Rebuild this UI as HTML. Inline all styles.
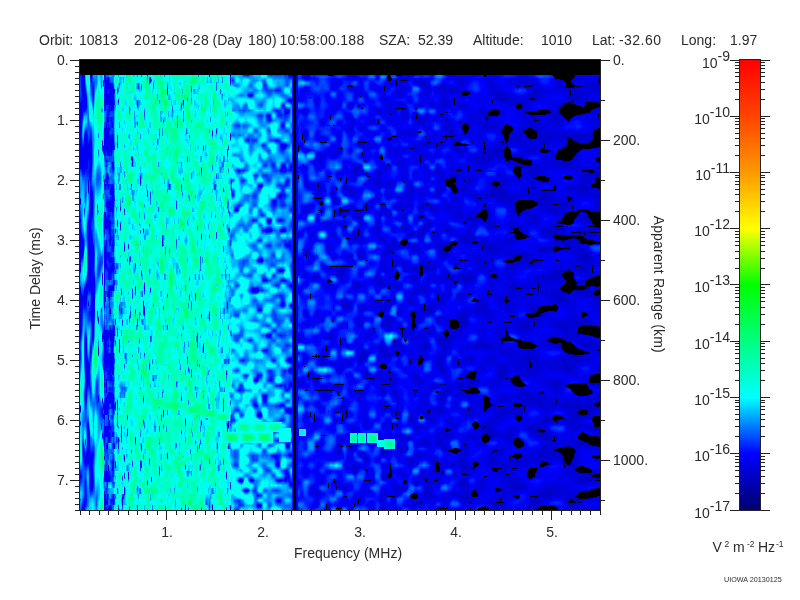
<!DOCTYPE html>
<html><head><meta charset="utf-8"><style>
html,body{margin:0;padding:0;background:#fff;width:800px;height:600px;overflow:hidden}
#spec{position:absolute;left:80px;top:60px;width:520px;height:450px;background:
linear-gradient(to bottom,#000 0,#000 15px,transparent 15px),
linear-gradient(to right,#0061f8 0px,#0061f8 8px,#006bf7 8px,#006bf7 16px,#00c9e9 16px,#00c9e9 24px,#002bfa 24px,#002bfa 34px,#00e7df 34px,#00e7df 60px,#00f3d1 60px,#00f3d1 90px,#00f6ce 90px,#00f6ce 120px,#00f0da 120px,#00f0da 150px,#00c4f9 150px,#00c4f9 165px,#00bafa 165px,#00bafa 180px,#00a6fb 180px,#00a6fb 195px,#007dfd 195px,#007dfd 213px,#000000 213px,#000000 216px,#0021f5 216px,#0021f5 250px,#0019ef 250px,#0019ef 290px,#0010e9 290px,#0010e9 340px,#0007e1 340px,#0007e1 380px,#0002d9 380px,#0002d9 420px,#0001ca 420px,#0001ca 460px,#0000c3 460px,#0000c3 490px,#0000ac 490px,#0000ac 520px)}
canvas{position:absolute;left:80px;top:60px}
svg{position:absolute;left:0;top:0}
text{font-family:"Liberation Sans",sans-serif;fill:#2b2b2b}
</style></head><body>
<div id="spec"></div><canvas id="cv" width="520" height="450"></canvas>
<svg width="800" height="600" viewBox="0 0 800 600"><defs><linearGradient id="cb" x1="0" y1="0" x2="0" y2="1"><stop offset="0" stop-color="#ff0000"/><stop offset="0.125" stop-color="#ff4400"/><stop offset="0.25" stop-color="#ff9900"/><stop offset="0.375" stop-color="#ffff00"/><stop offset="0.5" stop-color="#00ff00"/><stop offset="0.625" stop-color="#00ff80"/><stop offset="0.75" stop-color="#00ffff"/><stop offset="0.875" stop-color="#0000ff"/><stop offset="1" stop-color="#000070"/></linearGradient></defs><rect x="79.5" y="59.5" width="521" height="451" fill="none" stroke="#222" stroke-width="1"/><line x1="70" y1="60.5" x2="80" y2="60.5" stroke="#222" stroke-width="1"/><line x1="75" y1="66.5" x2="80" y2="66.5" stroke="#222" stroke-width="1"/><line x1="75" y1="72.5" x2="80" y2="72.5" stroke="#222" stroke-width="1"/><line x1="75" y1="78.5" x2="80" y2="78.5" stroke="#222" stroke-width="1"/><line x1="75" y1="84.5" x2="80" y2="84.5" stroke="#222" stroke-width="1"/><line x1="75" y1="90.5" x2="80" y2="90.5" stroke="#222" stroke-width="1"/><line x1="75" y1="96.5" x2="80" y2="96.5" stroke="#222" stroke-width="1"/><line x1="75" y1="102.5" x2="80" y2="102.5" stroke="#222" stroke-width="1"/><line x1="75" y1="108.5" x2="80" y2="108.5" stroke="#222" stroke-width="1"/><line x1="75" y1="114.5" x2="80" y2="114.5" stroke="#222" stroke-width="1"/><line x1="70" y1="120.5" x2="80" y2="120.5" stroke="#222" stroke-width="1"/><line x1="75" y1="126.5" x2="80" y2="126.5" stroke="#222" stroke-width="1"/><line x1="75" y1="132.5" x2="80" y2="132.5" stroke="#222" stroke-width="1"/><line x1="75" y1="138.5" x2="80" y2="138.5" stroke="#222" stroke-width="1"/><line x1="75" y1="144.5" x2="80" y2="144.5" stroke="#222" stroke-width="1"/><line x1="75" y1="150.5" x2="80" y2="150.5" stroke="#222" stroke-width="1"/><line x1="75" y1="156.5" x2="80" y2="156.5" stroke="#222" stroke-width="1"/><line x1="75" y1="162.5" x2="80" y2="162.5" stroke="#222" stroke-width="1"/><line x1="75" y1="168.5" x2="80" y2="168.5" stroke="#222" stroke-width="1"/><line x1="75" y1="174.5" x2="80" y2="174.5" stroke="#222" stroke-width="1"/><line x1="70" y1="180.5" x2="80" y2="180.5" stroke="#222" stroke-width="1"/><line x1="75" y1="186.5" x2="80" y2="186.5" stroke="#222" stroke-width="1"/><line x1="75" y1="192.5" x2="80" y2="192.5" stroke="#222" stroke-width="1"/><line x1="75" y1="198.5" x2="80" y2="198.5" stroke="#222" stroke-width="1"/><line x1="75" y1="204.5" x2="80" y2="204.5" stroke="#222" stroke-width="1"/><line x1="75" y1="210.5" x2="80" y2="210.5" stroke="#222" stroke-width="1"/><line x1="75" y1="216.5" x2="80" y2="216.5" stroke="#222" stroke-width="1"/><line x1="75" y1="222.5" x2="80" y2="222.5" stroke="#222" stroke-width="1"/><line x1="75" y1="228.5" x2="80" y2="228.5" stroke="#222" stroke-width="1"/><line x1="75" y1="234.5" x2="80" y2="234.5" stroke="#222" stroke-width="1"/><line x1="70" y1="240.5" x2="80" y2="240.5" stroke="#222" stroke-width="1"/><line x1="75" y1="246.5" x2="80" y2="246.5" stroke="#222" stroke-width="1"/><line x1="75" y1="252.5" x2="80" y2="252.5" stroke="#222" stroke-width="1"/><line x1="75" y1="258.5" x2="80" y2="258.5" stroke="#222" stroke-width="1"/><line x1="75" y1="264.5" x2="80" y2="264.5" stroke="#222" stroke-width="1"/><line x1="75" y1="270.5" x2="80" y2="270.5" stroke="#222" stroke-width="1"/><line x1="75" y1="276.5" x2="80" y2="276.5" stroke="#222" stroke-width="1"/><line x1="75" y1="282.5" x2="80" y2="282.5" stroke="#222" stroke-width="1"/><line x1="75" y1="288.5" x2="80" y2="288.5" stroke="#222" stroke-width="1"/><line x1="75" y1="294.5" x2="80" y2="294.5" stroke="#222" stroke-width="1"/><line x1="70" y1="300.5" x2="80" y2="300.5" stroke="#222" stroke-width="1"/><line x1="75" y1="306.5" x2="80" y2="306.5" stroke="#222" stroke-width="1"/><line x1="75" y1="312.5" x2="80" y2="312.5" stroke="#222" stroke-width="1"/><line x1="75" y1="318.5" x2="80" y2="318.5" stroke="#222" stroke-width="1"/><line x1="75" y1="324.5" x2="80" y2="324.5" stroke="#222" stroke-width="1"/><line x1="75" y1="330.5" x2="80" y2="330.5" stroke="#222" stroke-width="1"/><line x1="75" y1="336.5" x2="80" y2="336.5" stroke="#222" stroke-width="1"/><line x1="75" y1="342.5" x2="80" y2="342.5" stroke="#222" stroke-width="1"/><line x1="75" y1="348.5" x2="80" y2="348.5" stroke="#222" stroke-width="1"/><line x1="75" y1="354.5" x2="80" y2="354.5" stroke="#222" stroke-width="1"/><line x1="70" y1="360.5" x2="80" y2="360.5" stroke="#222" stroke-width="1"/><line x1="75" y1="366.5" x2="80" y2="366.5" stroke="#222" stroke-width="1"/><line x1="75" y1="372.5" x2="80" y2="372.5" stroke="#222" stroke-width="1"/><line x1="75" y1="378.5" x2="80" y2="378.5" stroke="#222" stroke-width="1"/><line x1="75" y1="384.5" x2="80" y2="384.5" stroke="#222" stroke-width="1"/><line x1="75" y1="390.5" x2="80" y2="390.5" stroke="#222" stroke-width="1"/><line x1="75" y1="396.5" x2="80" y2="396.5" stroke="#222" stroke-width="1"/><line x1="75" y1="402.5" x2="80" y2="402.5" stroke="#222" stroke-width="1"/><line x1="75" y1="408.5" x2="80" y2="408.5" stroke="#222" stroke-width="1"/><line x1="75" y1="414.5" x2="80" y2="414.5" stroke="#222" stroke-width="1"/><line x1="70" y1="420.5" x2="80" y2="420.5" stroke="#222" stroke-width="1"/><line x1="75" y1="426.5" x2="80" y2="426.5" stroke="#222" stroke-width="1"/><line x1="75" y1="432.5" x2="80" y2="432.5" stroke="#222" stroke-width="1"/><line x1="75" y1="438.5" x2="80" y2="438.5" stroke="#222" stroke-width="1"/><line x1="75" y1="444.5" x2="80" y2="444.5" stroke="#222" stroke-width="1"/><line x1="75" y1="450.5" x2="80" y2="450.5" stroke="#222" stroke-width="1"/><line x1="75" y1="456.5" x2="80" y2="456.5" stroke="#222" stroke-width="1"/><line x1="75" y1="462.5" x2="80" y2="462.5" stroke="#222" stroke-width="1"/><line x1="75" y1="468.5" x2="80" y2="468.5" stroke="#222" stroke-width="1"/><line x1="75" y1="474.5" x2="80" y2="474.5" stroke="#222" stroke-width="1"/><line x1="70" y1="480.5" x2="80" y2="480.5" stroke="#222" stroke-width="1"/><line x1="75" y1="486.5" x2="80" y2="486.5" stroke="#222" stroke-width="1"/><line x1="75" y1="492.5" x2="80" y2="492.5" stroke="#222" stroke-width="1"/><line x1="75" y1="498.5" x2="80" y2="498.5" stroke="#222" stroke-width="1"/><line x1="75" y1="504.5" x2="80" y2="504.5" stroke="#222" stroke-width="1"/><line x1="75" y1="510.5" x2="80" y2="510.5" stroke="#222" stroke-width="1"/><text x="68.6" y="65" font-size="14" text-anchor="end" >0.</text><text x="68.6" y="125" font-size="14" text-anchor="end" >1.</text><text x="68.6" y="185" font-size="14" text-anchor="end" >2.</text><text x="68.6" y="245" font-size="14" text-anchor="end" >3.</text><text x="68.6" y="305" font-size="14" text-anchor="end" >4.</text><text x="68.6" y="365" font-size="14" text-anchor="end" >5.</text><text x="68.6" y="425" font-size="14" text-anchor="end" >6.</text><text x="68.6" y="485" font-size="14" text-anchor="end" >7.</text><line x1="80.5" y1="510" x2="80.5" y2="515" stroke="#222" stroke-width="1"/><line x1="89.5" y1="510" x2="89.5" y2="515" stroke="#222" stroke-width="1"/><line x1="99.5" y1="510" x2="99.5" y2="515" stroke="#222" stroke-width="1"/><line x1="108.5" y1="510" x2="108.5" y2="515" stroke="#222" stroke-width="1"/><line x1="118.5" y1="510" x2="118.5" y2="515" stroke="#222" stroke-width="1"/><line x1="128.5" y1="510" x2="128.5" y2="515" stroke="#222" stroke-width="1"/><line x1="137.5" y1="510" x2="137.5" y2="515" stroke="#222" stroke-width="1"/><line x1="147.5" y1="510" x2="147.5" y2="515" stroke="#222" stroke-width="1"/><line x1="157.5" y1="510" x2="157.5" y2="515" stroke="#222" stroke-width="1"/><line x1="166.5" y1="510" x2="166.5" y2="520" stroke="#222" stroke-width="1"/><text x="167.0" y="537" font-size="14" text-anchor="middle" >1.</text><line x1="176.5" y1="510" x2="176.5" y2="515" stroke="#222" stroke-width="1"/><line x1="185.5" y1="510" x2="185.5" y2="515" stroke="#222" stroke-width="1"/><line x1="195.5" y1="510" x2="195.5" y2="515" stroke="#222" stroke-width="1"/><line x1="205.5" y1="510" x2="205.5" y2="515" stroke="#222" stroke-width="1"/><line x1="214.5" y1="510" x2="214.5" y2="515" stroke="#222" stroke-width="1"/><line x1="224.5" y1="510" x2="224.5" y2="515" stroke="#222" stroke-width="1"/><line x1="234.5" y1="510" x2="234.5" y2="515" stroke="#222" stroke-width="1"/><line x1="243.5" y1="510" x2="243.5" y2="515" stroke="#222" stroke-width="1"/><line x1="253.5" y1="510" x2="253.5" y2="515" stroke="#222" stroke-width="1"/><line x1="262.5" y1="510" x2="262.5" y2="520" stroke="#222" stroke-width="1"/><text x="263.0" y="537" font-size="14" text-anchor="middle" >2.</text><line x1="272.5" y1="510" x2="272.5" y2="515" stroke="#222" stroke-width="1"/><line x1="282.5" y1="510" x2="282.5" y2="515" stroke="#222" stroke-width="1"/><line x1="291.5" y1="510" x2="291.5" y2="515" stroke="#222" stroke-width="1"/><line x1="301.5" y1="510" x2="301.5" y2="515" stroke="#222" stroke-width="1"/><line x1="311.5" y1="510" x2="311.5" y2="515" stroke="#222" stroke-width="1"/><line x1="320.5" y1="510" x2="320.5" y2="515" stroke="#222" stroke-width="1"/><line x1="330.5" y1="510" x2="330.5" y2="515" stroke="#222" stroke-width="1"/><line x1="340.5" y1="510" x2="340.5" y2="515" stroke="#222" stroke-width="1"/><line x1="349.5" y1="510" x2="349.5" y2="515" stroke="#222" stroke-width="1"/><line x1="359.5" y1="510" x2="359.5" y2="520" stroke="#222" stroke-width="1"/><text x="360.0" y="537" font-size="14" text-anchor="middle" >3.</text><line x1="368.5" y1="510" x2="368.5" y2="515" stroke="#222" stroke-width="1"/><line x1="378.5" y1="510" x2="378.5" y2="515" stroke="#222" stroke-width="1"/><line x1="388.5" y1="510" x2="388.5" y2="515" stroke="#222" stroke-width="1"/><line x1="397.5" y1="510" x2="397.5" y2="515" stroke="#222" stroke-width="1"/><line x1="407.5" y1="510" x2="407.5" y2="515" stroke="#222" stroke-width="1"/><line x1="417.5" y1="510" x2="417.5" y2="515" stroke="#222" stroke-width="1"/><line x1="426.5" y1="510" x2="426.5" y2="515" stroke="#222" stroke-width="1"/><line x1="436.5" y1="510" x2="436.5" y2="515" stroke="#222" stroke-width="1"/><line x1="445.5" y1="510" x2="445.5" y2="515" stroke="#222" stroke-width="1"/><line x1="455.5" y1="510" x2="455.5" y2="520" stroke="#222" stroke-width="1"/><text x="456.0" y="537" font-size="14" text-anchor="middle" >4.</text><line x1="465.5" y1="510" x2="465.5" y2="515" stroke="#222" stroke-width="1"/><line x1="474.5" y1="510" x2="474.5" y2="515" stroke="#222" stroke-width="1"/><line x1="484.5" y1="510" x2="484.5" y2="515" stroke="#222" stroke-width="1"/><line x1="494.5" y1="510" x2="494.5" y2="515" stroke="#222" stroke-width="1"/><line x1="503.5" y1="510" x2="503.5" y2="515" stroke="#222" stroke-width="1"/><line x1="513.5" y1="510" x2="513.5" y2="515" stroke="#222" stroke-width="1"/><line x1="522.5" y1="510" x2="522.5" y2="515" stroke="#222" stroke-width="1"/><line x1="532.5" y1="510" x2="532.5" y2="515" stroke="#222" stroke-width="1"/><line x1="542.5" y1="510" x2="542.5" y2="515" stroke="#222" stroke-width="1"/><line x1="551.5" y1="510" x2="551.5" y2="520" stroke="#222" stroke-width="1"/><text x="552.0" y="537" font-size="14" text-anchor="middle" >5.</text><line x1="561.5" y1="510" x2="561.5" y2="515" stroke="#222" stroke-width="1"/><line x1="571.5" y1="510" x2="571.5" y2="515" stroke="#222" stroke-width="1"/><line x1="580.5" y1="510" x2="580.5" y2="515" stroke="#222" stroke-width="1"/><line x1="590.5" y1="510" x2="590.5" y2="515" stroke="#222" stroke-width="1"/><line x1="600.5" y1="510" x2="600.5" y2="515" stroke="#222" stroke-width="1"/><line x1="600" y1="60.5" x2="610" y2="60.5" stroke="#222" stroke-width="1"/><text x="613" y="65.0" font-size="14" text-anchor="start" >0.</text><line x1="600" y1="100.5" x2="605" y2="100.5" stroke="#222" stroke-width="1"/><line x1="600" y1="140.5" x2="610" y2="140.5" stroke="#222" stroke-width="1"/><text x="613" y="145.0" font-size="14" text-anchor="start" >200.</text><line x1="600" y1="180.5" x2="605" y2="180.5" stroke="#222" stroke-width="1"/><line x1="600" y1="220.5" x2="610" y2="220.5" stroke="#222" stroke-width="1"/><text x="613" y="225.0" font-size="14" text-anchor="start" >400.</text><line x1="600" y1="260.5" x2="605" y2="260.5" stroke="#222" stroke-width="1"/><line x1="600" y1="300.5" x2="610" y2="300.5" stroke="#222" stroke-width="1"/><text x="613" y="305.0" font-size="14" text-anchor="start" >600.</text><line x1="600" y1="340.5" x2="605" y2="340.5" stroke="#222" stroke-width="1"/><line x1="600" y1="380.5" x2="610" y2="380.5" stroke="#222" stroke-width="1"/><text x="613" y="385.0" font-size="14" text-anchor="start" >800.</text><line x1="600" y1="420.5" x2="605" y2="420.5" stroke="#222" stroke-width="1"/><line x1="600" y1="460.5" x2="610" y2="460.5" stroke="#222" stroke-width="1"/><text x="613" y="465.0" font-size="14" text-anchor="start" >1000.</text><line x1="600" y1="500.5" x2="605" y2="500.5" stroke="#222" stroke-width="1"/><text x="348" y="558" font-size="14" text-anchor="middle" >Frequency (MHz)</text><text x="0" y="0" font-size="14" text-anchor="middle" transform="translate(39.5,278.5) rotate(-90)">Time Delay (ms)</text><text x="0" y="0" font-size="14" text-anchor="middle" transform="translate(654,284.25) rotate(90)" letter-spacing="0.18">Apparent Range (km)</text><text x="39" y="45" font-size="14" letter-spacing="0">Orbit:</text><text x="79" y="45" font-size="14" letter-spacing="0">10813</text><text x="134" y="45" font-size="14" letter-spacing="0.35">2012-06-28</text><text x="212.5" y="45" font-size="14" letter-spacing="0">(Day</text><text x="248" y="45" font-size="14" letter-spacing="0.2">180)</text><text x="279.5" y="45" font-size="14" letter-spacing="0.27">10:58:00.188</text><text x="379" y="45" font-size="14" letter-spacing="0">SZA:</text><text x="418" y="45" font-size="14" letter-spacing="0">52.39</text><text x="473" y="45" font-size="14" letter-spacing="0">Altitude:</text><text x="541" y="45" font-size="14" letter-spacing="0">1010</text><text x="592" y="45" font-size="14" letter-spacing="0">Lat:</text><text x="619" y="45" font-size="14" letter-spacing="0.45">-32.60</text><text x="681" y="45" font-size="14" letter-spacing="0">Long:</text><text x="730" y="45" font-size="14" letter-spacing="0">1.97</text><rect x="740" y="60" width="20" height="450" fill="url(#cb)"/><rect x="739.5" y="59.5" width="21" height="451" fill="none" stroke="#222"/><rect x="740" y="509" width="20" height="1" fill="#111"/><line x1="730" y1="60.5" x2="740" y2="60.5" stroke="#222" stroke-width="1"/><line x1="760" y1="60.5" x2="770" y2="60.5" stroke="#222" stroke-width="1"/><line x1="735" y1="99.5" x2="740" y2="99.5" stroke="#222" stroke-width="1"/><line x1="760" y1="99.5" x2="765" y2="99.5" stroke="#222" stroke-width="1"/><line x1="735" y1="89.5" x2="740" y2="89.5" stroke="#222" stroke-width="1"/><line x1="760" y1="89.5" x2="765" y2="89.5" stroke="#222" stroke-width="1"/><line x1="735" y1="82.5" x2="740" y2="82.5" stroke="#222" stroke-width="1"/><line x1="760" y1="82.5" x2="765" y2="82.5" stroke="#222" stroke-width="1"/><line x1="735" y1="76.5" x2="740" y2="76.5" stroke="#222" stroke-width="1"/><line x1="760" y1="76.5" x2="765" y2="76.5" stroke="#222" stroke-width="1"/><line x1="735" y1="72.5" x2="740" y2="72.5" stroke="#222" stroke-width="1"/><line x1="760" y1="72.5" x2="765" y2="72.5" stroke="#222" stroke-width="1"/><line x1="735" y1="68.5" x2="740" y2="68.5" stroke="#222" stroke-width="1"/><line x1="760" y1="68.5" x2="765" y2="68.5" stroke="#222" stroke-width="1"/><line x1="735" y1="65.5" x2="740" y2="65.5" stroke="#222" stroke-width="1"/><line x1="760" y1="65.5" x2="765" y2="65.5" stroke="#222" stroke-width="1"/><line x1="735" y1="62.5" x2="740" y2="62.5" stroke="#222" stroke-width="1"/><line x1="760" y1="62.5" x2="765" y2="62.5" stroke="#222" stroke-width="1"/><text x="730" y="68.0" font-size="14" text-anchor="end">10<tspan dy="-7.5">-9</tspan></text><line x1="730" y1="116.5" x2="740" y2="116.5" stroke="#222" stroke-width="1"/><line x1="760" y1="116.5" x2="770" y2="116.5" stroke="#222" stroke-width="1"/><line x1="735" y1="155.5" x2="740" y2="155.5" stroke="#222" stroke-width="1"/><line x1="760" y1="155.5" x2="765" y2="155.5" stroke="#222" stroke-width="1"/><line x1="735" y1="145.5" x2="740" y2="145.5" stroke="#222" stroke-width="1"/><line x1="760" y1="145.5" x2="765" y2="145.5" stroke="#222" stroke-width="1"/><line x1="735" y1="138.5" x2="740" y2="138.5" stroke="#222" stroke-width="1"/><line x1="760" y1="138.5" x2="765" y2="138.5" stroke="#222" stroke-width="1"/><line x1="735" y1="133.5" x2="740" y2="133.5" stroke="#222" stroke-width="1"/><line x1="760" y1="133.5" x2="765" y2="133.5" stroke="#222" stroke-width="1"/><line x1="735" y1="128.5" x2="740" y2="128.5" stroke="#222" stroke-width="1"/><line x1="760" y1="128.5" x2="765" y2="128.5" stroke="#222" stroke-width="1"/><line x1="735" y1="124.5" x2="740" y2="124.5" stroke="#222" stroke-width="1"/><line x1="760" y1="124.5" x2="765" y2="124.5" stroke="#222" stroke-width="1"/><line x1="735" y1="121.5" x2="740" y2="121.5" stroke="#222" stroke-width="1"/><line x1="760" y1="121.5" x2="765" y2="121.5" stroke="#222" stroke-width="1"/><line x1="735" y1="118.5" x2="740" y2="118.5" stroke="#222" stroke-width="1"/><line x1="760" y1="118.5" x2="765" y2="118.5" stroke="#222" stroke-width="1"/><text x="730" y="124.0" font-size="14" text-anchor="end">10<tspan dy="-7.5">-10</tspan></text><line x1="730" y1="172.5" x2="740" y2="172.5" stroke="#222" stroke-width="1"/><line x1="760" y1="172.5" x2="770" y2="172.5" stroke="#222" stroke-width="1"/><line x1="735" y1="211.5" x2="740" y2="211.5" stroke="#222" stroke-width="1"/><line x1="760" y1="211.5" x2="765" y2="211.5" stroke="#222" stroke-width="1"/><line x1="735" y1="201.5" x2="740" y2="201.5" stroke="#222" stroke-width="1"/><line x1="760" y1="201.5" x2="765" y2="201.5" stroke="#222" stroke-width="1"/><line x1="735" y1="194.5" x2="740" y2="194.5" stroke="#222" stroke-width="1"/><line x1="760" y1="194.5" x2="765" y2="194.5" stroke="#222" stroke-width="1"/><line x1="735" y1="189.5" x2="740" y2="189.5" stroke="#222" stroke-width="1"/><line x1="760" y1="189.5" x2="765" y2="189.5" stroke="#222" stroke-width="1"/><line x1="735" y1="184.5" x2="740" y2="184.5" stroke="#222" stroke-width="1"/><line x1="760" y1="184.5" x2="765" y2="184.5" stroke="#222" stroke-width="1"/><line x1="735" y1="181.5" x2="740" y2="181.5" stroke="#222" stroke-width="1"/><line x1="760" y1="181.5" x2="765" y2="181.5" stroke="#222" stroke-width="1"/><line x1="735" y1="177.5" x2="740" y2="177.5" stroke="#222" stroke-width="1"/><line x1="760" y1="177.5" x2="765" y2="177.5" stroke="#222" stroke-width="1"/><line x1="735" y1="175.5" x2="740" y2="175.5" stroke="#222" stroke-width="1"/><line x1="760" y1="175.5" x2="765" y2="175.5" stroke="#222" stroke-width="1"/><text x="730" y="180.0" font-size="14" text-anchor="end">10<tspan dy="-7.5">-11</tspan></text><line x1="730" y1="228.5" x2="740" y2="228.5" stroke="#222" stroke-width="1"/><line x1="760" y1="228.5" x2="770" y2="228.5" stroke="#222" stroke-width="1"/><line x1="735" y1="268.5" x2="740" y2="268.5" stroke="#222" stroke-width="1"/><line x1="760" y1="268.5" x2="765" y2="268.5" stroke="#222" stroke-width="1"/><line x1="735" y1="258.5" x2="740" y2="258.5" stroke="#222" stroke-width="1"/><line x1="760" y1="258.5" x2="765" y2="258.5" stroke="#222" stroke-width="1"/><line x1="735" y1="251.5" x2="740" y2="251.5" stroke="#222" stroke-width="1"/><line x1="760" y1="251.5" x2="765" y2="251.5" stroke="#222" stroke-width="1"/><line x1="735" y1="245.5" x2="740" y2="245.5" stroke="#222" stroke-width="1"/><line x1="760" y1="245.5" x2="765" y2="245.5" stroke="#222" stroke-width="1"/><line x1="735" y1="241.5" x2="740" y2="241.5" stroke="#222" stroke-width="1"/><line x1="760" y1="241.5" x2="765" y2="241.5" stroke="#222" stroke-width="1"/><line x1="735" y1="237.5" x2="740" y2="237.5" stroke="#222" stroke-width="1"/><line x1="760" y1="237.5" x2="765" y2="237.5" stroke="#222" stroke-width="1"/><line x1="735" y1="234.5" x2="740" y2="234.5" stroke="#222" stroke-width="1"/><line x1="760" y1="234.5" x2="765" y2="234.5" stroke="#222" stroke-width="1"/><line x1="735" y1="231.5" x2="740" y2="231.5" stroke="#222" stroke-width="1"/><line x1="760" y1="231.5" x2="765" y2="231.5" stroke="#222" stroke-width="1"/><text x="730" y="236.0" font-size="14" text-anchor="end">10<tspan dy="-7.5">-12</tspan></text><line x1="730" y1="284.5" x2="740" y2="284.5" stroke="#222" stroke-width="1"/><line x1="760" y1="284.5" x2="770" y2="284.5" stroke="#222" stroke-width="1"/><line x1="735" y1="324.5" x2="740" y2="324.5" stroke="#222" stroke-width="1"/><line x1="760" y1="324.5" x2="765" y2="324.5" stroke="#222" stroke-width="1"/><line x1="735" y1="314.5" x2="740" y2="314.5" stroke="#222" stroke-width="1"/><line x1="760" y1="314.5" x2="765" y2="314.5" stroke="#222" stroke-width="1"/><line x1="735" y1="307.5" x2="740" y2="307.5" stroke="#222" stroke-width="1"/><line x1="760" y1="307.5" x2="765" y2="307.5" stroke="#222" stroke-width="1"/><line x1="735" y1="301.5" x2="740" y2="301.5" stroke="#222" stroke-width="1"/><line x1="760" y1="301.5" x2="765" y2="301.5" stroke="#222" stroke-width="1"/><line x1="735" y1="297.5" x2="740" y2="297.5" stroke="#222" stroke-width="1"/><line x1="760" y1="297.5" x2="765" y2="297.5" stroke="#222" stroke-width="1"/><line x1="735" y1="293.5" x2="740" y2="293.5" stroke="#222" stroke-width="1"/><line x1="760" y1="293.5" x2="765" y2="293.5" stroke="#222" stroke-width="1"/><line x1="735" y1="290.5" x2="740" y2="290.5" stroke="#222" stroke-width="1"/><line x1="760" y1="290.5" x2="765" y2="290.5" stroke="#222" stroke-width="1"/><line x1="735" y1="287.5" x2="740" y2="287.5" stroke="#222" stroke-width="1"/><line x1="760" y1="287.5" x2="765" y2="287.5" stroke="#222" stroke-width="1"/><text x="730" y="292.0" font-size="14" text-anchor="end">10<tspan dy="-7.5">-13</tspan></text><line x1="730" y1="341.5" x2="740" y2="341.5" stroke="#222" stroke-width="1"/><line x1="760" y1="341.5" x2="770" y2="341.5" stroke="#222" stroke-width="1"/><line x1="735" y1="380.5" x2="740" y2="380.5" stroke="#222" stroke-width="1"/><line x1="760" y1="380.5" x2="765" y2="380.5" stroke="#222" stroke-width="1"/><line x1="735" y1="370.5" x2="740" y2="370.5" stroke="#222" stroke-width="1"/><line x1="760" y1="370.5" x2="765" y2="370.5" stroke="#222" stroke-width="1"/><line x1="735" y1="363.5" x2="740" y2="363.5" stroke="#222" stroke-width="1"/><line x1="760" y1="363.5" x2="765" y2="363.5" stroke="#222" stroke-width="1"/><line x1="735" y1="358.5" x2="740" y2="358.5" stroke="#222" stroke-width="1"/><line x1="760" y1="358.5" x2="765" y2="358.5" stroke="#222" stroke-width="1"/><line x1="735" y1="353.5" x2="740" y2="353.5" stroke="#222" stroke-width="1"/><line x1="760" y1="353.5" x2="765" y2="353.5" stroke="#222" stroke-width="1"/><line x1="735" y1="349.5" x2="740" y2="349.5" stroke="#222" stroke-width="1"/><line x1="760" y1="349.5" x2="765" y2="349.5" stroke="#222" stroke-width="1"/><line x1="735" y1="346.5" x2="740" y2="346.5" stroke="#222" stroke-width="1"/><line x1="760" y1="346.5" x2="765" y2="346.5" stroke="#222" stroke-width="1"/><line x1="735" y1="343.5" x2="740" y2="343.5" stroke="#222" stroke-width="1"/><line x1="760" y1="343.5" x2="765" y2="343.5" stroke="#222" stroke-width="1"/><text x="730" y="349.0" font-size="14" text-anchor="end">10<tspan dy="-7.5">-14</tspan></text><line x1="730" y1="397.5" x2="740" y2="397.5" stroke="#222" stroke-width="1"/><line x1="760" y1="397.5" x2="770" y2="397.5" stroke="#222" stroke-width="1"/><line x1="735" y1="436.5" x2="740" y2="436.5" stroke="#222" stroke-width="1"/><line x1="760" y1="436.5" x2="765" y2="436.5" stroke="#222" stroke-width="1"/><line x1="735" y1="426.5" x2="740" y2="426.5" stroke="#222" stroke-width="1"/><line x1="760" y1="426.5" x2="765" y2="426.5" stroke="#222" stroke-width="1"/><line x1="735" y1="419.5" x2="740" y2="419.5" stroke="#222" stroke-width="1"/><line x1="760" y1="419.5" x2="765" y2="419.5" stroke="#222" stroke-width="1"/><line x1="735" y1="414.5" x2="740" y2="414.5" stroke="#222" stroke-width="1"/><line x1="760" y1="414.5" x2="765" y2="414.5" stroke="#222" stroke-width="1"/><line x1="735" y1="409.5" x2="740" y2="409.5" stroke="#222" stroke-width="1"/><line x1="760" y1="409.5" x2="765" y2="409.5" stroke="#222" stroke-width="1"/><line x1="735" y1="406.5" x2="740" y2="406.5" stroke="#222" stroke-width="1"/><line x1="760" y1="406.5" x2="765" y2="406.5" stroke="#222" stroke-width="1"/><line x1="735" y1="402.5" x2="740" y2="402.5" stroke="#222" stroke-width="1"/><line x1="760" y1="402.5" x2="765" y2="402.5" stroke="#222" stroke-width="1"/><line x1="735" y1="400.5" x2="740" y2="400.5" stroke="#222" stroke-width="1"/><line x1="760" y1="400.5" x2="765" y2="400.5" stroke="#222" stroke-width="1"/><text x="730" y="405.0" font-size="14" text-anchor="end">10<tspan dy="-7.5">-15</tspan></text><line x1="730" y1="453.5" x2="740" y2="453.5" stroke="#222" stroke-width="1"/><line x1="760" y1="453.5" x2="770" y2="453.5" stroke="#222" stroke-width="1"/><line x1="735" y1="493.5" x2="740" y2="493.5" stroke="#222" stroke-width="1"/><line x1="760" y1="493.5" x2="765" y2="493.5" stroke="#222" stroke-width="1"/><line x1="735" y1="483.5" x2="740" y2="483.5" stroke="#222" stroke-width="1"/><line x1="760" y1="483.5" x2="765" y2="483.5" stroke="#222" stroke-width="1"/><line x1="735" y1="476.5" x2="740" y2="476.5" stroke="#222" stroke-width="1"/><line x1="760" y1="476.5" x2="765" y2="476.5" stroke="#222" stroke-width="1"/><line x1="735" y1="470.5" x2="740" y2="470.5" stroke="#222" stroke-width="1"/><line x1="760" y1="470.5" x2="765" y2="470.5" stroke="#222" stroke-width="1"/><line x1="735" y1="466.5" x2="740" y2="466.5" stroke="#222" stroke-width="1"/><line x1="760" y1="466.5" x2="765" y2="466.5" stroke="#222" stroke-width="1"/><line x1="735" y1="462.5" x2="740" y2="462.5" stroke="#222" stroke-width="1"/><line x1="760" y1="462.5" x2="765" y2="462.5" stroke="#222" stroke-width="1"/><line x1="735" y1="459.5" x2="740" y2="459.5" stroke="#222" stroke-width="1"/><line x1="760" y1="459.5" x2="765" y2="459.5" stroke="#222" stroke-width="1"/><line x1="735" y1="456.5" x2="740" y2="456.5" stroke="#222" stroke-width="1"/><line x1="760" y1="456.5" x2="765" y2="456.5" stroke="#222" stroke-width="1"/><text x="730" y="461.0" font-size="14" text-anchor="end">10<tspan dy="-7.5">-16</tspan></text><line x1="730" y1="510.5" x2="740" y2="510.5" stroke="#222" stroke-width="1"/><line x1="760" y1="510.5" x2="770" y2="510.5" stroke="#222" stroke-width="1"/><text x="730" y="518.0" font-size="14" text-anchor="end">10<tspan dy="-7.5">-17</tspan></text><text x="712.5" y="552" font-size="14">V</text><text x="724.5" y="547" font-size="8.5">2</text><text x="733" y="552" font-size="14">m</text><text x="747" y="547" font-size="8.5">-2</text><text x="758" y="552" font-size="14">Hz</text><text x="776" y="547" font-size="8.5">-1</text><text x="724" y="582" font-size="7.2" text-anchor="start" >UIOWA 20130125</text></svg>
<script>
(function(){var D="AAAAAAAAAAAAAAAAAAAAAAAAAAAAAAAAAAAAAAAAAAAAAAAAAAAAAAAAAAAAAAAAAAAAAAAAAAAAAAAAAAAAAAAAAAAAAAAAAAAAAAAAAAAAAAAAAAAAAAAAAAAAAAAAAAAAAAAAAAAAAAAAAAAAAAAAAAAAAAAAAAAAAAAAAAAAAAAAAAAAAAAAAAAAAAAAAAAAAAAAAAAAAAAAAAAAAAAAAAAAAAAAAAAAAAAAAAAAAAAAAAAAAAAAAAAAAAAAAAAAAAAAAAAAAAAAAAAAAAAAAAAAAAAAAAAAAAAAAAAAAAAAAAAAAAAAAAAAAAAAAAAAAAAAAAAAAAAAAAAAAAAAAAAAAAAAAAAAAAAAAAAAAAAAAAAAAAAAAAAAAAAAAAAAAAAAAAAAAAAAAAAAAAAAAAAAAAAAAAAAAAAAAAAAAAAAAAAAAAAAAAAAAAAAAAAAAAAAAAAAAAAAAAAAAAAAAAAAAAAAAAAAAAAAAAAAAAAAAAAAAAAAAAAAAAAAAAAAAAAAAAAAAAAAAAAAAAAAAAAAAAAAAAAAAAAAAAAAAAAAAAAAAAAAAAAAAAAAAAAAAAAAAAAAAAAAAAAAAAAAAAAAAAAAAAAAAAAAAAAAAAAAAAAAAAAAAAAAAAAAAAAAAAAAAAAAAAAAAAAAAAAAAAAAAAAAAAAAAAAAAAAAAAAAAAAAAAAAAAAAAAAAAAAAAAAAAAAAAAAAAAAAAAAAAAAAAAAAAAAAAAAAAAAAAAAAAAAAAAAAAAAAAAAAAAAAAAAAAAAAAAAAAAAAAAAAAAAAAAAAAAAAAAAAAAAAAAAAAAAAAAAAAAAAAAAAAAAAAAAAAAAAAAAAAAAAAAAAAAAAAAAAAAAAAAAAAAAAAAAAAAAAAAAAAAAAAAAAAAAAAAAAAAAAAAAAAAAAAAAAAAAAAAAAAAAAAAAAAAAAAAAAAAAAAAAAAAAAAAAAAAAAAAAAAAAAAAAAAAAAAAAAAAAAAAAAAAAAAAAAAAAAAAAAAAAAAAAAAAAAAAAAAAAAAAAAAAAAAAAAAAAAAAAAAAAAAAAAAAAAAAAAAAAAAAAAAAAAAAAAAAAAAAAAAAAAAAAAAAAAAAAAAAAAAAAAAAAAAAAAAAAAAAAAAAAAAAAAAAAAAAAAAAAAAAAAAAAAAAAAAAAAAAAAAAAAAAAAAAAAAAAAAAAAAAAAAAAAAAAAAAAAAAAAAAAAAAAAAAAAAAAAAAAAAAAAAAAAAAAAAAAAAAAAAAAAAAAAAAAAAAAAAAAAAAAAAAAAAAAAAAAAAAAAAAAAAAAAAAAAAAAAAAAAAAAAAAAAAAAAAAAAAAAAAAAAAAAAAAAAAAAAAAAAAAAAAAAAAAAAAAAAAAAAAAAAAAAAAAAAAAAAAAAAAAAAAAAAAAAAAAAAAAAAAAAAAAAAAAAAAAAAAAAAAAAAAAAAAAAAAAAAAAAAAAAAAAAAAAAAAAAAAAAAAAAAAAAAAAAAAAAAAAAAAAAAAAAAAAAAAAAAAAAAAAAAAAAAAAAAAAAAAAAAAAAAAAAAAAAAAAAAAAAAAAAAAAAAAAAAAAAAAAAAAAAAAAAAAAAAAAAAAAAAAAAAAAAAAAAAAAAAAAAAAAAAAAAAAAAAAAAAAAAAAAAAAAAAAAAAAAAAAAAAAAAAAAAAAAAAAAAAAAAAAAAAAAAAAAAAAAAAAAAAAAAAAAAAAAAAAAAAAAAAAAAAAAAAAAAAAAAAAAAAAAAAAAAAAAAAAAAAAAAAAAAAAAAAAAAAAAAAAAAAAAAAAAAAAAAAAAAAAAAAAAAAAAAAAAAAAAAAAAAAAAAAAAAAAAAAAAAAAAAAAAAAAAAAAAAAAAAAAAAAAAAAAAAAAAAAAAAAAAAAAAAAAAAAAAAAAAAAAAAAAAAAAAAAAAAAAAAAAAAAAAAAAAAAAAAAAAAAAAAAAAAAAAAAAAAAAAAAAAAAAAAAAAAAAAAAAAAAAAAAAAAAAAAAAAAAAAAAAAAAAAAAAAAAAAAAAAAAAAAAAAAAAAAAAAAAAAAAAAAAAAAAAAAAAAAAAAAAAAAAAAAAAAAAAAAAAAAAAAAAAAAAAAAAAAAAAAAAAAAAAAAAAAAAAAAAAAAAAAAAAAAAAAAAAAAAAAAAAAAAAAAAAAAAAAAAAAAAAAAAAAAAAAAAAAAAAAAAAAAAAAAAAAAAAAAAAAAAAAAAAAAAAAAAAAAAAAAAAAAAAAAAAAAAAAAAAAAAAAAAAAAAAAAAAAAAAAAAAAAAAAAAAAAAAAAAAAAAAAAAAAAAAAAAAAAAAAAAAAAAAAAAAAAAAAAAAAAAAAAAAAAAAAAAAAAAAAAAAAAAAAAAAAAAAAAAAAAAAAAAAAAAAAAAAAAAAAAAAAAAAAAAAAAAAAAAAAAAAAAAAAAAAAAAAAAAAAAAAAAAAAAAAAAAAAAAAAAAAAAAAAAAAAAAAAAAAAAAAAAAAAAAAAAAAAAAAAAAAAAAAAAAAAAAAAAAAAAAAAAAAAAAAAAAAAAAAAAAAAAAAAAAAAAAAAAAAAAAAAAAAAAAAAAAAAAAAAAAAAAAAAAAAAAAAAAAAAAAAAAAAAAAAAAAAAAAAAAAAAAAAAAAAAAAAAAAAAAAAAAAAAAAAAAAAAAAAAAAAAAAAAAAAAAAAAAAAAAAAAAAAAAAAAAAAAAAAAAAAAAAAAAAAAAAAAAAAAAAAAAAAAAAAAAAAAAAAAAAAAAAAAAAAAAAAAAAAAAAAAAAAAAAAAAAAAAAAAAAAAAAAAAAAAAAAAAAAAAAAAAAAAAAAAAAAAAAAAAAAAAAAAAAAAAAAAAAAAAAAAAAAAAAAAAAAAAAAAAAAAAAAAAAAAAAAAAAAAAAAAAAAAAAAAAAAAAAAAAAAAAAAAAAAAAAAAAAAAAAAAAAAAAAAAAAAAAAAAAAAAAAAAAAAAAAAAAAAAAAAAAAAAAAAAAAAAAAAAAAAAAAAAAAAAAAAAAAAAAAAAAAAAAAAAAAAAAAAAAAAAAAAAAAAAAAAAAAAAAAAAAAAAAAAAAAAAAAAAAAAAAAAAAAAAAAAAAAAAAAAAAAAAAAAAAAAAAAAAAAAAAAAAAAAAAAAAAAAAAAAAAAAAAAAAAAAAAAAAAAAAAAAAAAAAAAAAAAAAAAAAAAAAAAAAAAAAAAAAAAAAAAAAAAAAAAAAAAAAAAAAAAAAAAAAAAAAAAAAAAAAAAAAAAAAAAAAAAAAAAAAAAAAAAAAAAAAAAAAAAAAAAAAAAAAAAAAAAAAAAAAAAAAAAAAAAAAAAAAAAAAAAAAAAAAAAAAAAAAAAAAAAAAAAAAAAAAAAAAAAAAAAAAAAAAAAAAAAAAAAAAAAAAAAAAAAAAAAAAAAAAAAAAAAAAAAAAAAAAAAAAAAAAAAAAAAAAAAAAAAAAAAAAAAAAAAAAAAAAAAAAAAAAAAAAAAAAAAAAAAAAAAAAAAAAAAAAAAAAAAAAAAAAAAAAAAAAAAAAAAAAAAAAAAAAAAAAAAAAAAAAAAAAAAAAAAAAAAAAAAAAAAAAAAAAAAAAAAAAAAAAAAAAAAAAAAAAAAAAAAAAAAAAAAAAAAAAAAAAAAAAAAAAAAAAAAAAAAAAAAAAAAAAAAAAAAAAAAAAAAAAAAAAAAAAAAAAAAAAAAAAAAAAAAAAAAAAAAAAAAAAAAAAAAAAAAAAAAAAAAAAAAAAAAAAAAAAAAAAAAAAAAAAAAAAAAAAAAAAAAAAAAAAAAAAAAAAAAAAAAAAAAAAAAAAAAAAAAAAAAAAAAAAAAAAAAAAAAAAAAAAAAAAAAAAAAAAAAAAAAAAAAAAAAAAAAAAAAAAAAAAAAAAAAAAAAAAAAAAAAAAAAAAAAAAAAAAAAAAAAAAAAAAAAAAAAAAAAAAAAAAAAAAAAAAAAAAAAAAAAAAAAAAAAAAAAAAAAAAAAAAAAAAAAAAAAAAAAAAAAAAAAAAAAAAAAAAAAAAAAAAAAAAAAAAAAAAAAAAAAAAAAAAAAAAAAAAAAAAAAAAAAAAAAAAAAAAAAAAAAAAAAAAAAAAAAAAAAAAAAAAAAAAAAAAAAAAAAAAAAAAAAAAAAAAAAAAAAAAAAAAAAAAAAAAAAAAAAAAAAAAAAAAAAAAAAAAAAAAAAAAAAAAAAAAAAAAAAAAAAAAAAAAAAAAAAAAAAAAAAAAAAAAAAAAAAAAAAAAAAAAAAAAAAAAAAAAAAAAAAAAAAAAAAAAAAAAAAAAAAAAAAAAAAAAAAAAAAAAAAAAAAAAAAAAAAAAAAAAAAAAAAAAAAAAAAAAAAAAAAAAAAAAAAAAAAAAAAAAAAAAAAAAAAAAAAAAAAAAAAAAAAAAAAAAAAAAAAAAAAAAAAAAAAAAAAAAAAAAAAAAAAAAAAAAAAAAAAAAAAAAAAAAAAAAAAAAAAAAAAAAAAAAAAAAAAAAAAAAAAAAAAAAAAAAAAAAAAAAAAAAAAAAAAAAAAAAAAAAAAAAAAAAAAAAAAAAAAAAAAAAAAAAAAAAAAAAAAAAAAAAAAAAAAAAAAAAAAAAAAAAAAAAAAAAAAAAAAAAAAAAAAAAAAAAAAAAAAAAAAAAAAAAAAAAAAAAAAAAAAAAAAAAAAAAAAAAAAAAAAAAAAAAAAAAAAAAAAAAAAAAAAAAAAAAAAAAAAAAAAAAAAAAAAAAAAAAAAAAAAAAAAAAAAAAAAAAAAAAAAAAAAAAAAAAAAAAAAAAAAAAAAAAAAAAAAAAAAAAAAAAAAAAAAAAAAAAAAAAAAAAAAAAAAAAAAAAAAAAAAAAAAAAAAAAAAAAAAAAAAAAAAAAAAAAAAAAAAAAAAAAAAAAAAAAAAAAAAAAAAAAAAAAAAAAAAAAAAAAAAAAAAAAAAAAAAAAAAAAAAAAAAAAAAAAAAAAAAAAAAAAAAAAAAAAAAAAAAAAAAAAAAAAAAAAAAAAAAAAAAAAAAAAAAAAAAAAAAAAAAAAAAAAAAAAAAAAAAAAAAAAAAAAAAAAAAAAAAAAAAAAAAAAAAAAAAAAAAAAAAAAAAAAAAAAAAAAAAAAAAAAAAAAAAAAAAAAAAAAAAAAAAAAAAAAAAAAAAAAAAAAAAAAAAAAAAAAAAAAAAAAAAAAAAAAAAAAAAAAAAAAAAAAAAAAAAAAAAAAAAAAAAAAAAAAAAAAAAAAAAAAAAAAAAAAAAAAAAAAAAAAAAAAAAAAAAAAAAAAAAAAAAAAAAAAAAAAAAAAAAAAAAAAAAAAAAAAAAAAAAAAAAAAAAAAAAAAAAAAAAAAAAAAAAAAAAAAAAAAAAAAAAAAAAAAAAAAAAAAAAAAAAAAAAAAAAAAAAAAAAAAAAAAAAAAAAAAAAAAAAAAAAAAAAAAAAAAAAAAAAAAAAAAAAAAAAAAAAAAAAAAAAAAAAAAAAAAAAAAAAAAAAAAAAAAAAAAAAAAAAAAAAAAAAAAAAAAAAAAAAAAAAAAAAAAAAAAAAAAAAAAAAAAAAAAAAAAAAAAAAAAAAAAAAAAAAAAAAAAAAAAAAAAAAAAAAAAAAAAAAAAAAAAAAAAAAAAAAAAAAAAAAAAAAAAAAAAAAAAAAAAAAAAAAAAAAAAAAAAAAAAAAAAAAAAAAAAAAAAAAAAAAAAAAAAAAAAAAAAAAAAAAAAAAAAAAAAAAAAAAAAAAAAAAAAAAAAAAAAAAAAAAAAAAAAAAAAAAAAAAAAAAAAAAAAAAAAAAAAAAAAAAAAAAAAAAAAAAAAAAAAAAAAAAAAAAAAAAAAAAAAAAAAAAAAAAAAAAAAAAAAAAAAAAAAAAAAAAAAAAAAAAAAAAAAAAAAAAAAAAAAAAAAAAAAAAAAAAAAAAAAAAAAAAAAAAAAAAAAAAAAAAAAAAAAAAAAAAAAAAAAAAAAAAAAAAAAAAAAAAAAAAAAAAAAAAAAAAAAAAAAAAAAAAAAAAAAAAAAAAAAAAAAAAAAAAAAAAAAAAAAAAAAAAAAAAAAAAAAAAAAAAAAAAAAAAAAAAAAAAAAAAAAAAAAAAAAAAAAAAAAAAAAAAAAAAAAAAAAAAAAAAAAAAAAAAAAAAAAAAAAAAAAAAAAAAAAAAAAAAAAAAAAAAAAAAAAAAAAAAAAAAAAAAAAAAAAAAAAAAAAAAAAAAAAAAAAAAAAAAAAAAAAAAAAAAAAAAAAAAAAAAAAAAAAAAAAAAAAAAAAAAAAAAAAAAAAAAAAAAAAAAAAAAAAAAAAAAAAAAAAAAAAAAAAAAAAAAAAAAAAAAAAAAAAAAAAAAAAAAAAAAAAAAAAAAAAAAAAAAAAAAAAAAAAAAAAAAAAAAAAAAAAAAAAAAAAAAAAAAAAAAAAAAAAAAAAAAAAAAAAAAAAAAAAAAAAAAAAAAAAAAAAAAAAAAAAAAAAAAAAAAAAAAAAAAAAAAAAAAAAAAAAAAAAAAAAAAAAAAAAAAAAAAAAAAAAAAAAAAAAAAAAAAAAAAAAAAAAAAAAAAAAAAAAAAAAAAAAAAAAAAAAAAAAAAAAAAAAAAAAAAAAAAAAAAAAAAAAAAAAAAAAAAAAAAAAAAAAAAAAAAAAAAAAAAAAAAAAAAAAAAAAAAAAAAAAAAAAAAAAAAAAAAAAAAAAAAAAAAAAAAAAAAAAAAAAAAAAAAAAAAAAAAAAAAAAAAAAAAAAAAAAAAAAAAAAAAAAAAAAAAAAAAAAAAAAAAAAAAAAAAAAAAAAAAAAAAAAAAAAAAAAAAAAAAAAAAAAAAAAAAAAAAAAAAAAAAAAAAAAAAAAAAAAAAAAAAAAAAAAAAAAAAAAAAAAAAAAAAAAAAAAAAAAAAAAAAAAAAAAAAAAAAAAAAAAAAAAAAAAAAAAAAAAAAAAAAAAAAAAAAAAAAAAAAAAAAAAAAAAAAAAAAAAAAAAAAAAAAAAAAAAAAAAAAAAAAAAAAAAAAAAAAAAAAAAAAAAAAAAAAAAAAAAAAAAAAAAAAAAAAAAAAAAAAAAAAAAAAAAAAAAAAAAAAAAAAAAAAAAAAAAAAAAAAAAAAAAAAAAAAAAAAAAAAAAAAAAAAAAAAAAAAAAAAAAAAAAAAAAAAAAAAAAAAAAAAAAAAAAAAAAAAAAAAAAAAAAAAAAAAAAAAAAAAAAAAAAAAAAAAAAAAAAAAAAAAAAAAAAAAAAAAAAAAAAAAAAAAAAAAAAAAAAAAAAAAAAAAAAAAAAAAAAAAAAAAAAAAAAAAAAAAAAAAAAAAAAAAAAAAAAAAAAAAAAAAAAAAAAAAAAAAAAAAAAAAAAAAAAAAAAAAAAAAAAAAAAAAAAAAAAAAAAAAAAAAAAAAAAAAAAAAAAAAAAAAAAAAAAAAAAAAAAAAAAAAAAAAAAAAAAAAAAAAAAAAAAAAAAAAAAAAAAAAAAAAAAAAAAAAAAAAAAAAAAAAAAAAAAAAAAAAAAAAAAAAAAAAAAAAAAAAAAAAAAAAAAAAAAAAAAAAAAAAAAAAAAAAAAAAAAAAAAAAAAAAAAAAAAAAAAAAAAAAAAAAAAAAAAAAAAAAAAAAAAAAAAAAAAAAAAAAAAAAAAAAAAAAAAAAAAAAAAAAAAAAAAAAAAAAAAAAAAAAAAAAAAAAAAAAAAAAAAAAAAAAAAAAAAAAAAAAAAAAAAAAAAAAAAAAAAAAAAAAAAAAAAAAAAAAAAAAAAAAAAAAAAAAAAAAAAAAAAAAAAAAAAAAAAAAAAAAAAAAAAAAAAAAAAAAAAAAAAAAAAAAAAAAAAAAAAAAAAAAAAAAAAAAAAAAAAAAAAAAAAAAAAAAAAAAAAAAAAAAAAAAAAAAAAAAAAAAAAAAAAAAAAAAAAAAAAAAAAAAAAAAAAAAAAAAAAAAAAAAAAAAAAAAAAAAAAAAAAAAAAAAAAAAAAAAAAAAAAAAAAAAPKKKJdrzthKKRYZaYbgecadkJRTTXZaYXXbnpmahiiijmlfx000gldflsbmnjVijmprVrorolou01yurersoalqkjrtuuvuuvuutxz10xtpnnnqtwzxwtpYnoqromlkkkJhqw0yvreqstvspmkihhhJdddddddcbaaXSQQQPQTXYZbdeeeddejkkkkhbWUTTUVUTTTUTTUVUSRRSOKKKKAAAIITSSQOMKKJJLNOPPPPQQRRRRRRRRRRRAAAAANNOPRSSSRRQQPNMMMLKKKLMMNNOPPPOOOPQSTVVVUSQNMNORUVVUTROAANRSSSSAAAAAAJIIIIIIJKLLMNOOOOONNOPPQPPPONNNORUWXYYYXUSQOMKJIIIJKKKKJJJJKKLLMLLKKKKLLLLLLMMNNNIAAAJKKJJJKKKLLMMMMNNOPPPPPPOOOOONNMMLLLLLLMMNNNNNOOPQRSTTTTSSSSRRRQPMAAAAAAAAAAAAAAAAAAAAAAFIKKLLLLMMMMMMMMMMMMMMLKKPKKKJcrzshKKRYZZXbgfcbdjJRTUYaaZXXbnpnbijihjlkdw000nldgmsbnnkUhilorVqgjnkntz0wtqessoamqkjrsttuuuvvvuwz00wtomnnqty0yxuqZnprspmkjjiKgpv0yvreqrturpmljiiiJbabcdffdcbbYWVVUTUVYYZacdddddehkkjigcZXXWWWWVVVVVVVWVUSSSPLKKLAAAIISRRPMKJJJJJLNPPOOPQRRSTTTTTTSRRQPOOOOPQRSSSRQQPONMMMLKJIJKKLMOPPPOOOPQSUWWWVTQOMNPTWYYXVSMAAATTUTSQONMLKJJJJIIIJLLMNPQQQQPOOOPQQQPPONNNORUWXXYYXUSRPNLKKJKKLLLKJJJJJKKLMMLLKLLLMMMMMNNNNNLAAJLKKKKKKKKLLMMMNNNOPPPPOOOOOONNMMLLLLLLLMMMNNNNNOPQRSTTTTTSSSSRRQPPLAAAAAAAAAAAAAAAAAAAAAHKKKLLLLMMMMMMMMMMMMMLKJIQKKKJcryshLJRYYYXbggdbdiJLQPLSVWWZlwuslecegXkty10yxrnjmoqpljlmmnpuzZsWOkliiswy01zxvrnjlmmgllkjoqstsqnqtwjxwuquy15663zxuqrsuvtqlckdgflrsuwtdlnkYlpsorolJZXYbdggfdcbaZZaZYYYZZZabcccdddfhhggfecbaZYYXXXXXWWXXWVTTTQONOOAAAIISRRPMJJJJJJLNPPOOPQRSTUUVVUUTSRQPOOOOPQRSSRRQPPONMMMMKJIJJKKMNOPPOPPPRTVWXWWUROMOQVYZZYWSAAAARUUUSQOMLKJJJKKJIJKLMNPQRRRQPOOOPPQQPPOONOPRUWWXXXWUSRPONMLLMMMMMLKJIIJKKLMMMLLLMMNNNNNNNNNNNKIMLLKKKKKKLLMMMNNNOOOOOOOONNNNMMMLLKKKKKLLLMMMMMNNOPQRSTTTTSSSSRRQPPNKAAAAAAAAAAAAAAAAAAAHKKKLLLLMMMMMMMMMMMLLLLKIAQKKKJbpxriNJRXXYXchgdcdiJKPOKSUWWZlwvslecegXksx0zyxtolnppokjlmnnqvzZsOJjkhhrwz01yxvspllmlfllljprtsqomosviwvuquy25663zxurrtuvtpkbjifemstvwtdkmjYlqsoqnlJYVWaehhgedbcdeeedcaaZZZaabbcdddddcdeffeedbZZZYYYYYYYXWUTTSRRROAAAIIQQQOMKIHGHIKMMMMMMNNOQRRSSRRQPONMLLLLLMNNNNNNMMMLKKKJJIHIIIIJKLLLMMMNOQRSSSRQOMKLOSVVVUSNAAAALPPPOMKJIHGGGHHHGHIJJKLMMMMLKKJJKLLLMMKLLMNPRTTTTTRPONMLKJJJKKKKJIHGFFFGHIJJJJJJJKKLLLLLKKKKKJIJIHHHHHHHIIJJKKKKKLLLKKKKJJJJIIIHHHHGGGHHHHIIIIJJKLMNOPPPPPPPOONNMLKIAAAAAAAAAAAAAAAAAAEHHHHIIIIIIIIIIIIIIIIIIHGEAQKKKJanvriOJRWWYXchgeZdgJKONKRUVVYlwvsldcfhYksw0zyyuqmoppnjjmmnoqv0atOJWkhgrwz01yxvsqnmmkfkllkqsuspnknquhvvurvz26763zxusstuvsojaiheemsuwwtckliYlqsoqmkJWSUZeijigdcdgijjigdbaZYZZZacddbaZZbdgiiigdbaaaaaaaaZYXVUTTTUVOAAAIISTTSRPNLLLMNNOONNNNOPQRSSSSRQPONMLLLKKLLMMMMNNNMMLLLLKKKLLLKKKKLLMNOOPQQQQQQPONMNPSUUTSQLAAAAANNNMAJJIIHGHHHHIIJKKLLLLLKJAIIIIJKKLLKMNNPRTTTTTSQONMMMLKKLLLLKKJIHGFGGHIIJJJKKLLLMMMMLLLKKKKJJIIHHHHHIIJJKKKKKLLLKKJJJJIIIHHHHGGGGGGGGGGHHHHIIJKLMOOPPPPPPOONNMLKJFFFEDAAAAAAAAAAAAFHIIIIIIIIIIIIIIIIIIIHHHGFAARKKKJZmuqiPJRVVXXchheXdUJKMMKQTVVYlxvskdcfiYksvzyyyvroppomjjmnoorw0atOJRjgfqvz01ywwtronmkfklllruusomjlpthvvurw036773zxvsttvvsniZhgddmtvwstcjkiYlrtopmkJUPSYejkjhecfjkkkkkfcaZYYYYZbdcaWVVYdhkkkjfccccbbbbbaZYWUUUWYZOAAAIIVWWWVUSQPPPPPPPPONNOPQRSSSSRQPONMLLKKKKKLLLMNNONNMMMMMNNOONMLLKKLNOPPQQPPOOOPOONOQSTSRQOMAAAAJLLLKAJJJAAAAAAAAKLLLLKKKJIHAGGGHHIJKKJOOPQSUUTSSRPNMMMMMLLMMMMLKJIHGGGGGHIJJKLLMMNNNNNMLLLKKKKJIIHHHHHIJJKKKLLLLLKKJJIIIIHHHGGGGGGGGFFFFFGGGHHHIJKMNOPPPPPPOONMMLKJIIIHHGFEAAAAAAAAEHIIIIIIIIIIIIIIIIIIHHHHGGFAARKKKJXktpiRJQTUXXcihfXdJJKLKKPSUUYlxwskdcfiZkruyyxyvtqqpnlijmnoprx1buOJVjfepvz11ywwutqnijeklllsvvsnkhkosguuusx047773zxvttuvvrnhYggcdnuwxgtbijhXlrtnolkJXSUYdhihfedfjkkkkhdaZYYZZbdfgfcXVUWbgjkkjgdddcbabbbaZYWUTVXZaOAAAIIXZZZaZXVUUTSRRQQPOOOPQRSSTSSQPPONMLKKJJJKKKLNOOOOONNNOPQRRQOMLKKLNPQQQQPNNMNOPPPQRSSRQONLKJFJJJJJJAJJJJIIIIJJKLMNMLKJIHGFAFFFFGHIJJJPQRSUVUTSRQOMLLMMMMMNNNMMLKJIHGGGGHIIJKLMMNOOOONNMMLLLKKJIIHHHHIIJKKLLLLLLLKJJIIHHHHGGGFFFFFFFFFFEFFFFGGHHIJLMNOPPPPPOONMMLKJJIIIIIIHGEAAAAAAFHIJJJJJJJIIIIIIIIHHHHHHGGFDARKKKJWjrojSJQSTWXcihfWeJKKKKKORUUYlxwskccfjZkruyxxywusrpmkhimnopsx1buOOiifdpvz1yywwvurocjekllmtwvrmjginrfuuusy147873zywtuuvvrmgXffbdnvxxYsbijgXmstnokjJZVVYbefeeedgikkkjfbZYYZabdgijieYUSVZeijkjgeddcbaaaaaZYWUTVYacOAAAIIZbcdddbZYXWUTSRRQPOOPRSSTTTSRQPONMLKKJIIJJKLNOPPPPOOOPRTTTSQNLKKLOQRSRQOMLLMNPQQRSSRPONLKJJIHHHIIHAIJKJJJIJJKLNOONLKIHGFEAEEEEEGHJJAQRSUVWVTSQPNLKLMMNNNNONNMLKJIHGGGGHHIKLMNNOOPPOONNMLLLLKJJIHHHHIIJKKLLLLLLLKJIIHHHGGGGFFFFGGFFFFEEEEFFFGGHIJKMNOOOPOOOONMLLKJIIIHHIIIIGEAAAAAEHJJJJJJJJIIIIIIIHHHHHGGGFFDASKKKJVhqnjTPQRTXXdjigVeJTLKKKKLKNSgqqjaRchloruy0synvwtskdYTbljqtvy0fwRgljUlpsrzw212ywtoZfhijlosupnidbinrsssqtvxxzxuqonhgrtrrqlgikmnpsrkvWuuqmknsxyvokjKbXXYZbccdeegijjjhdaXXYabdgkkkkhZTRTXcgijjhfedcaZZaaZZXWUTVYbdOAAAIIZbcdeecZYYXVTSSSRQPPQRSSSTTSRQPONLLKJIIIJJKLNPPQPPOOOQRTUUSQNLJJLOQSSRQNLKKLMOPQQRRQONMLKJIIHHHHHHAIJKJJJJJJKLNOOOMLJIHGEAEEEEEFHIHAORSTVVUSQPNMKJKLMMMNNNNMMLKJIHGGGGHIJKLMNOOPPPPPONMMLLLKKJIHHHHIIJKKLLLLLLKKJIIHHHHGGGGGGGGGGGGFFEEEEFFFGGHIJLMNOOOOOONMMLKJJIIIHHHIIIHFAAAAAAFHJJJJJJJIIIIIIHHHHHGGGFFFEDSKKKJUgpniTPPQTXYejjgTfJSKKKKKKKNRfppjcTehloruy0nyovxusldYTbkaptvy0ywVnljUkosrzv312xurnWfhhjlosuqokgekptuttruwxnxvspongfqsqrqmhjlmoqorkuWuuqmkmrwyvpljRdaZYYYZZbdfghiihebYWWYadfikkkkjaSPRVafhiihffecaYZZZZZXVUTWZdeOAAAIIYZZaaaYWVVVTSSSSRQPPQRSSSSSSRQPONLKKJIIJKKLMOPQQPPONNPQSSSROMKJJLOQSSRPNLKKKLMOOPPPPNNMLKJJJIIIJJIAJJJJJIIJJKLMNOONNMLKJHAFFEEEFGIGAMQRSSSRPONLKIIIJKLLLMMLLLKKJIHHGGHHIJLMNOOPPQQQPONMMMLLKKJIHHHHHIJJKKKLLLKKKJJIIHHHHHHHHHHIIHHHGGFFFFFFFFGGHJKLMNNNNNNMMLLKJJIIHHHHHIIHFAAAAAAAFHIJJJIIIIIIIIHHHGGGFFFEEEDSLKKJTenmiUPPQTYZfkkhRfJQKKKKKKKNQenoidWfilorux0jzowyvtlcXSajUpsvy01winljUkosrzu321wspmVfhhilosvrqmigmquvuusvxwcvtroomgeorpqpmikmnpqprjuWuuqnkmquxvpmkZfdaYWWWXadgghhgfcZWVVXbegkkkkkkaSOPTYdghiiggecZYYYZZYXVUTWaefOAAAIIWWWXWVUSRSSSRRRSSRQQRSSSSSSSSRQONLKJJIJKLMMNPPQPPONNMNOQQQPNLJJJLNQRSRPNLKJKKLMMNNNNNMALKKKJJJKKKJAJJJJIIIIJJKMNNOPPPOOMLJHHGFFFGHFAKOPQQPONMKJIHGGHIJJKKKKKJJJIIHHHHHIJKLNNOOPQQQQPONNMMMLKKJIHHHHHIIJJKKKKKKKKJJJIIIIIIJJJJJJJJJIIHGGFFFFFFFGHIJKLMMMMMMMLLKJJIIIHHHHHHIGEAAAAAAAAAFGGHHHIIIHHGGGFFFEEEEDDDESMKKJScmliUQPPSZaglkiRgVPKKKKKKKMQdmoaeYhjlorux0izpxzwulcXRZiRosvy01xqnljUjorrzu321vrnlTfhhiknsvssokipsvwuuswywWtrpnnmfdnqoppmjlnoqrtrjuWuuqnkmptxwqnkfihfdaZZaceggggfecZXWWYaceikkkkjaSPQTXbdeffedbZXWWXYZZZZYYZcddOAAAIIUUUTSRPOOOPQQRRSSSRRSSSSRSSSSRQPNKJIIIJLMNOPQQQPPAAAAAANOONLKJIJKNPRSRPNLKJJJJKLLLLMMMALLKKKLLLMLLKJJJIIHIIIJKLMNOQRSSRQOMKIHGFFGGEAHMNNNMLKJIHGFFFFGHIIIIIIIIIIHHHHHIJKLMNOOPPQQRQQPONMMMLKJIHGFFFEEEFHIIJJKKKKKJJJJJJJKJIAAJLLLLAAAAAAAAFFFFGGHIJKLLLLLLLKKJJIIIHHHHHHHHGAAAAAAAAAAAAAAAADEEDDDDDDDDDDDDCCDESMKKJRbkkhVQOOSabhmljUhiOKKKKKKKMPclnVeaikmortx0jzpy0xulcWRYiRosuy02xqnliUjnrrzu321uplkPghghknsvtsqmlruxxvvtxzwVronnnlecmpnopnkmoprstrjuWuurnllorwwrokkkkkifdcdefggffedbaYYYYZbcfjkkkhZTRRSVZabbcbaYWVUUVXYZbcdcddcaOAAAIISRRQONLKKLNOPQRSSTSSTSSRRRSSSRQPMKJIIIKMNOPQQQQPONMLLLLLMMLKJIIIKNPRRRPNLKJIIIIJJJJKLMALLLLLMNNNNMLJJIIHHHIIIJKLMORUVVVUSPMKIHGFFGHHJLMLLAJIHGFEEEEEEFGGGGGGHHHHHHHIIJJKMNOOOPPQQRRQPONMMMMLKJIHHHGHHHIIIIJJJJKKKKKKKKKLLLLKKNNNNMMLKJIHGFFFFFFGGHIJKKKKKKKKJJIIIIHHHHHHHHHGEAAAAAAAEFFFFFFFFFFFGGGGGGGGGGGGGGTNKKJQZjjhWQONSadimmjahjNKKKKKKKLOckmSXdklmortx0l0pz0yvmcWQXhUnsuy02xroliTjnrrzu420tnjjMghghknswussontwyywwuy0wUpmlmnkdblomopnlnojrstrjuWuurollnqvwsplknkkkjgfggggffedcbaZZZZZZacgijifYUSRSUWYYYYZXVTSSTUWYadghggfbYOAAAIIQPONLJIHHJLNPQQRTTTTTTSRQRSSSSRPNKIIIJKNOPQRRRQPONLLKKKKKLKIIHIIKMPQRQPNLKJIHHHHHHIJLLAMMLMMNOOOONLKIIHHGHIIIIJLMOSWXXXXVRNLKIGGFFGHIKKKJAGGFEEEEEEEEEEEEEEFGGGGGHHIIJKLMNOOPPPQRRRQPONNMMMLLJIHHGGGGHHHIIIIJJJKKLLLLLLMNNNMNPPOOOONMLJIHGFFFFFFGGHIJJJKKJJJJIIIIHHHHHHHHHHHHFEDEFGHHHHHHHHHHHHHHHGGGGGGGGGGGGTOKKJPYijhWRONTcejnnkiijOMKNOOKKKKMcgLVsnghkootwo0r1yvsogeecdUjnjy2600umejhhkoso138731wJqmgfikglvvywsoZnswy10vnQjbYfhdegikklnmqqqiqusuywTqpmVikkjmopolmqkkkkkjjihgfedcbbabbaZYYYacfggcXUTSSSUVUUVWVSRQQRSVXafkkkkhbVOAAAIIQONMKIHHHIKMOPQRSTTTTSRRQQRRRRQPNMKKKKLNOOPQQQQPONMMLLKKKAJIHHHIJLOPQQPONMLKJIIIIHIJLLAMMMMNNOOOOMLJIHHGGHIIJJKLMPSVXXXXVROLKIHGFGGHJKLKJAGGFEEEEEEEEEEEEEEFFFFGGGHHIJKKLMNOOOPPQRRQPONNMMMLLKIHHGGGGGGHHHHIIIJKLLLLLMMNOPPOPQQQQPPONMKIHGFFEEEFFGGHIIJJJJIIIIIHHHHHHHHHHHHHHHHHHHHHHHHHHHHHHHHHGGGGGGGGGGGGGGSOKKJOWhigWROMTdglpoljjkOMKNOOKKKKNdhLVrnghlpqvyt0j1yvsphggdeckojx24z0umekihkpsp027643xKrnhgjkfktwywsoZntwz11woQkbZfgdfhjllmonrrrnptruyvapomUijjjmoqpmntkkkkkkkkigfdbaaabcdbZXWWXYbddaXVVTRRSSRRSUSPOOPPRUXahkkkkiaTOAAAIIPONMKJIIIJLMOPPQRRSSSRRQQQQQQPPPONNNMMNNNNOPPQPPPOONMMLLLAJIHHHIJLNOPPPPOONNMKKJJJIJKLAMMMNNNOOONMKIHHGGHIIJJKLMNPSVWWWVTQNLKIHGGGHIKLMLKAHGFFEEEEEEEEFFEEEFFFFFGGGHHIJKKLMNNNOPPQQQPONNMMMLLKJIHGGGGGGGGHHHHIJJKLLLLMMNOPQQQRRRQQQPONLJHGFFEEEEFFGHHIIIIIIIIIIHHHHHHHHHHHHHHHHHAHHHGGGGGGGGGGGGGGGGGGGGGGGGGHSOKKJNVghgXROMUehmqpmjklONKOOOKKKKNeiMYqmgimqrxz01e1yvsqjhhffhkojx13z0vnfkihkpssz27754yLsojhjkeisvxwsoaotxz11woRlcZfgdfjkmmnoosrrqpsrtxuoonlUhjiimpqpmnrkkkkkkjigedcbaaZYYZYXWXYYadeecZXXVTSSTSSUWUSRRRRSUWZfkkkkhbVOAAAIIPNNAAAAAAAAAAOPPQQRRRQQQPPPPOOOOPPQQPPONMMMNOPPPPPPOONNMLAJIHHIIIKMNOPPQQQPPONLLKKJKKLLMNNNNOONNMLJGHGGGHIJKKLMNNPSUUUUTSPMLKIHGGGHJKMNMLAIHGGFFFFFEFFGGFFFGGGGGGGGHHGAAFILMMMNOOPPPONNMMMMLLKJIHHGGFFFGGGGGHHIIJKKLLLMNOPQQRRRQQQPPOMKJHGFFEEEEEFGGHIIIIIIIIIIIIIIIIIIHHHHHGGGGAGGGGGGGGGGGGGGGGGGGGGGGGGHHHHSPKKJMTehgXSOMVfjorqnklmPNKOOOKKKKOfjOdpmgimrty011e1yutrkjjghiloiw02y0vnfkiikpswz178650Mtpkikkdhruxwtpaouxz22wpXldZffdgkmnnopptprqosqtxupnmkThiihmprqmnpkkkkjihfeccbaaaXVUVUUWYZaceffecaYXVTTTTUWXWVUUUTUVWYcgiiigbXOAAAIIONMMLKKLLLMNNOOOPPQQQQPPPOONNNNOQRSTSRPNLLLMNOPPQQQQPPONLAJIHHIIIJLMNOQRRSSRRPNMLLKKKKLMNNOOONNMLKFCDEFGHIKKLMNOOQRTTSSRQOMKJIHHGHHJLMNNMAIHHHGGHHHGHHIIHHHHHHHHHHHFAAAAAAAAILMMNOONNMMLLLLLKKJIHHGGFFFFFFFGGGGHIJJKKLLMNOOPPQPPPPOONLKIHGFEEEEEEFGGHIIIIIIIIIIIJJJJJIIIIHHHGGGGAGGGGGGFFGGGGGGGGGGGGGGHHHHHHHSPLKJKSdggXSOMVhkpsrolmnPOKPONKKKKOgkRiolgintu0221j1xutslkliijloiwz1x0vogliikpswy078771Nuqljlkdgqtxwtpaouy022xpemdaffdglnoooqputsqorpswtonlkTghhhlprrmmnkkkjhgedbbaZaaZWSRRRSVYbceggggecaZWUUUUVXZYXXWWVVVWXadeffecZOAAAIIONMLLLLMMMMNNNNNOOOPPPPPOONMLLMORTVVVTQNKKKKMOPPQRRRRQPOMAJIIIIIIIKLMOQSTTUUTRPNNMLKKKLMNOOOONMLKJFCDDEFGJKLMNOPPQRSRRQQONLKJJIHHHIJLNONMKJIHIIIIJIIIJJJJJJJJJJIIHGAAAAAAAAAGJLLMMMMMLLLLLLLKKJIIHHGFFFFFFFFFFFGHHIJJKKLLMNNOOOOOONMLKJHGFFEEEEEEFGGHIIIJJJJJJJJJJJJJJJJIIHHHGGGAGGGFFFFFFGGGGGGGGGGHHHHHHIIIISPMKJKQcggYTOMWimrtspmnoMKLLKKKKKKUdlepiqpooqqpnrriqnkggknlrrojrtyzywstvvnqroYtz24751xwSeegiimrv420ws047830xxwqajkkllnpruuutvvvtplhmt04ysmfkkbXffknqpgjkkkjhfdcaZZYYZaZUPNNNPUZceghhiihecaYWUUVXZabaaZYYXWVWXZbbcddbOAAAIINMLLLLMNNNNNNNNNNNNOOOOOOONLLKLORUWXWUQNKJJKLNOPRSSSSRQOMAJJIIJIIIJKLNQSUUVVVTQONNMKKKLMNOOONNMLKIHGGGGGIJLMMOPPPQRRQQPPNMLAJJIHHHIKLNONMLJIIIJJJJJJJKKLLLKKKKKJJIHDAAAAAAAGJKKKLLLLLKKKKKKKKKJJIIHGGFEEEEEEEEEEFGHIIIJJKLLMMNNNMMMLKJIGGFEEEEEEEFGHHIIJJJJJJKKKKKKKKKKJJIIHHGGGAFFFFFFFFFFGGGGGGGHHHHHIIIIIIIRPMKJKPbfgZUPMXjnsutqmooNKLLKKKKKKUdkloiqqppqrpnrrsqmjffjmkqroksuzzywstvvorspZty13640wvcddfiilqu31zvr034830xwupcjkkllnprtuuuwvvtplhmu15ztngllcYhgknongjiihfedbZYXXXXYaZTNKKKNTaegijijkkgecaXVUWYacdddcbaYWVUVWXYacddOAAAIIMLLLKLMNNNNOOOONMMMMNNOOPONMLKLNQTUVUSQMKJJKMNOPRSSTSSQOMAKKKKLKKKKKLNPRSTUUUSQOONMKJJKLMNNNNMMLKJIHHHHIJKLMMNOONOQQQQPPNMLAKJJIHIIKLMNNMLKJJJJJJJJJJKKLLLLLKKKKJJIGDAAAAFIJJKKKKKKKKKKJJKKKKKJJJIIHGFEEEEEEEEEEEFGGHHIIJJKKLLLLLLKKJIHGFFEEEEEEEFGHHIIJJJKKKKLLLLLLLLKKKJIHHGGFFFFFFFEEFFFFGGGGGHHHHHIIIIJJJJRPMKKKOafgaVPMYkotvurnppNKKKKKKKKKUdknohqqqqrrporssqlieehljqqoktv00ywssuwpttqZty1254zvundcfiilqt20yur03u830ovtodikklmnortuvvwwvsplhmu250tnhlldZihkmnjfhgggfeddbaaaaabcbXSPPPRWadfghhhihfdcaZXXYacdeffedcbZXWWWWWXYZZOAAAIILLKKKKLNNNOOPPONMLLLMNOPPONMLKLMORSTSRPMLKKLMNOPRSTTSSQOMAKLMMANMMLLLMOQRSSSSRQONNLKJJJKLLMMMLLLLKJJJJJJKLMMMMMMMNPQQQQPOMLAKKKJIIJKLMNNMMLKKKJJIIHIIJKLLLLLLLLLKJJIHGFGIJJJJKKKKKKJJJJJJJJJKKKKJJIHGFEEEEEEEEEEEEFFGGHHHIIJJKKKKJJIIHGFFEEEEEEEFFGHIIJJJKKKLLLLLLLLLLLLKJJIHGGFFFFEEEEEEEFFGGGGGHHHHIIIJJJJJJQONKKKMZfhbWQMYlpuwvsoqpNKKKKKKKKKUdjmlgqrrrssporssplhddgkipqnluw10ywssuwpuuqZty0253zutmccfiikpt1zxuqz3m830Zusnbijjlmnoqtuwvxwvsolhmv261uohmmdajikllfefeffffeeeddddddedaXVUUWYbdeffffgfdbbbaaabcddegggffdbZYXWVUUUUVOAAAIIKKKJJKLMNOPAAAPNMKKKLMOPPPOMLLLMNPQQQPOMLLLLMNOPQSTTTSQOLALMNPPPPOMLLMNOPQQRRQPONNLJIIIJJKKKKLLLLLKKKKKLMMMMMMLKKMNPQRQQOMLAKKKJIIJJKLMMMMMLLKKIHGGHHJKLLLLLALLLLKKJJKKKKKKKKKKKKJJJJJJJJJJJJKKKKJJIHFEEEEEEEEEEEEEFFGGGGHHHIIIJJIIHHGFFEEEEEEEEFGGHIIJJKKKLLLMMMMMMMMLLLKJIHGFFFFEEEEEEEEFFGGGGHHHHIIIJJJJJJKQONKKKLZehcXRNZnrvxwtorqOKKKKKKKKKUcjmegqrsstspossspkgccfjhopplvx10ywrsuxqvvratv0143yutlbbeiikos0yxtqz3j840XtqmXijjlmnoqtuwwxwvsolhmv371voinnebkklkkcddceeffffgggfgggffecbaaabccdeeeedcbabbccdefeefiiihhgecaYWUTRQQROAAAIIJJJJJKLMNOPQQQPOLJIJKMNPQPONLLKLMNOOONNMMMLMMNNPQSTTTSQOLALNPRRSRPNMLLMNOOPPPPPONMLJIIHHIJJJJKLLLMMMMMMNNNNNMLKJJKMPQRRQOMLKKKKJIIJJKLMMMNNMMLJIGFFGHIKKLKKKALLLLKKKKLLMMMLLKKKKKKJJJJJJJJJJJKKKKKJIHGFEEEEEEEEEEEEEFFGGGGGGHHHIIHHHGFFDAAACCDEFGGHIIJJJKKKLLLMMMMMMMMLLKKJIHGFFFFEEEEEEEFFGGGHHHHHIIIJJJJJJJJPONKKKKYehdYRNaoswxxtprrOKKKKKKKKKUcjlXfqsttuspossspjfbaeignppmwy21ywrsuxrwwsatqz031ytskaaeiikorzxwspz3j840WsplShjjlmmoqtvxxywusolhnw482voinnfclllkjbcbaddefghijiijjihhhhgffedcccccccbaZZacefghhgegjkkjjjhecaWTRPMLMMAAAIIJJJJJJLMOPQRRRQOLJHIJLNPQQPNMLKKKLMMMKMMMMMMMNNOQSTTTSQOLKLORSTTTROMLLLMNNNOOOOONMLJIHHGHHIIIJKLMMNNNNNOOOONMLJIHJLOQRRQOMKJJJJJIIJJKLMMNNNNMLJHFEEFGIJKKKKJAKKKKKKKLLMNNNMMLLLLKKKJJJJJJJJJJKKKKKAJIHGFFEEEEEEEEEEFFFFFFFGGGGHHHHGGGDAAAAAAAADFGHIIJJJKKKKLLLLLLLLLLLLKKJIHGGFFFFAEEEFFFGGGHHHHHHHHHIIJJJJJJJPNNKKKKXdieZSNbptxyxuqsrMKKKKKKKKKPfgeJknrtrofhnqstsrplfZSYafhikjjmojruvty155wqVeq02+/7wurmbkgfeiovxupeJqvnY0yycojehjlnnnfjuy1yvrolnlby0zwxumklicffgcgebbceghikkkkkkkjjkkkkkjgdbbbbbaZXXYadghijjhfhkkkkkkkgebWSPMKKKKAAAIIKKKKKLMNOPQRSSQOLJHHJLNPQQPNMLLKKKLLLLLLMMMMNNOPQRRSRRPNLKMORSTTTROMLLLLMMMNOOOOONLJIHHGHHHIIJKLMMNNNNNOOONNMLJIIJLOQRRQOLKJJJJJJIJJKKLLMNNNMLJHFEEEFHJJJJJJAKKKJJJKKLMNNNMMLLLLLKKKJJJJJJJJKKKKKKAJJIHGGFFFEEEEEEFFFGGGFFFFGGGGGGGGGFFFFFFGHHHHIIJJJJKKKKKLLLLLLLLLKKKKJIIHGGFFFFAFFFFFGGHHIHHHGGGGGGGHHHIIIHOMMKKKKWdigbUOcpuyzyvqsrLKKKKJKKKKPfgeJknrsqofgnpstsrqlfZOYafhikkknpksvwty045wqVfr10//8xurnbkgfeipwxtodJqunc0yyZojdgikmmmfjuy1yvrolnlay0zwxumlmicffgggfdccdefgijkkkjiggjkkkkkiecbaZZZXXYYadgiijjhfhkkkkkkgcbZWUTQNLLLAAAIINNNNMNNOOQRSSSRPMJIIJLOQRQPONMLLKKLLLKKKLLLMOPPPQQPPPONMLLMOQRRRRQOMMLLLMMMMNOOOONMKJIHHHHIIIJKLLLMMMMMNNNNNMMKJJKMOPPPONLJIIJJJJJJJJJKKLLMMLKIGFEEEFHIJJJJJAKKJJIIJJKLMMMMLLLLLLKKKKKJJJJKKKKKKKKAKJJIHHHHGGGFFFFFGGGGGFFFFFFFGGGGFGGGGHHHHIIIIJJJKKKKKKKKKKKKKKKKKKJJJIIHGGFFFFFAFFFGGHHIIJIHHGGFFAFFFFFFFGGNMMKKKKWcjhdVOcquzzyvrtrLKKKKJKKKKPegePknqrpnegnprttsqmgaKYZegikklprmtwxuz044wqXgs3y//9yvsnbkgfeipwxtgcJpunp0zyapjdfhjlmmejuy0yuromnlax0zxyvnmmjcffgghgecccddegijjihfddhkkkkkjfcbZYYXWWYZbegiijigehkkkkkhdYXXXXXVSPOOAAAIIQQPPPPPOPQRSSSRPNKIIKMOQRQQONMMLLLLLKKJJKKLMOQQQPONMMMMMMMNNOPPPPONNMMMLLLLMNOPPPONLKJIHHIIIIJKKLLKKKKLLMMNNNMMLLLMNOOONLKJIIJJKKKJJIIIIJKKLKJIGFFEEFGHIIJJJAKJJIHHHIJJKLLLLLLLLLLKKKKKKKKKKKKLLLLAKKKJJIIIIHHHGGGGGGGGGFFFFFFFFFFFFGGGHIIIJJJJKKKKKKKKKKKKKKKKKJJJJJJIIHHGGECAACDEFGGHHIIJJKJIHAAAAAAAAAAAADEMLLKKKKVckjeWPdrvz0zwrtrLKKKKJKKKKOefeYlnqromefmprttsrnhbJYZegiklmqsnuxxuz044wqbgtzw//+yvsnckgfeipwxsWaJpunx0zyepjdeghkllejuy0yuspmolZx00xywnmnjbffgghhfdcbbbceghihecaafkkkkkkgdbYXWVVWYacehiijigegkkkkjfZVUVYabZXUROAAAIITTSSSRQPPRSSSSRQNLJJKMOQRRQPONMMLLLLKJIIJJKMPRSRPNLKJJKLMNNNNNNNNNNNNMMLLLLMNOPPPPOMKKJIIIIIIJJKKKJJJJJKLMMMNNNMMMNNNNMLKJIIIIJKLLAAAAAHHIJKKJHGFFFFFGHHIIJKAKJIHGGGHHIJJKKLLLLLLLKKKKKKKKKKLLLLLLLLLLKKKJJJJJIIHHHHHHGGFFFDACEEEFFFFGHIIJJKKKKLLLLLLLLKKKKKKJJJJIIIIIHHHGEAAAAAAAACEGHIJJKKKJIAAAAAAAAAAAAAADLKLKKKKVbklgXQesw00zwpusLKKKKJKKKKOefeYlnpqoldemorstsrnhbJYZdgiklnrtpvxyvz034vqhhuuv///zwsnckgfeipwxsQZJounx0zzlpjcdegjkkdity0yuspnokZx00xzwonnjbffgghigdcaaaaceghfcZXXcjkkkkkhdbYVUUTVYacfhiijigdgkkkkjdWRQUZdfecYUOAAAIIWWVVUTSQQRSTTSSQOLKKLNPQRRQPONNMLLLLKIHHHIKMQSTRPMJHHHIKNOOMLLKKLLMNNNMLLKLLNOPPPPONLKJJIIIIIJJKKJIHHIIIKLMMNOOOOONNMLLKJIIHIJKLMMKJHGFFGHIJJIHGGFFFFFGGHIJKAKJIHGFFFGHHIJJKLLLLLLKKKKKKKKKLLLLLLLLLLLLLLLKKKKKJJIIIHHHGGFCAAAADEEEFFGHIJKKKLLLMMMMMMLLLKKKKJJJIIIHHHHHGFCAAAAAAAAAAADFGIJKKKJIAAAAAAAAAAAAAAAKKKKKKKUblmiZQftw1w0xkusNNQQRJOKKLWZlorspnhinqnsvngsrnhjhMYdhmopppqrssw045zumjpw12rn32xsoonmYlkkkkkigKlUux02ysmhjjgeffbgqw120vrpnlgpw240wpoqpnjgddglpsmgdbZYYYZcfhdZVUVajkkkkkiebXUTSSVZbdgiiiihfdgkkkkibTNNSagjigcYOAAAIIYYXXWVSRQRSTTTSQOMKKLNPQRRQPOONMMLLLJIHGHIJMQTUSOLHFFFHKNPOMIIJJJLMNOONLLKKLMOPPPPPNMLKJJIIIIIJKJIHGHHHHJKLMNOPPPPONLLKJIIIIIJLMNMLJHGFFFGHIIIHGGGGFFFGGHIJKKKJIGFFEFFGHHIJKKLLLLKKKKKKKKKKLLLLLLLLLLMMLLLLLLLLKKJIIIHHGGDAAAAAAEEEFFGIJJKLLLMMMNNNMMLLLKKKJJJIIHHHHGGGEAAAAAAAAAAAAAAAAGHJJKJAAAAAAAAAAAAAAAAKKKKKKKUalnjaSgtw1t0xhurNORQQJOKLLWalortpmghnqmsuafrqnhjhPZfjmooooprrrvz35zumipv01qo22xsponkXkkjkjkifLlXux02zsnikkhffgchrx220wrpnlfpw130wpoqpnkhfehlpsngcbZYYYZadebYVUVZgkkkkkhecZXVVVXacdgiiiigdbdgijieZTPORWbdddbYOAAAIIXWVVUTRPPQRSSSSQOMLLMNPQQQQPONNMLLKKJIHHIIKMQSTROLIGGHJLOQPOAIJKLMNOPONMLKKKLMNOOONMLLKJJIIIIIJJJIHHIIIIJKKLMNPPPPONMLLLLLKLLLMNNNMLJIHHHHIIIHHGGGGGGHHHIJJKKJJIHGGGGGGHHIIJKKKLLKKKKJJJJJKKLLLKKKKLLLLLLLLLLLLLKKJJIIIHGDAAAAAAEEEFFGIJJKKLLMMMNNNMMLLLKKKJJIIHHHHGGGEAAAAAAAAAAAAAAAAAAAAIIIAAAAAAAAAAAAAAAAKKKLKKMUamplcThtx1t0yenrNORQPJOKMMWclortpmggmplrtVfqpmhjiUbhknonnnpqqquy25zumiouzzps21xspnmjWjjjjjjhfNlatxz3ztojlligghdisx331wrpnlfov130wporqoligfimqtogbaZYYYYZbcZWVUVYdikkkjhfdbZYYYZbcegiiihfcZacdedbXTQQQTVXYZZZOAAAIIUUTSRQONNOQRRSRQONMLMNPQQQPPONMMLKKKJIIIJKLNPRRQOMKIIJLOQRRQNNMMNOPPPONMLKKKKLMMMMLLLKKJIIIIIIIJJIIJJJJJJJJKLMOPPPPONMMMNOOOOOOONNNNMLLKKJJIIHHHHHHHIIJJJJKKKJJJJIIHHHHHHIIJJKKKKKKKJJJIIJJJKKKKKJKKKKKLKKKKLLLLLKKJJJIIHGAAAAAAEEEFGGHIJKKKLLLMMMMMMLLLKKKJJIIHHHGGGECAAAAAAAAAAAAAAAAAAAAAAAAAAAAAAAAAAAAACEKKKMKKNVZmqneUiux1w1ybfqOORQOONKMNXdlpstpmfglokqtUeppmhkjbcimoonfmoqqptx25zuliotyynz11wspnliViijjijheRketwz3zuokmmjhhhejty431wrpnlfov130vporqpmjhgjmquogaZYYZYXXZaXVUUVXbfhiihgfedcbabcccegiihgdaYXYYZZXVTSRPPQSTVXZOAAAIISRQQONMMMNOQRRRQONMMNOPPQPPONNMLKKKKJJJKKLMNPQQPOMLKLMNQRSSRQPOAAQQQQPNMLKJJJJKKKKJKKKJJIIIIHHIIIJAAAAAAAAAAKLNPPQPPNAAOQRRRRRQPONOPPOOONLKJIIHHHHIIJKKLLKKKJJKKKKJJIIIIIIIIJJJKKKKJJIIHHIIJJKJJJJJJJIJKKKKKKKLLLKKKKJJJIHFAAAACEFFFGGHIJJJKKKLLLMMLJJJJJJJJJIIHHGGGFDAAAAAAAAAAAAAAAAAAAAAAAAAAAAAAAAAAACCDFGKKKMKMPVZmrofWjux101zZZqOORPONNKNNXdmpstplffknjpsTdpolhkjhdknpomZmoqposw150ulinswxkz10wspnkhUhiiiiigeXkhtwz30uplnnkihifkuz442wrpnkenv03zvporrpnkihjnrvpgZYYYZYXWWYVUUVVWYbdeffffgfeddeeddegiihfcYWUTTUUTTTUSPMLMNRWaOAAAIIPOONMKKKKLNPQQQPONNNNOOPPPONNMMLKJJJJJKLMMNNOOOOONNMNOQSTTTTSRQQRRRRQPOMLKJIHHIIIIHIJKJIIIIIHHHIIJKLMMMKJIIIJKNPPQQPONOQTUVUVUSQOOPQRSRRQOLJIIIHHIIJKLMMMLKKJKKLLMLLKJJIIIIIIIJJKAKJIHHGHHHIIJJIIIGEAAAGJJJJJKKLLLLLKKKJJIIADDDEFFFFGGHHIIJJJKKKLKIAAAAAGGHHHIHHHGGGDAAAAAAAAAAAAAAAAAAAAAAAAAAAAAAAAADEEEFFGGKKKNMOQVYnsqhXkvx111zYXpOPRPNMNKOOYdmpstpleejmiorTconlgkkiflppolTlnponrv140ulhnrvwjz00wspnjgTghihhhgdfjiswz30vqmooljijglv0542wrpmkenu02zvppsrqolkiknrwqgYXXYZZWUUVUSTVWVVXZabdfghihgghgedegiiheaXUSPOPPQRTWUOKKKKNUaOAAAIINMLKJIIIJKMOPQQPOONNNOOPPOONMMLKJJJJJKLMNOOONNNNOOOOPQSUUUVVUTSSSTTSRQOMLKJIGGGHGGGHJJJIIIIIHGHHIJLMNNNLJHHHIJMOPQQQPOPSVXYXYXUROOQSUUUUSQMKIIIIIIJKMNNONMLKJKLMNNNMLKJJIIHHHIIJKAKJHGGGGGGHIIIIFAAAAAAAAHIIJJKLLLLLLLLKKJIAHGGGFFFFGGHHIIIIJIHGAAAAAAAAAAAFGGHHGGGFCAAAAAAAAAAAAAAAAAAAAAAAAAAAAAAAAEEFFGGGGGKKKOOQSVYmtriYlvx111zZZpXWUNNOQSRQalnruvsomlnprssUtrojZlnlluwrrsVlqrnkoswx0zvrnjZdXquwuscnidZdgikmpmkihTku1983wlvujdlmoruwovupljihfjpvxurkntwnuuqeojrvtldcbbbaYWWWVUVXXXXYaabdefffedddddcddddcbaYXVSQPPPQSVTOKKKKPVbOAAAIIMLLJIHHIIKMOPQQQPOONOOOPPONNMLLKJJJJKKMNPPPONNMNNOOPQRTUVUVVUTSSTTTSQPOMLJJHGGGHGFFHJJIIIIIIHHHHIJLNOONLJHGGHJLOPQQQOOPSVYYYYXUROOQSVVVVTQNKJIIIIJKLKLNNNMLKJKMNOPPOMLKKJIIHHHIJJAJIHGFFFFFGHHEAAAAAAAAAAAHIIJKKLMMMMMLLLKJIIHGGGGFEEDDDDAAAAAAAAAAAAAAAAAAAEFGHGGGECAAAAAAAAAAAAAAAAAAAAAAAAAAAAAAAEEFGGGGGGFKKLQRTUVXmsrjZmuw111zffoYWTMOPRSRQalorvwspmmnpsttUtrojZkljktwrssSlpqmkoswx0yvrnjaebptutscmhdZehklnpmkjhTku1972vlvtidlmnqtvovuplkjigkpuwtrkmsumttqdnbquuoihgedcaYXXXWXZZZZaabbcdddcbaaaabbbaZYYZZabYVSQPPQSUTOKKKMQWbOAAAIIMMLLJIIIJLNPQRRRQPOOOOOPPONMMLLKKJKKLMNPQQQPONMMMNNOOQSUUUVVUSRRSSSRQPNMKKJIHHIIIHHHJJIIIIJIIIIIJKLNNONLIHGGGILOPPNALMNPSVWWWVSPNNORTUUTSQNKJJJJJJJIAALMMMMLKLMOPPPONMLKJJIHHHIIIJIHGFFFFFFFEAAAAAAAAAAAAADHIIJKLMMMMMMMLLKJIHHGGGECAAAAAAAAAAAAAAAAAAAAAAAAAEFGGGGECAAAAAAAAAAAAAAAAAAAAAAAAAAAAAAAEFGGGGGGGGKKLRUVWWXlsrkbmuv011zpooYVTMOPRSSRblosvxtpmmoqtttWtrojZjjijtwrstTlppmjoswxzyvrnkafgorrrrcmhdZeilmopnljiUku1572vkusiclmnpsvovuplkjjikptusqklrtkrspdmWpuurkkkifecaZZYYZbbbbbbbccccbZYXXWYZaZXVUUWZcecYTRPPPRTSOMMMOSXbOAAAIINNNMLKJJKMOQRSSSRPOOOOPPPONMMLLKKKLLMNPQRRRQONMMMMMMNOQSUUUUSRQPQQQQPONMKKJJJJKKKJJIJJJIJJJJJJJJKLMNNNMKIGFFGILNOPMJKKAMPRSTSRPNLLNPQRRRQOMKJJJJJJKLMNOOOONMLMNOPQQPOMMLKJIHHHIIIIIHGFFFFFFFDAAAAAAAAAAAAAFHIIJKLMMMMMMMMLKJJIHHHGGGECAAAAAAAAAAAAAAAAAAAAAFFGHGGGFFECAAAAAAAAAAAAAAAAAAAAAAAAAAEFGHHHGGGGGGGGKKMTWXYWWkrrlcnuv0110vunZVSMOQSTSRblotwyuqmmoruuuburojYiihiswstuTlppljoswwzyvqnkbfknpppqblgcZfjmnoqnlkiVkt1262ujtshcllmoruowvqllkkjlpstsqkkqriqrpclVptuukkkkigecaaaabcdccccccbbbZWUUUTVYaXTQPQTYehfaVRPOOQSRONNPQUYbOAAAIINOOONLLLLNQSTTTTSQOOOPPPPONMLLLLLLMMNPRSSSSRPNMLLLLLLNPRTTTTRPOOOPPOONMLKKKKKLMMMMKJJJJJJJKAAAKKLLMMNMLJHGFFGHKNOOKHJJAKMOPPPONLKKLMNOPOOMLJJJAAAIJKLMNOOONNMNOPQQQPONMLKJIIHHHIIIIHGGGGFFFECAAAAAAAAAAAAEHHIJJLMMMMMMMMMLKKJIIHHHGGGGECAAAAAAAAAAAAAAAAGGHHIHHGGFFFFFDAAAAAAAAAAAAAAAAAAAAFGHIIIIIHHHGGGGGGAGJKMUZaaXWjqrmdotu0110vunZVRMPRSTSRbmptxzvqmmorvvugurojYhgfhswstvUmooljoswwzyuqnkbgkmnnopblgcZfjnocqnlkjWkt0161ujsrgclllnquowvqmlllkmorsrpjkopgpqpckYotvxkkkkkigecbbcdefeeddccbaaXTRRRQSWZVQMLMQYfkidXSPOOPRQPOPRSVZbOAAAIIOPQPONMMMPRTUUUUTRPOOPPPPPNMLLLLAMNOPRSTUUTSQNMLKJJJKLNQSTTSQONNNNNNNNMLKKKKMNOPOOMKJJJJJKKKKLLLMMMMMMLJHFFFFHKMONJGHHAHIKMMMLKJIIJKLLMALKJJJIIIIIIJKLMNNOONNOPQQQQPONMLKJIIHHHIIIIHHHHGGGGDDCAAAAAAAAAAFHHIIJKLMMMMMMMMMLLKJIIHHHHHHGGGFFFGGGHHIIIIIJJJJJJIHHGGFFFFFFFDAAAAAAAAAAAAAAGHIJJJJJJJJIIIHHHHGGGGAGJKNWcccXVjqrnfotuz110wumZVQLPSTTSRbmpuy0vqmmpswwvlusojXgfegrwsuvUmonkjoswwzxuqnkchkllkmoalgcZgkopSqnmljXkt0561tirqgcmllmquowvqmllllmoqrqpjjnofnqobkfnsvwkkkkihgfeddeeeffffeeedcbYVTSSRTXaWRNLMQXdihdXURQQQSRQPQRTWacOAAAIIOQRQPONNNQSUVVVVURPOOPPPPONMLLLLANOPQSUUUUUTQNMLJIIIJKMPRTSRPNMLLMMMMMLKKKKLNOQQQPOLKJJJKKKLLLMMMMMMMLKIGFFFFHJMNMHEGGAFGHJKJIHHHHHIIJKAJIIIIIIHHHHHIJKLNNOOOPPQQQQPNMLLKJIIHHHIIIIHHHHHHHGDDDDDDDDDDDEHHIIIJJKLMMMMMMMMLLLKJJIIHHHHHHHHHHHHHHIIIJJJKKKKJJIIHHGGFFFFFFFFDAAAAAAAAAAAHJKKKKKJJJJJJJIIIHHHHGGGAGJKOXdddXVhopmfosty010wtlYSOKKPQKPQajmprstqkjooooompmigZdimm00zzxXhlqomopqruxwqtocaggbdlrusnickpuxa000wqZhsx030xkutrqppppqrturnkjjjXiiihmmnortswzwomjigqukkkkhgggfffffffgggggfedcaWUUTSUYaWSOMNQVbffcYVUSSSSSRQRSUXacOAAAIIPQRQQPONOQSUUVVVTRPPOOOOOONMLLLMAOPQRSTUTTTSQOMLKJIIIJLOQRRPOMMLLLMMMMLKKJKLMOPQQQPMLKKKKKKLLLMMMMMMLLKIGFFFGIKMOMHAGFAEEGHIIHGGHHHHIJJAJIIIJIIIHHHHHIJKMNNOOPPQQQPONMLKKJIHHHHHHHHIIIIIIHFCCDDEFGGHHHHIIIIJJKKLMMMMMMMMLLLKJJIIIIHHHHHHHHHHHHIIIJJJJKJJJJIIHGGFFFFEEEFFEDAAAAAAAAGJKLLLLKKKKKJJJJJJIIHHHHGGGGJKPZfddXUgmnmfossy00zvtlYTOKKPQKPQaknqsstqkjoppppppnjgZeimlzzzzxZhlpnmopqruxxrtpcagebdlrusokdmrvyazzzvqYhsx02zwjttrqppppqrstqmiijjXjjjimmmnrutxzwomjjgqskkkiffghhhhhgffghihhhgfebYWVUUWZbXSONNPUZddbZXWVUTTTSRSTVYbcOAAAIIPQQQPONNOPRTTUUUTRQPOONNNMMLLMMNAPQRRSTSSRRRPONMKJJIFFJMOPPONMMMMMMMMLKKJJJKLNOPPPPNMMLLKKKKKLLLLLLLLLKIHGGGHJLNOMHAHGAEEFGHHGGHHHIIIJKAJJJJJJJJIIHHHHIJKMNNNOPPPPONMLKKJIHHHHHHHHHHIIIIIHDAAAEFGIIIIIIIIJJJJKLLMMMMMMLLLLLKKJJIIIIIIHHHHHHHHHIIIJJJJJJJJIIHHGGFFEEEEEFFGFDAAAAAAHLLLLMMLLLLKKKKKJJJJIIHHHHHGGJKQageeXUekmlgnrrxz0zvtkZTOKKPQKPQbknqsttrkjnpqppppnjhaejmlyyzzychkpnmoqrrtxxrupcahXcemrusoleotxzayyyvqVhsxz1yvjttrqppppqrstplhhijXkkkimllmrutxzwonkjgpqkkkgeefijjjjhffhijjjjigfdaXWVVXabYTPNNPSXabaZZYXWUUTSSTUWZcdOAAAIIQQPPOONNNPQRSSTTSRQPONMMLLLLMMNOARRSSSSQPPPPPONMLKJJGFILMNNNNMMMMMMMMLKJJIIJKLNOAOPOONMMLKKKKKKLLLLLLLKJIHHHIKMOPOKHHGFEEFGHGGGHIIIJJKKAKKKKKKKKJJIHHHHIJLMMNOOPOONMLKKJJIHGGGHHHHHHIIIIIIEACAFHIIIIIJJJJJJJKKLMMMMMMLLLLLLKKJJIIIIIIIIHHHHHHHIIIIJJJJJJJIIHHGFFFEEEEEFFGHGFAAAAHLMMMMMMMMMLLKKKKKKJJJIIHHHHHGKKRcheeXUdikkgnqpwz0zvskZTOKKPQKPQblortttrkjgqrqpppnkiaejjlyxyzyghkonmpqrrtxxsupcahRcemrutpmfpvz0axxyvqUhsxz1xvdttrqppppqrssokggijYllljmlkmqvuxzwoilkhopkkhfcdfikkkkigfhjkkkkkigebYXWWYbcYUQOOORVYZZaaaZXWVUTTUVXacdOAAAIIQPPOONNNNOPQRRRSSRQPOMLKKKKLMNOPRSTTTSQPNNNNOOONMLKKJJJJKLLMMMNNNMMMMLKJIIIIIKLMAOPPPPONMLKKKKKKKKKKLLKJIIIIJLNPPOMKIHGFEEFGGGGHIJJKKLLALLLLLLLKKJIHGGHHIKLMMNOONNMLKKJJIHHGGGGGHHHHHIIIIIHFFAHIIIIJJJJJJJJKKKLMMMMMMLLLLLLKKJJJIIIIIIIHHHHHAAAAAIJJJJJJJIIHGGFFFEEEEEFFGHIIHAAAKMMMNNNNNNMMLLLKKKKKJJIIIHHHHHKKTdifeXTbfijgnpovyzyvsjaTOKKPQKPRbmpstuurljdqsqpppnkibfjakxxyzynhkonnprrrtxysvqcahMdfmrttqnhrw01awvxurTisxz0xuYttrqppqqqrrsnjffhjYlmmjlkjlqvuyzwodlkhnnjhfcaacfijihfddfhiijkjigfcZYXXYabZVTRRSVYbccccbZXUTSTVWYZbcbOAAAIIRPONNNNNNOOPQQQRRRRQOMKJJJJKMNPQSTUUTSPNLLLMNOPONMLKKJIIIJJKLMNNNNMMMLJIHHHHHIKLANPQRQPOMLKKJJJJJJKKKLKKJJJJKMOPQPNLJHGFEEFFFFGIJJKLLMMMNNMMMMMLLKJIHGGHHIKLLMMMMAAKJJJIIHGGGGGGGGHHHHIIIHHHGAHHIIIJJJJJJJJJKKLMMMMMMMLLLLLKKJJJIIIIIIHHHHHHHHHIIIIJJJJJIIIHHGGFFFFFFFFGHIJKLJAJMMNNNNNONNNMMLLLKKKKJJJIIHHHHGKKUejfeXTZdgjgmonuyzyvrjSPOPPSRNMRchkooZjlkmaooknoonliaXcQptuwzyuqglkdepqrsuwkuwursWpkvxz0zxou120awz61wjlpsvvsqeprtksvxxyzyruoihjlmmoqoponoqstuuurapponkhecZYYZcegfecbbceghhijihgdaZYXYZaZXVVVXZcdefedcZWSQQSWZbbcbZOAAAIIRPNNNMMNNNOOPPPQRRRQOLKIIIJKMOPRTUUUTRPMKJJLMOPONMLKKJIHHIIJLMNNNNMMMLJIIHHHHIJKAMPRRRQOMLKKJJJJJJJKKKKKKKKKLNOPQPNLJIHFEEFFFFGIJKLLMNNNOONMMMMMMLKIHGGGGHJJKLLLLAAJJIGEHHGGGGGGGGHHHHHHHHHGGAGHHIIIIIIIJJJJKKLMMMMMMMMMLLLKKJJJIIIIIHHHHHHHHHHHHIIIJJJJIIIHHGGGFFFFFGGHHIKLLMKLMNNNNOOOONNMMLLLLLKKKJJIIHHHGGKKVfidcXTYbehgmnnuxyyuriRPNPPRRNMRcikooYikkldnokoomomibYdNruvxzyvrhmldepqstvxkuwtrsZpkvxz0zxot01zZvy50vmlosvwsqfqsumuxyyzzxquojiklmmoqopnmoqstuuusYqqomiecZXWVWYbecbZZZabdfghiihgecaZYYZZZYYYZbdfghihfdaVROORXbeedaYOAAAIIQONNNMNNNOOPPPQQRRQQOMKJJJKLNOPRSTTTSROMLKKLMNONMLKKJIIHIJJJKLMMMMMMMLKKJJJJJJKLAMOPQPPONMLLKKKKKKJKKKKKKKKKLMOPPONLJIHGGFGGGGGIIJKLMNNOOPOONNNMLKJIGGGGGHIJKKLLLAKKJAAAAEHGHHHHHHHHHHHHHHGGFAGGHHHHHHIIIIJJJKLMMMMMMMMMMLLKKJJIIIIIHHHHHHHHHHHHHHIIIIIIIIIHHHGGGGGGGGHHIJKLMMMMNNNNNOOOOONNMMLLLLKKKJJIHHHGGGKKWfhbbWTXadgflmmtxyxuqiRQJQORRNMRcikonYikjlinnkoplomibZfQswwy0yvrinldeoqsuwxkuvtqsfqlwxyzywosz0yYvx4zuokosvwtriqsvnwz0z0zwpuplklmnnpropnmoqsuuutsasrokfcZWUTTTVYbZXXXXXZbdegiiihfdaZYXYYZZabcfijjkkjgeaUPMMRYehgeaWOAAAIIPONNNNNNOOPPQQQQRRQPONLKKKLMOPPQRSSRRQONLLLLMNNMLKJJJIIIJKKKKKKLKLLLMMLLLLLLLMMMMNNOOOONNMMMMLLLKKKKKKKKKKKLLMNNNNMLJJIHHHHHHHHHIIJKMMNOPQPPONNLKJIHGFFFGHIJJKLLLALKFAAAAAEHHIIIIJJIIHHHHGGFFAFGGGGHHHHHIIIJJKLKAAKLMMMMMMLLKJJIIIIHHHHGGGGGGGHHHHHIIIIIIIIIHHHHHGGGHHHIJKLMMNNNNNNNOOOOOOONMMMLLLLKKJJIHHHGGGKKWggaZVTWYbffkllswxwtphRQJQOQQNMRciknmXhkjlmnnkoqnpmicahXuxxy0yvsiomddoqtvxyktvtqsnqmwwyzywnryzxWuw3ytnkosvxurmqswpy1100zwotpmlmnooqropnlnqsuuuttgtspjdaWTRRRQRVYWUUUVVWZbdfhiiigebaYXXYZbdegjkkkkkkifaUNKKQZgkifZUOAAAIIOONNNNNOOPPQQQQRRQQPONMMLMMNOAAAQQQAAAANMMMLLMMLKJIIIIIJLMLKKJJJJJKLMMNNOOOOOONNNNNMMMMNNNNNNNMMLLKKKKKKKKKLLLMMMMLKKJJJIIJJIHHHHHIKLMNOQRRQPONLKIHGFFFFFGHIJKLLLMLIAAAAAAAFIIJJJKKJIHHHGGGFFAFFFGGGGGGHHHIIJJIAAAAAILNMMMLLKJJIIIHHHGGGGGGGGGGGGHHHIIIIIIIIIIHHHHHHHIIJKLMMNNNNNNNOOOPPPOONNMMMLLLKKJIIHHGGGGKKXgfYXVTVWZeejlkswxwsohQQJQOQQNMRdiknmWgjjlmnnkpqrqmicbijvyyz1yvsjpmddoqtvxyktvsprsrmwwyzywnrxyvVtv2ysnjosvxuspqtxq03311zvntqnnnoooqroomlnqsuuuttnvtpjdaXVTTTSTWZXVVWWXZbdefffffedcbaaZZabbcdhkkkkkkgdZUPMMQXdgfdZVOAAAIIOOONNNOOOPQQRRRRRQQPPONNNNOOPPQQPPPOOOOONNNMLLLKIHHHHHIKMNMKJIIIIIJLMNOPQQQRRQPOONMLKKLMNOOOOONMMLLKKJJJKKLLLLLLLLKKKKJKKKKKJIHGGGHJLMNOQSSRQPNLJHGFFFFFFGHIJKLLMMMKAAAAAAAGJJKKKLLKIIHGGGFFEEEFFFFFFFGGHHHIIIAAAAAAAAKNMMLLKJJIIHHHHGGGGGGGGGGGGGHHHIIIIIIIIIIIIIIIIIJKKLMNNNNNNNNOOOPPPPOONMMMMLLKKJIIHHGGGGKLYgeWVUTUUXceikkrvwvsogQQLQOPQNMRdiknlVgjjlmmmkprsqnhcdkqx0zz1yvskqnddnquwyzktrspmsrnwwxyyvnqwxuYsu1xsmjnswyvsqqtys24421zumtrpooppprsoomknqsuuutuuwupidbZWVVVUVYaYXWXXZbefffedcccccccccbbaaZafkkkkkjfcZUROORWaccbZXOAAAIINNOONNOOPPQRRRRRRQPPPOOOOOPPQQQPPONNNNOOOONMLKKJHGGGHHILNONLJHHGGHJKMNPRRSSTTSQPONLJIIKMNOPPPPONNMLKJJJJKKLLLKKKKKKKKKKLLLLLKIHGFGHIKMNPRSTSRPNKIHGFFFFFFGHIJJKLMMMLAAAAAAAHJKKLLMMKJIHGGGFFEEEEFFFFFFFGGHHIHAAAAAAAAAALMMLLKJIIIHHHGGECCFGGGGGGGGGHHHIIIIIIIIIIIIIIIJJKLMNNNNNNNNNNOOPPPPONNMMMMLLKKJIIHHGFFFKMZgcUTTTTTWbdijjrvwvrngMKKKKKQRRRcoppiolheikjlppnoppopnlgllmmnolkqqdkpoonqonprcuucwy00uwz0xz32x1rqmqsqoqnZgorssrsuxyxuvutttxuwxwnusolkiZdhjmljhfjortpiccaYXXXWXZbZYYYZbdghhfcaZZabcdeeedcaYXYdjkkkkidaYVSRQRUXYZZZYOAAAIINNOONNNNOPQRRSSRRQPOOPPPPPQQQQQPONMMMMNOOONMLLKJHGGGGHJLOPOLJIHHGHJKMNPQRSSTTSQPONLJIIJLNOPPQQPONNLKJJJJJKLLKKJJJJJJKKKLMNNNLKIGGGHIKLNOQSSSQPNKIHGFFFFFFGHHIJKLMNMLAAAAAAAHJKKLMMMKJIHGGGFFFFFFFFFFFFGGGHHHEAAAAAAAAAAJMMLKKJIIHHHGEAAAAADGGGGGGGGHHHHHIIIIIIIIIIIIIJJKLMMNNNNMMMNNNOOOOONNMMMLLLLKJJIIHHEAAAKMZgaSRTTTSVbdhjjqvwuqmfKKKKKMQRRRcoppioliejlklpomnopoonlfkkmmnomkppdkpoolponprVuuYxz00uwy0xz33x1vpgpspnpmYforssrsuwxwuvutttxvxywdurfkjiTeikmljhfjnqsoidcbZZZYYZabaZZZacgikifbXWWYacefhgfdaXUVbikkkkicYXVUTSSSUVWXZZOAAAIINNONNMMMMOQRSSSSRPOOOOPPPPQQQQQPONMMMMMNNNNMMMLKJHHHHHJLNPOMKJIIIIJLLMOPQQQRRQPONNLKJJKLNNOOPPPPONMKJJIJJKKKKJIIIIIIJKKLNOOONMKIHHIJKLMNPQQQPNMKJIHGGGFFFFGHIJKLMNMLGAAAAAAIJKKLLLLKJIHHGGGGGGGGGGGGGGGHHHHFAAAAAAAAAAAILLKKJIIHHHFDAAAAAAAAEGGGGGGGHHHHHHHHIIIIIIIIIJJJKLLMMMMLLLMMMMNNNMMMLLLLKKKJJIIHHDAAAAKNZfYPPSUTRUachjjqvvuqmfKKKKKNRRRRcoppinlifjmkmpommopoomkejjlmnpmkpockpoompomprVuuYxz10uwy0xz33y1voforpmnkWeortsssuwxwtvutssxvyyxXurWjjiNeikmljhfimprojedcbabaaabcbbabbeikkjfZVTTWadfhjiheaVSSYhkkkkhbXWWVVUSRRRTVZbOAAAIINOONMLKKLNPRSTTSRPNNNOOPPQQRRRQPONMMLLLLMMMMMNNMKJIHHIJLNOONMLKKKKKLLMMNOOOOOONNMMLLLLLMMMNNOPQPPOMKJIIIIJKKJIHHHHHIIJKMOPPPPOMKJIJKKLLMNOONNMLKKJIIHGGFFFGGHIJLMNNLGAAAAADIJJKKKLKJIIHHHHHHHIIIIIIIIHHHHIFAAAAAAAAAAAAIKKKJIIHHHFAAAAAAAAAAADFGGGGGGHHHHHHHHHHHIIIIIIIJJKKKKKKKKKKLLLLLLLLKKKKJJJJJIIHGAAAAAAKNZeWNNRUSRTZcgiiqrvtplfKKKKKOSSQRcoppinligkmlmpnlmnpoomjdiiklnpmkonbjppoppnmoqVuuZxz10uwy0xz33y1uohoqolmiVdnstsssuvwvtuusssxwzzxWtqOjiiLfjklljhfiloqoidbaaaaaZaabbabbcdgiihdZWVVWZcdgiihfbWTTZgkkkkhcZZYXWVUTTTUVYZOAAAIINOONLJIIJLPRTUTSROMMMNOPPQRRRRQQPNMMLKKKKLLMNOONMKJIIIJLNOONNMMMLLLLLLLLMMMMMMMMMMMMMMMMMLLMOPQQQPMKJIIIIJJJIHGGHGGHIJJJLAANRPOMKKKKKLLLLLLLLLLLLKKJIHGGAAAAHIJKMNNLHAAAAAFIJJJKKKKJIIHHHHIIJJKKKKKJJJJIIGEAAAAAAAAAAAHJKJJIIHHHEAAAAAAAAAAAAAAEGGGGGGGGGGGHHHHHHHHHIIIIIIJAJJJJJJJJJJJJJJJJJJIIIIIIHHGAAAAAAAKOZeULLRUSQTYbgiiqhvsokeKKKKLPTSQRcppphmljglnlmpnllnpoolicghjlnqnkomajppoopnmoqVuvZy021uwz0xz33y1unknpolkhTcnsttssuvwvsutssrxw00yZtqNiiiMgjklljhfhinpndcaZZZaaZZZaaabbcdeefebZXXWXZbcfiiigcYVUZfkkkkiebbaZXXWVVVVWXXOAAAIIOOONKIGGHKORTUUTQNLLLNOPQQRRRRRQPNMLLKJJJKKMOPQPNLKJJJJLMNOOOOONNMMLLKKKKKKJJJKKLLMNONNMLKKLNPQRQPNKJIHHHIJJIGGGGGGGGGGIAAAOSRQNMLLLLKKKJJJJJJKLLMLKJIHGFFFGGHJKMNNLJAAAADHIIJJJJJJIIIIIIIJJKLMMMLLLLKKJJHFAAAAAAAAAAHJJJIIHHHGGFCAAAAAAAAAAAAADGGGGGGGGGGGGGGGGGGHHHHHHHHHAHIIIIIIIIHHHHHHHHHHHHHHHHHEAAAAAAAKOZdRKKQUSPSYbfiipXusokeKKKKMRTSQQcpqohmljhlommpnkkmooolhbfgiknqnknlZjppooonloqVvvZy021uwz0xz33z1umkmpnkjfSbmsttsstuvusutsrrxx11yhspMhiiThkllkjhfhdmonUbZYYYZZYYZaZabcccbbbbaZZZYYZabehiigdZWWZeikkkjgedcaZYYYXXWWVVOAAAIIOOONKHFFGJNRUVUTQNLKLMOPQQRRRRRQPOMMLJIIIJJLOQRQOMLJJJKLMNOPPPPPONMLLKJIIIIHHIJKKLNOPONMLKJKMOQRRQNKJIHHHIIIHGFFFFFFGHIKOQSTTTRPNMMLLKJJIHHHHIJLMNMLJIHGFFFFGHIKLNNLKGAAEGHIIJJJJIIIIIIIIJKKMNNNNNNNMMLKJJHFAAAAAAAAHIIIIHHGGGGGGFCAAAAAAAAAAAAEGGGGGGGGGGFGGGGGGGHHHHGGGGGAGGGHHHGGGGGFFFGGGGGGGGGGGGDAAAAAAAKOZcQKKPURPRXbfhipWusokeKKKKKOPONNanpfprsmrrqpqohXjigjpuzxurYloomlmnrsssrqoefjlJosWnvumesuwxy2033ylnnlljgefikdnpsquvujpqommnrvxxpktrJingZkjhefggikdlkkJXYXXYZZXXYZZZbccbZYYYYYaaaZZZadhiiheaXXZdghjkjhggfcaZaaZZYWUTOAAAIIOOONAIGFGJNRTUUSQMKKKLNOPPQQQQQQPPONMLJIIIJLORSRPNLKKKLMNOPPPPPPONMMLKJIIIIIIJLMMNOPPONMLKKKMOPQQPNLJIIHHIIIHGFGGGGGHJKNPSTTTSQONMLLKKJJIIHIIJJLMMLKJIHGFFFFFGHJKLLKJIHGGHHIIIIAIIIIIIIIIJKLNOOPPOOOONMLKJJHEAAAAAAFIIHHHGGGGFFGGGFCAAAAAAAAAAAFHGGFFFFFFFFFFFGGGGGGGGGGFFFAFFFFGFFFFEEEEEEEFFFFFFFFFFDAAAAAAAKOYbOKKOTRORXafhipVurnjeKKKKKNPONNZmoQprsmrrqpqjdXjigkpuywuqYloomllmqrstsrqffjlVpuWnuslesuxxy2z23ymonmljhffikWnprqtutipponnnsvxwpmsrNincdlkhdefhjldlkjJWXWWXZYXWWYYZbddaXVUVWYbcbaZYZcgijhfcZYacefhjkjiihebbccbaZWTROAAAIIOPPOAJHHHKORTUTRPMKJKKMNOOOPPPPQQQQPOMKIIIJLPRSRQOMLKLMNPQQQPPOONNMMMLKJJJJKLMOOPPQPONNMLKKLMNOOOOMLKJJIIIJIIHGHHHHHJKLNPRSSRRPNLLKKJJJIIIJJJJKKLLKJAIHGFFFFFGHIJKKKJIIHHHHIIIIAJJJIIIIIIJKLNOPPPPPPPONLKKJJGAAAAAAFHHHGGGFFFFFFFFGFCAAAAAAAAAAFGGGFFFFFFFFFFFFGGGGGGGGFFEEAEEFFFFFEEDDDDDDDEEEEEEFFFFCAAAAAAAKOYaMKKNTQOQWafhipVurnjeKKKKKMONMNZmnPprsmrrqpqibXjihkpuywtqYloomlllqrsttsshgikYqvkntrkesvxyy2z23zopomljhggjlTnprpsushoponnosvxwomsrYindenkhcdfhkmglkjJZaZYZaZZZabbaabaYVUUUVWZaaZZabehjihfbYXYabcdfffeeedbbddcbaXUROAAAIIOPPOAKJIJLOQSTSQOLKJJKLMMMNNOOPQRSSSQOLJIHJLPRTSQOMLLMNPQRRQPONNNMMMMMLLKKLMOQRRSSSQONMLLLLLLMAAAAALKKKJJJJJIIHIIIJJKLMOPQRQQPNAAJJIIIIIJJKKKKKKAAAAAAAAAAAFFGGHIJJJJJJIIIIIIIJAJJJJIIHIIJKLNOPPPPPPPONLKKJJIEAAAAAFHHGGGFFFFFFFFGGGFAAAAAAAAAAEFGGFFFFFFFFFFFFGGGGGGGGFFEEAEEEFFFEEEDDDDDDDEEEEEEEEFFCAAAAAAAKOXZLKKMSPNQWaehipVtrnjeKKKKKLNNMMYlmPprsmrrqpqkcWjihkpuxvtpXlopmlkjprsuuuuigikYrwunrpkdtvxyy2z130pqpmljihhkmUoprortshoponopsvwvomsrdhmhfolgacfimnmlkjJcdcbbabbdefebZYXVTTUUTVXYYYabcfjjihebYWXYZaaaaaabbbbcdeecbYUSOAAAIINPPPALKKKMOQRSRPNLKJJJKKLLLLMNOPRTUUTQNJHHILPSTSRPNMMNORSSSRPNMMMMMMMMMMLLMOQTUUUVTQNMLLLLHAHKLLLLLLLLLKJJJJIIIJJKKLLMNOPQQPONLKJIIHHHHIJKLLLLKJJJIJAJIIHGFFGGGGHIJJKKKKKKJJJJJAJKKJIIHHIIJKMNOPPPPPONMLKJJIIFAAAAAFGGGGGFFFFFFFGGGGGFAAAAAAAAAEFGGFFFFFFFFFFFGGGGHHHGGGFFEAEDAADFFEEDDDDDDEEEEFFFFFFFCAAAAAAAKNWYKKKLSPMPWaehioktrnjeKKKKKKNNMMYklOorsmrrqpqohWjihkptxvspXlopnkjiorsuvvwjghjZsxxmqojdtvyzz2z130qsqnkjihikmaopqorsrgnoonoptvwvnmsqdhmngpmgZaeinnnlkjJfhgecbcdgijgcZWVTRSUTSTUWWYacehkjiheaXWVVWXXWVWWXZabceffdcZVSOAAAIINPQPANLLLMOPQRQPNLKJIIJJKKKKLMNPSUWWUSOKHHILPSTTSQOMMNQSTUTRPNLLLMMNNNNNMMNPSVXXXXVRNLLLJAAAAAGKKKLLMMMLKKJJJJJKKLLMNNOPPPPONLKIHHGGGGHHIKLMMLKJIIIIAJJJIHGGGGFGGHIKLLMMLLKKJJJAKKLKJIHHIIHHLNOOOOOOONMLKJJIIGAAAAAFGGGGGFFFFFFGGGGGHHEAAAAAAAEEFFGGFFFFFFFFFGGGHHHHHHHGGFFADAAAACEFEEEDDDEEEFFFFFFFFFDAAAAAAAKNVXKKKKROMPVZehhottrnjeKKKKKKKKKLYjkRssssrorrrnmjhhotwyyxqssrmvwwslmoqrtrtpiSZjpnrplgnqpkwww024uwwspmkigeddgkvxxvrilopqponmoqstuuxxvssttsnjgfbrxwupmlNlkjhecdgjkkjdYUSQQRUTRRSTUXbegjkkiheaXVUTUUTRRRSTWZbdfhgedZVSOAAAIINPPPANNMNNPPQQQONLKKJIJJKJJKLMNPSVWWVSOKIHILPSUTSQONNOQTUUTROMLKKLMNNNNNNNNQTWYYYYWRMLLLLIAAAGJJJKLMMNMMLKKJJKKKLLMNNNOPPPONMKIHGGFFFGGHIKMMMLKIHHHIAKKJIHGGGFFGGHJLMNNNNNMLKKKAKLLKJIIHIIJKLMNOOOOONMLKJJIIIHDAAAAGGGGGGFFFFFGGGGGGHHIHFGHHHHHHGGGGFFFFFFFGGGGHHHHHHHHHGGFFEAAAAACDEEEEEEEEFFFFFFFFFEAAAAAAAAKMUVKKKKQMLOVZehiostroVeKKKKKKKKKLYhjQrsosrnqrqmljggotwyxxpsrrmuwwtmnopqrqqoiTajqmrpmiorpjvvvy02twxqqnljhfeegqvxwuqhknoppommnprsuvxyxututrnjhgcsxwvpnmXokkkgdeikkkkfXSPOORUTQPQRTWbfhkkkigdaWUSRRSQNMNOQTYbdgihfdaVSOAAAIINOOOOOAOOPQQRRQQPNNMLKKKKKLLMNOQSTUUTRNKIIJMQTUTSQPNNOQSTTSQNLKJJKLMNNMMMMMORUWWWWUQMLLLLLIAHKKKKKLMMNNMMLLLLLLLLLMMMMNNONMMKJHGGGFFFGGHIJLMLKJIHHIJKKLKJIGGGGGGHJKMOOPOOONMLKKKKLLKJIIIIIJKLMNNNNNNNMLKJIIIHHFAAACGGGGGFFFFFGGGGGGHHHIIIJJJJIIIHHGFFFFFFFGGGGHHHIIIIIHHHGGGECAAAAACDEFEEEFFFFGGGFFFECAAAAAAAAKLTUKJKKPLKOVZehiossroMeKKKKKKKKKKXgiPqrirrnqqplkifgotvyxwprqqluwwtnnopqqooniUbkqmrqojprpjuuuwz1swyornlkihgfgqvxwuqhkmoponmlnprsuvxzywvusqmkhhdsyxvqnmkmkkigdehkkkkgaWUSRSVTRRSTUXbeghhgedcaZYXWWWURQPQQSVXZbcccbZWUOAAAIINNNNNOAQQRRRRRRRRQPPONMMMMMNOOPQRRRRQOMKJAKNQTTTSRPONOQRSRQOMKJJJJKMMMLLKKLMPRTTTTSPMLLLLLLJLKKLLLMMMMNNNMMMMMLLLLLLLLLMMMLKJIGGGGFFFGHHIJKKKJIHHHIJLLLLJIHGGDEHJKMOPQQPQPONMLKKKLLKJIIIIIJKLMMNNNNNMLKJJIIHHHGCAAEGGGGGGFFFGGGGGGHHHHIIIJJJJIIIHHGFFGGGGGGGGHHHIIIIIIIIHHHGFDAAAAAAAADEFFFFGGGGGGGECAAAAAAAAAKKSTKJKKOKKNUaeiiorsrpMeKKKKKKKKKKWfgOqrgrqmpppkkiffntvxxwoqppltvwtnnoopphmlhUblqmrrplqspisssuxzqwznsomljihggpuwwupgjmnonmllmoqstvy00yxvsqmkiietyxwqomlkjjhfeehkkkkhdaYWUUVUTTUWWZceeedbaaabbbbbbbZWTSRRRSUUVXYZYYXWOAAAIINMLMNOARSTTTSSSTTTSRQPAAAAAAAQQQQPPONMLKKAMORTTTSRPOOOPQQQPNAAAAAAAAALKKJJKKMOPQQQQOMLLLKKKKLLLMMMMMMMNNOONNNNMLKKKKKKKKKKKJIHGFGAAAGGHHHIJJJIAAAHIKLMMLKIHGCAAAAANPRRRQQQPONMALLLKKJJIIIJAKKLMMMMMMLLKJIIHAAAGEACGGGGGGGGGGGGGGHHHHHHIIIIJJIIIIHHGGFGGGGGGGHHHIIIIIIIIIIHHHGDAAAAAAAAAACDFGGGGGGEDAAAAAAAAAAAKKRSKJKKNKKMUaeiinrsrpNfKKKKKLKKKKVefNprkrpmoookjhefnsvxwwopppktvwuooooonckkhVclqmssqmrspirrrtvxpwzpspmiljiggpuwvtpgjlmnmmkkmoqrtvy01zyvspmkjkfuzyxronkihhgfeegjkkkigedaXWVVUVWYYacddbYXWXZbdefggfdaXVTRQPQQQRUVWXXXOAAAIINLKLMORTUUUUTTTUWWVUTSQPOPQRRSRQPNMLKKKKLANPSTTTSRQPOOPPPONLJIHHHHJKLKJIIIIIJLMNOOONMMLLKKKKLLMNNNNNMMNOPPPOOONLKKJIIIIIIIIIHGFFGGGGGHIIIIAJJIHHHHJKLMMLKIHEAAAAAAAANNNNPQQPNNMLLLKKJJIIIJAJKLLLMMLLLKJIIHHHGGGGCFGHHHHHGGGGGGHHHHHHHHIIIIIIIIIHHHHGFGAGGHHHHIIIIJJJJJJIIIHHFCAAAAAAAAAAAAAAACAAAAAAAAAAAAAAAAKKPQKJKKMKKMUaeiinrssqNfKKKKKLKKKKVdeMoqrqpleonjigeemsuxwvnooojsvwupooonmZiihWdmqlssrossphqppruwow0rtpmimljhhpuwvtpfillmmlkjlnprtvy1310wrollklgvzyxrpnkgffeeefghiijkjihebYWVVXZaabccbXTSSUXcfhkkkjifbXVSOMMLKMPSTVYZOAAAIINKJKLORUVWVUTTUWXYXWVUSQPQRSTTSROMKIIIJKLANQSTTTSRQPOOOOONMKIHHHGHIKKKIHHHHHHIKLLLMMNMLLKJJKKMNNOOONMMNOPQQPPPNLKJIHHHHHGGHHGFEFGGDDHIJIIIAIIIHHHIJKLMMLKIHCAAAAAAAAAAAAAAMMNNNMMLLKJJJIIIAJJKKLLLLKKJIHHHHGGGGGFHHIIIIIIIHHHHHHHHHHHHHHHIIIIIHHHHHHGHAHHHIIIIJJJJJJJJJJIIIHEAAAAAAAAAAAAAAAAAAAAAAAAAAAAAAAAAKKOPKJKKLKKLTafiinqrsqOWKKKKKKKKKKOgiLjrqmlpaqssssqolikkfZkjhkprrstvuyvtqgplinprtutiovyzzxuprspmvxvqxumprqppomcprsoqnedkotsciYgjliquy0zxurqqooqrrqniTjiedddeeffgggikkkkjeZWWXZbcccccaUPOORWchkkkkkkkfaXSNKKKKKLPRUYbOAAAIIAKJKLORTUVUUTTUVXYXWWUTRQQRSSSRQNLJIHHIJLMNPSTTTSRQOOOOOONMKJIIIHHIJKJIHHHHHHIJKLLMNONMLKJJJKLMNNNNMMMMNOPPPPONLKJIHHHGGGGGHGFFGHGDDIJKJJJAIIIIIIJKLMMMMKJHEAAAAAAAAAAAAAKMMNONNNMLKKJIIIIAIJJJKKKKJIIHHGGGGGGGHGIJJJJJJJJJIIIIHHHHHHHHHHHHHHHHHHHHIGHAIIIJJJJJJKKKKKJJJJIIFAAAAAAAAAAAAAAAAAAAAAAAAAAAAAAAAAAKKMNKJKKKKKKTafjinqrsrOJKKKKKKKKKKPhjLjqqmmpZpqrstsplhjjgalkikoqpqtvuxurpjokglnqstsinvypzxvqstrnwywrxumprqponmdpttpinedkptsTiYgjliqty0zxurrrpqrrqpmiTjifeefffggggfikkkkieZWWXZbdddddcXSQRSWaehkkkkkkfaWTOLKKKKORTWacOAAAIIALKKLNPQRSSSSSTUWWWVVUSRQQQQQQPOMKJIIHIJKLMORSSSRQPONNOOOONMLLKKJIIJJJIIIJJIIJKLLMOPQPOMKJIIJKLMMMMLLLLMNNNNNNMLLKIHHHGGGGHHHGGHIIHIKKLLKJAIIIIJJKLMNNNMLJHGEACFHKLMMMLLMOPPPPOOONMLKJIIIIAIIIJJJJJIHHGGGGGGGGHGAAKLLLLLLKKKJJIIIHHHHHGGGGGHHHHHHHIIGHAJJJKKKKKKKKKKKKKJJIFAAAAAAAAAAAAAAAAAAAAAAAAAAAAAAAAAAAKKLMKJKKKKKKTagkjnprsrPJKKKKKKKKKKPijMjqqmmqeooqtvupkfijgbmljkooopsvuwtqonniekmorsrhnvyiyxwruvsoxywsxumprqponmdquvrdnfekpusPjYgjkhpty0zxurrrqrssqplhSijgfgggggggffhjkkkidZWWXZcdefffdaVTTUVYbehkkkkjeaWTPMLKKMQUWZcdOAAAIIAMMLLMNOOPQQQRRTUVUUUTRQPPPOOONMLKJJIIHIIJKNQRSSRPONMNOOPPPPONMMLJJIIIIJJKKKKKLLMNQRSRPNKJIIIIJKKKKKKKLLLLMMMMMLLKJIHHHGGHIIIIIIJJKKLMMMLKJIIJJKLLMNNNNMLJIHGGGHIJKKKJJKLNOPPPPPPONMKJIIIHAHHHIIIIIHGGFFFFFFGGHAAAHMMMMMMMLLKJJIIIHHHGGGGGGGGGGHHIIHFGAJKKLLLLLLLLLKKKKKHEAAAAAAAAAAAAAAAAAAAAAAAAAAAAAAAAAEFHKKKKKJKKKKKKTagkjniqssPJKKKKKKKKKKPikdjpqmnqnnmqtwvqjehjgcnnkknnmoswtwspmmmhciknqrqhnvxeyxwsvwtqyzwsxumpqqoonldrwxscofelputQjYgjkhpty0zwtqsssttspolgRijihhiihhhgfegikkkhdZXXYacefgggfdZWVVVWYaejkkkjeZWTQNMMMPTWYbdeOAAAIIANNMLLLLLMNOPQQRSTTTSSRQPOONMLLKKKKKJIHHHIAAARSRQONMLMNPQQRRQQPONLJIIIJKLLMMMMMMNPSUTSROLJIHHHIJJJJJKKKJJJKKKKLLAAAAIHHHHIIJJJJJKKLMNNNNMLJIIJKLMMNOOONNLKIHGGGGHHIHHHIIKMOPQQQQQQONLJIIHHAHHHHHHHHGFEEEEEFFFGFAAAAKOOOOONNMLKJJIIHHGGGFFFFFFGGHHIIGAAHIJKLMMMMLLLLLLKIGAAAAAAAAAAAAAAAAAAAAAAAAAAAAAFFGHIIHHHKKKKKKKKKKKKSahlknaqssQJKKKKKKKKKKPjlljpqmnqomkpuyxrjcgihcoolkmllnrwtvrollkfbhiloqpgnuxexxxtwxvr00wsxvnpqponmlesxyteogelputRjYgjkhptx0zwtqsttutspnkSQhkjijjjiihgfdfijkjhdZXXYadeghiihfcZXWVVVXbhkkkjeZWTQOOOPSWYadffOAAAIIAOONMKJIIJKMOPPQRRRRRRQQPOMLJJIIIJKLKIHGGHIKNQRRPOMLLLNPRRSTTSRQPMJIHIJKMNNNNNNMOQUWVUSOLJHGGGGHIHHIJJJIIIIIIJKLMLKJIHHHHIJKKKKKLLMNOOOONLJIIJLMNOPPPOONMKIHGGGGGGGFFGGHILNPQRRRRRPNLJIIHHAGGGGGGGGFEEEEEEEFFGAAAAAANPPPPOONMLKJIIIHGGFFFFFFFFGGHIGAAAAAAIJKLMMMMMLLJHAAAAAAAAAAAAAAAAAAAAAAIJJJJJKKKKJJIIIIHHKKKKKKKKKKKKSahlknVpsnQJKNOKKLNKQSfssrpoqsnpsqpqppkiiiloqlgonkmrw62wohikmnoljjkmqtuuwy0jm00wq01252zuvtrnrsttsrsttrmZmnpoljgTghimqtxwurpqqknrpgkmnkjKjjmljkkkjjigedfhijjgdZXXZbdegjkjjifcaXVTSTYekkkjeZWURQPQSVZbdfgfOAAAIIAPQPMKHGGHJLNOPPPQQQQQPPONLJIHHHHJLLKIGFFGHJNQRRPNLKKLNPRSUUUUTSQNKIHHJLNOPPPONNORVXXVTPLJHGFFFGGGGHIJIHGGHHHIKLMMKJIIHHIJKJLLLLLMNOPPPONLJIIJLNOPPQPPONMKIHHGGFFFFEEEFGIKNPQQRRRRPNLJIHHGGGFFFGGFFEEEEEEEEEFFAAAAAAAPPPPPONMLKJJIIHGGFFFFFFFGGHIGAAAAAAAAAAJKLLMMKIAAAAAAAAAAAAAAAAAAAAAAGJLLLLLLLLLKKJJIIIIIKKKKKKKKKKKKSaimlmUprkbJKNPKKMOKQTfssqpoqsnpsrpqpojiijmqrmgnmjlrw72wpikmopqnkkknqsuuvy0om00wq01242yturqmqssssrsttrmglmonkjgiggglptxxvsqqpjmqpgjllkjLkjmkhiihhgfedcegijjhdaYYadfghiihhihedbYVUUYdikkhdZXVTRRRTWYacefeOAAAIIASSRPMKJJKMPQRRRQQPOOOOONMKJIHHHHJKLKIHGGHIKNQRRPOMLLMOQSSTUUTSRPMKIHIJLNOOOOONMORUXWVTPLJHGGFGHHHHHIJIIHHIIIJKMMMLKJIIIIJHAIKKKKLMNOOOONLJIIJLNOOPPOONMLKJIIHHGFFFEEFFGIKMOPPQQQPOMKJGEAAAACFFFFFFEEEEEEEEEFAAAAAAAANPPOONMLKKJIIIHHGGGGGGGGGHHGAAAAAAAAAAAAAIIJJHAAAAAAAAAAAAAAAAAAAAAAGJKLLLLLLLLLKKJJJIIIIKKKKKKKKKKKKSainlmUormoJKNPKKMOKRTgsrqonqrnptrqqpoiijknrtmgmkilrw72wqkmoqrspmklnqstuvy0un00vpz1241ystqolprsssrsttrljklnmkjgigffjotyxwtqpoilpofjkkjkMlkmigfffeedcccdgijjhebZacfhiiigffhihgebYWVYcgihgdaYWVTTTUWYZbdeeOAAAIIUVVUSQNMMORTUVVUSQOMMMMMMLKJIIIIIIJKJIHHIIJLOQRRQONMMNPRSSTTSRQPALJIIIJLMNOONNMMNQTVVUSPMJIHGGHIIHHIJJJJJJKKKLMMMMLKJJIIIIJJJJJJJKKMNNONMKJAIJLMNOOONMMLLKJJJIHHGGFFFFGHIJLMNOOOONMKJIHGECAAEEEFFFFEEEEEEEEFFCAAAAAAALNNNNMLKKJIIIIHHHHHHHHHHIIJJJHAAAAAAAHIIIIIIIGAAAAAAAAAAAAAAAAAAAAAHJKKLLLLLLLLLKKJJJIIIIKKKKKKKKKKKKSaiommVnqrpPKNQKKMPKSTgrrponprnptsrrpnhiklosunfljikrx72wqloqsturnllnpstuvy0zo10vpz1241xqspnkoqrssrsttrlijkmljigjfedhntyywtqpngjoofijjjkNmllhedcccbbabbdgijjifcabegijjhfcdgkkjifbXXZbeffecaZYWVUUVXYYacddOAAAIIXYXXWTRPPSVXYYYXUQMLKKKKKKJJJJJIIIIJIIHIJKLMPRRRQPONNOQRSSSSRPONALJJIJKLMNNNMMMLNPSSUTROMJIIHHIJJIIIJJJAAAAAAAAAAMLKKJAAAIIJIIHHIIJKLMNMLJIAIJKMNNNNMLKKKKKKKJIIHGGGGHHIIJKLMMMMMLKJIHGGGFCCEEEFFFFEEEEEEEFFFDAAAAAAAILLLLKKJJIIIIIIIIIIIIJJJAAAAKLLLLKKKKKJJJIIHHAAAAAAAAAAAAAAAAAAAADHJJKKLLLLLLLLLKKKJJJIIIKKKKKKKKKKKKRajonmXnprpcKNQKKMPKTUgrqpnnprnptssrpmhikmpuvofkhhkrx72wrmpsuvwtomlnprttvy11o10vpz1241xorominqrrrrtttrliijlkiihjfdbgmszyxuqomfinnehiijkOnmlgcbZZZZYYZbcfijjigdbcfikkkhdabgkkkkieZYZbcdddcbaZYXWWWXXYZbccOAAAIIaaaaZXUSTWacccbZVQLJIIIJJJIIJKKJIHIIIHIJKLMOQRRRRQPOOPRSSSRQPONMAKJJJJKLLMMMMLLLMOPATSROMKJIIIJKKJJJJJKLMNNNOONNMMLLKKJIIIIIHGGGGHHJKLMLKJIAHIKLMNMMLKJJJKKLLKJIIHHHHIIIJJKKKKKKJJIHGGGGFFEEEEEEFFFEEEEEFFFFGEAAAAAAAGJKJJJIIIHHHHIIIJJKKKKKKLLLLLLLKKKKKKKKKJIHGFAAAAAAAAAAAAAAAAAAAAGIIJKKKLLLLLLLLKKAJJJIIIKKKKKKKKLKKKRajpnmZmprpkLNRKKNQKTUgrponmprnputtromgilnqvwofjggkrx72wsnruwxyvqmmnprstuy11p10vpz1241wmqmkhmoqrrrtnurkhhikjhihkfbZelszzyurolehnnegihilPonleaYXWXXWWYacfijkjhecehkkkkhcYZfkkkkkgbZZaaabbbbbaaZYXXXXXYabbOAAAIIddcccaXVWaefffecXQKHGGGHIIIIKLLKIHHHHHIKLMNPRRRSRRQPPQRSSSRPOMLKAJJJKKKLLMMLLLKKLMLAPRQOMKJJJJKKKKJJJJKLNOPPPPONMLLLKKJJIIAHGFEFFGGHJKLKJIHAHIKLMMMLJIIIJKLMMLKJIIIIJJJJJJJJJIIIHGGFFFFFFFEEEEEEFFFEEEEFFFGGGEAAAAAAAAGIIHHHHHHHHHIIJKLLLMMMMMMMMMLLKJJJJJJJJJIHFAAAAAAAAAAAAAAAAAAAAFHIIJKKKKLLLLLLLKKAJJJJIIKKKKKKKKLKKKRajpnmcloqpkTTUVURSTUQfstvtqolrtutsussrUYglstxuqnpqljvxz2zxvwyzxtpnosuwwutqotumsuwx030onsjfmphqbsgqjvtrolfkjbZnpigfjpu0333wmaehghpmXakkTjmlgedcbbaZYYZbegijjigegjkkkkgcYZdjkkkieaYYYZZabbbbbbaZYYXWWXZabOAAAIIeedddcZXXcfggfecXPKHFFFGHHIJKMMLJIIIIIJLMNOQRRRRRRQQQRSSSRRPNMLKJJJKKKKLLMMLLKKKLKAAAQPOMLKKKKKLLKJJJJKLNOPPQPONMLLLKKJJIHAHGFEFFGGHIKKKJJIAIJKLMMLKJIHHIKLMMMLKJJJJKKKKKJIIHHHGFEEEEEFFFEEEEEEEEFFFEEFFGGGGGFAAAAAAAACDEFGGGGGGHHIJKLMMNNNNNNNNNMLLKJIIIIIIIIIGEAAAAAAAAAAAAAAAAAAADHHIIJJKKKKKKLLLKKKAKJIGFFKKKKKKKKMKKKRajpnlfknpolTRTUTRSTUQfrtvtqnkqstttvttsMPfkqswtqnpqljvwx0yxvwxxwrnmnrtvvtrpmstmsuwxz20olsjgnqgqUrfpivtrpmgljbZoqjggkpuz222wmafhfgnlWZjjcilmjhhggfecaZYacfhijjigikkkkkgbYYcgjjifcYXXXYYZabbbcbbaZYWVUWYabOAAAIIdcccdcZXXbdddcbZUOJHGFGHIIIKLNNMLKKJKKLMNOPQQQQQQQPPPQRSSRRQONMLLKKKKKLLMMMMLKKKKIAAAQPONMMLLLLKKJJIIJJKMNOOOONMLLKKJJJIHHAHHGGGHIIIJKKKKKKAKLMNNNMLJIHHIKLMMMLLKKKLLMLLLKIIHGGFEEEEEEFFFEEEEEEEFFFFFFFGGGHHGGDAAAAAAAAAAAAAAADFGHIJKLMNOOOOOOOONNMKJJIIHHHHHHHGEAAAAAAAAAAAAAAAAAACHHHIIJJKKKKKKKKKKKKAKHAAAAKKKKKKKKNKKKRajpnkijmoomUQRTTRSTUQertvtrnjoqttuwuutMJejprvspnprmjvvwzyxuvvwuqmlmpsutrpnlrtmtvwxz1zokskhorirUreojvtsqohliaaprkhgkpuy222wmbfhfeljVYiibiknmkkkkjhfcZXZbehijkkikkkkkjgbYYadfgecZXWWWXYYabcccccaZYWUTUXZaOAAAIIababbbZXXZaaZYXVRNJHGGHIIJJKMNONNMMMMMNOOOPPPPPPPPOOOPQRRRRQPOONMLLKKLLMNNNNMLKKKJAAAPPPOONNMLLKJJIIIIIJKLMMNMMLLKKJJJIIHHAIIIIJJKKKKKKLLMMMNNOOOONMKIHHIKLMMMLLLLLMMMMMLKJIHGGFEEEEEEFFFEEEEEEEFFFFGGGHHHHHHGFAAAAAAAAAAAAAAAAADEGHJKMNOOOOOOOONMLKJIIHHHHGGGGGFCAAAAAAAAAAAAAAAAAFHHHIIJJJKKKKKKKKKKKKJFAAAAKKKKJKKKNKKKRbjpmjhilnomVPPSSSSTUPeqsvusninpstvxrvtMJchnqtromormjvuuyxwtuuvsolklorssqnmmqsmtvwwy1uoktlipslrUqcnmuutrpimiaapslihkpty111wmcghedkiUYhhahkopkkkkkkidZWYadghjkkkkkkkkjgbZYYacdbZXWVVVWXYZbccddcbaYVTSTWYaOAAAIIYZZZaaZXXXXWVUTROLJIHHHIJJKLNOPPOOOOOOPPPPPPPOOOOOONOOPQRRRRQQPPONLLKLMNNOONMLKKKKKALOPPPPPONMLKJIHHHHHIJKKLLLLLKKJIIIIIHIAIJJKLMMMLLKKLMNOOPPQQPOOMKJIIJKLMMMMMMMMNNNNMMKJIHHGFFEEEEFFFFFEEEEEFGGGGGHHIIIIIIHGDAAAAAAAAAAAAAAAAACDAAAHIJLNNNNNNMMLKJIHHHGGGGGGGGGAAAAAAAAAAAAAAAAEGGHHIIJAAAAAKKKKKKKKKIFAAAAKKKKJKKKOKKKRbjpmjghkmonVONQSSSTTPeqsvusnhlnrtwyqwuXJbgmosqolormjuttxwwttttrnkjknqrrolknpsmtvwwx0lnltmjqtpsUpbmruuttqjmiaaqtmihkptx001wnchhdcigTXhgZgjpskkkkkkkfZWXZcfhkkkkkkkkkifbZXXXYZYWVUUTTVWXZbcdeedcbYVSRSUYaOAAAIIWXXYZZZXWWUSRQPNLKJIIIIJJKLMOPPQQQQQQRRQQQPPONNMMMNNNOPQQQRSSRRQPOALKLMNOPPONMKKJKLKNOPQQQQQONLJIHGGGHHGHIJJJJKKKKJIIIHHIIAJKLMNOONNMKKLMOQQQRRRQPONLJIIJKLMMMMMMMNNNNNNMLKJIHHGFFFFFFFGGFFFEFFGGHHHIIIJJJJJJIHGAAACCCCAAAAAAAAAAAAAAAAAAAKMMMMMLLKJIIHHHGGGGGGGGGGGGGFEDAAAAAAADFGGGHHHIJJJKKKKKKKKKKKKJGAAAAKKKKJKKLOKKKSbjpmifgjmnoWNLPRSTTTPdqsvvtngkmqtwztxvlJafknrpnjornkutsvvvtssspljiimpqpmkilprmuvwwx0fnmunkrussVoalruuuuskniaaqunjilptx000wndhhcagfRWgfZfinpkkkkkkkidaabcdehkkkkkkkiigdbaYXXYWVVVVTTTUVYbdddcbZXWUTSTUWXOAAAIIUVVWYYYXWURPNMLKJIJJIIJJKLLNOPQRSSSSSTTSRQQPNMLLLLMMMNOPPQRSSSSRRPAMLMNOPQQPOMKKJJKLMNPQRRRRPNLJIGGGGGGFGHHIIIJKKJIIHHHIIJAKLMOPQQPOMLKLNPRRRSSSRQPNMKIIJKLMMMMMNNNOOONNMLKJIIHHGGGGGGGGGGGFFFGHHHIIJJKKKKKKKJJIEDDEEEEDDCAAAAAAAAAAAAAAAAHLLLLKKJJIIHHHHGGGGGGGGGGGGGFFFEEEEFFFFGGGGGHHIIJJJKKKKKKKKKKKJIGAAAKKKKJKKMPKKKSbjolhefilnobTRUYYVRLMallnonZmorwxyrovqcJbfenppljpqqvumitwquzyywuqWsstsplhhklnpsuwvusXnceUilmopdljmprvyzxwslhquwstrqvy1440ugljgcfcVUimpqqrtpkkkkkkkkheddcccehjkkkkihhgfdcZXWWVUUVVUSSSUXadedaYVUTTTUTTTUOAAAIITTUUVWWVUTQONMLKJIJJIIJJKLMNPQRSTTTTUUUTSRRPNMLKLLMMMMNNNNOPQRRRRRQOOOQQRQQQPNLKKKKKLMNPQQQQPNMKJIHGHHGGFGHHIIJKLKJJIIIJJJAKLMOPPPPONMLMNPQQQRRRRQPOMKJJJKLLMMMMMMNNNNNMMLKJJIIIHHHGGGGGGGGGGGHHIIIJKKLLLLLLLLKJHFGGGGGFFEDCAAAAAAAAAAAAAAFJJJJJJIIIHHHHHGGGGGGGGGGGGFFFEEEEEEFFFFGGGGHHIIJJJKKKKKKKKKKJJJIGFAKKKKJKKMPKKKSbinjgdehknpbSRUZaWSLMallnnmYmorwxyqnupbJbfenmqllqrqvunisvpuyyxwurXttttpmihklmosuwvutdngfVjlnppomknprvyzxxtnirvwstsrvy02vytgmlhcecVVjnqrrrrmhjkkkkkkkihfcaacfhijjigfghgfebXVUTTUWWURQRSWadecZVSRRSUVUSRROAAAIISSSSTTTTSRQPONMLJJJIIIJJKLMNPQRSTUUUUVWVTTSQNLKKKLMMMMLKKKLMNOPQRSTSSSTTSRRQQOMLKKKKKLMNOOOOONMMLKJIIIHGGGHIIIJLMLLKKKKKKKKKLMNOOOOPONNNOPOOOPPQQQPOMLJJJKKLLLLLLLLMMMMMLLKJJJIIIIIHHHHHHHHHHHIIIJJKLLMMMMMMMMLLJIHHHHHHGGFEEDCAAAAAAAAAAAEIIIIHHHHHHHHHHGGGGGGGGGGGGFFEEEDDEEEFFFFGGGGHIIJJJKKKKKKKKKKJJJJIHFLKKKKKKMPKKKTbimiecdfjmpaRQUabXSLMallnmlXlorwxxqntoaJbfdnmqmnqrrwvnjsvotyxxxurXttutqojhkklortwwvtnojgVkmnpqpnmoqrvyzyyuoksvwtutrvxz1dwsgnmidecVVkorssrqjdgikkkkkkkkgcYYZcfhhhgfefhihgcXTSSSUXXURPPRVaefcXSONORVXVRPNNAAAIIRQQQQAQQQQQPPPOMLJJIIIIJKLMNPQRTUVUUVWXWVUTROLJJKLMNNLKIHHHIKLNORUWWWWWVUSRRRPNMLLKJJJKLLMANNNNNNMLJJIIHHHHIIJKMMNMMMMMMMLKKKLLMMNOPPPPPPONAMNOPPPPOMLJJJKKKKJKKKKKALLLLLLKJJJJJJIIIHHHHHHHHIIIJJJKLMMNNNNNNNNNMLKJJIIIHHHHGGFEDCAAAAAAAAADHHHGAGGGGGHHHHGGGGGGGGGGGFFFEEDDDEEEFFFFFGGGHHIJJJKKKKKKKKKJJJJIIIGJKKKKKKNPKKKUcilhdbceimqaRPUacYSLMamlmlkWlorwxxpmsnZLbfdmpqmorsrwvnjsuosxxxxvrYuuuurpkikklnrtwwwuspngWkmnpqppnpqrvy0yzwqltwwtuusvxy0auqgnnjdebVWlptttspgacfikkkkkkkicXVXadggfeddfijjidWSQQRUXXUQONPUaegbVPLKMQVZVRMKKAAAIIQPOOOANOOPQQRRQOMKIIHHIJKLMOPRSTUVVVWXYYWVUSOKJJKLMNNLIFFFFFGAAAQVZaaaaYVTSSRQONMLKIIIIIJKALMNOPPONLKJJIHHIIJKLNNOOOONNNNMKKKKKKLMNPQRRRQOLAKLMNPPPONAAAAAAAJJJJJJJAKKKKKKAJJJJJJJJIIHHHHHIIIJJKKKLLMNNNNNNNNNNNMLKKJJIIHGFEDDEEEEDDDCAACGGGGGFAFFGGGHHHHHGGGGGGGGGGGFFFEEDDEEEFFFFFGAAAAAIJJJJKKKKKJJJJJIIIIIJKKKKLLNPKKKUchkgcabdhmqZQOUbeZSLMamlmljWloswwwolrmZWbedmpqnprtsxwojsunsxxxxvsYuvvvsqlikjknqtwwwvspnhWlmopqqqpqrrvy0y0xsnqwwtvusvwxyYspgopkeebVWmquutsphccefhikkkkjeZWVXadgggfeefhhhfcXUTTUWZZVRPOQTYcdZTOLKLPUXUQMLLAAAIIPNNMLALLMNPRSSRPNKIIHHIJKLMOQRSUVWVVWYaZYXVSOKIIJLNONLHFFFFFFGILQXbdeedbXUTTSRPONMKIHHGGHIIKLOPQRQPNLKJJIIIIJKMNOPPQPPPONMKJJJIJJKMPSTUTROKAIJKMOPPOMLJIIIIIIIHHHIIAJJKKKKAJJJJJJJJIIIHHHIIJJKKLLLMMNNONNNNNNNNNNMLKKKJIHFAAAADFGGGGFFFFFFFFFFFAFFGGGHHHHHHHGGGGGGGGGGGFFEEEEFFFFGGGGGGHHIIIJJJJJJJJJJIIIIIIIIJKKKKMLNPKKKVchjfaZachlreWTXdYTSNLWhhbgecbhopo0zmovqkikmoolhbjkllklhlrsnswzvyvvxvusrssnnprsuvxvwrlggffgjlmorsusqnkpuxu0xqXz1yuqojoruUspminjaUYaciotwmojeedddddefggeaXWVXaeghhhgfggfedbYXWWXZaaXTRQQTWZaWRNLKKNSVSPNMMAAAIIOMLKJJJJKNPRTTSQOLJIHHIJKLMOQRSTVVVVXZaZYXVTOKIIJLNONKGFFFFFFFGKPXdfggfcYUTTTSQONMJHGGFFGGHJLOQRSSQOMLKJIIIIJLNOPQQQQPPPOMKJIIHIIJMPSUVUSOJHGHJLNOONMKJIHHHHHGGGGHHAIJJKJJAJJJJJJJJIIHHHHIIJKLLMMMMNNONNNMMMMNNNNMMLLLKIGAAAAAAFHHGGFFFFFFFFFFFFFFGGHHHHHHHHHHHHHHHHHHGGGGFFFGGGGGGGGHHHHIIIHHHHHHHHHHIIHHHHHHMLKKKMMNPKKLVdhidZYZbglreWTXdYTSOMWiibfdcbhopo0zmnuqlklmonlhbjjkkklimrskswyvzwwywutstuooprtuvyvwrkffecfjlnprtuspmintwtzwpOy0yvrqlprvWurninjaUZbdjotwcokggebaZYYYabZWVVWXaeghiihggfdbbaZZZZabbbYVSRRSUXXUPMKKKLQTRONNOAAAIIONMLKJJKLNPRTTTROLJJIJKLMMNOPQQSTUUUVXXXVUTRNKIJJAMNMKGFFFFFFFGJOUacddcaWTSSRQONMKJHHGGGGHIJLOQRSRQOMLKJIIIIJLNOPQQQPOOONMKJJIIIIJLORSTSQMIGGHIKMNNMLKJIIHHHHGGGGGHAJJKKKJAJJJJJJJJIIHHHHIJKLMNNNNNOOONMMLLLLMNNNNMMMLKIAAAAAAAGHHHGGFFFFFFFFFFFFGGHHHIIIIIIIIIIIIIIIIHHHHHHHHHHHHHHHHHHHHIIGFFFFFFFFFFGGHHHHHRNKKKNNOOKKLWdghcYXYbflseWTXdXTTPMXjicfdbbhopo0zmnurnmnnonlickjjkkmjnssjrvxv0yy0xvutvvpoprtvwyvwrkefebfjlnpstusokglrvsyrpNxzyvtsmpswYwtoimjbVacejpuwWpliieaXVTRRTWUSTUWXbehijjihgebZYYabccdddcZWUSSRTUVRNLKKKKORPONOOAAAIIONMLKKKKLNQRTTSRPMKKKLMNOOOOOOPQRSTTUUUTSRQOMKJJKAMMMKGFFFFFFFGIMRWYZZZXUSRQPOMLKJIHHHHHHIJKMOQRRRQOMLKJIIIIJKNOPPPPONNNNMLKKJIIIJLNOQQPNKHGGGIJKLLLLKKJIHHHHGGGGGHAJJKKKKAJJJJJJJJIIHHHHIJKMNOOOOPPOONMLLKKLLMNNNNNNMLAAAAAAAAGIHHGGFFFFFFFFFFFFGGHHIIIIIIIIIIIIIIIIIIIIIIIIIIIIIHHHHHHHHHHEDDDDDDDDDEEEFFGGGSOKKKOOOOKKMWdggbXWXaflseXUXdXUUQNYjjcfdbbiooo0zlmuspoooonlickjjjknlosslruwv0zz1xrutwwqoprtvwyvwqjeedcejmoqstrrnjejqurxkoMwxywvtnqsxayvpjmjbVbdfkpuwWqmkkfZUROLKNQPORUWYbfhjkkkjhdZWWXbdffgfedbYVUSRRSSOLKKKKKMPONNPOAAAIIONNMLLLLMOQSTTSRPNLLLNKNPPPONNNOQRSSSSRQPONMLKKKKALMLJHFFFFFFFGIKASUVVVUSQPPNMKJJIHHIIIIJJKLMOPQQQPMMMLKIIHIJKNOPPONMLLMMMLLKKJJJJKLMNNMLIGFFGHIJKKKKKKKJIHHHGAAAAAAJKKKKKAKJJJIIAAAAAAAHHIJKLMMMNNNNNNMKKJJKLMNOOOONNLAAAAAAAAFIIHHGGFFFFFFFFFFGGHHIIIJJJJJJJJJJJJJJJJJJJJJJJJIIIIIIIIHHHHGAAAAAAAAAAACDEEFGGTQLKKPOOOKKNXdffaWVWZekteXUXdXUUROZkkcfcbbioao0zlmusqqppomljdkjijkomptsmquwv1113yovuxxqppruwwyvvqjddcceimoqsurrmhchptpwenLvwyxxvprtyg1xqjmibWcdflqvxWromkicXTROOQTSSVYZbehiijigfdbYXXXZbcccccbaXVUTSSTTRONNMLMPSRQQROAAAIIOONNMLLMNOQSSTSRQNMMNPMPRRQONMLMOPQRQPOMLLKJJKLLKALLKJHFFFFFFFGHJLOQRRRRQPONMKIIHGGHIJJJKKLLNOPPQQPLMMLKIHHHIKNPPPOMLKKLLMMLLKKJJJJKKKKKIGFFFGGHIIJJKLLLKJIHHGGGGGHIJKKLLLAKKJJJJJJJIHHHHIKLMNNNNNMMLKLLKJJJJKLNOOPOOOMAAAAAAAAFIIHHGGFFFFFFFFFFGGHIIIJJJJKKKKKKKKKKKKKKLLLKKKJJJJJJIIIIHHHGDCAAAAAAAAAACDDEFFVSNLMQPOOKKOYefeZVUVYekteXUXdXUVSPalkcfcbbioRo0ylmutssrpomljekjiikonqtsmqtvv2234zmwvyzrppsuwxzvvqicdbbdimortuvqlfbfnslvbmKuvyyyxqsu0t3zsjlicXdegmrvxdrqpkkfaWUSRTVVXZcdfhjjihfdbaZYYYXXYZZZZaaYXWVUUUVVTRQPPOPSUTTTUOAAAIIOOONNMMMNPQSSTSSQONNOQSTTSROMKKLMOPQPNLJIIHHJKMLLAKKKJHGHHGFFGGHHIKMNNOOOONMKIGGFFFHJKKLLLMMNOPPPPPMNMLKIHHHIKNPPPNLKJJKLMMMMLKKJJJIIIIHGFFFFFFGGHIJKLLLKJIHHHGGGGHIJKLLLLLKKJJJJKKJIHHHIJKMOQRRRRRRQOMLJIIIIJLMOPPPPPPLAAAAAAAFJIIHHGGFFFFFFFFGGHHIIJJJJKKKKKKKKKKKLLLLMMMLLLKKKKJJJJIIHHGGGGFEDCCAAAAACCCCEFWTPMNRQPPKKPYefeYUUVYdktcWSKVdbWWUcejdYXfnuxaxuy12374zvrmjhfdadmqtuuusuvwwuvrpsphatz050tpsxz00xvsnifegkqvz1iwqgUdfhlofrasVqvyxswvtsrplhkcdchghlquptpdjlpkkidYWVUWYZbdfhjkkkigcZXWXYZZXVVWWWWYYXWWWWVWWXVUSSSSTVWWWWWOAAAIIOPPONNMMNOQSSTTSRPOOPRTTUTROMKKKMNPQOMKIHGGGILMMLAKKJIIHIIHHHHIIIIKLAMMMNNMLJHGFFFFHJKLLMMMMNOOOOPONMMLJIHHHIKNPPPNAJIIJKLMMMLKKJJIIHHHHGFFFFFFFGGHIJKLLKJIHHGGGGGHIJKLLLLKKJJJJJKKJIIIIIJKMOQRRRRRQPOMKJIHHIJKMNOOOOOONAAAAAAAFIIIHHGGFFFFFFFFGGHHIIJJJKKKKKLLLLLLLLLLMMMMMMLLLKKKKJJJIHHGGGFFFFEDDCCCCCCCCEFWUQOPRQPPLKPYeedXTUUXdkocVQKTbaWWVdfkeZXgnuxayuy11362ytqljhfYbdnrtvvutvwxxvwspsphcuz050tosx000xvsokhfhkqvz1iwqhVdfhlocrbsWrwzxswvtsrplhjVdchghkpsnrolilqkkkfbZYYZacfijkkkkkieZVTTUYaaWTSTSSTWWWVWXXXXYYXWVVVWXYYYZZYOAAAIIPPQPONMLMOQSTTTTSQPPQRSTTSQOMKKLMOPQPNKIHHHHJLNMLAKKJJIHIJIIJKKLLLLMAMMMMMLKIHGGFFGIKLLLMMMMNOOOOOONMLKJIHHHIKMOPPNAJIIJKLMMMLKJIIIIIJJIHGGGGGGGGGHIJKKKJIHGGGGGGHIJJKKKKKJJJIIIJJKJJJJJJKLMOPQQQQQPONLJIHHHHIJLMNNOOOOOLAAAAAAFHIIIHHGGGGFFGGGGGHHIIJJJJKKKKKKLLLLLLLLMMNNNMMLLLLKKKJJIIHGGGFFFFEEEEEEDDDCCEGXVSQQSRQQMLQYdedXTTUXdkcbUPKRZZVWVegmgaYgouwayuy11251wspljhfTbenruwvvuwxzywxsptqifuz040tomy110xuspmjhikqvz1iwqhVeghlocresWsx0ytwvutrokgiScbgggknrmqnkilrkkkidcbbccfjkkkkkkkidWRPQSXbbWRQQPPQTVUVWXYYZZaZZYYYZaaabccaOAAAIIAQRQPNLKLNQSTUUUTSQQQRSSSRQOMLLLNPQQQOLJIIIIKMNNMLKKJJIIIJJKLMNOOOOOANNMMLLJIHGGGGGIKLLLLMMMNNOOOONMLLKIHGGHIKMOPPNAJIIJKLMMMKJIIIIJKKLKJIHHHGGGGHHIIJKJIHGFFFGGHHIJJKKJJJIIIHHIIJJKJJKKKKLMNOPPPPOONLKJIHHHHIJKLMMMMMMMMIAAAAAAGIIIHHHGGGGGGGGGHHIIIJJJJJKKKKKKKKKKLLLMMNMKIAAAIKLLKKJJIHGGFFFFFEEEEFFFEEDAEGYXTRRSRRQNMQYddcWTTUXclXbTOKPXXVWVehnhbZhoswayvz1124zuroljhfObeosuwwwvxz00xytptqiku004zsniy211xusqnkijlmvz1iwqhVfgilogqgscty1ztwvutrojfiScbgggjmpkoljhimkkkifdcbaacfijkkkkkkfZTRSVaedZUSSQQRTUUVXZZZaaZaaaZZZZYXYaaaOAAAIIARSRPNLJKMQSUVVVUTRQRRRRRQPOMLAAAARRQOMKJIIJLNONMLKKJJIIIJKMOPQQRRQQPAAALKKJHHHHHHHJLLLLLLLMMNOOONMLLKJIHGGHIJMOPPNAKJIJKLMMLKIHHHIJLMNMLKIIHHHHHHHHIIJIHGEEDCFGHIJJJJJJIIHHHHHHIIJKKKLLLLMMNNNNNNNMLKJIHHHHHHIJKKLLLLLLLAGAAAAFGHIIIHHHHGGGFEDDAAAAAAAFGIJJKKKKKKKKKLLMLIAAAAAAAAIKLKKJIHHGFFFFFFFFFFFGFEDADGZYVTTTSRROMRZddbWSTTWclXbTNKNVWUWWfioicahotwdyvz1123yspnlkhfJbeosvxwxwy011yyuqtqilv004zsnhy221xtsrpmjjlcvz1iwqiWfhilomqjswuu2ztwvutroiehTbafgfikninkigfhjjihgfdaYXZbegikkkkkhbVTUYdggdYVUSRRTUUWYaaaaaZabbbaZYWVWXZaOAAAHIASTSQNKIJMPSUVWWWUSRRRRQQPONMMMNPQRSRPNLKJAKMNOOALLKKJIIJKLOQSTTUUTRQPOMLKJIHHHIHHIKLMMLLLLMMNNONNMLKJIHGGGHHJMOPPNMKJJJKLMMLJIHGHIHMNOONLKIIIHHHHHHGGGFDAAAAAEGHIJJJJJIHHGGGGGGHIJKLLMMMMMMMMMMMMLLKJIHHHGGGHHIIJJJKKKKKAJFAAFGGHHHHAGGFDAAAAAAAAAAAAAAAAAGJJJKKKKKKKLKAAAAAAAAAAAAKLKJIIHGFFFFFFFFFGGHGEAAAFZZWUUTTSRPNRZddbVSTTWclYaSMKLTVUWWgjqjdahouwlyvz1112wronlkhfJbfotwxxyxz122zzuqtrjmv0z4zsnkz331xttsrolklVvy1iwriWghjlopqmswvq30twwuurnidgWbafffhjlhljhfcbdeghihdZWVVXaceikkkkjdXVXbgiigbXVUSRSTUWZbcbbaZbcdccZWTSTVYaOAAAGIATUTQNKIILPSUVWXWVTSRRQQPPONNMNOPRSSRQOMLKALNOOOAMLKKJJIJKMPSUVWXXVSRQOMKJIIHHHIIIIKLMMLLLLLMMNNNMLKKJIHGGGHIJMOPONMKJJKKLMMLJHGGGHINPQPPNLJIIIHHHHHDEEDAAAAAAFGIJKJJJIHHGFFFFFGHIJLMMNNNNNMMLLLKKKJJIHHGGGGGGGGHHIIIIJJJAJGAFGHIIJJIAIIHGFDAAAAAAAAAAAAAAAFIJJJJJJKKKLLKIAAAAAAAAAKMLLKJIHGFFFFFFFFGGHHHFAAAFZZXVVTTTSPORYccbVSTUWclZRMKKPTVVVUcklgYakrxvnresvy20vrqnldchLfmruuvttoxzwswwpoplimqveumfagqxz33153zsqqqXy00yytnijiikoqsprtvn0zwyxtoqleeifnonnmnmlkjjgcYUXZdgjieZVTSTVYbgkkkkkfZWZeikkjfaXVTSSSUXaddcbaZbdeedaVRPQTXZOAAAHIQTVURNKIIKORTUUVUTSRQQPPOOONNNNOQRRSRQPNMMAMNOOOAMLLLKKKKLNQTUVWWWURQPNLKJIHGGHHHHHJLLLKKKKKLLMMMMMLLKKJIHHIIJLNNNNMLLLLMMMMLKIHGGHHMOPPOMKJIIHHHHHFAAAAAAAAAAFHIJKKJJAHGGFFFFFGHIKLMNNNNNNMLKKJJJIIHHGGGGGGGGGGGGHHHHHIIIIIHHIJJJJJJAIIIIIHFEAAAAAAAAAAAAAFHJJJJJJJKKLLMMLKAAAAAJMMMLLKJIHGFFFFFFFGGHHIHGAAAAZZYWVTTUJQORYbbbVSUUXcmZNOLKQUWVVTbjkgZclrxvtseswy30vqpnlechLfmsutusrnwyvrvvonplimqudtlfZhovy22141ztrrraxyzxyunikjilprsrrtvr0yvxwsnojddehnooononmkjjfbWOSVagkkfYTQPPRVYdkkkkkibYchkkkkicZXUSRSUXbeedcaZbefgeaTPMNRVZOAAAIIRUVUROKIHJMPQRSSSRQPPPOOONNNNNOPPQRRRRQPOOAOOOONAMMMLLLLLMOQTUUVVUSPONMLKJJIGGGHGGGIKKKJJJJJKKKLLMMMMMMLKKJJJKKLLMNNNNNNOONNMLJHHHHHLNNNMLJIIHHHHHHDAAAAAAAAAAGHIKKKJIAHGGFFFFGGHIKMNNOOONNMLKJIIHHHGGFGGGGGGFFFFGGGHHHHHHIIIJJJJJJJJAIIIIIIIHGGEAAAAAAAAAAFGIJJJJJJKKKLMNNOONLLMNMMMLLKJIHGFFFFFFFGHHIIHGAAAAZaYXWTUUJRORXbbaWTUVXdmcLPNKRUWVUTaijgaemsxvvsftwz30vqpnmediLfmsuttrqmvxuqvvnnpljnqucrkeZgntw0104zztrrriwxyxxunjkkjmpstsrtvxzxuwvrmnibcbinoopoponlgifbXLXZeikkgaVSRRUXZdjkkkkhdaceghhgebZYWUTUWZceedbYXZbcdbXSONORWaOAAAIIRUWVSOLIHIKMOPPPPOOOONNNNAAAAAAPPQQQQRRQQQQPPONNANNNMMMMNNPRTTUUTSQNMLKKKJJIGFFGFFFGJJJIIIJIIIJKKLMNOOOONMLLKKJJKLMOOPPQQPOONLKIIIIILMMMLKJIIHHHHIIAAAAAAAAAAAGHJKKJJIAHGGAAAAAHIJLMNOOOONNMLKJIHHGFCAAEFGGGGFFFFGGGHHHHHHIIIJJJJJJJJJIIIIIIIIIIIHGFAAAAAAFGHIJJJJJJKKKLMMNNNNNMMMMLLLKJIIHGFFFFFFGGHIIIHGAAAAZaZXWTUVJSPRXaaaWTVVYdnoLRPKSVWVUSZhjgbgotyvvtgtxz3ruppnmfdiMfnsutsqplvxtpuummoljorubqidYelsvz0z30ztssstvwwwxunjlkknqstsstvyyxtvuqlmgaacinopqpqpnlkifaYLcehkkkhbXUTUWYadhkkkkheccbbbbaaaaZXWWWYbefecZXWXYZaZVRONPSXaOAAAIISVWVSPLIHHJKMMMMMMMNMMMMMNNOOPPPPPPPQRSSSSRRPONNANNNNOOOOOPRSTTTSQNLKKJJJKJIGFFFFFFFIIIHHIIHHHIIJLNPPQQQPOAMLKIHHJMOQRSSSRQPONLJIIJIKLLLKJIIIHHHIIIAAAAAAAAAADHIJKKJJIHHGGGGGGHHIKLMNOOOONNMLKJIHGDAAAAAAEFFFFFFGGHHHIIIIIIJJJJJJJJJJJIIIIHHIIIIIJJJIIHHHHHHIIJJJJKKKKKLLMMMMMMLLLLKKKJJIHGGFFFFFFGGHIHHGAAAAAZaaYXTVWJTPRWZaaWUVWYdnzPTQKTVWVUSZgigchpuywvtguxz3iuponnfefMgnsussookuwtpttllolkoruaphcXdkqtxzz320usttvvuvvxuojlllnrtusstuyywtutqkkeYZegmopqqrpomkieaZOhjkkkkidYWVWYacdfhhiihgecZWVUUWZbaZYYYadffecYVUUVWXWTPOOPTXbOAAAIITWXVTPLJHGHIJKKJJKLLALLLMMNOPPPPPPPOPRTTTTTSQNMMANOOOPPPPPQRSSSSQOLJIIIIJKJIGFFFFFFFHHHGGHHGGGGHILNQRSSSSQPNMKHGFILPRTUVVTRPPOMKJJJIKKKKJIIIIHHIIJJAAAAAAAAACEHIJKKJIIHHGGGGHHHIJKLNNOOOONNMLKJIFCAAAAAAAACFFFFGGHHIIIIJJJJJJJJJJJJJJIIIHHHHHIIIJJKKKKKKKJJJJJIIHGIJKKLLLLLLLLKKKKJJJJIIHGGGFFFFFGGHGGFFAAAAAAZaaZXTVXJTPRVYZaWUWWZeo0JMNNKOOPMPajflkZYjlqsrpfkljJjlrwurnhPqstrpbkorpvvspuuttrqmmqsukcUNWfklsw584xobnoqruy22yuqrrmmnkehmpjrsrlqplhhdSTbkjqtvkvvutnjfcTkkkkkkjeaYYZacdddeeeghhgcWRPOOSYbbbaaacfggebXUSSSTUTQOOOQTYbOAAAIITWXVTQMJHGGHIJIHHIKKAKKLLMMOPQQQPOOOPRTUUUUTQNLLMNNOOPPPPPQRSRRQPNKJIHIIJKKIGFFFFFFFHHHGGGHGFFGHILORTTUUUSQOMKHFEGKPSUVWVURPPOMLKJJKKKKKJIIIIHIIIJKAAAAAAAAAAEHIJJJJIIHHGGGHHIIJKLMNOOOONNNMMKJIHDAAAAAAAACFFFFGHIIJJJJJKKKKKKKJJJJJJIIHHHHHHHIIJKKLLLLLLLLLKJJIHAHJKLLLLLLKKJJJJIIIIHHHGGGFFFFFGGGFFEAAAAAAAAZabZXTVYJUPQUXZbXVXXZeo0PMOOKOOOLOajfkjYYjmqsrpfjkiLkmrvtqmiSprsrpbkorpuuspuutsrpllprtjcUOXgkltx684xpOpqrsuy21yuqrrnnnlfhmoiqsrlrqmiidSSakjquwkuuutnjfeXkkkkkkkgcaabdeedcaabehjidUMKKKOXcccccdeghhfbWSRPPQRRONNPQUZcOAAAIITVWVTQNKJHHIJJJIHIJKAJJKKLMNPQQPPONNOQSTUUTROMKKKLLMMNNOOPPQQQQPOMKJJJJJKKKIHFFFFFFGIJIHHHHGGGHIKNQTUVVVUSPOMJGEEGJNQSTUTSQONNLKKKKLLMMLLJIIHHHIIJKKAAAAAAAAAAGIIJJIHHHGGHHHIIJKLMNOOOOOONNMMKJIHGFAAAAAADFFFFGGHIJKKKKKKKKKKKKKJJJJIIIHHHHHHHIJJKLLMMMMMMMMLKKJIAIJLLLLLKKJJIIIHHHHHGGGFFFFFFFGGGGFEAAAAAAAAAYabaXTVYJUOPTWYbYWYYafpzPNPPLPONKNZifjiXXjmrtrpeiigTknrvsplknpqrqobloqpuusquutsqolknpsjcVOXglmuy784xpQqsstvy10xtqrrnnolfhlnhprrlrqoiidRSbkjrvxkottsokgdUkkkkkkjgdabdfhhgfdbceghgbUOLLMSaffgfeeghhgfcYVUSRQRQPPRSUWZbOAAAIITVVVTQOLKJIJJKJIIIJKAJJJKKMNPQQPONMMMOQSTTSQNKJIIIJKKKLMNOOOOOOONMLLKKKKKKKJIGGGGGHJKLKIIHHHHHIJLOSVWWWWURPNLJGEEGIMOQRRRPOMMLKJJKKMNOONMLJIHHHIIJLMLLAAAAAAAADHHIIHHGGGGHHIJJKLMNOPPOOOONNMLKJIHGGFDAACEEEEFFGHIJKKLLLLLLLLLKKKJJJJIIHHHGGGHHIJKLLMMNNNNNMMMLKJAAIJLLLLKKJIIHHHGGGGFFFFFFFFFFFGGFFEEAAAAAAAAAYabaXSVZJUOOSVYbZXYZbgpzPNQPMQOMKMYieihWXjnstrpehhfZkosuqnkknopqpoblpqouutqvutspnkjmorjdVPYglmvz794xqRsttuvy1zwtqssnnolghlmfoqqlrrpjjcRSekkrvxkdsssokgcQhjkkkkjgdbdgijkjifddeefeZTPOOQXehijigghihgfebYXVSRRQQSUWXYaaOAAAIISUVUTRONLKKKKKKJIIJJJIIJJKLNPQQPNMLKLNARSSRALJIHGGHHIIJKMNNNNMMMMMMMMMLLLLKKJIIIIIJLNNLKJIIHIIJLNQUXXXYXVROMKIGEEFHKNOPPONMLKJJJJJLNOPQPOMJIHHHHIJLNOPPMAAAAAAAAHHHGGGGGGHIIJKLMNOPPPPOOONNMLKJIHGFFEEEEEEEEFFGHIJKLLLLMMMLLLKKKJJJJIIAHGGAAAAAAALMMMMMMMMMMLLKJAAIJLLLLKJJIHGGGGFFFFEEEEAAAAAAAAEEEEAAAAAAAAAYacbXSVaJVNNRUYcZYZacgpzONQQNROMKLYheigUWkosuspdgfdYlpsupmjjnopponbmpqotutqvutromjhlnqibWPYhlnw0893xrTuvvvwz0ywtqssoopmghklenpqlssqkjcRRekkrwykUrssolgbNcegjkkjgdbeikkkkkifeeddcYTQQRUcikkkkjijjiggfdbaXUSQQSVYaabaZOAAAIISTUUTRPONMLLLLKJIIJJIIIIJJLNPQQPNLKJKMAQRRQNJHGAFFFFGGGIKMMLLLLLLMNNNNNMMLLKJJJJKKMOPONLKIIIJKLMOSWZZZZYVRNLKIGFFFGJLMMMLKJJIIIIIJLOQRRRPMJHGGGGHIKMOPPPLAAAAAACGGGGGGGGGHIJJKLMNOPPPOONNNMMLJIHHGFEEEEEEEEEEFGHIJKLLLLMMMLLLKKKJJJJIIAHGGGGHHIJKLLMLLLLLLLLKKJAAAIJLLLLKJIIHGGGFFFFFEEEEEFFFEEEEEEEEFFFGGGGAAYacbXSVaJVNMQTXcaZabdhqzOORROROLKKXhdhfTVkotvspcfecYlqstoliimnooonblpqntutrvutroligkmpiTWQYhmow09+3xrUwwwwxz0xvsrssoopmghkkclpqlssrlecQRejksxykTqrsolhaKXZcgjjigecfkkkkkkkgfecbZWTSSUYgkkkkkkjkkigghgedaWSQQTXbdddbYOAAAIIRTTTSRQPONMMMMLKJJJJIHHIIJKMOQQOMKJIJKAPQQPMIGFAFFFFFFFGJLLKJJJKKMNPPPONMMLLKKKKLMOQRQPMKJIIJKMNPUYaaaZYVRNLJHFFFFGHJKKKJIIHHGGHIJLORSTSQNJHGFFGHIJAOPPPNIAAAAAAFGGGGGGGHHIJJKLLLNPPOONNMMMLKJIHGGFEEEEEEEEEEFFGIJKKLLLLLLLLKKKJJJJIIIAHHGGGHHIIJKLKIIJJJJJJJAAAAAIJLLLKKJIIHGGGGFFFFFEEEFFFDCDDDEEFGGHIIJJJIHYbdcXRVbJVMLPTXcbabcehqyUSUUVRKLKKWkmpqqropqrnutqkicYadgdgkiiikmjmlUilnjcstwwvwuvvurqqpUnljjljkot1x11Xfnnmmsy252zpmrojgeddfijmnnooqpdjgcaehmqsqPcsxxwshJSUYeijigedhkkkkkkkigebZXVTTUXckkkkkkkkkkifgijhgdYTPQUafhhfbXOAAAIIRSSSSSRQPPOOONMLJJIIHHHIIJKMOQQOMKIIIKMPQQPMJHGAFFFFFFFGIKKJHJJKLNPQRRQPONMMLLKKLNPRRQPNKJIIJKMNPTXZZYYXUPMKJHGFFFGHIJJJIHHHGGGHIJLOQRSRPMIGFFFGHIKMNOPONJAAAAAADHHGHHHHHHIIJJKJIKNNNNMMLLLKJIHGGFFEEEEEEEEEEFFGHIJKKKKKKKKKKJJJJJIIIHAHHHHHHHHIIJKIAAAAAAAAAAAAAAIKLLKKKJJIHHHGGGGGGFFFFFFECACDDEFGHHHIIIIIIIYbdcYRVcJVKKOSXdcbcdeiqxUSUUVRKLKKWknpqqroqrpnutrkicYZdgehljjjklillLilZjdsuwxvvtuvurrsrVnmjjlkkot0w0zZcmnnntz3630qmroifdcdgkkmnnopqqckhdbehlqrrTeuyywshPQTYdijjhfdgjkkkkkjgecZXWUTVWZekkkkkkkkkkkhhhgecZVRPPTYceeebYOAAAIIQRSSSSSSRRQQPPOMKJIHHHHIJJLMOPPOMKIIIKNPRRQNKIHAFFFFFFFGIKKJJJKKMPRSSSSRQPONMLKKKMOQRQOMKIIIIKLMORUVVVVUROLKJHGFFGGHIJJJIHGGGGHIJKLNPQQPNKHFFFFHIKLMOOOONKFAAAAAHHHHHIIIIIIIIIJJKLLLLLLLKKJJIHGGFFEEEEEEEEEEEEFFGHIJJJJKJJJJJJJIIIIIIHAHHHHHHHHHIIIJIIIIIIIIIIIIIIJKKKKKKJJIIIHHHHHGGGGGGGGFEDEFGGGGGHHHHHHIIIYbedYRVcNUKKNSXedcddfiqsUSUUURKLKKXlnpppqorrinutrkicYZdhfinkkjjkikkLimQkdtvxxvvsuuustusaomkklklou0wzxnZkmoouyt741qnqoifccdgllnnooprrfliebehlprrggvzyqsiSPSXdikjhfefhiiiihgecZWVUUUWZbgkkkkkkkjkkkjihdaYVSPOPRWacccbZOAAAIIQQRRSTTTTTTSRRPOLJHHGGHJJKLMOPPNLJIIJKNQRSRPMKJAGFFFFFFGIJJJJKKLNQTUUUUTSRQPNLKJJKNPQPOLJIHHIJKLNPRRSRRQOMLJIHGGGGGHJKKJIHHHHHIJKKLMNOOMKIGFEFGIKLMNOOONMLHAAAAGIIIIIJJIIIIHHHIIIJJJKKKKJJIIHGFFFFEEEEEEEEEEEEEFGHHIIJJJJJIIIIIIIIIIHHAHHHHHHHHHHHHHHHIIIIIJJJJJJJKKKKKKKJJJIIIIIHHHHHHGGGGGFGGGGGGGGGGGGHHHHHZcedYRWdUUKKMSXedddegjpeUSUUURKLKKXlopppqprsfnutrkjcXZdhgkomljjjhkkLimQkeuwxxvustttsuvtgpnlkmllou0vyvoWimopvlg742rnmoiecbdhmmnnopqsskmiecfhloqrrix1zltiRORWdjkkigeeeeeeddccaXUTTTVYbdhkkkkkkihkkkkjgbWURPOOOQTXZabbaOAAAIIPQQRSTUUVVVUTSAAAAAAGGIJKKLMOPONLJAAAANQSSSROMLAIHGGGGFGHJJJKKLMPSVVWWXWUTRQOMJIIJLOPPNLJHGGHIJLLMNOOOONMLKJIHGGGGHIJKKJIHHHHHJKKLLLMMLKIGFEEFHJLNOOOONNMLJGEAFIIJJJJKJJJIHHHHGGGHHHIIIIIIHGGFFFAAAAAAAAAAAAAAAAAGHHIIIIIIIIIIIIIIHHHHAHHHHHHHHHGGGGGGGGGHHHIIIJJJJJJKKKKKJJJJJIIIIIIIHHHHHHHGGGGGGGGGGGGGGGGGZcedYRWeXUKKLRYfedefhjpWTSUUUQKLKKXmoppoqpssgnttrkjcXYdihlpnlkjigjkLjmRlfvwyxuurstttvxvlpollmlmpuzuxulThlpqwdh853sohoiebbdinnonoprttqmjfcfhkoqstkz2vitiRNQWdjkkjgfdcaZZYYZaYVSRRSVadgjkkjjkiggkkkkkfYTQOMMOOORUWYZbbOAAAIIPPPQSUVWXXXWVUTQMJGFFGIJKLLNOOONLJIIJLOQSTTSQONAKJIIHGGGHIJJKLMNQUXXXYZYWUTSQMJHHIKAPONKIHGGGHIKKKKKKKKJJJJJIHGGHHHIKKKJIHHHHIJLLLLLKKJIGEEEEGIKNOPPPONMLKJJHEIIJJKKKKKKJIHHGGGFFFFGGHHHHHGGFEEEEEEEEEEEEEEEEEEEEFGGHHHHHHHHHHHHHHHHHHHIIIIIIHHGGFFFFFFFFFGGGHHIIIJJJJJJKKKKJJJJJJJJIIIIIHHHHHHHGGGGFFFFFFFFGGZdfeYQWfZUKKKRYgfefghkpVYTRTWWTPMKUopkoswywwniy12xunZbhilmnpqqqpkqnKenSknvwpsssttuyy21upqqrrqpjqx1nxqhchmruwab00zyvbmfdcekqwsnuttuxxurnlajiihlptwz2phtkULPVdjkkjhfcZWVUTTVYWSQPQSWcgikkjhhhgffjkkkkeWPMKKLNONPSUVYacOAAAIIOOPQSUWXYZZYWVURNJGFFGIKLLMNOPONLJIIJLOQSTUUSQPAMLKJIIHGHIIJKLMORVYYYaaaYWUTQMJHGHJAOOMKIGGGGHIJJIIHHHHHHIIIIHGHHHIJKLKKIHHHHJKLMMLKJIIHFEEEFGJLOPQQPOMMLKJJIHIJJJKLLLLLKJIHGGFFEEEFFGHHHGGFEEEEEEEEEEEEEEEEEEEEEEFGGGHGGGGHHHHHHHHHHHIIIIIIIHHGFFEEEEEEEEFFGGHHIIIJJJJJJJKKJJJJJJJJJJIIIIIHHHHHHGGGFFFFFFFFFFZdfeYRWfaTKKKRYggfggikpUYTRSUUSOMKTmnioruxhvshx13nwpabhilmnoppqokpmSemRjnvwpsssttuyy22vprrrqpoiqw1myridinruvZZzzzyuXleddflrtsntsstxxuqnlajihgkptw02kitlXQTYejkkigebYWVVUUWYWTRRRTXcfikkkjjjhfehjjjgaUQNMLMOOOQTVXZabOAAAIIOOPQSUWXYZZXWVTRNJHGGHIKLMNPRRRPNKIHIKMPQSTUUTRRPOMLKJIIIJJKLMNORVXXXYZXWUSRPLIHHIKAOONLJIHHHIJKLKIIIIHHHIIIIHGHHHIJKLLKJIIHIJLMMMMLKJJIHGFGGHJLNOPPONNMLKJJIIIIJJKKLMMMLKJIHGGFFEEFFGHHHGGFFFFFFFFEEEEEEEEEEEEEEEFGGGGGGGGHHHHHIIIIIIIIIIIIIHHGFFEEEEEEEEEFFGGHHIIIIJIIIIHHGGAEFGGHIIJJIIIIIIIIHHHGGGFFFFFFFFZdfeZRXfaTKKKRYgggghjlpTYSRRSTROLKSlmhnrmwZvrhw14eyqabhilmnooppojpmhdlRjnvwpsssttuyy22wqsrrqpnhpv0myskfjnsuuZYyzzytYkedeglrpsmsrstxxtqmkajigfjosx03giumaUXbfjkjhecaYWWWVVXZXUSSSUXcfikkkkkkiedeeedbXTQPNMNPPQSVXYZaaOAAAIIPPPQSUWXYZYWVUSQNKIHHIJKLNPSUUUSPLJHHIKMOQRUWVVUTRPNMLKKJJKKLMNORUWWWWWVTRQPNKIHIIKNPPNMKJJJJKLMMLKJJJIIIIJIIHGHHIIKLLLLKJIIJKLMNNNMMLLKKJIIIJKLMMNNNNNMMKJJIIIIIIJKLMMNMLKJIIHHGGGGGHHHHHHGGGGGHHGGFFFFFFFFFEEEEEFGGGGGGGHHHIIIIIIIIIIIIIIIIHHGFFEEEEEEEEEFFFGHHHIIIIIIIHHGEAAAAAEFGHIJJJJJJJJIIIIHHHGGGGFFFFQdfeZSYgaSKKKRYhhghijlpSYSQQRRQNLKRjkgmrfwZuqgw15g0raahilmmnoooniolhdlSimvwpsssttuyy23wrtsrpomgoq0mytlhlostufXyyzxtdjdefhmrorlrqrtxxtpmkajhgfiosx13egundZbehjjifdbZXWWWVWXZXVTTTVYcfikkkkkkiecbaYXVTRRQPOOPQRUXYZabaOAAAIIPPPQSUWXYYXVUTSAAAAAAAAAMORUXYXVRNJHHHIKMOQUXYYYWURPONMLLKLLMNNORTUUUUTSQONMLJIIIJLNPPONMLKLLMNOONMLKJJJIIJJIHGHHIJKLMMLLKJJKLMNNNNONNNNNMMLLLLLKKLMMNNNMLJIIIIHHIIKLMNONMLKJJJIIHHAAAAHHHHHHIIIIIIHHGGGFFFFFEEEEEFGGGGGHHHHIIIJJJJJJJJJJIIIIHHGFFEEEEEEEEEFFFGGHHIIIIIIIIIHFDAAAAEFGHIJJJJJJKJJJJJIIIHHGGGGGGJdfeaTYgaRKKKRYhhhijkmogYSQQPPONLKQhifmrcvYtpfv16i2sbagilmmmnnominlgckVimvwpsssttuyy23xsusrpomgnjzlytnjmpsttmVxxyxsmideginsrrlrpqtxwtpmkajhfeinsx14devpgdegijihebaYXWXXWWYZYWUUVWYcfikkkkkkjebYVTSQPQRSQPPQRSVYabbbZOAAAIIPPPQSVWXYXWUTSRQOMLKKKKLMOSXabaYTOKHGGGIKLPUZbbbaXURQPPNMLLMNNOOQSTTTSRPNLLKJIIIJKMOPPPONMMMOPPPPPOMLKKJJJJJIHGHHIJKMMMMLLKKKLMNNNOPPPPPQPPONMLKJJJKLMNNMLJIIIHHHHIJLMNOOONMLKKKJJIIIIIIIIIIJJJKKKJJIHHGGGGGFFEEEFFFGGGGHHHIIJJJJJKKKJIHHIIIIHHGFFEEEEEEEEEFFFGGHHHIIIHHHHHHGEAAADEFGIIJJKKKKKKKKKKJJJIHHHGGGGJdfeaTZhbRKKKRZhhijjlmopXSQPNNNMLKPggdlravXsofu17j3ubZgilmmmmnnmhnkgckWhmvxqsssttuyy34ysvtronlfmcylyuoknqsttsUwxyxslhcehjnsvqkqpqsxwsolkajhedhnsx14ebvqkhijjjigdaYXWWXXXXYaZXVVWXZceikkkkkkkeaWROMLLORTSQQRSUXabccbZOAAAIIPPPQSVWXXXVTSRQPONMLLLLLMPUZcedaWPKHFFFGIKOUadeedaWTSRQPNMMNNOOOQRSRRQOMKJIIHHIJKLMOPQQPPOOOPRRRRQPNMLLKJJJJIHHHHIJLMNNNMLLKLMNNNOPQQQQRSSSQPOMKIHIJLMNNMLJIIHHHGGHJLMOPPPONMMMLLKKJJJIIIJJJKLLLLLLKKJIHHGGGGFFEEFFFGGGHHHIHAAAAAAAAAAAAAAAAEHHGGFEEEEEEEEEFFFGGHHHHHHHHGGGGGEAACDEFGIIJJKLLLLLLLLLLKJJIIHHHGGJdfebUahcRKKKRZhijjklmooaSNKKKKKMLWhimnpVoRpuyy54e3wnhfgjlpvz1xplhkmnjXrrrrndfouzy0zrywtpqpmkpppTnmjjlnhqsromdptvvsomnorw1z53xprttuvsomlkkiiifouyz0YYuqkhhhggfcaYYXXYaaZZZaYWVVVWZdfikkkkkkidaVRONMMOSUSQQQRTWZabaZYOAAAIIQPPQSUVWWVUSQQPPONNMMLAAMPUZdeebWQLHGFFFHJNUaeeedbXTSRRPONNNOOOPPQQQPOMKIIHHHIJKLLNOPPQQQPPQRRRRRQPNMLLKJJJJIHHHHIKLNNNNMMLKLMNNNNPQRRRSTTTRQONKIGHIKLNNMLJIIHHHGGHIKMOPQPPONNNNNMLKKJJJJJKKLMMMMMMMLKJIHHHGGFFEEFFFGGGHHIGAAAAAAAAAAAAAAAAAAADGGFEEEEEEEEEFFFGGGHHHHHHGGFFFFFCACDEFHHIJKKLMMMMMMMMMLKKJIIHHHHJdfecVbhfQKKKRZhijllmnooaSMKKKKKMMWhjmnpVobpuyx43e2wohfgjlpwzzyrmikmnjVrrrrndfov0z0yqxwtqrqnkpppQmmkkmohprqnmlpsvuqnlmosx1053xorttuvspnmlkiihentxxyXWtojhgfddbZXXXXYacdcbaaYWVUVWaegjkkkkkkgcZVRONMMPSUSQQQQSVYZZZYXOAAAIIQPPQRSTTTTRQPOOONNNNNAAAAPTYbccZVQLIHGGHIKOTYbbbaXURQQPONNNOOPPPPPPOOMLJIIHHIJLMMMNNNOOPQQQQRRQPPONMLKKJJJJJIHHHHIKMNOONMLKJKLMMMNNOPPPQRSRQPOMKIHHIJKLMLKJIIIHHGGHIKLNPPPPOONOOONMLLKJJJKJJLMNNNNNMMLKJIIHHHGFFFFFGGGGHHFAAAAAAAAAAAAAAAAAAAAAAGFFEEEEEEEEFFFGGGHHHHHGGFFEEEEEDEEFGGHIJKLLMMNNNNNNMMLKKJIIHHHJceedWcheQKKKRZhihmmnnonZSMKKKKKMMWhjmnpWpmquyw32dzvoiggjlpuzrztjjkmnkVrrrsndfpw101yqwwtrrrnlpppRknklopipqpmmlpsutpmjloty1053xorsttvtqomllihhdmrvwxWVsnigfcaZYWVVWXZcefecbaYWUUUWaehjkkkjjhebYVQONMNPSUSQPQQRTWYYXXWOAAAIIQPPPPQRRRQOONNNNNOOONAAAALSWYZZXUQMKJJJJKMOSWYYXWURPONNNNNNOPPPPPONMALKJIIIGILNOONNMLMNPQQQRRQPONMLKJJJIIIJIIHHHIJKMNOONMKJIJJKLLLMNNNNOPPPOONMKJIHIIJKKKJJIIIIHHGHIKLNOPPPOOOOOOONMLKKJIGAAAKMNNNNNMLLKJJIIIHHGGGGGGGGHDAAAAAAAAAAAAAAAAAAAAAAACFFAEEEEEEFFFFFGGGGHGGGFFEEEEEFFFFGGHHIJKLMMNNNNNNNMMLKKJIIHHHSbeeeXdhdPKKKRZhjbnoooonZRLKKKLKMMWhjgnpVpoquxv22cvvojghjlptzr1vclllnkZrsrsoegpw212ypvvursrolpppRknlmpqippomllpsusokikntz2053woqsttwurpnmlihgclquvvVUrlhgdaXWVTSTVXaehigecaYVUTUWafikkkjhgecaYUQOONNQTUSQPPPQSVXXWVVOAAAIIQPPOOOOOONMLLLLMNOPPOKAAAORUWWWVTQNLLLLMMNPRUUUTSQNMLLLMMNNOPPQPPNMLAJIIIIJHKNPPPOAAAAAAQRRRQPNMLKJIIIHHHIIIIHGHIJKMNOONLJIHHIIAAAAKLLLLMMMMMLLKJIIHHIIIIIIIIIIHHHHIJLMNOOOONNOOOONMLKKJIGAAIKMMMMMMMMLLKKKJJJIHHGGGGGGGDAAAAAAAAAAAAAAAAAAAAAAAFGFAFFFFFFFFFFFAAAAAAGGFFEEEEFFFGGGHHIIJKLMMMNNNNNMMMLKJJIIHHHYbdeeZehdPKKKRZhjToppoomYRLKKLLKMMXgjeopVqpruxu11frvpjhhjlptzv2xZmllnkjssssoegqx322youvustsolqppRlomnqrioonlllpstsnjhjnuz2053woqsstwurqonmihgbkpttuTUqkgfcYVTRPPSUXbgjkjgcaYVTTTWbgjkkkhedcaZXUQOONOQTUSQPPPPRUWVVUUOAAAIIQPOONMMMLKJJJKKLMOQQPOKJNOPRTUTTRPONNNNOOPQRRRQPOMKJJJJKMNOPQQQQOMKJAIHHIJJJMPRRRQNKIIKNQRSRQOMKIHGGGHGGGHIIHHGHHJKMOOOMKIGGFGHIIJIIIIJJIJJJKKKJJJIHHHHHHHHIIIIIHHHIJKMNNNNNNNNNONNMLKKJIHAAIKLLLLLMMMMMMLLLLKKJIHHGGGGGEAAAAAAAAAAAAAAAAAAAAAAFHGGAFFFFFFFFFFFFFGGGGGFFFFFFFFGGGHHHIIJKKLMMMMMMMMMMLKKJIIHHHGXadefZehcOKJKRZijOpqqpolWRKKKMMKMMXdkfopUqqsvxt00mmvpkhikmpv044zZnmlmkrssssoegqy333youvututpmqqpRnpmorsjonmklmprtrlhfinu03053wnqsstwvsrpnmjhfajnrssSXpkdfbWTRQQSWZcfjkkjfbZXWWXXZbeghiigeedbaYVSPPPPSVWUTRRRRTVXWUTSOAAAIIQPONMKKJJHHHIJJKMOQRQPONNNOQRRRRQPOOOPPQQQQQPONMKJIHHHIJLNOPQQQQOLJIAGGHIJKLNQSSSQNJGGJMPRSSQNLIHFFFFGFFGHIIHHGHHJKMOOOMJHFEEEFGHHHGGGGGGGGHIIJJJJIHGGGFFGHIIIIIHHIJJKLMNNNMMMNNNNMLLKKJJHAAHKKKKKLLMNNNNNNMMMMLJIIHHGGGFAAAAAAAAAAAAAAAAAAAAFHIHHGAGFFFFFFFFFFFFFFFFFFFFFFFGGHHHHAIIJJKKLLMMMMMMLLLKKJIIHHHGGWadfcbfgbOKJKRZikPqrrpolbYQMKKKLKLahZammJnrriqrx0um2zurgiljhnrvzewtrttuvvvvrkgUepv3ywpgx011zxxupOilmnmtuutsssqpofhigfksz311xqroorsusqqrfrspfhfeblmlNXpgbfaVRPPQUaehjkkkjfaYXXZabccddefggffedbZWTRQQRUXYXVUUTUVWXWUSROAAAIIQPONLKJIIHGHIJJKMPRRQPONMNOQRRSRRQPOOPPPPPAONMLKJHHHHHHJLMNOPPPPNLJHAGHHIJKMOQSSRPMIGGILOQRQPNLJIHFFGGGGGHIIIHHHIJLNOPOMKHFFEFGHIIHGFFGFFFFGHIIJJJIHGGFFFGHIIIIIHHIJJKLMMMMMMMMMMMMLKKJJJHFEHJJJJJKLMNOOOOOOOONMLJIHHGGGGCAAAAAAAAAAAAAAAAAGIJJIIHHAGGGFFFFFFFFFFFFFFFFFFFFGGHHIIIAJJJKKLLLLLLLLLLLKKJJIHHHGGGWZcfXcffaOKJKRaikQrsrqokaZRNKKKMLMbmZfnnJnrqbqrx00j2zusgiljhnrvzhxustuuvvvvrlgVfpv3zwqgx0120yyupTjkmnmttutsssrpndfhhgmsz210wqrpprstrqprfrspgjgfbmmlYXphcfaUPNORXejkkkkkjeZWXZcegfdbaacfgggfecaYUSRRTWYaZYXWWWXYYWTRQOAAAIIQPONLKJIIHHIJJKLNPRRQPNAMNOQSTTTSRPOOOOOONALLKKJIHHHIHIJKMMNOOOOMKJIAHHIJKLMNPQQPOLHGGHJMNOOONMLLJIHHHHHHIJJJIIIIKLNOPONKIGFFGHIJJIHGGFFEEFHHIJJJJJHHGGGGHHAJIIIHHIIJKLMMMMMLLLMMLLKKJJJIGEEHHHHIIJKMOPPQQQQQQPOMKJIHHGGFDAAAAAAAAAAAAAAAHJKKJJJIIHAGGGGFFFFEEEEEEFFFFFFFFGGHIIIJJAJKKKKKKJJIIIJJJKKJJIHHHGGGGVYcfTdgfZOKJKSajlRltsqojZaSOKKKMLMbmagooMorqJqrwzzi2zvsgiljhnrw0kxusuuuvvvvrlgVfpv3zxrhx0242zzupcjkmnmttttsstspnbehiintz210vprppqstqpprfrsqhkigcmmlkVmiffZSNLNRaikkkkkkjeZVWaeikieaXXZdfgggfdbZWTSTVYabbbaYYZZZZWTQOOAAAIIQPOMLJJIIHHIJKLMOQRRQPNALMORTUVUTRQOONNMMLAJIJJIIIIIIIIJKLLMMNNMLKJIAIIJKKLLMNOOOMJHGGGIJLMMNNOONMLJIIIIIJKKKJJJJKMOPPPNLJHGHHJKLKJIGGFFEFGHIIJJKKJIHHHHHHIAJJIIHHHIJKLMMMMLLLLLLKKKJJJJIGEDGHGGHHIKMOPQRRRRRRRQOLKIHHGGFEAAAAAAAAACEGHIJJKKKKJJJIIHHGGGGFFFFEEEEEEEEEEFFFGHIIJJJKAKKJIIHAAAAAAAAGGHHIHHHGGGGGUYcfQdgeYNKJKSajlSautqoiZbTPKKKNMNcnbhppTorqJqrwzyi1zvtgiljhnrw0lyvtuuuvvvvrlhVfpw40yshxz25310vpmikmnmttttsstspmachikouz20zvprqpqrsppprfrtriljhdmmkkTeijfYRMKLSckkkkkkkjdYUWbhkkkfYUTWbfhhhgecaXUTUWacdddcbbbbaZXTPNNAAAIIQPNMLJJIIIIJKLMNPRSSAAAALMPSUWWWVSQOAMLKKAAAAAAAAAAJJJJJAAAAAAAAAAJJAJJJKLLLMMNNMKIGGGGGHIJKMOPQQPNLKJJAAALLKKKJKLNOPQPOMKIHIJKMMMLJHGFFFFGHIJJKKKJIIHHHHIJAJJIIHHHIJKLLLLLLKKKKKJJJJJJIAAAAAGGGGHIKMOQRSSSSSSSQOMKIHHGGFEAAAAAAACEEEFGHIJJKKKJJJIIHHHHGGGFFFFEEEEEEEEFFFGHIIJJKKKJIIHHAAAAAAAAAAAAFFFGGGGGGGGTXcgQegdXNKJLSajmTWvuroiYbVQKKLNMNdociqpcosqJqrwyxk10wthiljhnrw0mywtvvvvvvvrlhWgpw40zsixz26521vplikmnmtttsstutplYbgjmpuz20yuorqqqrrpoprfstrjmkienmkjTahieaVSQSXfkkkkkkkidZWYchkkkeYUTVYcefghgfdaXVWYacdddcbabbaZYVSROAAAIIQPNMLJJIIIJKLMNOPRSSQOMAKMPTWXYXWTQOAMKJIIAFFGHHHIJKKKJJJJJJJKKKJJJJJKKKLLLLLLLLKJHGGGFFFGGIKORSTSQNLKKKLLMMLLLKKLNPQQPONLJIJLMNONMKIHGFFFGIIJKKKKKJJIIIIJJAKJIIHHHIJKKLLKKKJJJJIIIIIIGEAAAAAEFGGHIJMOQRSSSSSSSROMKJIHGGFFAAAAAACEEEFFGHIIJJJJJJJIIIIIHHHHGGGFFFFFFFFFFFGGHIIHGGGAAAAAAAAAAAAAAAAAAADDDDDDDDEFSWcgSfhcWNKKMSbkmUYwvrohKMTRPQQQNQblgmmlmqtuUokilpiz111yzuiaqsuufrhlqtotroljhhhmrmnspkotx353zuqlhhmpty12310250uojijlotxx0uoihknqpolbkljkrsooppcmroliUOafebZYXZcikkkkkkjheaYZdhkkidYVTTWZcdgiiigdZXXZbccdccaabbaZZXWVOAAAIIQONMLJJJJJKMNOOPQSSRQOMAKMQUXYZYXUROALJIHHAFFFHHHIKLLLKJJJIIIJJJJJKKLLLLMMMLLKKJJHGGHGFFFFFGKORUUUSPMLLLLMMMMMMLLMOPQQPPNLKJKMNOPONLJHGGGGHIJKKLLLKKJJJJJKKAKJIIHGGHIJKKKJJJIIIIHHGHGFAAAAAAACGGGHIJLOPQRRRSSSRQOMKJIHGGGFCAAAACEFFFFFGHHIIIIIIIIIIIIIIIIIHHHGGGFFFFFFGGGHIHFAAAAAAAAAAAAAFFFFEDAAAAAAAAAAAAAASWcgUggbVNKKMSbknVgwvrngKLTROPQRNRclgmmmmpstUokilpoz000yzuiZqrttcrinsuptqmjhghhnsnotpknsw231xtqliimpswz0100140tnihilosxu0tnhhknqpokaklkkqsooqqdmqoljfOaedddeefikkkkkkjigebZbehjkhdYVTSTXZbfikkjgcYZacccccbaaaaaZZaZZOAAAIIPONMKJJJKLOPRRSSSRQPPONAMORVXYYYWTQOAMKJJIHFFHIIJKLMMLKJJJIHHIIIJKMNOOOOOONMLKJJIHHIJIHFFFFHJNRTTTROLKKKKLLLMMNNNOPPPOONMLKJKMNOOONMKJIIHHIIJKKLLLLKKJJJJJJAJJIHGGGHIJJJJIIHHHHHGGGFEAAAAAAAAAFGGHIJLNPQQRRRRRQPNLKIIHHGGFDAAACEFGGGGGGGHHHHHHIIIIJJJJJJJJIIIHHHGGGGGGGHHIHAAAAAAAAAAAAAAFGHIHGFDAAAAAAAAAAAAARWchXggaUMKKNScknVsxvrmeKKSQNPQRORclgnmmmpssTokilptyzyzxyuhZprstZrjptvptplhffhinsnotqlnsw11zwspliinqrvxz0yz01ztnhhilosxuztmggknqpnjZjlkgqroprrdmqomkiQZddfhkkkkkkjkkjhgfecbcehiigcYVTRRUWZejkkkjeaabcccccbaZaaaZacddOAAAIIONMLKJJJLORUVWWVTRONNNOAOQTWXYYXVTQOAMLLLKJIIJJKKLMNNMLJJIHGGHHIKMPRSSSRQPOOMKJIIIIJLKJHGGGHJMPRSRPMKJJJJJKKLMOPPQQPONMMLKHGILNOOONNMLKKJJJJJKLLLLLLKKJJJIIIIIHGGFGHHIJJIHHGGGGGGGFDAAAAAAAAAAFGHHIKLNOPQQQQQQQPNLJIIHHHHFDAAAEFHHHHGGGGGGGGGHHHIIJJKKKKKKKJJIIIHHHHHHHHIIFAAAAAAAAAAAAAEGHHHGGGECAAAAAAAAAAAARVchaggZSMKKOSclohxxvrmdKKRPMOQRORclgnnmmprsiojilptyyxywyuhZpqssXrkqvwqtojedegiotnpuqknsv00yvrpmjinqrtwxyxy0uysmhghkoswwzslffjnqoniYjlkYqroprremppnljTZccgkkkkkkkhhhgffeeddefhhhfbXVTQPRTXdkkkkkgccddcccbaZZaaZZbfhhOAAAIIMMMLKJJKMQVYaaaYVQMLMNPARSVXXXXWVSQOANNMMMLLKILLMMNNNMLKJIHGFGGIKOSUVWWVTRQPNKIHAAAANNLJIHHFJMOQQPNLJIIHHIIJLNPRRRRPNLLKJGAAAAANNNONNMMLLKJJJKLLMMLLKKKJIIHHHHGGFFFGHIIIHHGFFFFFFFDAAAAAAAAAAAFHHIJKLNOPPPPPPPPOMLJIIHHHHFEAAEGIIIIHHGGFFFFFFGGHHIJKKLLLLLLKKKJJIIIHHIIIJHAAAAAAAAAAAAAAFHHGGGGFFEAAAAAAAAAAAAQVchdgfXRMKKOTclovxywrlcKKQOMOQRPSclgnnnmoqrqnjimptxxwxwyuhYoqrrVslswxrtnicbdgiotoquqinrvzywtqpmjjoqqsuvxwxzpxrlgghkosw0zskeejnqomiYjlkVqroqssemppnmkYbfehkkkkkkiffggffedcbbccddcaYYXVUVXYbeghihfddcbaZZYYXXYZZZbdfeOAAAIILLLLKJJKNTZcefebWPKJKNQSTVWYXXWVURPOAOOOOOONIAAKNOOOONMKJIGFFFFHLQVYZaaYVTRQOLIHHIKNPPNLJIIAHLNOONLJIIHGGGHIKNRTTTRPMKJIFAAAAAHLNNOOOOONMLKJJKLLMMMLLKKJIHHGGGFFFFFGHHIIHGFEEEEEECAAAAAAAAAAAAGHIIJKLMNOOOOOPOONMKJIIHHHHGGFFHJKKJJIHHGFFEEEFFFGHIJKLMMMMMMLLLKJJJIIIIIJJGAAAAAAAAAAAAAEGGGFFFFFFFAAAAAAAAAAAAQVcifhfWQLKLPTdmpvyywrlbKKPNLNQSPSclgnnnmoqqqnjimquxwvwvyuhYoprqWsmtyyrtngaZcgjpuoqurjnruyxuspomjjoqpqstwvwylxrlgfgknrw0yrkddjnqomhXilkYqroqttfmpponlfdhgikkkkkkgdeffgfecbaZYYZZZYZaaZZaaaZZZZbdefecZXWVVVVWXYZZbcdcOAAAIIKLLLKKKLPVcgiiheYPIHJNRTVWYYXWVUTRPNOOPQQQQQOAMOOPPPOOMKJIGFFFFHLSYbcddaXUTRPLIGHILPRRPNLJIEJLMNNMKIHHGFFFGHKNSUVUSPLJHHHEAAAILMMNOPPPPPOMLJJKLLMMMLLKKJIHGGGFFFFFFGHHIHGFEEEEEEEFFFCAAAAAAAAAHHIIJKLMNNOOOOOONNLKJIIIIIIJIHHJLLLKKJIHGFEEEEEEFGHIKLMMMNNNMMMLLKKJJIIJJJIAAAAAAAAAAAAAFHHGFFFFEEEEEAAAAAAAAAAAPVcihheVPLKMQTdmpvyywrjaKLKNPQSSSSbkjjkligloqjojffhkknsx1ywsppqpYttuuuusokffjnoortuqpjcdfgikmmgnprewyyvwusrsdtplhZflpkvyzxrlggjlmmkjimnjopttqxvurqnkigfghjkkkkkhecdefgfecZYXVUVVWXacdefedbXTRRUZdgfcYUTSSSTUVYZabbbZOAAAIILMMMLLLMPWdgiiheXPIGJNRTVWXXWUTTSQONOOPQQQQQPNOOPPPPPONLKJHFFFFHLSYbcddbYVTSPLIGHILPRRQOLKJJKLMMMLKJIIHGFFGHJNSVWVSOLIHHHIFFJKKLLLMOPPPPONLJJKLLMMLLLLKKJIHGGGGFFFGGHIIHGFEEEEEEEEFFFFDAAAAAAEHHHIIJKLMNNNNNNNNMLKJIIHIIIJJJJLLLLLKJIHGFEEEEEEFGHIKLMMNNNNNMMLLKKJJIIJJIAAAAAAAAAAAAAGIIHGGFFFEEEEEDAAAAAAAAAAJUciiheTNKLNQTdmovyywrfZKKKMNPQRSRbjiejkigjpqkpjffhjjmrw0xvropppetuvvuusplggkoppsuuqpicdfhikllfmprex01yywtsmesqmjbhnqkvyzxsnhgjlmmkkimnnnpstpxvtqpnkighijkkkkjhfcabdfggebYXVSQRSTWbegjkihcVOKKNUchgbWSQPOPRSUXZaaaZXOAAAIINOOOONNNQVbeffebWOJHJMQSUUUUTSRQQPONNOOPPPPPONNNOOPPPPONNMKIGFFHKQVYZbbZXVTSPLIGGILPRRQNLKJJKLMNNMLLKKJIHGHHKNRUVUSOLJIIJKLKLLKJJJKLNNOONMKKJKLLLLLLLLLLKJIIIHHHHHHHIIIIHGFEEEEEEFFGGGHFAAAAAFHHHHIIJKLMMNNNNNMLKJIIHHHIIJJKJLLLLLKJIHGFFEEEEEFGHIKLMMNNNNMMMLKKJJIIIIIGAAAAAAAAAAAAGJJIIHGGFFFFFFFFAAAAAAAAAAJUcikhdSMKLOQTclovxywrfZKKKMMNPQRRajhRijhghprlpkffhjjmrvzwuqooppntvwwvutplhhlopqsuvqpicdfhijlleloqey1310xtscfsqnlejorlvyzytoigikmllkjmnnnpsspwusqpnkigikkkkjigecaZaceggdaXVSOMMOQVbgjkkkkdTKKKKQbjhbUPNLLNPRTWZbaZXVOAAAIIPQRRQPPOQUYabbbYUOKJKMPQRSRRQPOOONNNNNNNNNNNMMMNNOOOPPPPPONKIGGHKOSVWXYXWUTSPLIGGIKOQQPNLKJJKLMNNONNMMLKJIHIKNQTTTROLJJJLMNNNLKIHHIJKLMMMLKKKKKLKKKLLLMMMLLKKJJJJIIJJJIIHGGFFFEEEFGGHHHIGAAADGGGGHHIJKLLMMMMMMMLKJIHHHHHIIJJJKLLLKKJIHGGFFEEFFFGHIKLLMMMMMMLLKKJJIIIIHFAAAAAAAAAAAAAILKJJIHHGGGGFFFGEAAAAAAAAAJUbhlhdRLKMORTclouxxvrjYKKKLLMOQRQZihJhicgjqslqlffhiilquyvtlnooopuwywvutqmiimpqrtvvrohcdghhjlkekoqez3532yusWgrqonglpslwxzyupjhikmelljmnnnorsowuopomjigikkkkigfdaZYZadeecZWVURRSTUXbegkkkjdVMKKKSbihdXTRQPQRSUXZaZYWUOAAAIIRTTTTSQQQTWXYYXVSOLKLMOPPPONNMMMMMMMMMMMMMLLLLLMMNNOOPRSSRPAKIHHJMPRTUVVVUTSPLIGGHKNPPOMLJJJKLMNOPPPPONMLJIJKNPRSRQOLKJLNOPPOMJHFFFGIJKKKKKKKKKKKKKKLLMNNNNMMLLLLKKKKJHGIHGGGFFFFFGHHIIIIGAAEGGGGGGHIJKLLMMMMMLKJIHHGGHHHIIJJKKKKKKJIIHGGFFFFFGHHJKKLLMMMLLLKKJIIHHHGEAAAAAAAAAAAAAAKLLKKJIIHHHGGGGGGCAAAAAAAANUbhnhcQKKNPRTclnuxxvriXKKKKKLNPQPZhgJghVgmrsmrlgZgiilptxusennooouwzxnutqnjjnprsuwwrohcdghhjkjdjnqfz48640usUgrrqpinrsmwxzzvqkhikmamljmnmmorrovtgpomjhfjlkkjhfdbZYXYZbcdaYWWVUVXYYZacdgjjieXPKKOUchgeaXVUTTUUVXZaZXUTOAAAIITVWWVUSRRSTUUUTSQOMLLMNNNNLKKJJJKLMMMLLLLKKJJKKLLMNOOQSUUUSPLJHHIKMOPRSTUTTRPLIGGHJMOONMKJJJKLNOPQRRRQQPNLJJKMPQRQPNLKKMPRSSQNJGEEEEFHJJJJJKKKKKJJJKLMNOPPPOOONNMMLKIAAAGIHHHGGFFGHHIJJJJJFEFGFFFFFGHIJKLLMMMLLKJIHGGGGGHHIIIJKKKKJJIIHGGGGGGGGHIJJKLLLLLLKKJJIIHGEDAAAAAAAAAAAAAAAALMMLLKJJIIHHHHHHHFAAAAAAAAPUbhnhbOKKNQSTclntwxvqiWKKKKKKMOQPYhfJffOgmrtnsmgWgihkpswurcmnnnoux0yeutrnkknqrsvxwrogbdghhikjcjmqf06+961vsXforrqkpstnwxzzwslhikmbmlkmnmmnqrovtbonljhfglkkifdbZXXXWXZbbZXWWWXZcdcbaZadgiieZTPORWcggfdbZZYXWWXYZZYWTSOAAAIIVXYYXWUSRRRRQQQPPONNMMMMMKJHHHHHIJLMMLKKKJIHIJJKLMNNPQTVWWURNKIHHIKLMOQSTTSRPLIHGHJMNONLKJJJKMNOPRTTTSSQOMKJKMOPPPONMLLNQSTTRNJFEEEEEGHIIJJKKKKJJIIJKMNPQQQQPPPPONMKIAAAGJIIIHGGGGHIJKKKKKJHHGFEEEEFGHIJKLLLLLKJIHGGGGGGGHHIHJJJJJJJIIHHHGGGGHHHIJJKKLLLKKKJJIHHFEDDCCAAAAAAAAAAAAAKNNNMMLKKJJIIIIIIIIEAAAAAAAOTagmhbOKKNQSTckmsvwvqiWKKKKKKKRTSaigJhjLkprtsqomekhdgjlponWdlkkllnppVuwtqnnooooswyvrnbjnnmoqrsppqtz5/93wpnZcmnmkhmrtnz01zwsfilnchrstrqmlquxxwsUkkhYffhnkjhebaXWVWVVXZZXVVWXaehigdZXXZdghfbWTSVYceghgfedcaYXYZZZXVSROAAAIIVXXXWVTRQQPPPPOONNNNMLLLLKIHHHHHIJLMLLLLLKJIIIJKLMOPQRTVVVTQNKIIHIJLMNPQRRRQNKIGGHJMOOONMLKKLLMNOPRSSSRQOLKJKLMNOOONMMMOQRSRPMIEEEEEFHIJJJKKKKKJIIIIJKMNPQQQQQQQPOONMKHHKKJIIHGGGHIJKLLLLLKJHGEEEEEEFGIJKLLLLLKJIHGGGFFGGGHGGIJJJJJJIIIHHHHHHHIIIJJKKKKKKKJJIHHGGFFFFGGHIIIIAAAAAKNOOONNNMLKKJJJJIIIIIIEAAAAAAOTaglhbNKKNQSTbjlruvuqiWKKKLLKLSTTbjhJhjKkprttromkkhdgikooncemlkllmnoTtwtqonoonnsvxvrnbjnnnprstppqty4971vpoheqomkhmruezz1zwseilnbmrssrpmlrvxxwsWkjgXeeknkjgcaYWUUWUUVXXVUVWZdikkkfYUUVaegfdaXXYacdfijjiigdaZZZZYWTRQOAAAIIVVVVVTRQPOOOOONNNMMMLLLLLKJIIIIIIJLLLLMMMMLKIIJKMNPQRSTUTSROMKJIIJKLMNOPQQPOLJHGGHJMOPPONNMMMLLLLNPQRRQPNLJJJKLMNNNONNNOPPPONKHEEEEFHJKKLLLKKKKJIIHHHIKLMOPPPPQQPPPOONLKLKJIIHGGHHJKMMNNNMLJIGEEEEEEEGHJKKLLLKKJIHGGGFFGGGGEEIIIIIIIIIIIIIIIIIIIJJJJKKKJJJIIHHGGFFFFFFGGHJKLMNNNNNNOOOONNMLLKKJJJJJIIIIIEAAAAAOSZflgaMKKNQSUbikqtuuqiWKKKLLKMSUTcjhRhjKkprttrpnmlicfihnnnhfnmlllmmnWtwurooonmmruxvsocjnooqrttpppsx264tupophrpmkhmruZzz1zwseilnbqrssqpmlrvxxwsbjifWdekmjhebaYXWXYWVVWXWWXYbfjkkkfaWVVYbcaYVUUVXZbdfggfecZWVVWXXWUSROAAAIIUUTTSRQPONNNNNNMMMMMLKKKLKJIJJJJJKKLLMNOOONLJJAAAPRSTTUTRQONLJJIJKLMNNOOOONMKHGGGHJMOPQQPPONMLKJJKMOPPPOAKJIIJJKLMNOOOOOONMMKIGEEEFHJLMMMMLLKKKJIIHGGHIJKMNNOOPPPOOOONNMLKJIHHGGHIKLNOOOONMKIGFEEEEEFAAAAALLLLKJIHHGGGGGGFEDDHHIIIIIIIIJJJJJJJJJJJJJJJJJIIHHGGGFFAAAAAAAAIKLMMNNNNNNNNNNMMLKKJJJJIAAAAAAAAAAAAOSYekgaMKKMQSUahjptutqiWKKKLMKMTVUcgighiKjoqttsqnnlicfhjmnoigonlmlllmdtwusponnllqtwvspcknoprsuuqppsw042ntpoqkspnkhmruXzz0zwsehknbqssrpomlsvyxvrijieVccjkgfcaZZYYZbYWWWWWXZbdgkkkkgbYWVVXZWTRQQRTXZbcdddbYUSRRTVXWUTSOAAAIITSSRQPONNMMMMMMLLLLLKKKKKKJJKKKKKKKLLMOPQQOMKJJKNQSUUUUSPNMLKJJJJKMNNNNNMMLKIGFFGGJMPQRRRQQPNLIHHIKMNOOMLJIIHHIJKLNOPPPONLKJIGFFFFHILMNONNMLKKKJIIHFFFGHIJKLMNNNNNNNNNMMLKJHHGGGHIKMOPPPPONMKHGFEEEFGHIKKLLLLLLKJIHHHGGEDDCACGHHHHHIIJJJKKKKKKKKJJJJIIIIHHHGGFFFFFFFFFFGHIJKLMMMMMMMMMMMLLKJJIIIIIIIIIHHHHDAAANRXdjgZLKKMQSUaghosttqiXKKKLMKNUWVdYihiiKjoqtusqoomicegilmojhpoYmkkjlmtwusqpnmlkpswvtpdknoqstuuqpprvz2zisppqptqnkhmsuZzz0yvrdhkmbqssronlmswyxvrljhdUTTiiecbaZZZacdaYWVVWYbdfikkkkhdaYVTUVSOMNNOQUXYZabaXTQONNQUWVVUUOAAAIISRQPONNMMLLLLLLKKKLLKKKKKKKKLLLLKKKLLNPQRRQOLJIKNRUVWVURNLKJJJJJKLMNOONMLKKIGFFFFGJNPRSTTSRQOKHFFGIKMNMLKIIHHGHIJKMPQQQPMJHGFEEFGHIKMOPPPNMLKKJJIIGFEEEFFHIKKLLMMMMMMMMLKJIHGFFGHJLNPQRRQQPNLJHGFFGGHIJKLLMMMMLLKJIHFEDCAAAAAGGGGGHHIJJKLLLLLLLKKJJIHHHHGGGFFFFFFEFFFFFGHHIJKLLLLMMMLLLLKKJIIIHHHHHHHHHHHHHFEENQWcigZLKKMPSUZfgmrssqiXKSQPPKLQRPYNeZhkPopppopononkiggghknqjolKgccbeoutxuqmllkjoswy0220z0kzyvjpnlmpqooaogntwvvsokossXvtrqrqmlmomtvvtsstuvy0zzwuqmheOOgdbaZZZZacefdZWVVWZdgikkkkkiebZVQQRNKKKKKMRVVWXYYUPLKKKNSWVVVVOAAAIIRPOONMMMLKKKLLKJJKKLLLLLMMLLMMMLKKKKLNPRSSRPMJIKORUWWVTPMJIIAAGIKMNOPONLKJIHFFFFFGJMPRTUUTSROLHFFFHJLMMLJIIHHGGGIJMOQRQOLIFEEEEFHIJLNPPPPNMKKJJJJIHFEEEEEFHIJKKKLLLLMMLLKJHGFFFGHKMPQRSSSRQPNKJIHHHHIJKLMMMMMMMLJHGEAAAAAAAAAFFFGGGHIJKLMMMMMMMLKJIHHGGGFFFFEEEEEEFFFFFGGHIJJKKLLLLLKKKJJIIHHHGGGGGGGGHHHHHHIINQVbhfZLKKLOSUZeflprsriXKTRQPKLQRPYJeaimYpqpppqpoonljhhhjloqXmkJgccbenutxuqmlkjjnrvxz21zy0k0zwkqnlmppnnaohntwvvsolossduspqrqlllomtvvtssstuxzzywuqnieOMfaZYXYZabegifaWUUWbfikkkkjjigdaUONNKKKKKKKOTTTUVVQLKKKKKQVVVWWOAAAIIPONMMMMNMLKKKKKJJKLMNOPPQQPONNMLKJJKLNPRSSRPMJJKNQTUUTRNKIHHAEHJLMOPPPNMKJJHGFFFGHJMOQRSSSRQOLIHGGIKLMMLKJJIIGGGHIKMOPOMJGEEEEFHIKLMNOOONMKJJJJKKKIHFFEEEFGIIJJJKKKKLLKKJIHGGFGHJLOQRSSSSSRQOMLJIIIJKLLMMMMNNNNNMLKIHFEAAAAAACFFFFGHIJLMNNNNNNNMLKIHGFFFEEEEEEEEEEFFFFFGGHHIJJKKKKKKJJJIIHHGGGGGFFFGGGGGHHHHIIMPUageYMKKKNRVZdekoqrrjYKTSRQKLRRPYKebjokqrqqqrqoonljiijkmoqSikJfbbaenutxuqmlkjinquxz10xxzk00xlqommopnmfohntxvwsplosrltqopqqlklnltvvtsrrjtwyyywuqnieWPdYYXYZbcdfghfcaYYZcfhjkkkkkjgdbWRQQNKKKMMOSWWVVVVSOMMLMPTWXXYYOAAAIINMLLMMNOOMLKKKJJJKLNPRTUVUTRPNMLKJJJKMORSSRPMKJKMPRSSROLIHGGAEHKLNPQQPOMLKJIGFFGGHILNPQRRRQPOMKJIJKLMMMMLLKKJHGGGHIKMNMKIFEEEEGIKLMMNNMMLKJIIJJKLLKJHGGGFGHHIIJJJJJJKKJJIHHGGGGIKNQRSSSSSSSRQOMLKJKKLMMNNNNNNNONNMLKJIGEAAAAAACEEFFGIKLMNOOOOONMLKIHFFEEEEEEEEEEEEFFFFFFGGHHIJJJJJJJIIHHGGFFFFAFFFFFFFGGHHHIIIMOTYfdYMKKKNRVYcdinprrjZKUTRQKLRRPYQfclprrrqrrsqoonlkjjkmnpqUjjPfbbaenutxuqmkkjimpuwy0zwvzk10ymrommoomlnohntxwwsplosrmspnoqqlkknltwwttrqSsvyyywvrniecUbWXXYacdefghgedcbceffhkkkkkkhdbYUTTROOPQRTWZYXWVVTSRSSSUWXYaaaOAAAIIKKKKLMOPPNLKJJJIJKMORVXZZZXUQNMKJIIJJLOQSSRPMKJKLNPQQOMJHGFFAEHKLNPRRQPNLKJIHGGHHHIKMNOPPPPPONMLLLMMNNNNMMMLKIGFFGHIKLLJGEEEEFHKMNNNMLAAAJIIIJKLMNMLJIHHHGHHIIIIIIJJJJJIIHGGGGHJLORSTTSSSSSSRQOMLLLLMNNNNNNNNOOONMLKAAAAAAAAAAAAEEFGIKMNOPPPPPONMKIGFEEEEEEEEEEEEEFFFFFFFGGHHIIIJAAAAAAAAAAEEEAEEEEEAAAAAAAAAILNSXddYNKKKMRVYbbhmoqrkaKUUSQKLRRPYbfcmrsssrssurponmljklnopqamjcfbbadnutxuqmkkihlptwy0yvuyk21zmspmmoollnnhntxwwtplorqmrombqqljjmlowwutrqRruxyywvrniecbZUVWYbefgggghhggfffeegjkkkkkhecZXWWVTTUVWYacbZXVVVWXYYZZZZacdcOAAAIIIIJJKMPQQOMKJJIIJKNPUYcdedbXSOMKJIIIJLNQRRRPMKJKLMNOOMKHFFFFAEIKLOQRSRQOMLKJHHHHHHIKLMNNOOOOOOONNNOONNNOONNMLJGFEEFGIJJHFEEEEGJMOOONMKJJIHHHIJLMOOONLKJIIIIIIIIIIIIIIIIHHGGGGGHJMPSTSSRRRRSSRQPNMLLMMNNNNNNNNNOONMLKKJJIFAAAAAAAADFHIKMNOPPPPPONMKJHGFEEEEEEEEEEEFFFFFFFFGGGHHIIIIIHHHGGFFEEEEAEEEEEFFFGGHHIIILMRWccXNKKKLRVXaafknqrkaKVVTRKLRSPYhfdntttsrttvsponmmklnoppnlmifeaaZdnusxuqmkkihloqvyzxusxk320nsqmlnnkkmnhotxwwtqmorqlqnlOpqljjmlfwwutrlQqtwxywvroiecaYSUWZdghhhgghjkjjiheceikkkkkiecbaZZYYZZabdeedbYVUWZceffecacefeOAAAGHGHIJKMPRRPMKJIIIJLNQVbfhiheZTOLKIHHIIKNPRRQPNLKKKLMMMKHFFFFFAEIKLORSSSQOMLKJIHIIIHIJKLLMMMMNOPPPPPPPONOOPOONMJGFEEEFGIHFEEEEEHKNPQPOMKIIHGGHIJLOPQQPNMLKKJJJIJJIIIIIIHHHGGGGGHIJMPSSRQQPPQQRRQONMLLMMNNNMMMMMNNNMLLKKJJIFAAAAAAAAAAEHKMNOOPPPOONMLJIHGFFFEEEEEEEDAACCCDDEFGGHHHIIIHHHGGFFFEEEEAEEEEFFFGGHHHIIIKLPUbbXNKKKJQVXaaejmprlbQZUTTQKPQOWedbZmomnsvxxqkefjohsssqojmljhYZijinsvzwsmdpqpooVXeprrqtxyyvronnhgkjhiiiejosuxywrtspnllNpsoehlpUvwvtsiRpruwyxwvsojeaUQTVZeijjigfikkkkkiebdhkkkkkiedddcccdeefhiihgdZVUYdhkkkjfbeghgOAAAGHHIJJLNQSRPMKJIIIJLNQVbeghgeZTOLKIIIIJKMOQQQPNMLLLLLLKJGFFFFFAFIJLNQRSRQOMLKJIIIJIIHHJKKLLMMMNOOPPPQPOOOPPOONMAHGFFFGHIIGEEEEFILPRRQPMKIHHGGHIJMOQRRQONMLLLKKKKJJJIIHHHGGGFFFGGHJLOQQPOONNOOPPPOMMLLLMMMMMLLLLMMLLKKJJJIIEAAAAAAAAAAAAAILNOOOOOONNMKJIHHGGGGFFFDAAAAAAAAAAAAAAAAAAADDDCCCCCCDEEFFFFFFFGGGHHHIIIKKOTZbXOKKKJPVXaZdilprlbRZUTSPKOQOWfdcampnnsvxwqjeedogstsqoilljhYZikjosw0wtnepqqppOXepqqptwxxvrpnmgejjhiihdinsuxywrsrpnmmNoroeiloRuuutsjRpsuvxwwvtokfaVSVXaehijjjikkkkkkifcehkkkkjfbabcdddeeeeghhgfcZWVYbfghigcabdedOAAAHIJKLMNOQRRPMKJJIIJLNPTYbdddaWROLKJJJJJKMNOPPPPONNMLLKKIGFFFFFFGHIKMOQQQONLKKJJJJJJIHGIJJKLLMMMNNNNOPPPOPPPONMMAJIIIIJKKKIGEEEGJNQSSRQNLJIHGGGHJLNPQQPONMMMMMMMLLKJIHHGGFFFEEFFGGHJLNNMMMLMMNNNNMMLLLLLLLLLLKKKKKKKJJIIIIIEAAAAAAAAAAAAAAJLMNNNNNNNMLLKJJIIIHHHFDAAAAAAAAAAAAAAAAAAAAAAAAAAAAAACDEFFGGGGGHHHIIIIKKMRYbXPKKKJOVXaZdhkorlcTZUTSPKOQNWfecanpnosvxwpjeeangstsqoilkjiZaikjosw0xuoepqqpqOXdopqosvwwurpnlfdjjiihfcinsuyywqsqonmnNorneiloUsttttmSqstuwwwvtplgbWTXYadghjkkkkkkkjjigefhjkkjfbYYZbdeefeddfggfecZXWXacdddcaYZaaaOAAAIILMNOPPQRQOMKKJJJJKMORUXYZYXTQNLKKJKKKKLMNOOPQQQPNMLKJHGFFFFFFGHIJKMOOONMLKKJJJKKJIHGHIIJKLMMMLLLLMOPPPPPONMLLALKKLLMNNMKIGFFGKORTTSROLJIHGGGHIKNOPPPONMMNOOONNMLJIHGFFFEEEEEEFFGHIKKKKKKKKLLLLLLLLLLLKKKKKKJJJJJIIIIIIIIFAAAAAAAAAAAAHJLMMMMMNNNNNNMLLKKKJJIIHFDAAAAAAAAAAAAAAAAAAAAAAAAAAAAAADDEFGGGGHHHHIIIIKKLQXaXPLKKJOVWZYcgjorlcUZTSSOKOPNXgfdbnpootvwvpidedngsttqokkkjiZajkjosx1yvpfpqqqqPXdnoporuwwurpkkdcijiigeahmsuyywqrpnnnoOoqnejlnbqrtttrXqstuvvvvtqmhbXVZabdfgjkkkkkkjiiigfghiiifcYWVXbefffedceffeecaYXXYZaaZZXXXXXXOAAAIIOPQQQRRQPOMLKKJJJKMNPRTUUUTQOMLLKKLLLKLLMMNPRSSRAAAAIHFFFGFFFGHHHJKMNMLLKKKJJKKLKIGFGGHJKLMMLKJJJLNOPQQPOMIALAMMNOPPPPONKIGFHLPSUUTSPMKJIHGGHIKMNOPOONNNPQQQPONLJHGFEEEEEEEEEEEFFGHHHHIIIIJJJKKKKKKKKKJJJJJJIIIHHHHHHHHHGEAAAAAAAAAHIKMMLLLLLMMNNOONNNMMLLLKJIHFCAAAAAAAAAAAAAAAAACCCAAAAAAAAAACDEEFGHHHHIIIIIKKKOVaYQMKKJNUWZYbeinrmdVZTSROKNPNXggebnqoptvwuoideimfsttrokjjjjabjkjotx2zwqfpqrqrPXdnoonqtvvtrpWjcbhjjifdZgmsuyywpqnnnopWnpmdjmnkoqstutmrsttuvvvurnicXWbbcdegjkkkkkkhghihhhhhhfcYUTTVaegggeccddeddcaZYXXWWWVVVVUUTTOAAAIIQSSSSSRQPNMLKKKJJKLMNOPQQQPONMLLLLMMLLKKKLNPTUUTQNLJHGFFGHGFFFGGGHJKLLKKJJJJJKLLKIGFFFGIKLMLKIHHHJMOQQQPNAAAAAOPPRSTSSRPMJHGIMQTVVVTQNLKIHGGGHJLNNOONNNNPRSSRPOMJHFEEEEEEEEEEEEEEEEEFFGGGHHHIIJJKKKKJJJIIIIIHHHGGGGGGGHHGGFAAAAHHIJKLMMLLLKKLLMNOOPPOOONNNMLKJJGEAAAAAAAAAAAAACDEEEEEDDCAAAAAAAAAAAAEFGHIIIIIIKKKMUZYRMKKJMUWZYadhnrmdRRMSRLLQPKVhikmpppppoppliimrtsvz0xtodnoootwxyyxvwwvqtuwsxtKZoppoloruuutsSpnnnoojdZZejptx12zsmcoqplpnihikhjknrtsqjqrpmomkjkkccXTWdddddfjkkkkkkgfghiiiigfdaVRQQTZfhhgecbccccccbZZXVUTSRRSTSQQQOAAAIISUUUUTRPONMLLLKKKKLMMMMMNMMLLLLLLMMNMLKJJKMQUWWVSOLIHGFGHIHGFGGGFGHJKKJJJKKKKLLMLJGFFFGHJLMLJHGFGILOQRQNAAAAAJPQRTUVUTSQOKIHJMRUVVVTROLKIHGFGHIKLMNNMMMNQSSROANMKHFEEEEEEEEEEEEECCEEEEFFFFGGGHIJJJJJJIIIIHHHHGGFFFGGGGHHIHHHHIJKLLMMMMMLLKKKKLLMNOPPPPOOONNMLKJIFDDDDCCCAACCDEFGGGGGGFFEDAAAAAAAAAAAAAAEFHIJJJKKKLUaYRMKKJLTVaYacgmrldRRMSSMMQOKVhijloooppepolhimrttw02zvpdoppotvwxxwvvwvqtuvrwsKZoppomortuutsTpoooppkeaafkquy22zsmcnpojomhhjlhkknrsspjqrqnpnljkkcbXUXfffffhkkkkkkkgffgggffedbZWUUUWaeffdbZYZabcbbZYXWVUUTRQRSQPPQOAAAIITVVVUTRPNMLLLLLLLMNOONNNNNMLLLKKLLMNMLKKKLNRUWXVTPMJIHHIJKJHHHHHHHIJKLLMMMNNNNNMLKIGGGGIJKLKIGFFFHKMOPLAAAAAAAOPQRSTSRQPNKIHJMPSTTTRPNLKJHGGGHIJLLLLLLLMOOAAAAALKIGFEEEEEEEEEEEAAAAEEEEFFFFFFGHIIJJIIIHHHHHHHGGFFFGGGGHHIIJKLLMMMMMMMMMLKKKKKKLMNOOOOOOONNMMLKJIHEFFFFFFEEEEFFFGGGGGGGGFEDAAAAAAAAAAAAAAAAAGGGKKKKUbZRMKKJKSVaZZcflqldQQMSSMMQOKVhhikmnnopWookhikrttx251xreoqqotuuwwtuvwwpttuqvrJYnpqpnprtttssTqppqqqlgbchlrvy22zsmbmominlhhkmiklnqrrpjqsrorolkkkcbXUYhhhhhjkkkkkkkgffeeddcbaaZXXYYZbddcaYXWXZabbaYXWWVUUTRPPQONOQOAAAIIUVWVUSQONMLLLLLMNOQQQQQPPONLKKJJKLMMMLLKLMORVXXWTQNLKJJKLLLKJJJIIJKLLMOPPQQQQPONMLJIIIIIJKKJHGFFFGILMJAAAAAAAAKNOPPQPPONMKJIJLNPQQQPNMLKJIHHHHIJJKKJJJJJIAAAAAAAKJHGGFFFEEEFFGAAAAAAEEFFFFFFFFGHHIIHHHHHHHHHHGGFDDFGGHHHIJJKLLMMMMMMMMMLKKJJJKKLMMNNNNMMMMLLKJIIHGGGGFFFEEEEFFFGGGGGGGGGFEAAAAAAAAAAAAAAAAAAAAKKKKUcaRMKKJKRVaZZbekpkdQQLSSNMPOKUhhhjkmnopRonkhijrtty474zsfpqqptutuvrtvvwpsstptqJYnpqqopqsstssTrqqrsrmhddinswz23zsmblnlhmkhilnjklnqrqojqssqspmkkjbaXQZijkkjkkkkkkkkhfedcbaZYYYYZacccccbaXVUUVXZbaZXWVVUVVUQONOMMNQOAAAIIVWWWUSQOMLLLLLMNORSTTTSSRQOMKJIIJKLMMLLLMMPSWXXWUROMLLLMNNNMLKKKKKLMNOQSTTTTTRPAAAAAAAAAAAAAHGFFGGHJKJAAAAAAAAAAMMMMMMMLLKJJKLMMNNNMMLKKJIHHHHIIIJIIHHHGAAAAAAAILJIIHHHHGGGGHHHAAAAFFFFFFFFFFFFGGHHGGGGGHHHHHHGGFGGHHHHIIJKKLLMMMMMMMMLLKKJJJJKKLLLLLLLLKKKJJIIHHFGGGGFFFEEEFFFFFGGGGGGGHGFEAAAAAAAAAAAAAAAAAAKKKKUdbSMKKJKQUbaZadjpkdQQLSTNMPNKUhgghjkmopRonkTimsuuz6+61ufqrrpttstussuvwpsssnspJXnqrqppqrssssUrrrstsniefkotxz33zsmalmkgljgimokllnpqpoiqttruqnkkjbaWObkkkkkkkkkkkkkhfecaZYWVWXYadfgfdbZXUSRSSVYaaYWVUUUVWUQNMMLKNQOAAAIIWWWWUSPNLKKKLLMOQTUVWVVUTRPMKIHHIJLMMMMMMNQTWXXWVSPNMNOPPPPONMMLMMNNOQSVWWWXWUQOONNMMLKJIIIHGFFGGFGHIJFAAAAAAHJKKKJJJJJJJKKKKKKKKKKKKKKKJIIIIIHHHHGGFFEDAAAAAAALLKKJJIIIIIIIIIIIFFHGGGGFFFFEEEFFFGGGFFGGHHHHHHHGGHHHHHIIJJKLLLMMMMMMMMLLKKJJJJJJJJJJJJJJJJIIIIHHGEFGGGGFFFEEEFFFFFFFGGGGGHHHHGGFFGAAAAAKLLMMMLKKKKUecSLKKKKOUbaZZciojdQPLSTOMPNKUggfghjlopRnmkJinsuu08/83vgrssqttrstssuvwprrsmroJVnmrrqqqrrsssUssstutokgglqux033zsmaklifkiginpkllnpponiptusvrnkkjaaWRckkkkkkkkkkkkkhfdaYXVTTUVXchjkieaXURPPPQTXaZXVUTTUVWVQLKKKKMPOAAAIIWXXWUSPMLKKKLLNPSVWXYYXWUTQNJHHGHJKMMMMNNORUXXXWVTQOOOQRRRRQPONNNOOOPRVXZZZZZWROOPPOOMLJIHHGFFFGGFFGHHGEAAAAFIIIIIHGGHHHIJKLKJIHHHHHIJKJJIIIIIHGGGFEAAAAAAAAAAILLLLKKKKKKKJJJJKKKJJIHGGGAFFEEEEEEFFEEFFGGHHHHHHHHHHHIIIJJKKLLMMMMMMMMMLLKKJJJJJJIIIIIIHHHHHHHHHHEADEFGGGFFEEEFFFFFFFFFGGGHHHIIIJJKLMNOPQQQQQQQKKKKVfdSLKKKKNTcbZZchnidMLPRTTSPNManjkpopqqqJnonLnmlkjpu00vkkpufvywvtrqqstpmsrjosrWrufrtstuuuwwvXvwx0qywtpooljv0331unnoppnlifnrrppmkkmmfknprqojUggffcYafkkkkkkkkkkkkkjhgdaZXVUUVXbfhiheaZWUSRRSUXaZYXWWWWXXWSONNLLMPOAAAIIXXXWUROLKJJKLMNQTWYZZZYXVURNJHGGHIKLMMNNOPRUWXWWVTRPPPRSSSSRPONNNOPPPSVYZaaaZWROOPPPONLJHGGFFFFGGFFFGHHHIIIIJIIHHGFFFFGGHJKLKJIHGGGHIJKKKJJJIHGFFEECAAAAAACEGHKLLLLLKKLLLLLLKLLLLLKJIHHGAFFEEEEEEEEEEEFFGHHHHHHHHHIIIIIJJKKLLLMMMMMMMMLLKKJJJJIIHHGGGGGGGGGGGGGFDAADEEEEEEDDDDDEFFFFFFFGGHHHIIIJKLMNPQRRSSSSSSKKKKXhfSJKKKKMTccZZbglhcMLPRTTSPNNankkpopqrqJnonMoonllquzzuklqtevyxxvtrpstolsrjosrhsuXrutnvuuwwvXvvx0rzxtqpoljv0331vnoqqrpmjfnrrppmkknngloqrqojUggffcZaeikkkkkkkkkkkkkjifcaZXVVVXZdfgfebaYWUTTUVYZZZZYYYYZZXURQPONNPOAAAIIWWWVTQNKJJJKLMOQTWYZaaYXVURNKHGGHIKLMMNOPPRTVVUUTSQPPQRSSRRQOMMLMNOOPRUWXXYYXUQONOOONMKIHGFFFFGHHHHHIIJJKLLLLKJIIHFFFFFGGIJKKJIIHHIJKLMMLKJJIHGEEEDAAAAAAAFIKKKKKKKKKKLLLLLLLMMMMMLKJIHHAGFEEEEEEEEEEEEFGHHHHHHHIIIIIIJJJKKLLLLLLMMMMMLLKKJJJIIHHGFFFFFFFFFFFGFDAAAAAADDCCAAAAACDFFFFFFGGGHHIIIJKLMOPRSSTTTTTTKKKKYjhSJKKKKKSddZYafkgcMKPRTTSPNNankkpooqrqJnooTpponmqtyyulmqteuzyzxusjstolsrjosrrsvXsvuevuuvwvcuvu0rzxuqppljv0342voprstqnkgnrrpomkknnhmpqrqniUggffdZadgjkkkkkkkkkkkkkkifcaYWWWWYbdeedcbaYWWVWXYZaaaaaabaaZXUTSQOOPOAAAIIVWWUSPLJIIJKMNOQUXYZZZYXVURNKIHHHJKMMNOPPQRSTSSSRRQPPPQRRRQOMLKKKMNOPQSUUUUUURPNMNNNMLKIGGFFFFHIIIIJKKLLMNNNMLKJIHGFFGGFGHJKKKKJJKLMNOOONMKJIHFEEEAAAAAAADHKLLLKKKKKKKKLLLMMMMMNNMMLKJIIAHGFEEEEEEEEEEEFGHHHIIIIIIIIIIJJJKKKLLLLLLLLLLLKKKJJJIIHGGFFEEEEEFFFFGDAAAAAAAAAAAAAAAAADEFFFFFGGGHHHHIJJLMNPQRSTTTTTTKKKKaliTJKKKKKSddZYaeiecLKPRTTSPONaokkpooqrqJnoofpqponrtxxulnrtduz01zvtfttnlsrjosrrtvYtvvZvutvvvfuur0s0yvrqpljv1442woqsuurokgnrroolkkooinqrrqniUggffdaacfhkkkkkkkkkkkkkkkhecaYWWWXZbcddddcaZYXXYYZabcccddcbaZXVUTQPPOAAAIIVVVUAAAAHHJKMNPRUXYZZZYWVTRNKIHHIJLMMNOPQQRRRQPQQQPPPPQRRQOMKJIIJKMNOPRRSRRRQPNMMLLLLKJHGFFFFGHJJKKLMMNOOPPOONLKJIHGGGGGGHGHJKLLLMNPQQQQPNLJIGFEEEAAAAAAAFKLMLLKKJJJKKKLLLLLLLMMMMLAAJJIAHGGFEEEEEEEEEFGGHHIIIIIIIIIIIIIJJJAAAAAAKKKKKKKKJJJJIIHGGFFFFFFFFFFGGDAAAAAAAAADDDCCCCDFFFFFFFGGGGGHHHIJKLMOPQRSSSSSSKKKKcnkTJKKKKKReeaYZdhdbLKORTTSQONbolkpnoqrqNooomqrrqortwwumortdu0131xufttnksrjosrrtvZuwwXvttvvviuur0s1zvsqpljw1453wpruvwsplgnqqoolklppjorrspniUggggdaabdfikkkkkkjkkkkkkkjgebZXWWWYZabdeeedbaZZZZZaceffffecbbaYXVSQPOAAAIIUUUTQMJHGGIKMOPRUXYYZZYWVTROLJIIIJLMNNPQQQQQPONNOOPPPPQQQPNLJHGGHJLNOPPPPPOONMLLLKKKKJIGFFFFFGIJKLMNOOPQRRQQPPNLJJIHHHGGGGHIJKMNNOQSTTTSRPMJIGEEEEAAAAAAFILMNMLLKJJJKKLLLLLKKKLLLLLKKKJJJIHGFFEEEEEEEEFGHHIIIIIIHIIIIIIIIIIIIIIIIJJJJJJJJJJJJIIIHGGFFFFFFGGGGHEAAAAAAFGHHHHHHGGGGGGGGGGGGGGGGGGHIJKLMOPPQQRRRRKKKKeplTJKKKKKRffaYYbfcbKKORTTSQOObollpnoqrrWoopnrssrpstvwtnpstct0253yvhttnkrrjosrrtwZvxxYvttvvvlttv0t2zwsrqmjwy454xpsvxyuqmhnqqoolklpqkorsspniTghggeaZZbeikkkkkkjkkkkkkkheddcbbaZZZabdefedcaZZYXXYcegggfdbaaaZYWTRQOAAAIITUUSPLIGFGILMOPSUXXYZZYWVUROLJIIJKLMNOPQQQQPNMLMMNOOPPQQPPMKHGFFFHKNOOONNMMLLLKKKJJJJIHFFFFFFGAKLNOPPPQSTSSRRQOMKJIIIHHGGGHHJLNOPQSUVVVUTQNKIGEEEEECAADGJLMNONMLKJJJKKLLLKKKJJKKKKKKKKKKJJIHGGFFFFEEFFGGHIIIIIIHHHHHHHHHHHHHHHHHHHHHIIIJJJJJJJIIHHGGGGGGGGHHHHGEAAAFHIJJJIIIIHHHHHHGGGGGFFFFFFGGHHIJLMNOOPPPPPKKKMgqnTJKKKKKRffaXYadbbKKKKLNOQRSdpllqqtuvuvtspfrroloqturoflpsvv0131wpdqnqoooqstuxxxViuvYurqkmrkemtyz21zsvtqotqstywtwxyrtroouyyvvrijuursqolmmnnjhddddcZZdikkkkkkkkkkkkkifddefggfdaZZbdfffecbaYWVVXbfhihgdaZaaZZXVSROAAAIISSSROLIHGGIKMNPRTVWXYYYXVUTQNLKJJKLLMNOPQQQOMLKLLMNNOOPPPPNKHFFFFHKMOONNNMMMMMLLLKJIIIGFFFFFGHAKLNOPPPQSTTSRRRPMLKKKJJJIHHHHJLNOPQSUVVVUTQNKIGEEEEEEEEGIJLMNNNMLKJJKLLLLLLKJJJJJJJJJJKKKJJIIHGGGFFFFFGGHHIIIIIHHHHHHHHHHGGGGGGGGGGGGGHHIIJJJJJJIIIHHHHHHHHHIIIIHGAHIJKKKKJJJJIIIIHHHHGGGFFFFFFFFFGHIJKLMMNNOOOKKKOjsoTJKKKKKQfgaXXZcZbKKKKLNOQRSdpllqqquuuvtsqfqqomprttqnekpsvvz120voiqnqonnprtuxxyXjuvdvsrlmrqenuyy10yrusonrsrsxwtwxxqtrootyxvvrikvvssqoklmnnkieefebYYcikkkkkkkkkkihhfdcdgjkkjgcZYadfgffdbaYVUTWafijigcZYZaaaYWTSOAAAIIRRRQOMJIIIJKMNOPRTUVWYYXWWUSPNLLKKKKLMNOPPPNMLKKKLLMMNOPQQNKHFFFFGJMNOOOOOOOOOONNLKIIHGFFGGGHIAKLMOOOOQRSSRRRRPNMMMMMMLKJIHHIKMOPQRTUUUTSQNKIGEEEEEEEFGIJKLMMMLLKKKLMMMMLLKJIIIIHIIIJJJJJJJIIHHHGGGGGHHHIIIIIIHHHHHHHGGGGFFEEEEEEFFFFGGHIIJJJJJJIIIIIIIIIIIIJJJJJIKKKKKKKKKKJJJIIIIIHHGGFFEEEEEEEFFGHIJKLLMMMMKKKQltpUJKKKKKQggaXWXaYaKKKKLNPQSSdoklqrjtututtqeqqonrstspmdkosvvz01yunipqrommnqsuyyzckvwkvtrlmrqenuyxzzxqtrnlqsqrxwtwxxqtrootxxuurikwwssqnkklnnkjgfgfbWWbikkkkkkkkkigedcbadhkkkkjdYYadfggfdcaXUSRUagjkjgcYXYaaaZXVTOAAAIIPQPPNMLKAJKKLMMNPQSTVXYYXXWURPNMLKJJKLMNOPONLKKKJJKKLMNPQROLHFFFFGJLNOPPPPQQRRQPONLJHHGGGHHHIIKLLMNNNOPQRRRRRRPOMNOOOOOMKJIHIKMNOPQSTTTSRPNKJHFEEEEEEFHIJKKLLLLLLLLMNNNMMLKJIIHHGHHHIIJJJJJIIIIHHHHHHHIIIIIIIIHHHGGGGGGFFEEEEEEEEEEEEFGHHIJJJJJJJJJIIIIIIJJJJKKKKKKKKKLLLLLLKKJJJJIIIHGGFEEEDDDDDEEFGHIIJKKLLKJKKSnuqUJKKKKKQghaXWWYXaKKKKLNPRSSdoklqretttuuuqepfposttspldkorvvyz0xtmipqrnlkmprtyz0qmtwrwusmmrrfouxwyywqtqljoroqwvuwwwltrposwwuuqilxxtsqnjklmnljhhhgaUUaikkkkkkkkifdbaZZZdjkkkkkeYXZdghggecaXTQPTZgkkkhcXWYabbaZWUOAAAIIOOOONMMMALKKLLLMNOARUWYYZZYWTRPOMKJIJJLMOONMLKAAAAAAAAAPRSPLIFFFFGILNOPQRRSSTTSRQPMJHGGGHIIJJJKLLMMMNNOPQQQQRRQONOQQRRQPMKIHIJLMNOPRRSRRRPNLJHFEEEEEEGHIJJKKKKKKLLMNOONNMAAAAAAAAAAAAAIIIIIIIIIIIIIIIIJJJJJJJIIHHGGGGGFFCAAAAAAADEEEEEFGHIIAAAAAAAAAAJJJJJKKKKKKKKKKLLLLMMMLLKKKJJJIIHHGFEEDDDDDDDEEFGGAAAAAAAJKMUqwrUJKKKKKQghZXVVUVaKKKKKNPRTTdoklqrctssuuuqehUpputurokcjorvvyzzwslhpqsnljlorty020noxxxvtnnrrfpvxvxwvpspjhmpnpvvuwwwXsrpnswvtuqimyyusqnjjkmolkiiihcXWahkkkkkkihfcbaZZZadikkkkhaVUVZdfedcbZWTSRTYehjheaWWYabbaZXVOAAAIINNNNNNNOAMLKKKKKLMNPSWYZZaaYWTRPNKIIIIKLNNMLKKKJHHHHIJLPRSQMIGFFFFILNOQRSTTVWWUTSQNJGFFGIJJKKKKLLLLMMMNOPQQQQRQPOPRTTTSROLJHIJKLMNOPQQQQQONLKIGEEEEEGHIJJJJJJJJKKLMNOONMMLKJJIHGGGGGHHHIIIIIIIIIIIIJJJKKKKKKKJJIHHGGGGFFCAAAAAAADEEEEEFGGHIIIIJJJJJJJJJJKKKKKLLLLLKLLLLLMMMLLKKKJJJIIHHGFEEDDDDDDDDEEFGHIIJJJHJMOWsxsUJKKKKKQghVXUUSUaKKKNNNLKNMVgimoqfrrrssrrrSPwtywvsopuw00ywxwurjmmoqwuhepuywxvswvknqlhffhijoswyyxuwuqelkmpw1530yvtTqZqz331wrnrw0zupdgnqjpmigjmlgfZYbfkkkkkifdbaZYYYabdgkkkicWSRRVaccbaZYWUTSUYcefecZWWYZbbaaYWOAAAIIMMMMMNOPANLKKKJJJLMORVXZaabaXUSQOLJHHIJLNNMLKKKJHGGGHILORTRNJHFFFGJLNOQSTTUWXXWUTROJGFFHIKKKKKKLLLLLLLMNOPPPQQQPOQTVVVUSPMJHHIKLLMNOPPPPPOMLKIHFEEFGHJJKJJIIIIIJKLMNNNNMMLKKJIHHGGGGGGHHHHHIIIIIIJJJKKLLLLLLLKKJIHGGGFFECAAAAAACDEEEEEEFGHHHIIIIJJJJKKKKKKKKLLLLLKKKKLLLLLLLLKKJJJJIIHHGFFEEDDDDDDEEFFGHHIJJJIJNPXtxsUJKKKKKRghSWUTSUbKKKONMLKNMVfiloqnqqqqqqdrSOulvuuspquwz0xvxwvrkmmnqwuhepv0zzvsvvnnqlhffhiinswyzytxvrdljlov0430yvtTqZqz331wsoswzyupegnpipmhfjmlfgaabehjjigdcaYXXXXYacdfhihdXRPNNQXaaZYYXWUUUVXZbcbZXWWXZabbaZXOAAAIIMMMMMNOOONLKKKKKKMNPSUWXYYZZXVTSPNLJJKLMNONMMLLKIHHHHILOQRQOLJIIIJLMNOQRSSTUVWVTSRNJGFGHJKLLKKKKKKKKKKLMMNNOOPPOOQSUVUUSQMJIIIKKLLMNNOOONMLKKJIHGGHIJKKKKJIIIIIIJKLMNNMLLLKKJIHHGGFFGGHHHHHHHIIIIJJKLMMMMMMMMMLKJHHGGFEDAAAAAAACEEEEEEEFGGGHHHHIIJJKKKKKKLLLLLLLLKKKKKLLLLLLKKKJJJJIIHHGGFEEEEEEEEEEFGGHIIJJJJJPRZtxsVJKKKKKRghUVTSUUbKKLPNMLKNMVfhknpqppopppUqSOthsttsqquwzzwvxwwskmmnrwuheqx211wsuutmplhffghintxz0zsyvraljkntz32zyvtUqZqy331xspswzytpehnpiolhfjnlfgbbcdeffdbZZWUUVVVXacddeedYRNLKKMTYXXWXWVVVWWWXYYYXWWWXZaabbaYOAAAIIMMMMMMNONMLKKKKLMOPRSUVVVWXXWVUTRPNMMMNOPPPONMMLJIIIIJKNPQQPNMMMMMNNOOPQQQRSTUTSRQNJHGGHJKLLKKAJJJJJJKKKLLMMNNNNNPRTUTTSPMKIIJKKLLMMMMMMMLKKJJIIIIJKLLLLKJJIIGIIJKLLMMMLLLKJJIHHGFFFGGHHHHHHHHIIIJKKMNNOOOOONNMLJHGFEDCCAAAAAACDEFFEEEEFFFGGGHHHIIJKKKKLLLLLLLLLLKKKKKKLLLLKKKJJJJIIIHHGGFFFEEEEEEFFFGHHIIJJJJJRTbuwrVJKKKKKSggZVSRTUcKKMQNLLKNMVfhknoponnoooTqSNreprstqruvyywvxxxtkllnrxvheqy443xsttsmpliffggintx000sywraljkmsy21zyvuUqZqy331xspswyxtpfhnphnkgfjnlfgddcbbbaYWVWTRRTTUXaddcbaZTMKKKKKQWVUUVWVVWXWVVVVUUVVWXZaabbaZOAAAIILMMMMMNNNMLKKLLMNPRSTTTTSTVWWVVUTRPOOPQQQQQQPONMLKJJJJKMNOPPQQPPQQPPAAPPOOOPQRRRQPMJHGHIJKLLKJAJIIIIJJJJJKKLLMMNNPRSTTSRPMKJJJKKLLLLLLLKKJJJJJJJKKLMNNMLLKJJIFHIIAAAAMAAAAKJJIHHGFFFGGGHHHGFHHHIIAALMOPPPPPPOMLIAAAAAAAAAAAAADDEFFFFEEEEFFAAAAAAAAAAALLLLLLLLLLLKKAAAKKKKKKKKJJJJIIIIHHGGGFFFFFFFFFFGGHHIIJJJJKTVcvwrVJKKKKKSggYUSRSTcKKOQOLKKOMVegjmoonmmmnnYqSUqfmprtrrvvyyvuxxytkllnrxvheq0665ysttslpliffgghnty010uzxsckijlrw11zxvuUqZqy331xtqtwxwtqfhnphnjfejnmfgcdcbbcaYWVWTRSTUVXadddccbWRNNMKNUYXWVWWVVVWWVWWXXXXXYZbbbbaZXOAAAIILMNMMMMMMLKKLLMNPRTTTSRQQRTUVVVVVTSQRSSSRRSSRPONMLKKKKKLMNOQSTTTUUSQPPONNMMNOPQPPOLJHHHIKLLLKJAIIHHHIIIIIIJJJKLMMOQRSSRQPMKJJJJJIIGHKJJJIIIIIJJKLMNOOOMMLKJJIFHHIJKKLLLLKKJJIIHHGFFAFGGHHECADFHIIJKLNPQQQQQPNLAAAAAAAAAAAACDEEFFFFFFFEEDDDEEEFFGHIJKKLLLMMMMLLLLKKKKKKKKKKKKJJIIIIIIIHHHGGGFFFFFFFGGGHHIIIJJJJNUXewwrVKKKKKKSggYURQSTdKKPROKKKOMUegjlnnmlllmmipShoiknltsrvsyxuuxyzukllnoxvher1897zsssrllligfffhnuy121x0xsfkiikqv00zxvuVqZqy221xtrtwxwtqfhnphmjeejomffbdcbccbYWVVTSTUVWXacdddddZVSRQPSXaZXWWWVUUVVWXYZZZZZacdccbaYVOAAAIILMNNMMMMLLKLLLMORTUUUSQOOPRTUVWWWVUSTUUTSSTTSQPONMMLLKKKLLORUVWXXXURQPOMLKKLMNOOONLJIHIJKLLLKJAIHGGHIIHHGHHIIIKLMNPQRRQQOMKIHHHHHGAGIIIHHGHHIJKLNOPQPONMLLKJHEHHIJJKLLLLKKJJIIIHGFFAFGGHGEAACEGIIJKMNPQRRRRRQOLAAAAAAAACDDEFFGGGGGGFEDCCAAACCDEFHIJKLLLMMMMMMLLLKKKKJJKKKKJJJJHGIIIIIHHHGGGGGFFFGGGGGHHIIIJJJJOWZfwwqVKKKKKKTgfXTRQSUeKMNQRPOOKKRYUVafbjloottniSrpkffVlpqhdppprwxxwoihliolgcYo07170ofnokrrobeebbhmpstuvwurjhmnprvyz0ywVqmjiotuwwvlrvvruurknnlhmnilqnjdccbccbYWVVTSTVWWYacdeefecZXWVVXabaZXXWUTTUUWYaabccbcefecbZWUOAAAIILMNNMMMMLLLLMMNPSVWVUSPNMNPRTUVVWVUTTUUTSSSSRQPOONMMLLLKLLOSUWXXYXURPONMLKKKLMNONMKIIHIJKLLKJIAHHHHHIJIHGGGHHHJKLMOPPPPONLJGGHHIJJJIHHHGGGHHIJKMNOPQQPNMMMLKHAHIIJJKKLLKKKKJJJIHGFFAFGGHHFCADGHHIJKMNPQRRRRRRQPOKHGFFFFFFFGGHHIIHHGGFEDCAACCDEFGHIJKLLMMMMMMLLLKKKJJJJJJJJJJJJHHIIIIHHHHGGGGGGFGGGGGHHIIIJJJJJMXagwupVKKKKKKTgfWSQQTVfKLJPQPOOKKRYTVafckmoottniTrpkeeRkoqhZqqrsxxwvoihleomiebq18170pfnokrrpcefbaglotuvxxvrjhmoqswxyzyxWqnkjpuvxxxmsvuquurkmmkhmngkpnjdccbccbYWVVUTUWXXYacdefggfecaabcddcaZXWUSSTUWZbcdeedeggfdcZVSOAAAIILMNMMMMMMMMNNOPRUWWWUSPNMMOPRSSTTTSSSSSRQQQQPOONNMMMMMMMMNPRTUVVWVTQPONMLLLLMNNONMKIHHHIJKKKJIAIIIIJKKKIHHGGGHIKLLMMMMMMLKHAFGIJJJIHHGGGGHHIJKLMNNPQQPOONNLKHAGJJJKKKKKKKKKKKJJIHGFAGGGHHGEDFGHHIJKLNOQQQQQQQQPNLJHGFFFFFFGGHIIIIIIHGFEDDDDEFFHHIJKKLLMMMMLLLLKKJJJJIIIIJJJIIIIIIIIIHHHGGGGFFFFFGGGHHHIIJJKKKKJYbgvtoVKKKKKKTgeWSQQUWgLLJPPPNNKKQXTUagckmootsmifrojddPjophcrrstxxvvnihlcomjgds28281pfnnosspcffbafkotuwyywsjgmpruwxyzyxWrnkjpuvyzynsutquurkmmkhmmfinmjecbbccbZWVVUTVXYXYabcegiiiigffghgfecaYWUSRRTWadeghgfgiigecYTQOAAAIILMMMMMMNNOOOPPQSVXXWVSPNMMMNOPQQRRRQQQQPOOONNMMMMMMMMNNOOOQRSTTTTSRPONNNMMMMNNOONLJHGGGHIJKKJIAIIJKLMMMKIHHGGHIJKKKKKKJJIIFAEGIIIIHGGGGGGHIKKKLLMMNPPPPPOONLIAGKKKKKLKKKKLLLLKKJIHGAGGGHHGGGGHHHIIJKMNPPPPPPPPOMKIHGFFFFFGGHIIJJJJJIIHGFFFGGHHIIJKKLLLLLLLLLKKKJJIIIIIIIIIIIIIIIIIIIHHHGGGFFFFFFFGGHHIAJJKKKKLJZchvsnUKKKKKKTfeVRQRVXhMLJOPONNKKPWSUbfdlnpossmirroiccPinphlrstuywuunihleonlifu49382qfnnqssqdfgbZejotvxzzxsjgnpsvxxxzyxXrokjqvwy00osutquvrkmlkhlldglljfddddedaXVVUVYabaaabcdefghihghjkigfdbYXWVVWWXZabbcbbcfhgfdZUQOAAAIILLMMMMNOOPPQQQSUXYYXVSPNMLLLMMNAAAAAAAAAAMAAAAAAAAAAAAAPQQRRRRQQQQPONNNNNNNNOOOONLJHGGGHIJKJJIAIJKMNOONMKIHGGGHJKJIHHHHGGHAAAFHHHHGFFFGGHIKLLLLLLLMNPPPPQPOMIAAJLLLLLKKKLLMMMLLKJHGAGGGHHGGGGHHHIIJKLMNOOOOOONNLKIHGFFFFGGHHIJJJJKKJJJIHHHIIIIJJKKLLLLLLLLLKKJJIIIHHHHHHHHHIIIIIIIIIHHAAAFFFFFFFFFGHHIAJKKLLLLJbdivrmUKKKKKKTfdUQPRWZiNLJNOOMMKKPWSUbhdlnposrmirrnhbbRhmohqstuvywttmihlhnonkhw5+492qgnnqstqeghcZcintwy01ytjfnqtwxxwyyyXsolkqvxz12pttsqvvrklljglkcejkjfeefffebXVVVXadedcbabbcdefhiijkkjhgecZYZZaaaZYXXXWWXYcfhhfbVROAAAIILLLMMMNOPQRRSSTWYZZXWTQNLKKJJKKKLMNNNMLLKKJIIJJKKLMNNOQRRSRRQPOONNNMMMNNOOOOPPONNLIGFFFGHIJJIIIJKLOPQQPOLIHGGGHIJIGFEEEEEFAAAFGGGGFFEFFGHJLMMMLLKJLMOPQQRQPMAAAIKLMLLLKKLMNNNMLLJIHGGGHHHHGHHHHHHIIJKLMNNNNNNMMKJHGGFFFGGGHIIJJKKKKKKKKJJJJJJKKKLLMMLLLLLKKKJJIIHHHGGGGGGHHHIIIIIIIIHHGGFFFEEEEFFFGHHIAKKLLMMMJceiuqlUKKKKKLUfdUQPRXaiOLMNONMMKKOVRUbiemnposrlhrrngbaWgmohqsuvwzwssmihlmnoonjy6+4+3rgnnqttrehhcYbhntxz12ztjfnrvxyxwyywYspllrwx023qttsqvvsklkjgljacijkhfgghhfcYVUWZdghgecaaaabcehjjkkkkihfdaZbdefdaXVTSRRSUZehigcWROAAAIILLLLMMOPQRSSTTUWZaZYWTQNLKJIIIIIJKLMLKJJJIHGGHIJJLMNOPRSTTSRPNMLLLLLMMNOPPPQQPONMLIGFFFFHIJIIIIJKMPRSSRPMJHGGGGIJHFEEEEEEEAAAEFFGFFEEEFGHJLNNNMKJIJLNPQRRRQMAAAAAAIJJJJKLMNOONMLKIHHHHHHHHHHHHHHHHIIJKLMMMMMMLLJIHGGGFGGGHHIJJKKKLLLMMLKKKLLLLLMMMMMMLLLKKKJJIIHHGGGGGGGGGGHHIIIIIIIHHGGFFEEEEEEFFGHIJAKLLMMMMJcfitpkTKKKKKLTecTQPTYbjMRPNKKKKKKQTacgjkpqqsqpswz2uiaVcjnnlkjlptyvphUchntsngfku035yoptttx132xpibdhegstuvwunkhlpstojmnmgSnkmrvsxxvvuspqw00zvpnmmlUilmnlighiiigdZVUXbgkkjgcaZYYZacgkkkkkkiihebbehjjhcWSQNMNORWchjhdXSOAAAIILLLLLMNOPQRSSSTVXXXWUSQOMLKJIIIIJKLMLJIIIHGFFGIIJLMNOPRTTTSQAMLKKLLMNOPQQRRRQPONMKIHHHGGHIIIIIJJLNPORRRPNKIHHHHIJHFEEEEEEEAAAEGGGGFFEFFGIKMNONMKJIIKLNPQRRRQPNOPPONNMLLLLMNNNNMLKJHHHHHHHHGGGGGGHHHHIJKKLLLLLKKJIHGGGGGGHHIJJKKLLLMMNNNMMMMMMMMNNNNMMLLKKKJJIHHGGGFFFFFFFGGHHIAHIIIIHHGGFEEEEEEEEFGHIJALLMMNNNJdfisojTKKKJKKTecTQQUadjMRQOLKKKMKRTadgjgqqrsrqswz2vkbXdlonlkZlptyvmhUdhnssmfektz23xmnrstx132wpibdhXgstuvwvomjnqttojmnldUnknrwsxxvvusqrwz0zvqnnmmUillmljhjkkjieZWUXdjkkkidZYWWWXbgkkkkkkjjifccgkkkkeVPMKKKKNSbhkjeYSOAAAIIKLLLLLMNOPQQRRSTUUUTSRQPONLKJJJJJKLMLJIHHGFFFGIJJLMNOPRSTTRPNLKJKLMOOPRSSSSSRPNMLKJJJJIIIIIIIIJKLNNAQQQPNLKJJJJJKIGFEEEEEEAAAFHHHHHGFFGHIKNOONMKIHHIKLNOQRRQQQQQPONNMLLLLMMMMMLKKIHHHHHHHHHGGGGGGGGHHIJJKKKKKJJIHGGGGGGGHIIJKKLLLMMNNOONNNMMMMNNNNNMLLKKKJJIHHGGFFFFFEEFFFGGFAAAFHJIIHHGFFEEEEEEEFGHIJALLMMMNNNdfjrmhSKKKJKKSdbTQRVcekLSRQMKKLNKRUadgjfqrrtrqtwz2wldYfmpolkSlptyvhhVdinssledjsy11vjlqstx121woibdhVgsuuwxwqomortsojmnkcjmknsxtyxwvutqrwzzyvqonmmUiklmljijjjigdaXVYcgjkieaYXXXYZcgjkkkkkghhgeegjjjgbWSPNMMORWejkkfZTOAAAIIKLLLLLLMMNOPQQQRRRQQQQQQPONAAAAAAAAAAAAAAAAAAAAJKLMNOPRSSSROMKJJKMOPQRTUUTTTRPMLKKKLLAAAAAAIIJKLLNAAOPPPOAAAAAAAAAAGFFFFFEAAAGJJJJIHGGGHJLNOONMKIHHHIKLNPQQQQQQPONMMLLKKKLLLKKKJJIIIIJJJJIIHGGGGGGGGHHIJJKKKJJJIHHGGGGGHHIJJKLLLMMNNNOONNMMMMMMMMMMLLKKJJAAAAAAAAAAEEEEEFFECAAAAAAHJIIHHGGFFFEEFFFGHHIAKLLLMMMSegjrlgRKKKKKKRcbTQRWdakLSSRNKKMPLSUadgjjrrstsrtwz2wmeahoqpmkOlpsyvkiVeinsrlechqx00thiprtx021voibdhYgsunwxwrqoqstsojmnjenmkotxuyywwvtqrwzzyvqonmmUhklmlkiiihgfdaYXYbeggebYXWXYabdgiijkjgdegggghhfecZWUTRRRSVbhkkkhaUOAAAIIKLLLKKKLLMNOOPPOONNNOPQQRQPNMLLKKLLLKIGFFFFFFHIJKLMNOPRSSSQNLJIIJMPRSTVWVVUTSPLKJKLNOOMKJIIIIJKLMLAAAOOPOONNNMMMLKJIHHGGHEAAAIKLLKJIHHHIJLNOONMKIHHHIJKLNOPPPPPONLKKKJJJJJIIIIIIIIIJKKKKKKJIHGGFFFFGGHIIJJJJJJIIHHGGGGHHIIJKLLLMMMNNNNNNMMLLLLLLLLLKKAJJIIHHGGFFFEEEEEEEEDAAAAAAAAAHJJIIHHGGGFFFGGGHHIAJJKKKKKXegjqkfQKKKKKKRcaTRSXfPlLTTSOLMNQMTUadgjorssusrtwz2xogcjprqmkNlpsyvqiVeinsrkdbgpwzyrfgnrtw010voibdhegsuiwyxssqrstsojmmjimlkotyvzywwvtrswzzyvrponmUhkkmlkjihgfdcaZZZZbccaXWVWXZcdfgggggecacfhiihfcZYXXWWWWWWZfkkkkibUOAAAHIKLMLKJJKKKLMNONMLKKLMOQRSRQPNMLLLLLMKIGFFFFFFHJJKLNNOPQSSRPNKIHHJNQSTVXYXWVUSOLJJKMPQQOMKIHHIJKMMAAAANOOPPOOOOOMMLKJIIIIIAAAAJMMMMLKIIHIJLNNNNLKIHGGHIJKLNOOOONMKJIIIIIIHHGGGGHHHIJKLMMMMLKJIHGFFFFFGHHIJJJJJJIIHHHHHHHIIJKKLLMMMMNNNNMMLLKKKKKKKJJJIAIIHHGGFFFEEEEEEEEECAAAAAAAAAAAJKKJJIIHHGGGGGHHHHIIIIIJJJafhjpjdPKKKKKKQbaTRTZgJlOSSQNKMOSQZhhkkfsuvvusppstpsqmgtyyvpkJamsqtvpbiothvndXchloqnWasyr28600tnhggikrwn0yupmlmnnlfXhidakkejptquvutsrokw133vocbffUaefWhjjihfdcbaaaZYYZYWUTUVXbefggfedcZYXaeikkhdYUUVXZaaabadjkkkkjcVOAAAIILLMLKJJJJJKLMNMKIIIJLNQRSSRQONMMMMMMLJGFFFFFFGJJKLNOOPQRRRPMKIHHJNRTUWXYXWVUSOKIIJMPRRPMKIHHIJLMIAAAAINOPPPPPPONMLKJJIIJGAAAAKNNNNMKJIIIJLMNNMLJIHGGGHAJKLMMMMLKIHGGGGGGGFEEEEFGHIJLMNOOONMLJHGFDCAAAADIIJJJJJIIIHHHHHHIJJKLLMMMNNNNNMMLKKJJJJJIIIIHHAHHHGGFFEEEEEEEEEECAAAAAAAAAAAAILLLKJJIIIHHHHHHHHHHHHHHHHbeginhbOKKKKKKPaZUSUahKkNSTQNKMPTQZhgjlfsuvvurppsuqsqngtyywqlQamsquxqcjothuneYdhkmpnXbtzs39710tohhhikqupzwtnllmnnlfXhidakkdiptquuttrqmjw033wpdcggVbffWijkigdbbaabcaXVVUSQRTVXcfhhgecaXUUUYdjkkibUPQTXbdeffehkkkkkkdWOAAAIIONNMLKKKKKKLMMLJIHHIKMOQRRRPONNNOOPPOLJHGFFFFGIJKLMNOPQQQQOMKJIIKNQSTUVVVUTSPMJHHILOPPOMKIIIIJLLAAAAAAOOPPOOOONMLKJIIIIIHAAAJNONNMLKJIIIJKLLLLKJHHGGGGAHIJJKKKIHGEEEEEFFEEEEEEEFFGILNOPPPONMKIGDAAAAAAAFIJJJJJJIIIHHHHIIJKLLMMNNNNNNMMLKJJIIIIHHHGGGGAGGGFFFEEEEDDEEEEECAAAAAAAAAAAAILMMLLKKJJIIIIHHGGGGGFFFFFbegimfZNKKKKKKOZZUTWcjLkNSTQNKMPTRZhgjlgsuvvurpqsvrtrngtyywrmaalrquysekptgtneZefjlonYcuzs39711uoihhikptuxvrmkemnomfXhidZkjdhotpuussqoliv034xpedhhWbfgWhiihfdcbcdefdbZYXVUUVWZcfhhgedbXTSTVZeiifaVRSUYaccccbchkkkkidXOAAAIIRQONMLLLKKKLMMLJHGGHJLNPQQQPONNOQRSSRPMJIHFFFGIIJLMNOPPQQPONLKKKLNPQRSSSSRQPNKIHHHJMNOMLJJIIJJLKAAAAALOPOONNMMLLKJIHGGHHJKLMNONNMLKJIIIIIIJKKJJIHHGGGGAGGGHIIHGFEEEEEEEEEEEEEEEFGIKNPQRRRQPNLJHFDAAAAAAGIIJJJJJIIIIIIIIJJKLMMNNNNNNNMLLKJIHHHGGGFFFFFAFFFFEEEEEEDDDEEEEDCAAAAAAAAAAAKNNNNMLLKKJJIIIHGGFECAAAAAaeghkeYMKKKKKKMYYVVXdkLjMSTQNKNPURZggjlgtuvvuroqtvrusohtyyxsnfalrrv0uflqugtnfafeikonYdv0t4+821uoihhijosvvtqlkXmoomgXgidZkjcgospuusrpnkhu034xqfeihWcggXhhgfedccdfghgfdbaZXXXYadfgggfdbXSRRSVadecZVTUVYabaZYXYbfgggfcZOAAAIIVSAAAAAAAAAAAAAAGFGHIKMOPPPOONOQSTUUUSPMKIHFFGHIJLMNOOPPPOONMLLLMNOPPQQPPOOMKIHGGGHJLMLKJJIJJKKKAAAAAOPPONMLLKKJJIGFFFFGIKMNOONMLKJJIIIHHAAAAAIHHHGGFFFFAAAAAAAAAEEEEEEEEEEEEEEEGILOQRRSRRQOMKIGEAAAAAAHIIJJJJJIIIIIIIIJKKLMMNNNNNNMMLKJIHHGGGFFEEEEEAFFEEEEEEEEDDDEEEFFDAAAAAAAAAAALNOONNMMLKKJJIIHECAAAAAAAAadghjcWLKKKKKKLXYVWZflMjMSTRNKNQURYgfjlgtuvvuroqtwsvtohuyyxtofakqrw1vgmrugsmfbffiinnZaw1u5/821uoiiiijnquurokjTmoomgXgidZjibgnspttrqomjgu034yrgfiiXdhhXhgfeddcdfhjkjigfdcbaZabdffggfecXRPPQSVZaZXWWWXYZaYWUTTVYbccdcaOAAAIIZURQPONMMLLLLLKIGFFGHIKMOOONNOMQUWXXXVSOLKIGFGHIJKMNOOOOONNNNNNNNNNONNNMMMLKIGGGFFFHJKKJJJJJJKKKIAAAAQQPOMLKJJIIIHFEEEEFIKMOONMLKJIIHHHHGGGHHHHHHHHGFFFFEEEFFEEEEEEEEEEEEEEEEEEEGILOQRSSSRQPNKIHGFEDCAEHIIJJJJJIIIIIIIIJJKLMMMNNNMMMLKJIIHHGGFFEEEEEEEEEEEEEEEEEDEEEEEFGFEAAAAAAAAAAKMNOONMMLKKJJHFAAAAAAAAAAAadfghbUKKKKJKKKWYWXagnNiMSTRNKNQVRYgfjlgtuvvtroqtxtwtphuyyyupgakqrx3xiosugrmgcghhhmnaax1u5/932uoiiiiimpsspmjiRmoomgXghcZjibfmspttrpnkift035yshgjjYehhYhfddccdegkkkkkkiggedbcceefgggfdXQNNNORVXWWXYYYZZZWTQPPQSVXZabbOAAAIIcWSRQPONMLLLLLKIGFFGGIJLMMMNNLAASXZZZXUQNLJHGGHHIKMNOOONNMNNNOOOONNMMLKKKJJHGFFFFFFFIIIIIJJJJKKLKKAAPQQPNLKJIIHHHGEEEEEFHKNOONLKIHHHHHHHGFFGGGHHIIHGGFFFEEEFFEEEEEEEEEEEEEEEEEEFGJLOQRRRRRQOMKIHGGGFEDGHIJJJJJJIIIIIIIIIJJKLLMMMMMLLLKJIHHHGGGFFEEEEEFFFFFEEEEEEEEEEFFFGHGFAAAAAAAAAAKLMNMMLKKJIGAAAAAAAAAAAAAZcfffZSKKKKJKKKVXXYcioNhLWWWWTWVULNWYfmstuuuwqswvrtqkclpql0431vomou01ywvuuvyzvsmjnnpppolt19/51rgommlmmlotxxwtYkpqpmjgfgknmnomjmnmkopqrruwx00zytpihfdYbbabbbcdfikkkkkkkkjifddeeeefgggdXPMMKKNRTTVYaaZZYYUQNLKKMQTVYbdOAAAIIcWSQQPONMMLMMMLJIHHHIIKLMMMMMAAAATWYYXUQNMKIHHHIJLNOOONMLLLMMNNNNMMMLLKJJJIHFFFFFFFFHIIIJJKKJKKKLMMNPPPONLKKJIIIIHFEEEEFHKMONAKJIHHHHIIIHGGGGHHIIJIHGGGFEEFFGFFEEEEEEEEEEEEEEEFGHJLOPQQQQQPOMKIHGGGGGFHIIJJJJJJIIIHHHHHIIJJKKKLLLLLKKJJIIHHHGGGFFFFFFFFFFFFFFFFFFFFFFGGHHIHGAAAAAAAAAIJKKKKKJJHFAAAAAAAAAAAAAAYbeedXQKKKKJKKKVXXadjpOhKVWWWTWVTLNWYelqstuuwqswwrtqlclpql0320vomouz0xvuuuvyzvsmknnpqpoks09/52rgokmmmmkouyxwocjoqpmigefknnpqnjmnmkoprstvxy00yxtpiifeYbccdcbabcfjkkkkkkkkhecccddeeffecXSQQPPRUWWXYZYXXXWUSQQPOPRTUVXZOAAAIIZURQPONMMLMMNNNMLLLLKKKLLLLLLAAAAARUVUSPNMLJIIJJLMNOOOMLKJJKKLMMMLLALLKKJJJIGFGGFFFFGHIIJKKKKJJKKLMMNNNNNMLLLKKKKIHFFFFGIKMNNAKIHHHIIJKKJIHHIIIJKKJIHHGGFFGEAAADGGGFFFFFEEEEFGGHIKMOPPQQPPONMKIHHGGGHHIIJJJJJJJIIHHHHHHHHIIJJJKKKKKJJJIIIHHHHHGGGGGGGGGGGGGGGGGGGGGGGGHHIJJHAAAAAAAAAAHHHHHHIGEAAAAAAAAAAAAAAAXaddbVOKKKKJKKKUXYbflqOgKVWWXUWUTKNXYdkorsuuxqtwwrurmdmqqlz210uoaotz0wuttuvyzwtmknopqqoks09/62rfolnmmmkpuzyxkkjoqplhfdfkonqrojlmmkoqtuuxyz0zyxtpjifeZcddecaZYZcgkkkkkkkkhdbabcdddddcbYVUUUUWYZYYYYXVVVUUTUVUTSTTTTUVOAAAIIWTQPOMLLLLMNOOOOPPPONMMLLKKKKLAJLOQSSRQONMLKKKKLMNOPPOMKIHHHIJKKKKLALLKKKKKJHGGHGFFFGHIIJKLKKJJJJJJKLLLMMNNNNNNMLKJHGGGHJKMMMAJIHHIJKLMMLKJJJJKKLLKJIIHHGGHFAAAHJJJIHGGGFFFGHHIJKLMOPPPPPOONLKIHHHHHHIIJJJKKJJJIHHHGGGGGHHHHIIIJJJJIIIIIIIHHHHHHHGGGHHHHHHHHHHHHHHHHHHHIIJIHAAAAAAAAAAAGGGGGHGEAAAAAAAAAAAAAAAXZccYTNKKKKJKKKTXZcgmsPfKVWWXUWUSKNXYdimpsuvxrtxwrusnenqqlz21zuoOotyzvtssuvz0wtmknoqrqokrt9/62rfoonmnmkpv0zxmnioqplhedfkoorspklmmkoruvwyjz0zywspjjgeZcefgdaXWXZeikkkkkkkhcZZabcddcbbaZYYYZabccaZYXVTSTTUVXZZXVUTSRQROAAAIIURPONLKKKLMOPQQRSTSSQONLLKJIJJKKLNOOOONNMMMMLMMNOPPQPOLIGFFFFHIJIJKALLLLLLLKIHHHHFFFGHIJKAAAAAAAAHHHIJJLMNOOPPPONMLJIIIIJKLMLKJHHHIKLNOONMLKKKLMMMLKJIIHHHIHFAHLNNMLJIHHGHHIIJJKLMNOOOOOONNMLJIIHHHHIIJJKAAAAAAAHHGGGGGGGGGGHHHIIIIIIHIIIIIIIIIHHHHHHHHHHHHHHHHHHHHHIIIIJIHAAAAAAAAAAAAEEFFFGFECAAAAAAAAAAAAAAWYbaWRLKKKKKKKKTXaeiotUeKVVWXVWTRKNXYchkoruvxrtxwrusoforqly10zuoNntxyusrstvz0wunknoqrrpkqm9/72renonnnmkpwn0ysmioqpkgdcekppsuqklmmkorvxxzb01zxwspjjgfadghheZWUUWbgjkkkkkkgbYYYacdcaZZZZbcdefffedaYWURQRRTXbeecZVTRONNOAAAIIRPONLKJJJLNPQRSUWXWVTQOMKJIHHIIIIJKLLJLMMMMNNNOOPQQQQOKHFFFFDFGHHIJALMMMMMLLKJIIHGFFGHIJKLLHKJIHGFFFGHIJMOPQRSRQPONMKJJJKKLLKJIHHHJLNPQQPONLLMMNNNMLKJIIIIJIGAKOQQPNLJIHIIJJKKLLMNOOOOONNNMMLJIIHHHHIJJKKKKKKJJIHGGGGFFFFFFFGGGHHHHHHHHHIIIIIIIIAIIIIIIIIIIIIIIIIIIIIIJIHGAAAAAAAAAAAADDDDDEFEDCAAAAAAAAAAAAAAVXaZUPKKKKKKKKKSXbfjqucdOaWTPNNNKKVfaillhuvrqvvtuusnlllhv078xqheLnqutqmmnnoqsttrpnnpplnsul30vmnmnlvvkgsvvayvrnoplrnjgjnqsssspnllnpswz036h3zuqmfgjhbcbaZijeZURRTYeikkkkkkgaXWXZbcbZXXYaeghjkkjhfbYVSPOPQTZfijhcXTQMKKKAAAIIOONMLJIIJLNQRSUWYaZXVSPMKJHGHHHGGGHIIEILMNNOOPPQQRRRQNKGFFFFCFFGGHJALMMMNNMMLKJJIGFFGHIJLMKAJIHHGFFFFFGILOQRSTTSQQPNLKKKKKKKJIHHHHJMOQRRRQOMMNNOOONMKJJIJJJJIIMQSSSPNLJIIJKKLLMMNOOOOONNNMMLKJIIHHHIIJKKKKKKKJJIHGGFFFFFFFFFFFGGGGGGGHHHIIIIIIJJAIIIIIIIIIIIJJJJJIIIJJIHFAAAAAAAAAAAAAACCCCCDDCAAAAAAAAAAAAAAAQWYYSNKKKKKKKKKTYcgkrvkdNaWTPMMMKKVfbilkguvrpuustusnmmlVty46vpheMnptsplmnpqrsttrpnnooknsvm30vnnngluukgsvwazvrmopkqoljmorssrromlkmpsx0036g1zuqofhjicdcaYfgdZWUVXbgjkkkkkjeZVUTUWXVUUVWYbefgiihhgebZXVTSSVaehhgcYVSPMMMAAAIINNNMLKKKLNPRSSUWYZYXVSPMLJIHHHHGGGHIIAGLNNOPPPPQQQQPONKGFFFFCFGGGHJALMNNOONNMKJJIHHHIJKLMMAAIJIHGFFFFGHJMOQRSSSRPPOMLKJJJJJJJHHGHHJLNPQQQPNMMMNOOONMLJJJJKLKJJNRSSSPNLKJJKKLLLMMNNOOONNMMMLLKJIIHHHIIJKKKKKKKKJIHGGFFFFFFFFEDFGGGGGGGHHHIIIIJJJJAIIIIIIIIIIIIJJIIIIIIHGAAAAAAAAAAAAAAAAAAAAAAAAAACAEFGGHHAAAAIJVXWQMKKKKKKKKKTZchlswpcMaXTOLLLKKWgbjlkgrvqputrttsnmmlJrw23tohfMnorqobmoqssttsqpnmoojmrvq30vnonclttjfsvwbzvqmnojqonloqstsrpnlkkmpsx0135o0yurpghjidedbYddbZXXYaeikkkkkkhcXURPOQRPORUVVYbdefgggggfdcaXWVXbefgfdaXVSPOOAAAIIMMMMMMMNOPRSSSTVXXWVTRPNLKJIIIIHHHIIIAAMNOPPQQPPPPPONMJHGFFFEGHHHIJALMNOPPPOMLJIIIIKLMMNNLAAHKIIHGGGHIJKMOPPQRQPONMLJJIIIIIJIHGGGHIKMOPPOOMLLMNOOONMKJIJJLMMLLORSSRPNLKJJKKLLLLMMNNNNNMMMMLKKJIHHHHHIJKKKKKKKKJIHGGFFFFFFFCAAACEFGHHHHHIIIIIIIIIAIIIIIIIIIIIIIIIIIIIHFAAAAAAAAAAAAAAAAAAAAAAAAAAACAFGHIJJJJJJJJUWVOKKKKKLKKKKUZdhmtxpcLaXTOLKKKKWhcjljgZuqotsqstsocnlJpuz1rngfMnnqpnPmpquutssqonmnnjmrvy30vnoockssifsvwbzuqlmniqppoqstusqolkjjmpsx0134zzxusqhijjdfecXbbaZZabehkkkkkkjfaVSPLKKLKKNSTTVZbcdeefhiihhfcZYacdeefebZXVSQOAAAIILLMMMNOPQRSSSSTUVVUTSQONMLKJJJJIHHIJJAJNOPQQQQPPPONNMLJIHHGGGHIIIIJALMOPQQQPNLJIIJKMOOPPPOAAKLJIIHHIJJKLMNOOPPONMMKJIIHHHHIIHGFFGHIJLMNNNMLKLLMNOONLKJIIKLNNOPQRRRQONLKKKKKKKLLLMMNNNMMMMLLKJIHHHHHHIJJKKLLKKKJIHGGFFFFFFEAAAAADEFGHHHHAIIAAAAIIAIIIIIIIIIIIIIIIHHHHGFAAAAAAAAAAAAAAAAAAAAAAAAAACDEFGHIJJJJIIIJTUTMKKKMKMKKKKUaeinuyqbKbYTOJKKKKWidkljfVuqosrprsroRolJnsxypmggNmmoonMnqovvusrqonmnmilrv230vnpohkrrhfsvwbzupkmmhpqqqstuuspnkjijmptx01341yxutriikjegfcXZYYZbdehkkkkkkkhdYTRMKKKKKKKRSRSWZZbcdeikkkkkhdbcddcdeedbaYVSOAAAIIKKLMNPRSTUUTTTTTUTSRRPONNMLKKKJJIIJJKLNOPQRRRQPPONMLKKJIIJIIIIJJJJKLLNOQRRRQOMJIJKMPQRRRQPPMNLKJIIJKLLLMNNNNNNNMLKJHHGGGGGHHGFFFGHHIKLMMMLKKKLMNOONLKIIIKMOPPQQRQQPOMLLKKKKKKKLLMMMNMMMMLLLKJIHHGGHHIJJKKLLLKKJIHGGGFFFFFFFEDEFGHHHHHHIAIIIIIIIIAIHHHHHHHAHHHHHHHHHHHFDAAAAAAAAAAAAAAAAAAAAAAACCDEEFFGHIHHGGGGJRTSKKKKNLNKKKKVbfjovzqaKbYTNJKKKKWiekmjfUupnrrprsroPolJlqvwnlggNmmnnmMnqpxxvsrponlmmhlrv230voppojqqhesvwbzupklmhprstvvwvspmjihilpty11230wwuusjjkkfigdWXVWZdgikkkkkkkigbWRQKKKKKKKKPROPTWXYabeikkkkkkgdeedbbefedcbXVOAAAIIJKLMOQTUVWVUTSTTSSQQPPOONNMLLKKJJJJKKMNPQRRSRQPONMKKJJJJKKKJJKKKJJKLLNPRSSSRPMKIJLORSTTTSQPONMKJJKLMMNNNNNMMMLLKKJHGGGFFFFGGFEEFGGHIJKKKKKJJJKLMNONLJIHIKNPQQQRQQPONMLLLKKKKKKKLLMMMMMMMLLKKJIAGGGGHIIJKKLLLKKJIHHGGFFFFFGGGHHHIIIIIIIIAIIIIIIIHAHHHHHHHHAHHGGGGGGGGGGEDAAAAAAAAAAAFEEDDCCCCDDDDDEEEFFGGFEAAAAJQSQKKKKONOKKKKVcgjovzqaKPQKKJPOUWirvvtqpPhemnlojrnqUsgPnnmgeYUnSusnjgLntz30uplicZgklnqsuwyyvvutospicmnkqh0pnigejnqlyzuqxtijnmlmnppuxyvvromoonljhdfgdZaXVXaehikkkkkkkjhdYUSOKKKKKKNUVUUXYZabcehkkkkkhdbbbaZacdeddcaYOAAAIIJKLMOQTVWWVUTSSSRQPPOOOOONMMLLLKKJKKLMOQRSSTSQPONMKKJJJKLLLLLLLLLLLLMNPRSSSRQNKJKMPSTUUTSQPPOMLKKLNOPPPPONMLLKJJJIGGFGFFFFGHGFEFGGHIJKKKKJJJJKLMMNMKIHGHKMPQRRQQPONMLLLLKKKKKKKLLLMMMMMLLLKJIHAGGGGHHIJKKLLLKKJIHHGGGFFFGGGHHHIIIIIIIIIAIIIIIIHHHHHHHHHHHAGGGGGGGGGGGGFEDAAAAAAAAAFGGFFEEDEEDDDDDDDEEEEEDAAAAAJPRPKKKLQPPKKKKXdgjovzqaKQRKKJPPUXjrwwurpPhemnmpdrmpTsgQoomgeYUnStrnigVntz2zupmicahklnqsuwxxvvutospicnnkprzoojgeinqhy0vqxthhmlklnpquxxuuqmlnonljhcfgdZaXVXbeijjjihijkjifbXVSOMMNNPUZaaaaabcddegiihhgdaYYYXXYacdcdedbOAAAIILLLMOQSTUUUTSRRRQPPOOOOOONNNMMMLKKKKLNPRSTTTSQPOONMLLLLLLLMMNNNNNNMMMNPQRRRRQOMLMNQSSSTSRQPONMKJKMOQRSSRQOMLKKJJIIHGGHHHHHIIHGFGGHIJKLLLLKJIIJJKLLKIHGGGJMOPQQPPOMLLKKKKKKKKKKKLLMMMMMMLLLKJIHAGGGGHHIJKKKLLKKJIHHGGGGGGGGGHHIIIIJIIIIIAIIIIIHHHHHGGGGGGGAGGGFFFFFFFFGGFEEEEAAAAAGGHHGGGFFEEEDDDDDDDDDDCAAAAAAJOQPKKKMRQQKKKKYfhkovzpZKQSKKJPPVXksxwvsqPhemonpcqmpTrgQponheYVnTtrmhgintz1yupmjdbillnqetvxxuvutosqjdnnkowyooihehmpWz1wryuhglkklnpquwxutplknonligcegdZaXWYbfijihfdfhjkjhebYWUSTTUXbefffdcdeeeeffedcbYXWVVVVWYacceggeOAAAIINMMMNPQRSSSRRQQQQPOOOOONNNNNNNNMLKKKLNQSTUUUTQPPPOONNNMMLLMOPPQQQPONMNOPQQQQQPONOPRRRRRRQQPONLKJKNQTUVUUROMLKJIIIIHHHIIIJKKKJIHHHHIKLMNNMLJGHIIJJJIHGFFGILNPPPONMLKKJJJKKKKKKKLLMMMMMMLLLKKJIHHGGGGHHGIJKKKKKKJIHHGGGGGGGGHHIIIJJJJJIIIIIIIIIHHHHHHGHHHGGAGGFFFFFFFFFFFGFFFFFFAAGHHIIIHGGFFEEEEEEDDDDDCAAAAAAAJNPOKKKOTSRKKKKagikovzpZKRSKKJPPVYktyxwtqQhempoqgqmpSrgSqpoifZVoZtqlhfjnty0ytpmjecjllnqTtvwwuuutotqjdnnjnvxnpZhehlpO01wsytgejjjlnpquwwtsokjmooligbegdZaXWYcgjkifcacfikkjhebaZZZacfijkkkgefggfeedbZYWUTTSSSTUWZbcehihOAAAIIPONMNOOPQQQQAPPPPOOOONNNNNOOOOONMLKKMOQTUVVVTQPPPQQPPPONMLNPRSSSSRQONNOOPPPQQRQQQRRQPPPQPPOONLJJKOSWXXXWTPMKJJIIIIIIIJKKLMMMLKJIHIJKMNONNLGADFHIIIIGGFFGIANPPPOMAKJIIIJJJKAAAAMMMNMMMLLLKKJJIAAAAAHHGAGJJKKKJJJIHHGGGGGGGHHHIIIJJJJAAAAAAAAIIIIHHHHHHHHHHAGGFFFFFFFFFFFFGGGGGFFFGHIIIIHHGGFFFFFFEEEEEEDCAAAAAAJMONKKKPUUSKKKKbhjkovzpYKRTKKJPPWYltzyxurbhenppqoqloSrgdrqpifZVontpkgfjnsyzxtpmkeckmmnqTtvwwuuusotrkdnnjmuwnpSieglpO02xtztfdiijlnpquwwsrmjimoolifbdfdZaXWZdhkkhdZWZdikkkkheefgggkkkkkkkkghhhgfdaXVTRQQQPPQRSUYabfjkkOAAAIISPNNMMNNNNOOAOOOOOOONNNNNOOPPPPONLLKMORUVVWVTQPPQRSRRRQOMLNQSUVVVURPNNOONNOPRSSSSSSQONOOOOONMLJIKPUYaaaZVQMKJIIHIIIJKKLMNOOONMKJIIKLNOPONLHAAFHHHHHGGGGHJLNOPONLKIIHHIIJJKLLMMNNNNNMMLKKKJJJIIIHHHHIIIIJJJJJJIIHHHGGGGGGHHHHIIIIJJJJJJIIIIIIIIIIIIHHHHHHHAGGGFFFFFFFFFFFFFGHGGGGHIIIIIHHHGGGGGGGFFFFFFEDCCAACEJLNMKKKQWVTLKKKcjjkovyoYKSUKKKPQWZluzzyvsohenqprrqloSqgpsrqjfZVorspjgfjnsxywspmkfdkmmnqTtuvvtuusotrkeooilsunqPidgkpO13ytztechhiknpqtvvrqlhhmoolheadfdZbbbdhkkkjfaYbfkkkkkhdddddehkkkkkkiefffedbZXVUSSTTRQQRSUYbcgkkkOAAAIITQONMMLLMMMNAOOONNNNNNNNNOOPQQQPNMLKMPSUVWWWTQOPRSTTTSRPMLNRUWWXXWTQONNNMMNOQTTUUUSPMLMNNOONMKJIKPWacdcaWQMKJIHHIIIJKLMNPQQQPOMKJJKMOPPPNMIAAEGGGHHGGHHIKMOOPOMLJHHHHHIJKLMMNNOONNNMLKKJJJJIIIIIIIIIIIIIIIIIIIHHAGGGHHHHHHHHIIIIIJJJJJJJIIIIIIIIIIIIIIIIHAHGGGFFFFFFFFFFFFFGHHGHHIIIIIIHHHHHHHHHHGGGGFFFEEDDFGLLMLKKKRWWTLKKKdkkkouxnYKPcXQMTYcep0xwsocjhfdhlproqnPqqqrpnejlmlrqollllotz452wrrnlhnswxWslpyyzxvwvtrokoqqqturSokfhlTvxz0zvspponnopqdlqshmiggmonkggacbXWbfikkkkkhcZchkkkkkhdccbbbehkkkkkfdddccbZYWVUUUVVTRQQRUYbdgkkkOAAAIIURONMMLLLMNOAPPPOOONNNNNNOOPQQQPOMLLMORTUUUURONOPRSSSSQOMLNRUVWXXVTQONNMMLMNPRTTTTSPMLLMMNNMLJIIKPVabccaVQMJIHHHHIIJKLMNPQRRQPOLKJKMNOPONLJAAEGGGHHHHIIJKMOOONMKJHHHHIIJKMNOOPPPMMONLKJJJIIIJJJAJJJJIIIIIHHHHHGGAGGHHHHHHHHIIIIIIIIJJJJJJJJJJJJJJJJJIIIIIHHHGGGFFFFFFFEEEEFFGGHHHIIIIIIIIIIIIIIIIHHHGGGGFFFFFFLKMLKKKSXWTLKKKekkkntvmYKPbXRNUYcep1yxtocjgfdimqsmsoXpqrrqpgkmnlrqnjkkloty451wrqmkgmsxyhslowxxwuvvtrokoqqquvsTpkgglSuwy0zwtqqonnopqdmrsjmjhgmonlggabbWXfkkkkkkkjeaejkkkkkhcbaZYYbehjjjhdbbaaaZYWVVVVXYYVTQPQTYcehkkkOAAAIIURPONMMLMNPQARRRQPONNNNNNNOPQQQPONMLMOPRSSSQOMLMNPQQQQPOMMOQTUVVVUSPONNMLLLMOPQRRRQOMMLLLLLKJIHHJNTXZaZYUPLJIHHHHHHIJKLMOQRRRQPMLKLMNNNNMLJAAEGGGHHIJJJKLNOOONLKJIHHIIJKLNOPPQQPAAMMLKJIIIIJJJKAKKKJJIIHHHHGGGGGAGHHHHHHHHHIIIIIIIIIJJJJJJJJJJJJJJJJJJJIIIHHGGGFFFFFFEEEEEEFFGGHHHHHHIIIIJJJJJJJJJIIHHGGGFFFFFKKMMKKKTXWTLKKKfllknrulYKObXSPVYcep1zyupcjgedimrtktogoprssqhmnojrpmijkknty341wrplifmsyzwtlnvvvustutsploqqruvtTplggkRsvyzzwurrpnnoprenstknjhhmonlhgaaaWYikkkkkkkkgcgkkkkkkhcaYWWWYbfhhhebaZYYYXWVVVWXZaaXURPQTYdfikkkOAAAIIURPONNMMNPRSTTTTSQONNNNNNNOPPQQPONMMMNOPPPPNLKKKLMNOOONNMMOQSTTTUTRPONMLLKKLMNOOPPPONMMLKKKJIHGHIMRVWXXVSOLJIHGGHHHHIJKLNPQRRRPNLLLLMMMMLKJAAEGGGHIJKKLLMNNNNMLKJIIIIJKLMOPQQRPAAAAJJJIIIIIJJKLLLLKKJIIHGGGGGFFDADHHHHHHHIIIIIIIIIIIIJJJJJJJJJJJKKKKJJJJJIIHHGGFFFFFEEEEEDEEFFGGGHHHHIIIJJKKKKKKKKJJIHHGGFFFFFKKLMKKKTUXTLKKLgmlkmqskZKOaXSQWZbeq20zvqdifedinsviuomnprttsjnooarplhhjknsx340wqokhemtyzxtlmtutsrsttsploqqrvwuYqjggjZmuxz0xvsrpnnoqrfotulokihmonlhgZaZWZlkkkkkkkkidikkkkkkhcZWUTTVYcfgecZYXWVWVUUUVWZbddaVROPTZdgjkkkOAAAIITRPPONNNOQTUVWWVURPNNNNNNNOPPPPPONNMMMMNNNMKIIIIJJLLMMMMMNOQRRSSSRQONNMLKKKKKAAAAAAAANMAAAAAGGFGILPSUVUTQNLJIHGAHGGGHIJKMPQRRRQOMLLLLLLKKJJAAFGGGHIJKLLMMNNNMLLKJIIIJJKMNOQQQNAAAAAAAGHHHHIJKLLLLLLKJIIHGGGFFEAAAAAGHHIIIIIIIIIIIIIIIJJJJJJJJJJJKKKKKKJJJJIIHHGGFFFFFEEEEDDEEFFGGGHHHIIJJKKLLLLKKKJJIIHGGGFFFFKKLMKKLUQXTLKKLhmlkmprjZKOZXTRXZbeq310wrdifdciotwivpmmoruutloppProkggijmsx230wqnjgdltz0xullstrrpqttsploqqrvwufrWggjhjtwz0xwtspnnoqsgpuvmpljhnonlhgZZZWYjkkkkkkkkiehkkkkkkfbZXVUUVXaddcbaZZYYYYXXWXXZabbYTQNOSXcfhiheOAAAIITRQPOONNORVXYYYXVSPNNNNNNNOOPPPPOONNMLLLLKJGFGHGGHIJKKKLMNOPQQQQQQPONMLLKJJJIJJKKLMNONMKIIHGFFFGHJNQRSSRPMKJIHGAGGFFGHIJMOQRRRQOMLKKKKKJJJIFFHGGGGHIKLLLMMMMLLKJJIIIJJKLNOPQPNAAAAAAGGHHHHIJKLLMMMLKKJIHGGGFFEAAAAAFHHIIIIIIIIIIIIIIIIIIIIIIJJJJJKKKKKKJJJIIIHHGGGGFFFFEEEEEFFFGGGHHHIIJJKKLLLLLLLKJJIHHGGFFFFKKLMKKMVMXTLKKMinlklopiZKYZXWKVWXalvkcjeXWXZZfjnrhvtpmoqsrpjjkkJihgehmnltnplusqnlkiouz2xuqotv0yssrtwxftwwwxxfnvTpopqgptvuutslpmlnpspouuqpnmlnmkgfdYQabejkkkkkkkkiehkkkkkiebZXVVVVWYabaaaaabbbbaZZYYZZaZWSOMNQWceedbYOAAAIITRQPPOONPSWYZZZZWTPONNNNNNOOPPPPOONNMLKKJJHFFFFFFFGHIIJLNOOPPPOOPOONNMLKJJJIHHIIJJLMONLJIHGFFFFGHJMOPQQPNLKJIHGAHGFFGHHJLOPQQQPNLKKJJJJIIIIJIHGGFGGIJKKLLLLLKKKJJJIJJJKLMNOOPPPPPNMKIHHGGHHIJLLMMMLLKJIHHGGGGFFDACFHHHHHIIIIIIIIIIIIIIIIIIIIIIIJJJJKKKKJJJJIIIHHHGGGGGGFFFFFFFGGGGHHHIIJKKKLLLLLLLKKJIHHGGGFFFKKLMKKNUJWSLKKMhnlklmnhaKXYXVKVWYblvkcjeXXYaafjnqjusplnqsrqlllkJihgfinomucplvsromkiouz1xuqosvzytsqtvxguxxxxxYsuTpoopjptvuuutmrnmoqtqpuvrqnmlmmkfedYJabdhjkkkkkkkifgijjjigdbZYWWWVVWYYYZabcdeeedcbZZZZZYUQNLMPVbecZVROAAAIISRQQPOOOPSWXYZYYWSPONNNNNNOPPPPPPONNMMLLLKIGFAFFFFGHIIJLNPPOONNNNMMMMLKJJJIIHHIJJJKLMMKIHGGFFGIJKLMNOOONMLKJIIHAIHHHHHIJLNOPPONLKJIIIIIIHIIJIIHGGGHIJKLLLLLLKKKKKKJJJJKKLMNNNOOONMKIHGGGGGHHJKLLMLLLKJJIHHGGGGFFAGGHHHHHHIIIIIJJJJIIIIHHHHHHHHIIIJJJJKKKJJJJJIIHGEGHHHGGGGGGGGGGHHHHHIIJKKKLLLLLLKKJJIIHGGGFFFKKLNKLOUJVRKKKMhmlkkllgbLXXWVKVXYblvkciWWXZbaeimqmnrolnprrqmmmlJihgfjoqovXpmvtrpmljmty1xuqosvzytsqsuxhvyyxyyYsuTpoopmptvuuuonspoprtqqvwsronlmmkgedYJbbcegikkkkkkifgggggfdcbaYXXXVTUVWWYacdfhhhgfdbaZYXWTOLKLOUadaUPLKAAAIISRQQPPOOPSVWXXXXVSPONNNNOOOPPQQPPONANNNNNNLIFAFFFFFHHIKMOQPONMLLKKLLLKKJJJIIHIIJJJJJKKIHGGGGHJLMNOOONNMMLKJJJIIJJJIIIIJJKMMNNMAJIIHHGHHHHHIJJIIHHHIJKLLLLLLLKKKLLLKKKJKKKLLMMMMMMKJHGFFFFFGHIJKLLLLLKKJIIHHHGGGGGGGHHHHHHHIIIJJJJJJIIHHHGGGGGHHHIIJJJJKKKKJJIGFAAAEHIHHHHHHHHHHHHHHHIIJJKKKLLLLLLKKJJIIHHGGGGFKKMOLMOUMUQKKKNhmljjkjfcMWWVUKWXYblwkciOWYabbehmprerolmorrrnonmJihhgkprpwYpmvtrpnmjdty1xvqosvzytspruxhwzzyyyYsuTpoopmptuuuvootqpqsurrwxtspnmmmkhddYJbbcccfikkkkkjggfedccbbbaYYYXVSSTTUXbdfijkkjifcbZXWVRNKKKNTZdYQKKKAAAIIRRQQQPOOPRUVWWWVURPONNOOOOPQQQQQPONANOPPPPNKHAFFFFFGHIKNPRQAAAAAAAAKKKJIIIIIIIJKJIIIIIHFFFGHJLOQQQPOMLLKKJJJJJKKLKKKJJJKKLLLKJAHHGGFFGGGGHIJJJIIIIJKKLLLMLLLKLLLMMMLKKJKKKKLLLLLKJHGFFEEEFFGHIKKLLLLLKJJIIHHHHGGGGGGHHHHHHIIJJJJJJJIIHHGGGGGGGGGHHIJJJJIHGAAAAAAAAAFIIIIIIIHHHHHHHHIIIJJKKKLLLLLKKKJJIIHHGGGGGKKMPMNPUTTQKKKNhmljjihedNVVUUKWXZblwkbiJWYbccehlorbqnkmoqrsopomJTihglqoqxYqmvtsqomkWsx1xvqosvzytrpqtxix00zzyYsuTonopmptuuuvtpvsqrsvssxyutqommljhddYJbbbbcegjkkkjhfedccbbbcccbaZZWSRSSTXcegikkjigdaZYYXWURPOPSWbdZTNKKAAAIIQRRQQPOOPRTUVVVUTQOOOOOOOPPQQQQQPONAOPQRSRPMIAFFFFFGHILOQSQOLJIHGGHIJJIIIIIIIIJKJIHGGGFFFFGHKORTTTROLKJJJJJJKKLMMMMLLKKKKKKJJHAGFFEEEFFGGHIJJJJJJJKKLMMMMMLLLLMMNNNMLKJJJJJJJKKJJHGFEEEEEEEFGIJKLLLLLKKJJIIIHHHGGGGGGGHHHHIIJJJJJJJIIHGGFFFFFFFGGGEAAAAAAAAAAAAAAAAAHJJJJJJIIIHHHHHIIIJJKKKKKLKKKKKJJIIHHHGGGGKKMQOOQTVSPKKKNhlkjihbdeNVUUTKWXZcmrlbhJWZcdcegkorapnkmnprsqrpnJKihgmsmsyhqmwtsqonkRsw0xvrosvzzukppsxiy10zzyYsuTonopmptuvvwvqwtsstvtsxyvtrpmmljgdcYJbbbbcdeghhhgfedbbaabcdeedcbaWSQQQSXcfhjkjjhfbZYYYYYWVUTUWacdaWRONAAAIIQQRRQPPOPQSTUUUTSQOOOOOOPPQQRRQQPONAOQSTTTROJAFFFFFGHJLORSROLIHGFFGHIIHHIIIIIJKKKIGFFFFFFFGIMQUWWVSOKJIIIIJJKLMNNNNNMLLKJJIIHFAEEEEEEEFFFGIJKKKKKKKLMMMMMMLLLLMNOOONLKJJJJIIJJJIHGFEEEEEEEEEGHIKKLLLLLKJJJIIIHHGGGGGGGGHHHGEFIKKKJJIIHGFFFFFFFFEAAAAAAAAAAAAAAAAAAAAAKKKKKJJJIIIIIIIIIJJKKKKKKKKKKKJJIIHHHHGGGKKNRPPQTUROKKKNglkjigUdfTYVXYOOZbfqrwkfJVMZdfihiknapomllgoswttrPNjjgmwp2zqrglmlboqsTutpptsrrtwxucodptut24433fwvWthsuuwvusponjikjjmquz0121urkeigXUcZJadfdbcceeeeddcbaZZZbdfggfedbXSPOPRXdhikkjigdaXXXYZZZZYYZbdedcZVSOAAAIIPRRRQPONOPRSTTTSRPONNOOOPPPQQQQQPOOAOQSTUTROKAGFFFFHIJMPSTROKIGFFFGIJJIIJJJJJJKKKIFFFFFFFFHJNSWYYWSOKIHHHIJKKLNNOOONMLLKJIIHGEAEEEEEEEFFGHJKLLLLKKLMMMMMMMLLKLMNOONMLKJIIIIIIIIIHGEEEEEEEEEEFGIJKKLLLLKKJJJIIIHHGGGGGGHHHIIHHKKKKKKJIHGGFFFFFFFDAAAAAAAAAAAAAAAAAAAAHKLLKKKJJIIIIIIIIJJJKKKKKKKKKKKJJJIIHHHHGGKKNRQQRTTQOKKKNglkjhfPcfUYWXXMNZbfqrwkfJVLYdfhhikmapqonZgotwttrPMkliowq2zvqglnmcoqsXutppsrpqswyvcpepsts14443swvWthsuuvvusponjikjimquyz121urkehgXUdaVaeedbaabccbabbaYYYZadgiiigfdYSONNQXeijkkjhfcYVVXZabcdddeggfddcaXOAAAIIPRRRQONMMOQRSTSSQONMMNNOOOOPPPPPOOOAOQRSSRQNKIHGGGHIJKMPRSROLIHGGGIKLKKKKLKKKKKKJHFFFFFFGHILOTXYYXSNKHHHIJKKLMNNNNNLLKKJJIIIGFAEEEEEEEFGHJLMNNMMLKLMMMMMMMLKKKLMMMMLJJIIHHHHIIIIHGEEEEEEEEEEFGHIJKKKKKKKKJJJJIIHHHGGGHHHHIJJKKLLLLKKJIHGGFFFFFFDAAAAAAAAAAAAAAAAAAAALLLLLLKKJJIIIIIIIJJJKKKKKKKKKKKJJJIIIHHHHHKKOSSRRSSPNKKKNgkcjheNcgWZWXWLMYbfruwkfNULYcehhijmZqrpoPhotquuqOMlmkqxt2zuqglnmcoqsgutoorqopswzxiqfpstr145542wvduituuvutrpoojijiiiquyz121vrjdggXVdbYbeecbZYYZZYYZaYWWXYaehjkkigeZSNLMPXfjkkkjheaWTUWZbcfhiijkkheffecOAAAIIQRSRPNLKKMOQSSSRPNMLLMMNNNNNNNNNOOOAOPPQQPOMKJIIIIJKKMNQRSQOLJIHHIKMMNNMMMMLLKJJIHGAFHHHIJKMQUXZYWSMJHHHIJKLLMMNMMLHJJJJIIIIHFAEEEEEEFGHJLNOPONMLLLMMMMMMLLKKKKKLLKJIHHHHHHHHIIIHGFEEFFFFFFFFGHIJJJKKKKKKAJJJJIIHHHHHHHHIJJKLLLMMLLLKJIIHGGGGGEDAAAAAAAAAAAAAAAAAAAKLLLLLLKKJJIIIIIIIIJJKKKKKKKKKKKKJJJIIIHHHHKKOTTSSSRONKKKNfjPjgdObhXaXXVKLYbgrzxlfTUKXcehghjlVqtrqQiptfpuqOMlnmsyy1zupflondoqssvtonqpnosw0ytrgqssq045543wwnvjtutuutrpoojijiiWquyz022vrjcffXVecZbedbaZXXXXXYacaZZZZbehjjihfdaVSRRTZfhijjhfdZVTTVYabdfgggihecccbaOAAAIIQRSRPMJIIKNQRSSROMLKKLMMNNMMMMMMNNOOOOOONNMLKKKAJKLLMNOQRRQOLKJIJLMOOPPPOONNLKJJIGAAAIIJKKLORVYZYWSAJHHHIKLLMMMMMLGAGIIIIIJJIGFEEEEEAAAAANPQQQPNMLLMMMNMMLKKJJJJJJIHHGGGGGGHHIIIHGFFFGGGGFFFFFAAAAAAAAAAKAKJJJJIIHHHHHHIIJKLLMMMMMMMLKAAIHHHGAAAAAAAAAAAAEFGHHHHHAKLLLLLLLLKJJIIIIIIIIJJJKKKIHJKKKKKJJJIIIIIHHKKOUUTTRQNNKKKNfjKjgcSbiYaXWUKKXbgr1xlfXTKXbdgghikPrutsRipuZeuqNMmpptz11zupfmondpqstvtnmpnmorx1zxshqsrp046653wwwvjtututsrpoojhjiiNqtyz02xvribffWVecacecaaYWVVWWYbedcbbbdfhiihgedbYWWWYbefghgfebYVTTUXZacdeeefecaaaZYOAAAIIQSTROLIGGIMPRSSQOLKJJKLMMMLKKKLLMNOPOONMLLKKKKLALMMNNOPQRQPOMKKKLNPQQRRRQQPOMKJIGAAAAAKLMMNPTWYZYWRAIHHHJKLMMMMLLIAAAGHHHIJJIHFFFFEEFGHJMPRSSRQOMLLMMNNMMLKJJIIIHHGGFFFGFGGHHIIIIHGGGGHHHGGFFFGHHIIIJJKKKAKKKKJJIIHHHHIIJKKLMMNNNNNNMMKIGFEEDAAAAAAAAAEFGIJJKKKLLLLLLLMMLLLKJJIIIIIIIIJJJKKHAAAGIKKKKJJJJIIIIIKKPVWUTRQNMKKKNeiKigbYaiZbYWTKKWagr1ylfXTKWbdgghikPrvvtTjpuZYtpNMmqrv011ytofmpoepqttvtnmnmlnrx21zuhrsro047753wwxwkuututsqpppjhiihNqtxy02nwribeeWVedbdebZaXUTUUVYcffedddefghhgedcbbbbbcddddeeecaXUSSTVYZabccccbZYYXWVOAAAIIQSTROKHFFHLORSRPNKJIIJKLMLKJJJKKLNOPONMKKJJJKLMANOOOOPQQQQPNMLKLMOQRSSTSSRQPNLJIAAAAAALMNNOQTXYZYWOAAGHIJLMMMMMLIAAAAEGGHIJKJIGGFFFFGHIKNQTUTSRPMLLMMMMMMLKJIIHGGFFFEFFFFFGHIIJIIHHHHHHIHHGFFFFGGHHIIJJKKAKKKKKJJIIHHIIIJKLMNNNOOOONKAAAAAAAAAAAAAACDEGHHIIJJKKLLLLLMMMMMLLKKJIIIIIIIIJJJKIAAAAAAHJKKKJJJJIIIIKKPWWVURQNNKKKOfjKjgbXaiUYVXWSTZcZk1xogaZYcgjmlkifRw001cxvxZZsoRJkmmmwyyvsmghmocmnokstsssrqpoohorsrssssx2663zustttsqpfnpmUqqpnjhdJnrvxy0dwsnaiigciihgfaYaWTSSTUZehhhgfefgggfedcbceggggfcbbbccbYVTSSSUWYYZaaaaYXWVUUTOAAAIIQSTROLIGGILOQRQOMKJIIJJKLLKKKLLLMNOOONMMLLLLMNNAOOPPPPQQQPONLKKKLNPQRRSSRQQPOMLJAAAAAAKMMMNPRUWWWUPAHIIJKLMMMMLLAAAAACGGGHJJJIIIIIHIIJJLNQRSRQPNLKKLLLLLLKJJJIHGGFFEEFFFFGHIJJKKJIIIIIIIIHGGFFFFGGHHIJJKKAKKKKKKJIIIIIIJKKLMNOOOOONLAAAAAAAAAAAAAACDEFGHHHIIJKKLLLLLMMMMMMLKKJIIIIIIIIJJJJHAAAAAAAHJKKKJJJJJIIKKQWXVURQONKKKOfjKjgaXZiUYVXWSTZcZkzwngbaZdhjmkjiaRvzzzbwvwYdrobNknnnwyywsmhinpdmnnjsttttssqpohmrsrttssx1552ztsttutnpgopkQqrpnigcJmqtwyzbwsnaiigdjhhffZXZVSQQRUZfjkjihghhgfedcaadhkkkkhcZZZaaaXUSSRRTVWXXYYYXWVUTSRROAAAIIQSSRPMJIIJLNPPPNLKJJIIJKLLLLMNNNNNNNNNNNOOOOOOOAPPPPPPPPPONMKKJJKMNPPQQQPPOPPONNJAAAAAKKKLLMORSTTSQNLKKKLMMMMMLLHAAAAAGGGHIJJJKKKKKLLLLMNOPPONMLKJJJKKKKKKJJJIIHGFFEEFFFGHIJKLLLKJJIIIIIIHHGFFFFGGGHIIJKKAKKLKKKJJIIIIIJKLMMNOOOOONLAAAAAAAAAAAAAADDEGGGHHIIJJKKLLLLLMMMMLLKJJIIIHIIIIIJJJGAAAAAAGIKKKKJJJJJJJKKQXYWVSQOOKKKPfjOZgaXZhUXUWWSTacZjsumgbbaeikmjjhUQuxyyawqvYlrnjaknonxzywtnhjopdmmnjsuuuuutrpoglqrstttsw0441ytsttutgqgopkQqrqnifbJlpsvxzfwtnaiigdjhgfeaadaXVUVXbfijjihgggfedcaZZbfijjifbZZacccZWUSRRTVWWWXYYXXXWVTRQOAAAIIQSSRQNLKJKLMNONMLKKJJIJJKKLNOPQPONMMMNPQQQRRQPOPPPPPPPPPONMLJJIIJKLNNOOONNNOPQQQQMAAAJJJJJJKLNOPQQPONMMMMMMMLLLLJAAAAAGGGGHIIKLMMNNOONNNNNMMLKKJJIIIJJJJJJKKKJIHGFFEEEFFGIJLMMMMLLKJJJJIIIHGGFFGGGGHHIJJKAKKKKKKKJJAAAAAAKLMNNNNNONLJAAAAAAAAAAAEEEFFGGGHHHIIJJKKKLLLLLLLLKKJIIIHHHHIIIIIIGAAAAFGIJJJJJJJJJJJJKKQYZWVSQPPLKKPgjRQgaWYhUXTWWTUadYijtlfbbbgjkmjihPRtwwxgvhuZtqnjalopoxzywtnikpqdmmnjsuvvwvusqofkprsuutsvz230xtstuuudrhopmVrrqmheaJjnruxzpwtnaiihejhgedbdhfcaZZadgiiiihggfedcaZYYacfhhgdbZacefecYVTSRSUVVVWXXYZZZXURPOAAAIIRRSRQONMLLLMMMMLKKKKJIIJJKMOQSSRPNMLMOQSTTUUTQPPQQQQPPPONMLJIIIHHIJLMMMMMMMOQSTTTSQALKIHHHHHIJLMNOOOOOOONMMLLLLLLAAAAAHGGGGHIKMOPPQQQPOONMKJIHHHHIIIIIIIJJKKKKJHGFFEEEEFGIKMNNNNMLKKJJJJIIHHGGGGGHHHIIJJKAKKKKKKKJJJJJJJKKLLLMMMMMMLKIAAAAAAEEFFGGGGGGHHHHHIIIJJJKKKKKKKKKJJIIIHHHHHHHHHHIHFAEFHIIIJJJJJJJJJJJKKQYZXWTRPQMKKQgjULgaWYgUWSVWTUadYharkfbcchklmiigKgsvvwsvXuasonjalppoxzywtojlqremmmjsqvwxwwtqofjortvutsvz12zxsstuvveriopoYrsqmgeZJimptwyzwtnaijhejhfedcgkjhfddefghiihggfedcbZYXXYadefecaZbdghheaWTSRSTUUUVWXYabbZVRONAAAIIRRRRQQOONMLLLLLKJKKKJIIIJKNQSUUTQNLKLORTVWWWVSQQQQQQQPONMLKIHHHHGGIJKKKKKKLNQUVWWVUPMJIGFFFFFGHJKLNPQQQPONLLLLLLLGAAADHGGFGGIKNPRRSTSRQPNKIGFFFFGHHHHHHIIKKLKIJIGFEEEEEEGILNOOOONMLLKJJJJIIIHHHHHHHHIIJJJKKKKKKKKKJJJJJJJKKKKKKKKKKKKJHGFFFGGHHHHHHHHHHHHHHIIIIIJJJJJJJJJIIIHHHHHHHHHHHHHHHGFFHHHHIIIIJJJJJJJJKKRZaXWTRQQMKKQgkYLgaWXfUZWVUTWWVVdMjiheilcnkhdalSqkzwonuTpWkaUaediouzzvpihqyw0ysnmnnbuz33wogbikptwxvwwym0wspppppomUkoqhuy23yrlikNijswvz0xvrnkbmnoonlhhmkkkkhhhhhghhhggfdcbaYWWWWYaccbaaZcfikjgcXUSRRSTTTUVWZcddbWRNMAAAIIQRRRQQPONMLKKKKJJKLLKJIIJLNRUVVUROLKLOSUWXXXVSQQQQQQQPONMLJIHGGGGGHJKJJJJKLNRVXXXXVQMJHFFFFFFFFHIKNPQQRQPNMLLLLLLIAAAEIHGGGGILOQSTUUUSRPNKHFEEEFGHHHHHHHIIHAAAAIGFEEEEEEGILNOPPOONMLKKJJJJIIIIIHHIIIIIJJJJKKKKKKKKKJJJJJJJJJJJJJJJIIIIIHHHHHHHHHHHHHHHHHHHHHHHIIIIIIIIIIHHHHHHHHHHGGGGGGGGGGGGGGGHHHIIIJJJJJJJKKRZaXXUSSRNKKRhkcLgaWXeTZWVVVXWVVcMihhfjmPnkhdakSqjzvomtSpalYUbeeiouyzupihqzw0zsnmnmZtx22vogcjlptwwvwwymzwspppppnlcjoqhuy23yrljkPjktwvyywurnlcnooomkgjpkkkkkkkkhgghhggedbaYWVVVVVXaaZZZZcgkkkjeZVTRRSSSSTUWZdfgdXRMLAAAIIQQQQPOONMLKKKKKJJKLLKKKKKMOSUWWVTQAMNPSUVVVVTQOOPQQQQQPNMLJIGGGGGHJLMLLLLLMORUWWWWUPLIGFFFFFFFFHIKMOPPPPPONMMLLKKJAAAFIIIHIIJMOQSSUUUSRPOLIGFFFGHIIHHHGEAAAAAAADGEEEEEEEGIKMOOOOONMLLKKJJJJJJIIIIIIIIJJJJJJJJKKKKKKKKJJJJJIIIIHHHHHGGGGGGGGGGGGGGGHHHHIIIHHHHHHHHHHHHHHGGGGGGGGGGGGGGGFFFFFFFFFGGGGGHHIIJJJJKKKKRZaXXVTTSOKKRiljLgaWWcTZVVWXYXVVcLihhfjmQolidakTpjyvnlrRoflYUbeeiouyzupihqzx10tommlcrw11vogdjmquwwuwxymyvrpppppnldinqhuy12yrljlbkltwuyxvtqoldoppnljgiokkkkkjjigffghhggfedcbZZZYYZaaZYYZadgiigdaXWUSSSSTUVXadffdaVROAAAIIPPQPONMLLKJKKKKKKKMMLLLLMNQSUVWVUSAOPQSSTTSSQNMNOPQRRQPOMLJIGGGGHJLNOOONMMMORUVVVUSOKIGFFFFFFFGIJKLMNNOOPOONNMLKJHAAAFJJJJKKLNPQRSTTTRQPOMKIHHHHIJIIIIHEAAAAAAAAEEEEEEEEFHKMNNOOONMMLKKKJJJJJJJJIIIIJJJJJJJJJJKKKKKKKKJJJIIHHGGGGFFFEEEFFFGGAGGGGGHHHIIIIIHHHHGGGGGGGGGFFFFFFGGGGGGGFFFEEEEEEEFFFFFGGHIIJJJKKKKKSabXYWVVTPKKSimlQgbWVbSYUVYZaXVUcLhhigknRolieakYpiyvnkqQoklaUbeeiotyytohhqzx11uonmkfqv00uohdknruvvuwxylxuroppponkdenqiuy12yrlklnlmuxuxwtsqomeprpnkifhnkkkkjihgfefghhhiihggfedccbbbaZXXYZaceeedbaYWUTSTTVXYbefeecYVOAAAIIOOPONLKKJIIJKKKKKLMMMMNNNPRTVVWWVTSQRRRRRQQONLLMNAQRRRQOMLJIGGGGILOQRRQPONNPRTUUTTQMJHGFFFFFFFHJKKKLLMMNOPPPONLJIFAAAEJKLLMMNOPQRRSSSRPPPNMKJJIJJJJJJIIEAAAAAAAAAEEEEEEEFHJLMNNNNNMMLKKKKKKKKAAAAAJJJJJJJJJJJJAAAAAAAAJJIIHGGFFFEEEEEEEEEFFFAGGGGGHHIIIIIIHHHGGGGGFFFFFFEEEEFFGGGGGFFFEEEDEEEEEEEFFFGHHIJJJKKKKKSabXYXWWVQKKTjmlWgbXVZSYUVZabYWUbPghihloRpmjebkhoixumjpPnmleVbeeiotxytohgqzy21upnmjepuyzuohelpsuvvuxyylwtqooppomkcdmpiuy12yrmkmomnvxuwvsrqpnfqsqnjhegnkkkkiggfddefhhijkkjjjjhgfedcbZXWXXXYZabcddbYVTTTUWYacefeeecaOAAAIINOONLJIIHHHJKKKKKLMNNOOPPQSUVVVWWVUTSSRQPONLKJJKMAQRRRQPNLKIGGGHJMQSTTTRPOOPRSTSSRPLJHFFFFFFFGIKKKJJJKLMOQQQPOLJIEAAAEJLMNOOPQQQQRRRRQOPPONMLLKKKKKJJIIFAAAAAAAAAEEEEEEEFHIKLMMMMMMLLKKKJKKKKKKJJJJJJJJIIIIIJJJKKKKKKKJJIHHGFFEEEEEEEEEEEEFFAFGGGHHIIIJJIIIHHGGGGFFFFFEEEEEEEFFGGGGFFFEEDDDDDDEEFFFGGHHIJJJKKKKKSbbXYYXYWQKKTknmchbXUYSYTWaccZWUbXghihloSqnjfbkpohxulinOmmmhVbeeiotxxtnhgq0y22vqnmjdntxztohemqtuvuuxyukwspnoopomjbgmpiux12xrmknpnowxuwurrqpogstqmigdfmkkkjgfedccdfhijkkkkkkkkjjifcbZWWWVUUVWZcefebXUTTVYZbdfedfhgeOAAAIIMNNMKIHGGGHIKLLLLMNOOPQQQRTVVVVWXXVUUTRPNMKIHHIJLAQRSRRPNLKIGGGHKOSUVVVTRPOPRSSRQPNKIHFFFFFFGHJLLKJIIIJLOQRRQOMJHDAAAAJLNPPQQRRQQQQQQONOPPPONMMLLKKJJIIGAAAAAAAAADEEEEEFGHIJKLLMMLLLKKJJJJJKKKKKKJJJJJIIIIIIIIJJKKKKKKJJIHHGFFEEEEEEEEEEEEFFAGGGHHIIHJJJJJIIHHGGGGFFFFEEEEEEEFFGGGGFFFEDDDCCCCDDDEEFGHIIJJJJKKKKTbbWYZYZWRKKUlomhhcXUWRVTVZSSUSKPefghikmXpngjjjfnpporoXJrvwsniZdfgeimoppont146ztpYifbRnrvwtsmnqrpqqqdfpopsvxxvtqoonhmpqquwvgsqpqssmpvyzvtrlpqstrpeXiilkkkifedbbbcfhikkkkkkkkkkkkhdbYWVVTRQRTWbfihdYUTUWZbcefedgjkjOAAAIIMNNMKIHHHHIJLMMMNNOPPQQQQRTUVVVWXWVUTSQOMLKIHHIJLAQRRRQPNMKIHGGHKOSUVVUSQPOPQRRQQPNKIHGFFFFFGHJLLKJIHHILNQRRQOLIHDAAAAJMOPQQQRQQPPPPONMNOPPPOONMLLKKJIIHAAAAAAAAACEEEEFGGHIJKKLLLLKKKJJJJJJKKKKKKKJJJJIIIIIIIIIJJJKKKJJJIHHGFFEEEEEEEEEEEFFGAGGHHIIHGHIJJJJIIHHGGGGGFFFEEEEEFFFGGGGGFFEDDCCAAAACCAAAADEFGGHIJJKKUbaWYaZaXRKKUlomkhcZUVPUTVYKRTRKOfefghklgongkkjfmpporpXVrvwsniZcfgeilnponmt1470uqYifcRoswwutmorqopppdaoopruwwusqpppinqqqtwufsppqssnqwyzutqkoqrtrpfYihkkkkjhfecaZbdghikkkkkkkkkkjfdbaZZYXVUUVXadedbYVUVXYabcddceghfOAAAIIONNMLKJJJJKMNNOAPQQQQQQPPQSTUUVVVUTSRQPNMLKJIIJKMAQRRRQONLKJIHHIKORTUUTRPNNOPQQQQPOLKIHGFFFGGIKLLKJIHHIKMPQQPNKIHCAAAAJMOPPPQQPOONNNMLKLNOPPPOONMLLKKJIHAAAAAAAAACEEEFGHHIIJKKKKKKJJJJJJJJJJKKKKKKKJJJIIIHHHHHIIJJJJJJJJIHHGFFFFEEEEEEEEFFGGGGHHIIIHGHIJJKJJIIHHHGGGGFFFFEEEFFFGGGGGGFEDCCAAAAAAAAAAAAAAAAAAFHJKUcaVYbabYSKKUmpmjhdaUUOUTVYJQSQKNeedfgjknonhllkfmqqprpXdrvwsnhYcefdhknonnmt1471vrZigcSptwwutnprqmoopdXoopruwwtrppqqjoqqqtvtfrpppstnrxzzuspknpqsrpfYihjkkkkihfcZYZceghjkkkkkkkiigecbccccbaZYXYZaaaYXWVWXYZabbbacddcOAAAIIPONMMLLMMMNOOPPARSSSRQPOOPRTUUUUTSQPPOONMMLKKKLLNAPQQQPOMLKJIIIJKNQRSRQPNMMNOPQQQQPNLKIHGGGGHIKLLKJIHHIJLNOOOMKIHEAAAHLMOPPPPOONMMLKKJJKMOPQPPONMMLLKKJIAAAAAAAAAFEFFGHIIIJJKKKKKJJIIIIIIIJJJKKKKKKKJJIIHHHHHHHHHIJJJJJIIHHGGFFFFFEEEEEFFFGGGHHIIJKJIJKLKKKJJIIHHHGGGGGFFFFFFFFGGGGGGFEDCAAAAAAAAAAAAAAAAAAAAAJKVcaUYcbdYSKKVnqmjhebUTNUTUXJPRPKNedWfgijmnninmkfmqqpsqXdrvwsmhYcefdhjmnnmls1482wsZigcSqtxxvuoqsqlmnodXooortvvtqppqrkoqqqsvteqoopstosy0zuspjmoqsrpfYigikkkkkigcZXYadfgijjiijihgfedbcdgggfedbaZYXWWWWXXXXYYZZaaZaaaZOAAAIIQONMNNNOPPQQQQRPUUUTSRPONOQSTUUTSQONMMMMMMMMMMMNOAPQQPPNMLKKJJJJLNOPQPONMLLLAOPQQQQONLKIHGGGHIKLLKJIHHAAAAANMLJHHGAAFKMNOOOOONAAAAJIIHHIKNPQQQPONMMLLKKIGAAAAAAEGFFGHHIIJJJKKKKJJIIIIIIIIIIJJKKKKKKKJJIHHHHGGGHHFIIJJJJIIHHGGGGFFFFFEEFFFGGGHHIIJKKLLLLLLLKKJJIIHHHHGGGGFFFFFFFGGGGGGFEDAAAAAAAAAAAAAAAAAAAAAAJKVcZUXcceZSKKVnqmjhecVSMTSUXJOROKMddPefhilmnionlfmqqqsqYdruwrmhYcefdgjlnmmls1483xtaigdTruyxvvpqspklnodaoooqtvuspoprtlpqqqsusdqoopstptz00usoilnprqpgZighkkkkkkgcYWXZcefghggggfeddcbbcfjkjkjhecaXUSSTVXYYYYXXYYYYXXWVOAAAIISPNNNOPQRSSSSSTUWXWVTRPNMNPRTTTSQOMKKKLMMNNNNOOOPPPPPPONMLLKKKKKLMNOONMLKJJKMOPQQRRQONLJIHHHHJKLLKJIHHIIALMMLKIHHHEAILMNOOONNMLKJJIGGFFHJMPQRQQPNMMMKKJJJJIHGFIHHGGHIIJJJKKKKKJJJIHHHHHIIIIJJKKLLLKKJJIHHGGGGGGFDGIJJJJIIIHHGGGGGFFFFFFFGGGHHHIJJKLLLMMMLLLKKJJIIIHHHGGGGFFFFFFGGGGGHGFEAAAAAAAAAAAAAAAAAAAAAAJLWdZTXddfZTKKWornjhfdVPKKKKLJKKKKPdhUljgXnrwy31wtwy0xuqlouuvwsmjnqspkhegjnu021pxskghkotwutssuvxvrinopqhljjioqrrrdtuurrrsrqpgehigmpqeuwviojdagnrvtphgfeckkkkkkicXUVXadefeeeddcbbaaaachkkkkkkifbVRPPRUYaZYXXWWWXXVUTSOAAAIITPNNOPRSTUVUUTUWYYXWUROMLMNQSTSROMJIIIKLMNOOPPPPPPPPPOONMMLLLLLLLLMMMLKJJIIJLNPQQRSRPONLJIIIJKLMMLJIIIIIAKLLKJHHHHGGKMNNONNMMKJJIIGFEEEGJMPQRRQPONMKAAIKKKKJJJIHHHHIIJJKKKKKKKKJJIHHHHHHIIIIJKKLLLKKJIIHGGGGGGGEAFIJJJJJJIIHHHGGGGGGGGGGGHHHHIIJKKLLMMMMLLLLKKJJIIIHHHHGGGFFFFFGGGGGHGFEAAAAAAAAAAAAAAAAAAAAAAJMXdYRWdefZSKKWprnihgeWJKKKKKJKKKKOdhPmkhXnswy31wuwyzxuqmpvtvwsmjnprokhegknuy0zowslijlpsvutssuvwuqimnproljkforrssetttkrsssrpgfiiglopeuxviojdahnrutpihgXaijkkjieaWUVYbeffffeeeddccbbacfijjjifcaXUSRRSUXYXWWVVVVWWVUTTOAAAIIROMMNPRSTUUUTTUVXXWVTQOMLLMOQQQPMKJIIIKLNNOPPPPQQQQQQQPONNMMLLLLKKKLLKJIIIIJKMOPQRSRQPPONMMMNOPPONMKJJJJAKKKKIHHHHHHLLMMMMLLKJJIIIHGFFFGILNPPPOONMKAAAGKKJJJIIIHHHHIJJKKKKLLLLKKKJIIIIIIIIIJJKKLLLLKJIHHGGGGGGGEAAIKKKKKKJJIIHHHGGGGGGGHHHHIIIJJKLLLLLLLLLLLKKJJJIIIHHHHGGGFFFFGGGGGHHFEAAAAAAAAAAAAAAAAAAAAAAJNYdXQVdfgZSKKXprmihhgWJKKKKKKKKKKOdhPmkhYosxy21wuwyzwtrnqvtvwrmjmpqnjhegkntxyynwtnjlnqstttttuuvtphmnmroljkepqsstettsbrspsrphgijgkmoduyviokebinrutqiigTYggggfebXVUVYcfggggffffeddcbbbdfffecZXVUTTUUTUVWVUUUUUUVWVUTTOAAAIIPMLANOQSTTTTSSSTUUUTRPNMLLLMNONMKJIIIJKMNOOPPPPQRRRRRRRQPONMMLLKKJJKKJIIIIIJKMOPPQRRQQRRRRQRSTTSRQPNLKKKAKKKJIHGHHIIKLLLKKJJJIIIJJIHGGGHIKMNNNMMLLAAAAAJJIIIIIHHHHIIIJJKKLLLMMMMLLKJJIIIIIIJJKLLLLLKJIHGGGFFGGGFAAJMMMMMLLKJJIHHHHHHHHHHIIIIIJJJKKLLLLLLLLKKKKJJJIIAIIHHHGGGGGGGGGGGHHFEAAAAAAAAAAAAAAAAAAAAAAJOZeWOUdfgYSKKXpsmihhhSJKKKKKKKKKKOdhPmliYosxy20wuwyyvtroswuvvrljmopnjgegkotwxwmwtokmpqssttttuuusogmncromjkfpntttftsrTrsktsqigjjgjlmdvywjokeciorutqjihWWedcccaXVUUVYcfhhihggggfeedcbbbbbbZVTRRRSUXWVUUUTSSSSSTVWVUUUOAAAIIMLKAMNQRSSSSRRRSSSRQPONMLLKKLLLKIIIIIJKMNOOPPPPQRSTTTTTSRPANMLKKJIIIJIHHIIJJKMNOPQRRQRTVVVVWYYXVUTSPNLLLAKKKJIHGHHHIJKKKJIIIHHHIHAAAAGIAAAALLLLKKHAAAAAIIHHHHHHHHIIIIIJKKLMMMNNNNNMLKJIIIIIJJKLLLLAAAIHGGFFFGHHFAAKNOONNNMLLKJIHHHHHHIIIIIJJJJJKKKKKKKKKKKKKKJJJJJJAIIIIHHGGGGGGGGGGGGFAAAAAAAAAAAAAAAAAAAAAAAJPaeWNSdggYSLKYqsmhhiiNJKKKKKKKKKKNchQnliYpsxy2uxvxyxutsqtxuuvrlilnpmigegkosvvvlwupmorrrrstuuuttrighnWrpmjkiqmtuufssqQrthtsqihkkfijlcvzwfokecjorttqjjhaUcaZYYXUSTUVZdghijihhihggfedbaZXXXUPMMMNRWZYWUTSRQQRRRSUWVVUUOAAAIIKJJALNPRRSRRQQQQQPPOONMMLKJIIIIHGGHIIJKMOOPPPPPQSTUUUVVUTRQONLKJIHHHHHHHHIJJKLNOOQRRRSVYaaabddbYXWVRONMMAKKJIHGGHHHIJJJIHGGGGGHIKJGAIJJJJJJJJJJJJJAAAAAIHHGHHHHHHIIIIIJJKLMNNOOPPOOMLJJIIIIJKKLLLLLKJIHGFFFFGHHGAALOPPPPPONMLKJIIHIIIIJJJJJJJJKKKKKKKKJJJJJJJJJJJJJAJIIIIHHGGGGGGGGGGGHHHGGFFAAAAAAAAAAAAAAAAAJQbfVLRdhgYRLKYqsmhhjkJJKKKKKKKKKKNchQnljZptxy2txvxyxttsruyuuvrlilnoligdgkostttkwuqnqssrqstvuuttqefgnVspmjknqouuvgsrpPqtgusqjilkfhhkcw0xdokfdjorttrkkiZSaXVUUTRQRUVZdgijkjiijjihgfdcaWTTTPKKKKKQXcbXUSQPNOPPPRTVVVVVOAAAIIHIIAKMOQRRQQPPOONNNNMMMMMKIHGGGFFFHIIJLMOOPPPOOQSUVVWWXWUSRPNLKJHGGGHGGGHIJJKLMNOPRRRTYceeegihfbZZXTQONMAKKJIHGGHHHHIJIHGFEFEFGIKLLLLLKKJIIHHHHHIIEAAAAHGGGGGHHHIIIIIIIJKLNOOPQQRQPNMKJJIIJJKKLLLLLKJIHGFFFFGIHAAAAORRRRQQONMKJIIIIIJJJKKKKKKKKKKKKJJJJJJJJJJJJJJJJAJJJIIHHGGGGGGGGGGGGHHHIIIJJJJIHGAAAAAAAAAAJScfUKQdhgXRLKZrsmhhklJJKKKKKMKKKKXmnWpnlqux223uvy01zuuqwxyqwuqgrtusmhSXjpouvuvxxwsxyzwrnjlqqipsucqmqcvunjmkhlrxy0xrYRssasqmjmmnljgfmtvshhecjnrsqmhijjeZaYVUUTSSUXYadfgggfefghhhgfecbYWVWSNKKLMRWaZXVUTRQQRRRSVWWXXXOAAAGHGHIIJLNPQQPPOONNMLLLLLLMMKIGGFFFFFHIJJLNOPPPOOOPSUVWXXYXUSRPNLKJHGGGGGGHIJJKKLMNOPQRRTYdfggikjfbZZXUQOONALKKJIHHHHHHIIIHFEEEEFGIKLLMMMMLKJHGGFFGGHGAAAEHGFGGGHHHIIIIIIIJKMNPPQRSSSQOMKJJIIJJKKLLLLLKJIHGFFFFGGGAAAAAQSTSSRQONLKJIIIJJKKKKKKKKKKKKKJJJIIIIIIJJJIHGAGHIJJJIIHHGGGGGGGGGGGGHHHIIIIIJJJJJIGAAAAAAAMTdgTKOdhgXRMKartmhikmJJKKKKLOKKKKWlmfomlqux223zvyz1yttpwxxkutpgrttsmhSXjppuvtuwwvrwyzxsojmrqiostcqpqmvuojnkhmrxyzxrYRrrcrqnknoonkgfmsusmiedjnrsqmghjjgbbYVUTTTUXaabdeedcbbbdfggggedcaZYYVRPOOPRVYYXWWVUTSSSTUWXXYZZOAAAGHGHIIJKMOPOOOONNMLKKKKLLMMLKIHHHGFGHIJKLNOPAOONNPRUVWXXXVSQPOMLKJIHHHHHHIJKKKLMNOOPQQQSXcfffhigcYWWURPNNNNNMJLKJIHHHHIIIHGGFGFFHIKLMNNNNNLKIHGFFFGGGEADFGGGGHHHIIIJIIIIIJLMOPQRSSSSQOMKJIIIIJKKLLLLLKJIGGFFFFAEAAAAAAAPRSTSRPNMKJJJJJKKLLLLLLLLLKKKJJIIIHIIIHGAAAAAAAAAGHIIIHHGGGGGGGGGGGGHHHHIIIIIJJJJJJHGAAAANUegSKNchgWQNLbstnhilnJMKKKKNPLKKKWllonikpuy324zrxz0xstpwxxdtspgrttsmhSXjppuuttvvuqwyzxspkmrqiostfqpqsvuoknlimsxyzxrYRqphrpnlpqqolhglrtsmifdkossqmghjkhdbYVTTTUWadddcccaYXXYadfgggfddcbaaYVTSSRSUWWXXYYXVUUUUVXXZabbOAAAHHHIIIJJLNNNNNNNMLKKKKKLMNNMLKJJJIHHIJJKLNOPAONMMORTVWWWWUQONMLLKKJIIIJIJJKKLLMNOPPPPPOQVadeeffdYUSSRPNMMNOPKALNLJIIHIIJJIHHHHHGHIJKLNOPPONLIHGFEEFGFFFGGGGGHHIIIJJJJIIIIJLNOQQRRSSRPNLJIIHIIIJKKLLLKJJHGGFFEDAAAAAAAAAAAAQQQPOMLKJJJKKLLLLLLLLLLKKJJIIHHHHHFAAAAAAAAAAAAAFHIIHHHHHGGGGGGGGHHHHHHHIIIIIJJJJJIGHHOVfhRKMcifVQNMdttnfimoJSKKKLOQMKKKWilomPjpuy334zixzzwrsowxwXrrogrstsmhSXkppuustuutqvx0ytqlnrqiortkrpqsuuokolimsxxzxrYQpojqpnmqrrpmiglqsrmjgekostqmghjkjecZVTTTVZdgfecbaXUTUVXbegggfeeeedcbZXWVUTUUVWYaaZYXWVWXYYacddOAAAIIHIJIIJKLMLLMMMMKJJJJKLMNONNMMMLKJIIJJKLNOOANMAAAQTVWWWVSOMLLKKKKKJJJKKKKLLMNOPPPPPPONOTYbdddcZVQOONMLLMOQRAAAPNKJAAAAAAJIIJJIHHIIJLNPQQPOMJHAAAAAAAAAFGGGHGGGFIJKKKJJJJKLNOPQQRRQPOMKIIHHHHIIJKKKKJJIHGGFDAAAAAAAAAAAAAAAAALKKJJJJJKALLLLLLLLLLKKJJIHHHHHEAAAAAAAAAAAAAAAAFHIIIIHHHHHHHHHHHHHHHHHHHHIIIIJJJJJJPWghRKKcifUPOOettnaimoJTKKKNQSMKKKWXknlKipvy335zdxyzvqrowwvUqqngrstsmhSXkpputrsttspux0yurmosriortorqqsuuolominsxxzxrYPomhpponrttrnjgkprrnkgflpstqmghjklgdZVTSTWbgkifcaYURQQRUZdgggfefggfeedbaZWUTSTWZcdcbZXXXYZZbeggOAAAIIIIJIIIJKKKKLMMLKIIIJKLMNOOOOOONMLKJJJKLNOOAMLKKMPSVWWVTQMKJJKKLLKKKLLLLMMMNOPQQQQQOMLNSXabcbaWRNAKJJJKLORSAAASPLJJIIJJJJJKKKJIIHIJKNPQRQPMKIGFEEEEEEEFFGGHIHGFIKKKKKJJJKLNOPPPPPPNMKJHHGGGGGHIJJJJJIIHGGFDCAAAAAAAAAAAAAAAAAAAAAFFGHJKLLLLLLLLKKKJIIHHHHHDAAAAAAAAAAAAAAAAAGGHIJJIIIIIIHHHHHGGGGGGGHHHHIIIIIIIQXhiQKKbieTPPPfuunXinpQUKKLOSTNKKKWOjmkJipvy4450bxyyupqnvwuTopmfrstrmhSXkqqutrrssroux0zvsnosriortorqrsuuplpmansxxzwrYPnlgopootvvsokgkoqqnkhflpstqmghjklifdZXWWYcgiigedbZWUUVWZcefffffhhgfedbZYXVVVVXZbbbaYXXXXXXZbddOAAAIIJJJJIIIJJJKKLMLJIIIJJLMOPPPQQQPOMLKJJKMNOOAMKKKMPSUVWUSOLIIIJKLLLLMMMMNNNNNOQRRRQQOLKLQVYabaXTOJAGGHIJLORURAUTQMKJJJJJJKKLLLKJIHHIKNPRSRQNKIHFEEEEEEEEFGGHIJJKKLLLLKKKKKLMNOOOONNLKIHGGGGGGGHHIIIIIHHHGGGGGHAHIJKLLMMMMLLAAAAAAAAAAAAAAHIKLLKKKKJJIHHHGGGGDAAAAAAAAAAAAAAAAAAAAAJKKJJJJIIHHGGGGGGGGGGGGHHHHIIIRYiiQKKbieSPQRhvunWinpeUKKNQPVRNLOcRrolJkoreqvwvcssromnptqlRknhptvmsnifkosvwvkoxyz1001yvtstuttvw1ztqopqqXqqqcwz2310xuSnehjkdquyywtrssrpnmlcjllimnopponljigebaabdfhhhhgfdbZYYYabcdeffghihgfdbYXXWXXXYZaaZZYXXWVVVXZabOAAAIIMMNMLKKKKKLMMNMLJIJJKLNOPPPQQQPOMLKKKKMNOOAMKKKLOQSTTSQNKIIIJKKLLMNNNNNNNNNOPQQQPOMKJKOTWYYXVQMIGFFGHIKNQTTQUTQMKJJJJJJJKKLLKIHGGHJMPQRRQOLJHGFEEEEEEFFGGHIJKKKLLLLKKKKKLLMMMMMLKJIHGGFFFFFFGGHHHHHHHHGHHHHHAJKLMNNOOOOONLJAAAAAAAAAAAAAAAHJKKKKJJIHHHGGGGFDCAAAAAAAAAAAAAAAAAAAAJLLKKKJIIHGGFFFFFFFFFFGGGHHHHRYjjQKKaidRPRTjwvoXimpfSKKMQOUQMLOcSspmJkorepuvuissromnospkclohqtwntojfkoruvvlpyzz1zz0xussttssvx20vropqpXqqqZx02310xuSmdgjkYpuxxwtstsrpnmlcjlkhlmopoonmlkjifddeeffhjjjjigdbbaaabcdefgijigfdaYXXYZZZZZYYYYXXWVUUUUWYZOAAAIIRRRRQONNMNNOOOONLKKKLMNOOPPPPPONMLKKKLMNNOAMLKKLMOPQQPNMKJJIJJKKLMOOOOONMMMMNOOOONKIIJMQUVWVSPKHFFFFHIJLOQRSSRPMKKKJJJJJJJKKIHGFFGILNPQQQOMKJHGFFEEEEFGGGHIJJKKKKKKKKKKKKKKKKKKJIHGFFFFFFFEEFFFGGGGGGGHHHHHIAJJKLMMMMMMMMMLIAAAAAAAAAAAAAAAAGJKJJIIHHGGGGGGGFEDCAAADDEEEAAAAAAAAAAJLLLKKJIHGGFFFEEEEEEEFFFGGGGRZjjQKKahcQPTWlxwoXjmofSKKMPNTPMKOdUurmKioreptttqssspnnorokjloiruxoupjgknqsuvlqzzz1yyywtsrssrsvx22xtppppXqqqYx03310wtRldfijLptxxwutttsqnmlbikkhklnooonmmkkkkhgggfehkkkkkkifecbZZacefhjkjhgdaXWXZacbaZXXWWXXWUTSSSTVXOAAAIIVWWVUTRPOPQQQQQPNMLLLMNOOOOOOONNMLLLLLLMNNAMLLLLLLMMMMLKKKJJJJJKLNOPQPONMLLLLMNNMLIHGIKORTTSQNJHFFFFGHIJLNPPPPNMLKKKJJJIIIIIHFEEFGHKMOPQPONLKJHGFFEEEFGGHHIJJKKKKKKKKKJJJJJJJIIHGFFEEEEEEEEEEEEFFGGGGGHHHIIIIJJJKKKKKKKKKKKIAAAAAAAAAAAAAAAAAAIJJIIHHGGGGGGGGGGFEEEFFFFEAAAAAAAAAAAILMLKJIHGFFEEEEDDDDEEEFFFGGRZkkQKKahbPOUYnzwpWjmoeUKKMPMSOLKOeXwsnKfpsepssssstspnnnqnjjlpjsvypvpkgknqruvmqzzz0yxxvtrrrrrrvx33zuqpooWqqrYy03310wtRlceijJptwxwutuutqnlkbikjgklnooonmnkkkkkkjhedgkkkkkkkjhebYXZbefhkkkigdZWVXacedbYWVVVWXWURQQQRSUOAAAIIaaaaZXUSRRSSSSSRPOMMMNNOOONNNMMMLLLLLLLMMNMMMMMLKJJJJIIJKLKKJJJKLNPQRQPNLKKJKKLLKJGFFGJMOQRQOLIGFFFFGHHIJLMMNMMLLLKKKJJIHHHHGEEEEFGJLNPPPPNMLKIHGFEEFFGHHIJJKKKJJJJJJJJJIIHHHHHGFEEEEEEFEEDDEEEEFFFGGGHHIIIIIIJJJJJJJJJJJJKJAAAAAAAAAAAAAAAAAAFJJIIHHHGGGGGGGGGGGGGGGFEAAAAAAAAAAAAAAKLKJIHGFFEEEDDDDDDEEEFFFFSakkQKKZhbOOVap0xpTjmneUKKLOLRNKKOegxtoLfpseorrrssttqonnpnjjmpjtwzqwqfgknpqtvnr00z0xwvusrqqqqrvx441wrpnoWpqrZy13410wsQkbehiJoswxwuuvvtqnlkahkjfjkmnooomlkkkkkjjigehkkkkkkkigeaYXYadfghhfecaXVVXaceedcaZYYXWVTSRRSTUWOAAAIIefffecYUTUUUUUTTRPNNNNNOONNMALLLLLMMMLLMMMMMMNMLJHGFFFGIKMLKJJJJLOQRSRPNLJIIIIJKJHFFFFHJMOOOMJHGFFFFFGGGHIJKKKLLLLLKKJJIGGGGEEEEEEFIKNOPPPONMKJHGFEEFGHHIJJKKKKJJJIIIIHFFAGGGGGFFEEEEFFFFFEDEEEEFFGGGGHHIIIIIIIIIIIIIIIIJJJJAAAAAAAAAAAAAAAAAAAJJIIIHHHHHHHHHHHHHHHHHGEAAAAAAAAAAAAAAAIKJIHGGFFEEEEDDDEEEEFFFFSallQKKZhaNOXcr1yqPjmneUKKPPRWRKKSikxvpJfkhbklmooollmllmlkXgiijnqttsoflmmemrumz2210woksstromkmqskyxurlhbbmrwi56v220wsWiefiaJtwpv1025750xrmhjiaZimqroldiihijjjjjihfhjkkkkkjhfdaXXYadffedbZYWVVVXacefgfedcaYWVTSSTTVWYOAAAIIghhhheaVUVWWVVVUTRPONNNNNNMLALKLLMMNNMMMMMMMNOOMJHFFFFFILNMKJIIJKNQSSRPMKJIHHHIJIGFFFFFHKLMLKIGGFFFFFGFFFGHIIIJKLLLKKKJIGFFFEEEEEEFHKMNOPPONMLJHGFEEFGHIIJKLLLKKJIIIIIIHHAGGGGGGFFFFFGGGGGFFEEFFGGGGGHHHIIIIIIIIIIIIIIIIIIIJHAAAAAAAAAAAAAAAAAIJJIIIIIIIIIIIIIIIIIIIIGFAAAAAAAAAAAAAAAAGIIHHGGGFFFFEEEEEFFFFFGRallQKKYgZNPYet2zrLjlmdUKKOPRVRKKSjpxvqJkkhbjklnoollmmmnmlXghijnqttrokmmnfmrumz110zvnksttspmlmpsjxwurmibblqvi45u210wsejffiaJsvntzz2564zwrmhihZYimqqnkchfcdfhiijjihiiihhiiihfcZXWXZceecYWVUTTUVXacegijihfcYVUTTTUVXZaOAAAIIdfefecYUTVVWVVVUTRPOONNNNMLKAKKLMOPPPONMMMMNPPQPNLKJJJJLMNMKJIIIJLOPQPNLKJIIHIJJIGFFFFFGIKLKJHGGFFFFFGGFGHIIIIJKKKKKKKJIHGGFEEEEEFGILMNOPPONMKJHGFFFFGHIJKLMMMLLJIIHHIIIHAGGGHHHGGGGGHHHHHGGFFGGGGGHHHHHIIIIIIHHHHHHHHIIIIIIJIGAAAAAAAAAAAAAFIIIIJJJJJJJJJJJJJJKKKKKJIHAAAAAAAAAAAAAAAAAEFHHHHGGGGGFFFFFFFGGGGRZllQKKXfYNPZfv40rLikkcTKKOOQVRKKSjpywqJlkhbjkknoplmnnnonlXghijnqttrommnnfnrumz10zyvnkstuspnlmpsjxwurmibalpuk24t110wtojffiaJrulsyz2453yvqlghgYXimqpmjchdYZbehijkjiihgeefgggecZWWWZcedZUSRQQRTVXZcehkkkkieZVTTTUVXZbbOAAAIIZabbaYVTSTUVVUUUTRQPONNNMMLKAKKMOQSSSRPNMMMOQRSSSRQPPOOOONMKIIHHIJLNNNMLKJJJIJKKJHFFFFFFHIJJIHGHGFFFGGGGGIJJJJJJKKKKKKKJIHHGFEEFGHIJLNNOOONMLKJHHGFFGGHIKLMNNNMLKJIIIIIIIAHHHHIIHHHHHIIIIHHHHGHHHHHHHHHHHIIHHHHHHHHHHHHHHIIIIIJJJJIHHGFEFGHHIIIIIJJJJKKKKKKLLLLLLLLLKKJHAAAAAAAAAAAAAAAAAADFHHHHHHHGGGGGGGGGGGRZllRKKXeYMPbhx51sLijjbTKKNOQVRKKSjqywqJlkhbjjkmoplmonopomYghijoqttrpmnnofnsvnz0zyxumjstutqnlmprjxwusnjbakptn13s00zwtpkggjbJrsjqxy2452yvqlghfXXinqokibgZTVYcghjkkkjgecbcdefebYWVWYbecWPNNMMPSVWZceikkkkkhaUSTUVWYbddOAAAIIVWXXWVTRRSTUUUUUTSQPONNMMLKJAJKMQSUVVTROMLNPSUUVWXWVUUUSPNLKIHHHGHIKLLKKJJJJKKLLKIFFFFFFFHIHHGHHHGFDGHHHHJKKKJJJJJKKKLKKJIHHGGGGHIJLMNNOOOMLKJIIHHGGGHIJKMNOOONMLJIIIIIJJAIIIIJJJJJJJJJIIIIIIIIHHHHHHHHHHHHHHHGGGGGHHHHHHHHIIIIIIIIIIIHHHHHHHHIIIJKKKKLLLLMMMMNNMMMMMLLJIAAAAAAAAAAAAAAAAAAAAEGHIIIHHHHHGGGAAAQZllRKKWdXMQcjy62sLijiaTKKMNQVRKKTkqzxrJlkhaijjmnpmnpooqpmYggijonttrpnnoofnsvnz0yxwtmjstvtqommpriwwusnkcakost02rz0zxupkggjbJqrhowx1342xuplfgeWWinpnjhbhZWXZcegijkkigdbabdefecaZYZcfgfaURQPPQTVWZbdgkkkkkgbWVVVWWYabcOAAAIIRSTTSRQPPRSTTUUUUSRQPNNMLKJJIJKNRVXYYWTPMLNRUWWZbccbaaZVRNLJIHGGFFGHIIIJJKKKLLMMLIFFFFFFFFGGGGHHHFAADHHHIKLLKKJIIJJKLLLKJJIIIHHIJKLMNNNOONMLKJIIHHHGGHIJLMOPPPONLJIIIIJKKAJJJJJKKKKKKJJJJJJJJJIIIIIIIHHHHHHHHGGGGGGGHHHHHHHHIIIIIIIIHHGGGGGGGHHIIJKLLLLMMMNNOOOOOONNNNMLKHAAAAAAAAAAAAAAAAAAAAAAFGHIIIHHHHHHHHQZklRKKVcWMQdk083tLiihZTKKMNPVRKKTkr0xrSllhaijjmnpmnpppqqnYgghjoittrpnoppgnsvnzzywvtljsuvurommpriwvusokcajnrwz1rzzzxuqlhhjbOpqfmux1331wuplffdVWinpnigaiZaabcdfgijjifcaZaceffedbbdgiiheZVTSRSTVWYbcfikkjigcYXXXXXYZaaOAAAIINOPPPOOOOQRSTTTUUSRQPNMLLKJIIJKOTXabaYUPMLOSWXYbfhhgffdYSNLJHGGFFFFFGGHIJKLLMMNNMJGFFFFFFFFFFFHIIAAAAEIIJLMMLKJIIIJKLLLLKKJJJJJKLLMNOONONNLKJJIIIIHHHHIJLNOPPPPNLJIIIIJKKAKKKKKKLLLLKKKKKKKKKJJJIIIIIIIHHHHHHGGGGGGGGGHHHHHHHIIIIIHHHGGGFFGGGGHHIJKLLMMMNNOOOOOOOOOOOONMLJGEAAAAAAAAAAAAAAAAAAAAAAAFHIIIHHHHHHQYklRKKUbVMRel294tLihgYSKKKKLNKKKKYpstrprsqlbQYghguunstwxurnZlooPtvvuurommnfpvwpvvxwutsrvvwtpkghjorttrjomifnruwxy02zxmqonhsumdnortxz110yqrokfghhjifffhjZdccccdfhjjifbZZacefggfeegjkkkieZWVUTUVWYacegihhhfdaZZYXXXYZZOAAAIIMNONNMMMNPQRSSTTTSRQPNMLKJJIIJLOTYabbYUQMLOSWXYbfiihggdYSNLJHGGFFFFAFGHJLMNNOONNMJGFFFFFFFFFFGHJIAAAAAIJKMMMMKJIHIIKLLLLLKKJJJKKLMMNOONNNMLJJIIHIIIHIIJKMNOPPPPNMKJIIIJKKKKKKKKKLLLLLLKKKKKKKKJJIIIIIIIIIHHHHHGGGGGGGGGGGHHHHHIIIHHHGGFFFFFFGGGHIJKLLMMMNNOOPPPPPOOOONNMLKIGECAAAAAAAAAAAAAAAAAAAAAGHIIIIIHHHHQYklSKKTaVNSfm2+4uNhhfXSKKKKLMKKKKYortrprsqkbQYgiguuertvwurnZlooOtuutuqnmnngqwxqwwxwusrruuvspkhjkprttskqnifnruwxz12zxmqpngrsldoprtwzv0zyqrplgghhihfeegkcgfdcbcegijhebYYZbefghhhhkkkkkkidaYWVUVVXabceffeffecbbaYXXXYXOAAAIIOOOONMMMMNPQRRSSSRAPONLKKJJIJKMPTXZaZXUPMMNRUWWZceedccaWRNKIHGFFFFFAGHJMOQRRQPOMLJGFFFFFFFFGGHJKKGAAAGJKMNNNNLJIHHIJKLLLKKHHJJJKLLMNNNNNMLKJIHHHHHIIJKLMNOOOOOOOMLKJIIJJJJJJJAKKKLLLLLKKKKKKKKJIIIHHIIIIIIIIHHHGGGGGHHHHGGHHHHHHHHHGGFFFFFFFFGGHIJKKLLMMMNNOOOOOOONNNNMMLJIGFEEDDDCAAAAAAAAAAAGHIJJJJJJIIIIIIHQYklSKKSYUNTgn3+4uUhgfXSKKKKKLKKKKYnrtsqrspkbQZgiguuZrsvwtqnZmppStuustqnmnohrxxrwwywtsqquttrokhkmprtutlrojghruwyz22zxmrqogqqkdoprtwyozyyqsqlgghhiheddgkijifcaacfijhdaYXYbeghjkkkkkkkkkkhdbZWVVVXZabccccdefeddbZXXXWWOAAAIIRQPONMLLLMOPQQRRRQAPNMLKJJJJKLNPTVXYXVSPMMNPSTUWYZZYXXWTPMKIGGFFFFFAHJMPSUUUTROMLJGFFFFFFGGHHJKLMLAAAJKMNOOONMKIHHIIJKKKKIAAIJJKKLLMNNMMMKJIHGGGGHIJKMNOOOONMNNNNMLKJIIIIIIIIAJJKKLLLKKKKKKKKJIIHHHHHIIIIIIIIIHHHHHHHHHHHHHHHHHHHHGGFFFFFFFFFFGGHIJKKLLLMMMMNNNNNMMMMMLLKJHGFEEEDDDDDDEEFGGHHIIIIJJJJJIIIIIIIIQYjkSKKQXTOUhn4/5udhgeWSKKKKKLKKKKYnqssqrspkbQZhiguuaqsuvtqnampoZtutsspmlnoirxyrxxyvtrqptssqnkilnqstuumrpkhZruwy023zwmrqofopicpqrtvxjyyyrsqmghhhigdccfjjihfdbbcdefdaYXXYadfghihhkkkkkkkfcbaYXWWWXYYabccefffedaXVUTSSOAAAIIURQPNMLKKLMOPPAAAAAAAAKAAAAAAAAASUVWVUROMMNOQRSTUUUTSSRQOMKIGFFFFFFAILPTWXYXWSOLKJHGGGFFGHHIJKMNNNLAKLLNOPPPONKIHHHIIJJJJAAAFJJJKKLMMMMMLKIHGGFFGGIKMOPQQPNMLMMNNNMLJIHHHGGHHAIIJKKKKKKKKKKKJJIHHGGGHIIIJJJJJJIIIHHHHHHHHHHHHHHHHHGGFFEEEFFFFFGGHHIJKKKLLLLLLLLLLLLLLKKJJIHGFFEEEEEEEEEEFFGGHHHIIIIIIIIIIJJJJJQYjkSKKPVSOVio5/5ujhfeWSKKKKKKKLKKXmpssqrspkbQZhigvufqrtutqnamplctutrqollnpisyysxxyvtqppssrpmkjnorstvunspkhRruxy133zwmsrpfnnhcpqstvwixxxrtrmhhhhigcbbejihgfedcbbbbZXWWWXZcefffffhjjiijhecbaZYYWVVVWYacdegggfcYVSRPOPOAAAIIWTRPOMKJJKLNOOPPPPAOMLJJIIJKMNPQSTUUTSQOMMMNOPQQPPOOONNMMLKHGFFFFFFAJMRWZbbbZUOLKIHGHHHGHIIJKLNOOOONMMNOPQQQPNLJHHHHIIJJHAAAAIIJJKKLMMLLKJIAGFEEFGILNQRSRPMKJKLNNONLJIHGGFFFGAHIIJKKKKKKKKJJJIHGGGGGHHIJJJJKJJJJIIIHHHHHHHGGGHHHGGGFFEEEEEFFFFFGGHIIJJKKKKKKKKKKKKJJJJJIIHGGFFFFFFFEEEEEEFFGGGHHHHHHIIIIJJJJJJQYjkSKKOURPWjo5/6ujgfdVRKKKKKKKLLLXlorsrsspkbQZhigvuoqrtusqnamqjdttsqknllnqjtyzsyxyvsqoorrqnmkkoqssuvvntqliQruxz1440wfsspfmlgcqrstuwjwwxrurnhhhhhfbaadihggfeedaYXXVUUVWWYbdeddddeeffffedccbbaZXUTSTWZbdfhhhfcXTQOLKLMAAAIIYURQOMKJJJKMNOOOOOONMKJIIIJLNOPQRSSSRQPOMMMMNNNNMLKKJJJKLLJHGFFFFFGAKOUZceedbVPKJIHHIIIIIIJKLNOPPPPONMNPQRRQPOLJHHGHHIIIEAAAAFIJJKKLLMLLKIHAFEEEEGILPRTTSPMJIJKMNOOMKIHFFEEEFAGHIIJJKKKJJJJJIIHGFFFFGHIJKKKKKKKJIIIIIHHHHHGGGGGGGGFFEEEEEEEFFFFFFGHHIJJJJJJJJJIIIIIIIIHHHGGFFFFFFFFFFFEEEEFFFGGGGGHHHIIIJJJJJKQYjkSKKMSRQXjo5/5ujgfdWRKKKKKKKKKKSfhignqttqkcYgmmqvvrttscnllmuvyy2yxhnjXhpxh210xxxtppnmprukrsqmnnjaoppprusXyyzz0131zhywupmpslnqommnfjrtuutqnkifUTVWQZgifffffdaWUTRQSUVWXacccbbbaabbbbcccccccbXURQRUYbdfhiigcWROKKKKKAAAIIXTRPOMKJJKLNOPPPOOONLJIIHIIKMNOPQQQQQPONMMLLLMMLKJIIIIIJLMKIGFFFFFHALPUYbcccZUOKJIHIIJIIJJKKMNOPPPPNMMNOQRRQQOLJHHHHIJJJAAAAAAKKLLMMNMMLKJHAFEEEFGILPRSSRNKIHHJKAMMKJHGFFEEEFAGGGGIJJJJJJJIIHHGFFFFFGHIJKKKLLLKJGFFFFFFFFFFFFFGGFFFEDDDDEEEEEEFFFFGHHIIIIIIIHHHHHHHHHHGGGFFFFFGGGGGFFFFEEEEFFFFFGGGGHHIJJJKKKKRZjkTKKKRQQYko5/4tigfeWSKKKKKKKKKKSgijhnqttpkcYhmlpuurssrbnmlmvzyy1xwenjWhowg10zxxxtppnjprujrsqnonjaooooqsrWyyyyz0210bywuqnrtlorpmnnmkruvvtqolifUTVWRZhheefggeZUQPNNQTVVXZcbaZYYXWXYYYZbbcdeecYTPNORXbegijigcUPMKKKKKAAAIIUSQPNMKKKLNPQRRQQPOMLJIHHHHJLMNNOOOOOONMMMLKKKLKJIIIIIJKMMLJHGGFGHJLMPTWYZZYWSNKJIIIJJJJKKKLMNOPPONMLLMOPQRQQOLJAHHIJJKKAAAAAHLMNNOOONMMLJHAFEEEFGILOQRRPMJHGGHIAKKJIHGGFEEEFAGHHIJJJJJJIIIHHGFFEEFFGHIJKKKLLLLKIHIIIIHHHHGGGGGGGFFFEEDCDEEEEEEEFFGGHHIIIHHHHGGGGGGGGGFFFFFFFGGGGGGGFFFFEEEFFFFFFGGGHHIJJJKKKKSZkkTKKKPPRYko4+4siggfXSKKKKKKKKKKSgjkiortspkdZhlkottqrrqbnmlmv1zy1wvcnjWgove0zywwxtppogqsujqsqnonjZnnonprqVyyyyyz210bywuqosumprpnnopksuwvurpmjfUUWXSahigghhhfbXUTRRSVWXadfedbaZYXYZZZabbdefffbXURSUYbcfhjiheYTQMKKKKAAAIISQPONLKKLNPRSTTSRPNMKIHHHGGIJLMMMMNNNMMMMLLJJJJJHHHHIIJKMNMKIHGGHILMOQSUVVVVTQNKJJIIJJJKKLLMNNOOOOMLKKLNPQQQQOLJAIIJKKLLAAAAALNOPPQQPONAAAHAFEEEFHJLOPQQOLJHGGGGAIIIHHHGGFFFGAHHIIJJJJIIIIHAAAAFFFFGGHIJJKKKKKKKJJIIIHHHHGGGGGGGGFFFEEECCEEEEEEEFFGGHHHIHHHHGGGGGGGGFAAAAAAAFFGGGGGGGFFFFFFFFGGGGGHHHIIJJJJKKKSakkTKKKNOSZlo493siggfXSKKKKKKKKKKThjljprsspkdahlknrspqqpammmnv1zx0wvZmjWgnudyxxwwxtppogqsujqsrnoniZmnnnoqpUxyyxxy111cypuqptvnpsqnopqltvwwvsqnjgTUXYTbijiiiihgdaXWVUVXYadgihfdbZZYZaaaabbdfhhhfcYWWXZabegiihgbXURNLLMAAAIIPOONMLLLMORTUVUUSPNMKIHGGGGGIKKKKKLLLLLLLLKJIIIHGGGHHIJLNONLJIHHIKMOPQSSSSSRQOMKKJIHJJKKLMMMNOOONNLKJJKMOPQQQOMJAIJKLLLLAAAAGMOQRRSRQOMMLJHAFEEFGHJLOPQPOLJHGGGGAGGHHHHHHHGHHHIIJJKJJIIIIHHHGGGGGGGGHHIIJJJJJJJJIIIIHHHHHGGGGGGGGGFFEEECADEFFFFFFFGGHHIIHHHHGGGGGGGGFFFFEEEEFFFGGGGGGGGGGGGHHHHHHHIIIIJJJJJJJJTakkTKKKLNSalo392rhgggYSKKKKKKKKKKThkmkqrsrogdahljlqqoppoammmnv1zx0vuVmiVgntcxwwvwxtppokrsuiqsrooniYmmmmnpoWuyxwvx111cyjurquwoqtqopqrmtwxwwtrokgTUXZUbiljkkjigfdbaYYYYacgjkkifcaaaabbbbbbdgijjigdbaaaaadghiiifbYWTQOOAAAIIMNNNMLLLNQTVWWWVTQNLJHGGGFFGHJJJIJJKKJKLLLKIGHHGFFGHHIJMOPOMKIIIJLOQQRRRQPPONMLKKJGAAJKLMMNNNOONNMKJIIJLNPQQPOMJAJJLLMMMAAAAKNQSTTTSROMLKIHAFFFFHIKMNOPONLJHHGFFAFFGHHIIIIIIIJJKKKKKJIIIHHHHGGGHHHHHHHHIIIIIIIIHHHHHHHHHHGGGGGGGGGFFFEEAACEFFFFFFFGGHHIIIHHHGGGGGGGGFFFFEEEEEFFFFGGGGGGGHHIIIIJJJJJJJJJJJJIIIITbklUKKKKMTblo381qhghhZJKKKKMNKKKLapsuwkspliVmppqqssomllnodty3082rdjgJfmprsrpgorsmqlgeow32ytmrwxroljZossrrqeluwwtrrfsUrVtwzyuniinrwyxursrqoljgeefgefgjlmkkkkihhgedcbaabfjkkkkhdaabbcccccbehkkkkkiffecaZcfhijkjfcbYUSOAAAIILMNMMMMNORUWXXXWUROMKJIHHHGHIJKJIIJJJJJKLKJHGGHGFFGHIJKMOPOMKJIIKMPQRRRQPONNMMLLKGAAAAALMNNNOOONNMKJIIJLNOPQPOMKJJKLMNNMAHAGLORTUUUTROMLKIHAFFFGHIJLNOOONLJIHHGFAFFGHIJJJJJJKKKLLLLKJIIHHHHGHHHIIIIIIHHHHHHHHHGGGHHHHHHHHGGGGGGGGGGFFEEAAADEFFFFFFGHHHIIIHHHHGGGGFGGFFFEEEDDEEEFFFFGGGHHIIJJKKKKKKKKKJJJJIIIIIUcllUKKKKMTbmo26zpgfhjaJKKKLMNKKKLaosuwkspliQmpqrruuqnmmnodty3082sdjgJfmqrsrpforrlqmhfow22ytnrvvpnkiZnrsrrqohovwusrfrUrUtwzyunhimqvwvsprqpnljfefghfghjlnkkkkiiiiihgedcdhkkkkkjebbcdddddcbeikkkkkkkjhdZYaeghjkkjgfdZVOAAAIILMNNNOPPRTVVWWWVUSQOONMMMLLMMNNMMLLLKJJJKJIHGHIHHHIJJKLMOPOMKJJJKMOPQQRQQPPPONMLJAAAAAAAIMNNOOOONMLKJJKLMOOOONLKJJKLMNMMKJIJLORTUVUTROMLKIHGGFFFGHIKMNNNNMKJJIHHHHHIJJKKLLLLLLMMMMLKJIHHHHGFHHIJJJJJIHHGGGGGGFFFFGGHHHHHHGGGGGGGGGGFFFEAAACDFFFFFGGHHIIIIIHHHGGGFEFGGFFEEDDDDEEEFFFFGGHIJJKLKKMMMMLLLKJJIIIHHHVcmmVKKKKLUcmo04xoffikcJKKKMNNKKKLZoruvkrpljRnpqstvvspnmnncsx3082sdjhJgnqssqofnqrlqmihpw11yunqttnljiYmqrqrqncjvwvtsfrbrYux0zvnhhlqvvtqnpppnkifefhihhiklmkkjhffghhhhhgfgjkkkkkhdabbcddddccegiijkkjhgfdaZbdeefhhfdcZVROAAAIIMMNNOQASTUVVUUUVUTSRRSRRRRRSSRRQPONNMKJJJIHGHIJJJKKLLMMNOONLKJJJKLMNOPRSSSSSRPOMKAAAAAAAAJMNOOOOOONMLKLLMMNNMMLKKKLMMMMMLKJJLORTUVUTROLLKJIHGFFFFGHJLMNNNMLKKKJJJKKKLLLLMNNNNNNNNMLKIHHGGGGGHIJJKKKJIHGGGFFFFEEEEFGGHHHHGGGGGGHHGGGGFFFAAADEFFFFFGGHHIIIIIHHHHGGFFGGGFFEEDDDDDEEEEFFGGHIKLLLKLMNNNMMLLKJIIHHGGVdnnWKKKKKUdmoz2vmffjmeJKKLNNNKKKLZortvjrpmjVnprsuxxuqonnncsx3093sdjhJhortsqoempqkpnkiqw01zunqsslkihXlprqrqnXguvwusfqkreux10vngglpuurnkoppnkifegijiijklkjhfdccdfghijjjjkkkkkifbaabcddeedcdeeeefgfeeecbabbbbbcdbaYUQOOAAAIINNNOQSUVWWVUTSTUVVUUVWWWWWYYXVVUTSQONLKIIHGGHJKLLMNNNNNNNNMAKKJJJKLMNORTUUVVUSPNMJAAAAAAAJMNNOPPPPONMMMMMLLLLLKKKKLMMMMLLKJJLOSUVVUTQOLLKJIIHGFEEFGIJLMMNNMMLLLMMMMMMMMMNOOOOOONNMLJIHHGGGGHIIKKLLKKJAAAAAEEEEEEEFFGHHHHHGGGGHHHHGGGFFFDADFFFFFFGGGHHIIIIIHAAAHGGGGGGFFEEDDDDDDEEEFFGHIJKLMNNOOOOONNMLKJIHHGGGWennXKKKKKUdmoy0tlefkngJKLNOOOKKKLZoqtujrpmjbnpstvyzvrpomnbrx2093sdjiJiprtrqndlopknolkqv01zvnprqjihgWkpqqrqmTdtlwvtfqrrmvy21wngfkjutplimopmkiffhjkjjklljgecaYYadfhkkkkkkkkihfdaZZacdeeeedccaZZabbbccccbbaZYYYYYXUQMKKAAAIIONNPRUXYYYWTRQRTVWWXZbcbbceecZYYXVSQPMKIHGFGIKMNNOPPPPOONMLAKKKJJJKKLORUWXXXXUQONNLAAAAAHJKMNOPPPQQPONNMLKKKJJKKKLMMMMMLKKJJLOSUVVVTROLLKKJIIGFEEEEGIKLMNNNNNNOOPPPONNNNNOPPOOOONMKJIHGGGGHHIJKLLLLKJHGFFEEEEEEEEFGGHHHHHHHHHHHHHGGGFFFFEFFFFFFFGGHHIIIIIIIHHHHHHHHGGGFFEDDDDDDEEEFFGHIJKMMNOOOOOONNMLKJIHHGGFXfooXKKKKKVemoxyrjdfkphKKMOPOOKKKLZnqsuirpmkhnpsuwv1xtqommbrw2193tejiPjqstrpmdlnpjnomlrvz0zvopqohhgfVjoqqsqmRbsaxwtfprrnvy32wnffjdtsnjglnomkiffhklikkllhebYWVVXbfikkkkkkkjgecaZYZacdeffedcZXVUUWXZabcccbZXVUTTUUQLKKKAAAIIPONPSWZaaZWSQPQSVXYadfgffhjjgdbbaYUSQNKHGFFGILNOPQRRRQPOMLLAKKKKJIIJKNRVYZZaZWROONNMKKJJJJJKNOPPQRRQPOONLKJIIJJKLLMMMMMLKKJJLPSUVVVTROLLLKKJIGFEEEEFHIKLNOPPPPQQRRQPONMMNOOOOOONMLKJIHHHHHHIJKLLMMLLJIGFFEEEEEEEEGHHIIIIIHHHHHHHHGGGFFFFFFFFFGGGGGHHIIIIIIIIIIHHHHHHHGGFFEEEEEEEEFFFGHIJKLMNNOOOONNMMLKJIHGGGGXfppYKKKKKVemovwpidflqjYKOPOMMMNKKdqrrqomnnmglnpmur34yvroopqsy5466yqumsproljijijnprttroqrrpwwxwwwtttuwurnXmmSWoSoosrnoppku157xnfZaqrqmlmpqpooruwvrXfkkmhcYUSSSUZeikkkkkkkidbaYYYYZbdefgfebXTRQPQTWXZcddbYUSQOOQRMKKKKAAAIIQOOPSWZaaYVRPNORUWXZcfgffgiigcbbaYVSQOLIGGGGJMOPPQQQQQPONMMALLLKJIIIJMQUXYZZYVRONNMLLKKKLJHAMOOPPQRQPPONMKJJJJJKLLLLLLLKKKKKMPRTUUTSPNLLLKKKJHFEEEEEGIJLMOPPQQRRSRQPONMLMNNNNNNMMAJJIHHHHHIIJKLMMMMLKIHGFEEEEEEFGHIIJJJJIIIIHHHHHGGGFFFFFFFGGGGGGHHHIIIIJIIIIIIIIIIIHHHGGFFFEEFFFFFGGHIJKLLMMNNNNNMMLKJIIHHGGGYgppZKKKKKVemoutmgcfmrlbKQQOMLMOLKdqrrqomopohlnpluq34zvronopsy5366zruusoqolkjkkknpstusopqrqxxxwwvtstvwurnXmmWXoSonsqlmopku157wmeYdqrqnlnprqopruxvrPfjkmidaXWVWXbehkkkkkkkhedbZYXXXYZaceeecYURQQQTVXZcddbYUSQPPRSOKKKKAAAIIRPOPSUXYXVSQONNPRUVXZccccdeecZYYYWUSQOMJIHHIKNOOPPPOOPPPOOOANMMLKIHHIKORUVWWVSOMLLKKKKKKKJAAKMNNOPPPPPOONLKKKKKKKKKKKKKKKKKLMOQRRRRPOMKKKKKKJIGFEEEFGIJKMOPQQQRRRRQONLLALLLLLKKJIAJIIIIIIIJJKLMMNMMLKIHGFFEEEEFFFHJJKKKKJJIIIHHHHGGGFFFFFFGGGGGGGHHIIIJJJJJJJJJJJIIIIIIHHGGGFFFFFGGGGHIIJKLLMMMMMMLLKKJIIHHGGGZhqqaKKKKKVemntrkebemtndLRQPMKMOMKeqrrqonprqjmnpltr34zwrnnoprx43670svtrnpnlkklllnptuvtopprqyxxwvutstvxvsnXmmcYpTonrpklooju156vldXiprqnmnqrqppsvxwsMejkmjedbZZZadfghhhgghhgfecaYXWUVWXYbefcZUSRQQSUWZbdebYUSQQQSTQMKKLAAAIIRQPPRTUVUTAOMMMNPRSUWYYYYZaZYWVVVUTRQPNLJJJKMNOOONNMMNOPQQQPPONMKIHHHJMPRSTSRPMKKJJJJKJJKIAAALLMMNOPPPPOONMLLLKKKKJJJIJJJKLMMNOPPONKLKKJKKKKJIHGFFFFHIJKMOPQQQRRRQPNLKKJJIHAAAAAAAAHIIIIJJJKLMMNNNMLKJHGFFFEEDDEEGIKLLLKKKJIIHHHGGGGFFFFFGGGGGGGHHHIIJJJJJJJJJJJJJJJJJJIIIHHGGGGGGGGHHIIJJKKLLLLLLKKKJIIHHHGGGZirqbKKKKKVdmnrpidaenupfNSRPMKMPMKeqrrponqtrknnoltt340wrnmnorx43670tvtqmonlklnmmnptuvuoooqqzyywuusstvxwsnWmnicqTonqojknojt046ukcXjprronoqsrpqsvywsMeikmjffeddddefgfdbaabdfgfdbYXUSRTTVZdfdZVSRQQSUVYbdecYVSRQRTUSPONOAAAIISQPQQRSSSQAMLLLMNOQRTUUVVVVVTSSSSSRRQPOMLLLMNOOONMLKKLNQRSSSQPONLJHGAAAAAPQPOMKJIHHIJJJJJJJIJJKKLMNOOPPPPONNMMLKKJIHHHHIJKMMNNNMMLLKKJJJJKKKKJIHGGGGHIJKMOPQQQRRQPNMKJJIGFAAAAAAAAEIJJJJJKKLMMNNNNMMKJHGFFFEEEFFGIKLMMMLKJIHGGGHGGGGFFFFFGGGGGGHHHIIIJJJJJJKKKKKKKKKKKJJJJIIHHHHHHHHHHHIIJJJKKKKKKJJJIIIHGFEFGairrcLKKKKVdlnqmfbZenvphOTSPLKMPNKeqrrpoosvtlnnoksx251wrmmmnqw32671uvtplomklmoonootuwuoonqrzzyvutsrtvyxtoWmnpirUonpnijmnit045ujbWjorrpnprsrqqtwzxsMdikmkhhhhgggggfcYVUUWaehhebZXTPOPQRXdgeaWTRQQRTVYbdecYVSRRSUVUSRROAAAIITRQQQQQPPNALKKKKLMNOPQRRRRRQPOOPPQQQQQPONNNOOPPNMKJIIKNQTUUUSRPOMJHGFGHJLMNMKIHHGGFHIJIIJJJJIIIIJKMNOOPQQPPOONMKJIHGGGGHJLMNNMLKJJIIIIIIJJKKKKJIIHHHHIJKMOPPQQQQPOMLJIIFEAAAAAAAAAFIJJJKKKLMMNNONNNMLJIGFEEEEFFGHJLMMMMLKIHGFFGHHGGGFFFFGGGGGGHHHHIIJJJJJKKKKKKKKKKKKKKKKKJJIIIHHHHHHHHIIIIJJJJJJJJIIHFDAAAAAAbjsrdMKKKKUdlnokdaZeowsiKQSNQOKKTSclkibelqvvuqoswy22ytpomjkjjZrp1p3zupliZXZXXglompsvzyshZpuxxwtrrqqitxxovtuuusoRvwrplhdjotyxqicgknomidgkohsuvxzzwqXstusnijkkkkjigeaUPNORXejigcZXSNLMMOVcgebXUSQQRSUXbdecYVSRRTVWWVVUOAAAIITRQPPOONMLAJJJJJJKLMMNOOOONMMLMMNPPQQQQPOOPPPPPNLJHGHJMQTVWVUSQPMJHGFFGHJKKJHGFGFFFGIJIIIIJIHHHHIJLMOOPQRQQPPOMKJIGFFFFGILNONMKIHHGGGHIIIJKLLKKJJIIIIIJKMNPPPQQPONLKIHHDAAAAAAAAAAGIJJKKKLLMNNNNNNMMLJIGFEEEEFGHIJLMMMLKJHAAAEFHHHGGGGGGGGGGHHHHHIIIJJJJJJKKKKKKKKKKKKKKKKKJJJIIIIIIIIIIIIIIIIIIIIIHFAAAAAAAAAcksrdMKKKKUdlnnibYYdoxtjKRTNPOKKSRblkicflpttspnrvx11xtponkllkZqhzn3zupliZYaZZinqnqtvyxsiapuwwwtrrrqjtxxovtuvvvpRvwsqmidjotywqichloqojeglohsuvwyyvpXstvsnhijjiiiigfbWSRRUagkjfaXUQMMOPRXdgeaWTRPPQSVZehigcYUTSTUVVUUUOAAAIIRPOONNNNMLAKKKJJIJKLMMNOPONNMMMNOPQQRRRQPPQQQQPOLJIHHJLPSTUUTRQPNKIHHGHHIJJIHGGGGFFGIJIIIJJIHGGHHIKMNOOPQQPPOOMLJIGFFFFGIKMNMLKIHHHHHIIJKLMMMMLLKKJJIIJKLNOPPPPPNMKJIHFDAAAAAAAAAAHIJJKKLLLMMNNNNMMLKJHFEDDDEEFGHJKKLKKJAAAAAAGHIHHHHHHHHHHHHHHHHIIIIJJJJJJKKKKKKKKKKKKKKKKKJJJJIIIIIIIIIIIIIIIIIIHEAAAAAAAAAAdlsrdNKKKKUclnmhZXYdoxukLRTNPNKKQQakkidglorrqomquw00xtppnlnmlaqdym2zupliaYbablproqtvxxtkcqtvvvtsssrkuyypvtutxxqZwxsrnjekpuywqichlprplfhlohruuwyyupXtuvtnhhhhhhhhhgdZVUUYdjkkfZUROMNQSTZegdZVSQOOQSWbhkkjgbWUUTUVUTTUOAAAIIONNMMMMNNMLLLLKJIJKKLNOPQQPONNNOPQRRSSSRQQRRRQPOMKJIIJLNPRRRRQPONMKJJIIIJJJIHGGHGGFHIJJJJJJIHHGHHIJLMNNOOOOONNMLKJHGFFFFGIKLLKJJIIIIJJKKLNNOONNMLLKJJJJKLNOPPPOOMLJIIHFAAAAAAAAAADGHIJKKKLLLLMMMMLLKJIGFEDDDDEEFGHIJJJIAAAAAAAGIJIIIIIIIHHHHHHHHIIIIIIIIIJJJJJJJJJJJJJJJKKKKKKJJJJJJJJJJJJJJIIIIIIFAAAAAAAAAAAelsqdNKKKKTcknlfYWXdoyvlMRTOPNKKPPakjjdhlnppomlptvz0wtqpomoonapcxl2zupliaQccdnrtprtuwwtlertvuvtstsskvzzpwtuoyyskwxtsokflpuywqichmqtrngimphrtuvxxtpXtvwtnggggffghhhfbYXXbhkkkfXSOMLOSUWbegdZURPOOQSXdkkkkjdYWVUUUTSTTOAAAIIMLLLLLMNNMLLLLAAAAAAAAAARRQPOOOPQRSSSTTSRRRSSRQPNLKJJJKLNOPPPPPOONMLAAAAAAAAHHHHHGGHJJJJJJKJAHGGHHJKLMNNNNNNNMMLKJHGFFFFFHJKKJJJJJJKKKLMNOPPPPONNMLKKJJKLNOOOONMAAAAAHGDDCCAAAAAAEGHIJKKKKKKKKLLKKKKJIGFEDDDDDEFAAHHAAAAAAAAAAGJKKKKJJJJIIIIIIIIIIIIHIIIIIIIIIIIIIIIIIIJJJKKKKKKKKKKKKKKKJJJJJIIIIEAAAAAAAAAAAfmsqdOKKKKTbknkdWVXdoywmMSJOPMKKOOZkjjeilmnnmlkosvyzwtqqpnppoapevk1zvpliaLddfptvqrtuvvtmfstututttttlwzzpwtumz0tsxyusplglquywqichnrvtohjmphrtuvwwsoatvwumfffeeefhiigebaaekkkkfWPLKLPVXZcfgdYTQONNPSXfkkkkkgaXWUTTSRSTOAAAIIJJJJJKMNNNMMMMLKIIIJLNQRSSSRQPPQRSSTTUUTSSSTTRQPOMLKJJJKLMMNNOOOOOONNMLKJJJIHHIIIHHIJJJJKKKJAHGGGHIJLLMMMMMMMMMLLKIGFFFEEGHIIJJKKKLLLMMNPQRRQQQPONMLKKJJLMNOONMLKIHHHIIIHGFFEEEADFFGIJKKKKKKJJJJJJJJIHHHGFFFEFFFGGHHAAAAAAAAAAAILLLLLLKKJJJIIIIIIIIHFGHHHHHHHHHHHHHHHHHIIJJKKLLLLLLLLLLLKKKJJJJIIHDAAAAAAAAAAAgnspeOKKKLTbknjbUTWcozxnNSJOPLKKMNYjjjfjllmlkkjnruxywsqqqorrpboiuj1zvplibLefhrvxrstuuvtnhttttuutputmw00pwtum02utxyvtqmhmquywphcinswuqijnphrttuwvsoduwxumfeddcdegijigeddikkkkfUMKKKRXZbeggcXSPNMMPSYhkkkkkjcZXUTSRQRSOAAAHHGHHHIJLNONNNNNMKIIIJLOQSTTTSRPPQSTTTUUUUTSTUTSQQONMLKJJIJJKLMNOOPPQPPONLKJIIHHIJJIIIJKKKKKKJAHGGGGHJKLLLLLLLLLMMMKIHGFFEEEGHHIJKLLMMMNNOQSSSRRRQPONMLKJJKMNNNMLKIHGHHIJJIHGGFFFAEEEGHJJKKKJJJIIIIIIIHHHHHHHHHHHHHHHHGAAAAAAAAAAIKMMMMMLLKKJJJJIIIIIHHHHHHHGGGGGGGGGGGGGHIIJKLLLLLMMMMMMLLLKKKJJJIGDAAAAAAAAAAAhorpdPKKKLSakniaTSWcozxoQRJVSPPPPPblkjiheefgehhhgmonovtommnopnlcqx0x5yspobgiprjmopvtrpoqsrrqqssqZbgjjlpomjqo682wrpqrrqnkhlnqoiddglpnllnfkpkShijjpresuyvmdccddddeefffffgkkkkkgYROOQWacdffecYVSRQQRTXekkkkkeZXVTSSRPPQOAAAGGFGGHHIKNNNNNNNMLJIIJLNQSTTTSQPPQSSTTTUUTSSTTTSRQPNMLLKJIIJJKMNOPPQQQQPNMKJJIIIJJJJIJKKKKKLLKIHGGGGHJKLLKKKKKKLLMMLJHGGFEEEFGGHJKLMMMMMNOPRSRRRRQPONMLKJJKLMMMLKJHGGGHIJJIHGGFFFAEEEFHIJKKJJIIHHHHHHHHGGHHHHHHIIIJJIHHAAAAAAAAAAAKNOOONNMLKKJJJJJIIIHHHHHGGGFFFFFFFFFFFGGHIJKLLMMMMMNNNNMMMLKKKJJHFDAAAAAAAAAAAjorncOKKKMSajniZSSWcozxoNRJVTQQQPPbmljhgccdfdghhgmomnvsommnnonlfpwzw5yqqojehnpiloqwtronqsrqpqttrRchjklqomjqt572wrpqqqpnkhlorpjfehmpnmmoghokRhijjprlsuxukbbbdeedbbbceghikkkkkibWTUWbefffdcbZXWVUTUVXbfhhgdaWVTSSSQONOOAAAGGGGHHHIKMNNNNNONLJIIJKMOQRRQQOOOOQRRRSSSRQQRSSRQQPNMMLKKJJKKMNOPQQRQPPONMLKKJJJJAJJIJKKKKLLLKJHHGGGIJKLLLLKKKLLLMMLJIHHGFFFGGHIJLLMLLLKKLMOOPPPPOONNMLKJIJKLLLKJHGFFGHIIJIHGFFFEAEEEGHIJJJJJIHHHHHHGGGGGHHHHHIIIIJJJJIGAAAAAAAAAAALOOOONNMLKKKJJJJIIHHHHGGGFFEEEEEEEEEEFFGIJKLMMNNNNNNNNNMLKJIHGGFEDCAAAAAAAAAAkpqmbOKKLMRZjnhYRSWcozxoJQJVUSRQPQcnmjhebbcecghhflomnusnmnngonkfovyu4ykroldfmohkoqwtqonqsrqpqttsQdikkmqpmjqw571wrppqppnkilorqkgfimponnpggojRhijjprsrtwtiYZbdfecZXXZcgjkkkkkkkfaYZcghihfcaaaaaZYXWWWXZaaZXVUTRRRSQNMMOAAAHHHHIHHIJLMMMNOONMKJJJKLNOPOONMMMMNOPQQQPPOOPQQQQPONMMLLLKLLMOPQRRRRQOONNMLLLKKKKAKJJJKKKKLLLKJIHGGHIKLMMLLLLLLLLLLLKJIAIHGGGHHIKLLLLKJIIIJKLMMNNNNMMLKJIIIJKKKJIHFEEFGHIIHGGFFFEEEEFGIJJKKKJJIHHHGGGGGGGHHHIIIIIJJJJJJIGAAAAAAAAAAAMOPOONMLKKKKJJJJIIHHHGGGFFEEEEDDDEEEFFGIJKMMMMLLKJAAAAAAAAAAAAAEEEEDDADDDDDDlqqlaOKKMNRYjmhYQRVcozxoJPJVVTSRPQdonjgdZaacbfhhflnmmtsnmnndomkeouxt3yerolcekngkoqwtqnmpsqpoqtutSeiklmrpmjpw461wrppooomlimpsqlhgimpoopqhinjRhhjjprsrtwrgWXadgfbXUTWbhkkkkkkkkifdfjkkkjgbYZbdeecbZXWUTTTSQQRQPPRSPMKKMAAAIIIIIIHIJKLLMNOOOMLKKKKKLMMMLKKKKKLMNOAAAAAAAAAAPPONNMMMMMMNOQRSSSSRPNMMMMMMMLLKKAKJJJAAAAAAALJIHGGHIKLMMMMLLLLLLLLLKKJAJIHHHHIJKLMLKJHHGGGHJKLLAMMAAAJIIHIIJJJJHGFEEFGHHIHGFFFFEEFFGIJKKLLLKKJIIHHGGGGGHHHIIIIIJJJJJJKJHAAAAAAAAAAAAKMONMMLKKKKKKJJJIIIHHHGGFFEEEEDDEEEFFGIJJIAAAAAAAAAAAAAAAAAAAAEGHGFFAEEDDDDmqpkZOKLNORYimgXQRVcoyxoJPJVWTTSQRepnjfbYYZbafhhflnlmtrnmnngomkentwr2yasokbdimfjorwtqnmprqpoqtvvTfjllnrpnjpw360vrpognnmlimpsrmihjmpopqrhoniQhhjjprsrsvqeUWZdgfaUQPTZhkkkkkkkkkjikkkkkkgaXZcfhihebYVRONMKKMOONOQSPKKKKAAAIIJJJJIHIJKKMNOPONMLKKJJJKKJIHHIIIJKLMMLKKKKLLNOPPONNMMMNNNOQSTUUTTRPMLLMMNNNMMLLAKJJJJKKLLMMLKIHGHHJLMNNNMMMLLLLLLKKKKAKJJIIIIJKLMLKIGFEEEFHIJKLLMMLKJIHHHHIJJIHGEEEEFGHHGFFEEFFFFGIJKLMMMMMLLKJIHHHHHHHIIIIIJJJKKKKKKKIAAAAAAAAAAAAAAKMMLLKKKKKKKKJJJIIIHHHGFFEEEEEEEEFGHGGAAAAAAAAAAAAAAAAAAAAAAFIIHHGGFFFFFForpjZNKMPOQXimgWPRVcoyxoJOJWWRTSQReqojfaWXXaZehhflnllsrnmnnniljdmsuq2yZtokabhkeiorwspmlprqonpuvwUgjlmnsqnjpv350vrpoZnnmljhpssnjijnppqrshnmiQhhjjprsqsvqgYYacecYTQPSYfkkkkkkkkkkjkkkkkkgcZbdfggfdbZXUSRRPOPRQOOQRPMKLNAAAIIKKKJIIIIJKLNOPONMLLKJIIIIHGFFGHHHIKLKJIIIIJKMOPOONNMMNNOPPRTUVVUTROLKKLMNOONNMLAKJJJJKKLMMMLKIHGHHJLMNNNNMMMLLLKKKLLLALKJJIIJJLLMLJHFEEEEEFHIJKLLLKJIHGGGHIIJIHFEEEEFGGGGFEEEEFFFIJLMNNNNNNNNMKJIHHHHHIIIIJJJJKKKKKKKKKKKJGAAAAAAAGIJLLLLKKKKKKKKKKKKJJJIIHHGGFFEEEEEFFGHJJJAAAAAAAAAAAAAAAAAAAAAAHIIIHHHHGGGGproiXNKNQPQXhmfWPQVcnywoJUJTRJOOOPXrspleZUSUTTYdimlllmmmnoqscpomjntyu3fxspmnpsrnnooqqommponhpruwfvnnrqpkgdclt14zuneNdbdjlfruvvokhckmpqqpkjhdXZdgZklmnomgbbbbcaVRPQSWcgjkkjiikkkkkkkiiigdcceeeeedbaZXWVVUTSTSQOPQONNPOAAAIIMMMLKKJKKLMNOPOONMLLJIIIIHFFFGHHHIKLKJIIIIJKMOPPONNMMNNOPPRTTUTTSQNLKKLMNOOONMLAKJIIJJKLLMMLKIHGGHJLMNNNNNMMMLLKKKKLLLLKKJJJJKKLLLJHGFEEEFHIKKLLLKJIHGGGGHIIJIHGFEEEFGGGFFEEEEDAAAJMOOPPPPPPONMKJIIIIIIIJJJJJKKLLLLLKKKKKKKKJJJIIJJKKKKKKKKKKKKLLLLLKKKKJJIIHGGFFFEEEFFGIJLMMKAAAAAAAAAAAAAAAAAAAAFJJJJJIIIIIIpsohWMKORQQWhlfWPRVcnxwoPTJSRKOOOQXrrplfZUTVUUZfkonmmmmlmnqsaqpmjntzu3ixtqnopsqnmoilqomlnonipsuxwummqpokhedmt14zunfPecejmgsvwwokhckmprqpkjieXZcfYklmnnmifdbaZXTQPQRUZdfggffgikkkkkiffghfeeeedcccbbbbaaZYXWVURPPPOOQSOAAAIIOOOONNMMMMNOOPOONMMLKJIIIHGGGHIIIJLMLKJJJJJLNPQPONMMMMNOPPQRRRRQQOMLKLLMNOOONMLLKJIHIIJKLMMMKIHGGHIKLMMNNNNMMMLLKKKKKKKKJJJJJJKKKKJIHHHHHIKLMMMMLKIHGFFFGGIIJIHGFFEFFGGGFEEEAAAAAAALPQQQRRRRQPNLKJIIIJJJJJJJKKLLLLLLLLKKKKJJJIIIIIIIIJJJKKKKKKLLMMMMLLLKKKJIIHGGFFFFFFGHIKLMNONKAAAAAAAAAAAAAAAAAAAGKKKKKKJJJJqsogVLKPSRQWgkeWPRVbmwvoRSJSSMPPPQXqrpmgaVUWVVaglqpomllllnqteqpmjnuzu2owtqooprqmmoegpnlkmnnjqtvxxumlponkheemu04zvogUfdfknktixwpkhbjmprrqkjieYZceXjlnnnnkjgcZXUROPQQSWaccbccehkkkkjgccfhhhgfebbbbcbcefeedcZXVSPOOOQSVOAAAIIQRRRQQPOOOOOOOOONNNMLKJJJIHGHIIJJKMNMLKJJKKMOQQQPOMLLMMNOPPPPOOONMLLLLMNNOONNMLLKJHGHHIKLMNMKIHGGGIJLMMMNNNNNMMLKKJJJJJJJJKKKJJJJJJIIJJKLMNNOOOMKJHGFFFFGGIJJJIHGFFFGGGGFDAAAAAAAAAAORSSSSTSSQOMKJJJJJJJJJJKKLLMMMMLLLLKKJJIIHHHHHHHHIIJJJKKKKLLMMMMLLLLLKKJIIHGGFFFFGGHIKMNOOPOLAAAAAAAAAAAAAAAAAAAHLLLLLLLKKqsnfUKKQTSQVfkeWPRVbmvuoQRJSSRPPPQXqqpmgbWVXWWbhnrrpnllkkmptorpmjnuzu2vwtrppprplmodcpnkjlnnkruwyxulknmmkihgnu03vvohbgeglnpuZyxplhbjlprrqkjieYZcdVilnonnnkjdYUSONORQRUXZYXYZbfjkkkidaadhjjigdaZabccehjjiigdaXTPNNORVZOAAAIISTTUTTSAAAPPOOOONAAAAAAAAAAAAAAAAAAANMLKKKLNPRRRPOMLLLMNAAAAAAAAAKLLLLMNNNNNNMLLKJHFGGHJLMNMKIHGGGHJKLLMNNNNNNMLKKJAAAAIJJKKKJIIIIIJKLMMOPPOPPOMJHGEEEFFGHIJJJIIHGGGAAAAAAAAAAAAAAAAAPSTTTTTSROMLKKKKKKJJJJKKKLMMMMLLLLKKJIIHGGGGGGGGHHIIJJJKKLLLLKJIJJKKLKKJIIHGGGFGGHIJKMNOOPPOLAAAAAAAAAAAAAAAAAAAALMMMMLLLrsneTKKRVTQVfjdWPRVbluunOQJSSRQQQQXpppmhcXWYXWcjottqnlkjjlpuurqnjnuzv2zwtsrqpqolloebpmjiknnksuxyxukkmlljiihnuz3svpijhfhloquZzyqlhbjlpssqkjieYZbcUilnonlkjhebZWTRRTTUYbccbccdgikkjhebacdeeecbZZabbcehjjihfcZXVTSSTUXYOAAAIIUVWWWWUTSRQPOOOOOOOOMLKKKJIIJKKLMNOOONMLLLMOQSSRQOMLKLLMNANLKJJIIJKLLMMNNNNMLMMLKIGFFGHJKMNMKIHGFFGIJKLLMNNNNNMLKJIIHHIIJJKLKJHGGGHJKMNOPOAAALLKHFEEEEFFGHIJKJJIIHHGGGFAAAAAAAAAAAAAAAQSSTTTSRPNLLKKKKKJJJJJKKLLLLLLLKKKJJIHHGGFFFFFGGHHIIJJJKJJIIAAAAHIJKKKJJIHHGGGGGHIJKMNOOOOONAAAAAAAAAAAAAAAAAAAAAKMMMLLLrtndSKKSWUQVeidWPRWbkutnPRJRLKLNOPbnomieVXXXVdksxxywspmjjnt01ywtsusqyyyxvspoqrfpqoQeqpppooprty121xqnkdnnnnrtwxxnvtpjVgmrvy3evvojkpu22xrkiheejlookkiiheZdgfeddbYWVVWYcegggfefhiiihgecbaaaaZZYZZZabcehijihfbYXXXXXXYYYOAAAIIVWXYYYWVTSRPOOOOOPPONMLKKJJJJKLLMNOPPONMAMNPRSSRQOMLKKLMNAMKIHHGGHJLMMNNNNNMLMMLKIGFFFHJLMNMKIHGFFGHJKKLMNNNNNMLKJIHHAHIIKLLKIHGFGHJLNPQQOAAAJKJGEEEEEFGHIJKKKJJIIHHHHFAAAAAAAAAAAAAAANRRRSSRQONMLLKKKJJJJJJJJKKKKKKKKKJJIIHGGGFFFFFFGGHHIIIIIIHHAAAAAHIJKKKJJIIHHHHHHIIJKLMNNNNNNKAAAAAAAAAAAAAAAAAAAAILLLLLLrsndSKKTXVRUdhcWQRVajsrmRRTQLKLMNOamnlheVYYYWdksxxywtpnjimszzxvtsuspyyyxvspoprepqoXirrqqooprty022zsoldmmmmqtxxymvtpkWhmquy3duvnijou22xrkhgeejmoplljjheYacdfghgdaYXZcgijkkjhhhhgfgfedcZWVVUVWYZZabbdgiiihebXXZbcccbZXOAAAIITVWXYYXVUTSQPOOPPQQPOMLKKJJJJKLLMOPPPPONANOQRSSRPOMLKLLMNALJIHGGGHJLMNNNNNNNNNMMLKHGGHIKMNONLJHGGFGHIJKLMNOOONMLKJJIIAIJJKLLKIHGGGIKMOPQQQPLMMKHFEEEEGHIIJJKKKJJJIIHHHGDCAAAAAAAAAAAKMPPPQQQQPONMLLLKKJJIIIIIIIJJJJJJJJJIIHHGGGGFFFFFFGGGHHHIIIHHGGAAGHIJKKKJJIIIHHHHIIJJKLMMMMMMMMJAAAAAAAAAAAAAAAAAAHKKKKKKKrsneRKKTYWRUcfbVQRVaiqqmSQSPKKKLMNZlmkhdVYYZWdkqxxywtqnjimrxywujstrpxyyxvspopqeoqoYpttrqpoprty0220uqmdlmlmqtxyylvuqlXhmpux2ctumiiot12yskhgeejmpqnmkjhfXXZbfjkkjfbZcgjkkkkkkjigedefffdYSQQQRUXZZabbdgiiigeaWXbfhhgfbXOAAAIISTUVWXXWVUTRQPPQQRQQONMLKJJJJKKLMOPQQQPPAOPQRRRQPOMLLLLMMALJHHGGHIKMNNOOOOOOOONNMLJIIIKMNOPOMKIHGFFGIIJKMNOOONMLKJJJJAKKKKLKKJHHHHJLNOPQQPONMLIGEEEEGIJKKKKKJJJJJIIHHHGGGFFFGGGHIJKLMNNNOOOPPPONMMLLKKJIIHHHHHHIIIJJJJJIIHHHGGGGGFFFFFFFGGGHHHHHIHHGGHIJKKJJJJJIIIIIIIJJKKLLLLLLLLLLIAAAAAAAAAAAAAAAFIKKKKJJJJqsneRKKUZXSUbeaVQRMZhpolTQQOKKKLLMYjkjgdVYZZXeknxwxwuqnjilqwxvucrtroxxyxvspoppdopoYsuvtrppqruy0121wsndllllqtyzzmvurlXhmptw1bstlhins12yskgfddjmqronljifWUWagkkkkjfbfjkkkkkkkkjgcbcefgeXPMLLNSWZZabbdgiihgdZWXdjkkkicWOAAAIIQRTUVWWWWVUSRQQRSSRQPNMLAAAAAAAAMAAQQRQQAAQRRQQPONNMMLLMMMLJHHGGHIKMNOOOOOOPPOONNMLKKKMNPQQPNLJHGFFGHIJKMNOOOOMLKKKKLALLLLKKKJIIIJKMNPPPPONMKJHFEEEFHKMNMLKKAAAAJJIIHHGGGGGGGHHHIJKKLLLLMMKLNOONNMMLLKJIHHHGGGGGHHIIIIIIHHHGGGGGGFFFFEEFFFGGGGGGHHIHGHIJJJJJJJJJJJJJJJJJKKKLLLKKKKKKKJIHAAAAAAAAAFHIJJJJJJJIIIqrneRKKVaYSUadZVQRJYgnnlVQPNKKKKKLXijigdVZZaXeklxwxxurnjhkpuvutYrtqowxyxvspoopcnpnYtwwurppqsuy0132ytoYklklqty0zovurmYimosw0brskghmr02ztkgeddjnqspolkifWVXafjkkkiebfkkkkkkkkigdaZbdghfYPMLLOSXabcddfijihgeaXYcgiihfbXOAAAIIOQRSUVWXXWVTSRRSTTSRQOMLKJJIIJKLMOPQRRSRRRRRQOPOONNMMMMMMLKIHHGHHJLNOOPPPPPPPPOOOONMLMNPQRRQOMKIHGFGHHIKMNOPPOMLKKLLMAMMMLKKJJJJJKLNOPPPPNMKJHGEEEEGJMOPONLKJJJJJJJIHHGGGGGHHHIIIJJJKKKKKHAAAKNNNMMLLKJIHGGGGFFFGGHHHHHHHHGGGGGGGGFFEEEEEFFFFFFFFGGHGHIIJJJJJJJJJJJJJJJKKKKKKKKJJJJJJJJJJJJJJJJJIIIIIIIIIIIIIIprneRKKWbZTUZbYVRRJYemdkWQNMKKKKKKVhhhfdVZaaXekmwwxxurnjhjotutsXrsqnwxxxvspooocmonYuxyvsppqsuyz133zvpQjkkkpuz10qwvsjZimorvzarrkfglq02zthgecdjnrrrpmkifWWZbehkkigdbfkkkkkkkhfdaYYadgigZQMLLOTYbdfffhjkihhfcZZbdededbYOAAAIIMOPRTVWXXXWUTSSTUTSRQONLLKJIIJJLMOQRSSTSSSRQNLNONNNNNMMMLLKIHHHHHJLNOPPPPPPQQQPOOPPONNPRSSSRPNKIHGFFGHIJLNPPPONLKKLMNNNNNMKKJJJKKLMNPPPPONLJIGFEEEEHLOQRQOLJIIJJJJJIIHHHHHHHIIIJJJJJIIIIIAAAAAALNMMLLKIHHGGFFFFFFGGHHHHHHGGGGGGGGGFFEEEEEEEEEEEEFFFGFGHHHHHHHHHHHHHHIIJKKKKJJJJJJIIIIIJJJJJIIIIIIIIIIIIHHHHHHHprmeRKLXcaUUYaXVRRJXdkTjSKKMNKMKKKTgfgjifgikknrsxzzwrqmgeinlsssNoomcswwwzxvuuuuvuupwyxtqoprux33zwmnnkLilomtvqvztwwyorrtunx0dzrlfdotuy2tYcccdjnrbtspnmkgaabdfhhgecbfkkkkkkjecaYWWZdhjhbRMKLOUZcfhihjkkjhhfdaZaaaZaaaZOAAAIIMOPQSUVWWWVUTSSTTTSRQONMLKJJJJKLNPQRSTTSQPOAAAKMNNNNNNMMMLKJHHHHIJLNOOPPPPPPQQPOPPPONNPRSSSRQOLJIHGGGHIJLNOPPONLKLMNNOOONLKJJJJKKLMOPQQPONLJIGEEEEFIMPRSROLJIIJJJKKJJJIIIIIIIIJJJJJIIIHHGAAAAAAAKMMLKJIHHGGFFFEEFFGHHHHHHGGGGGGGGGFFEEEEEEEEEEEEEEFGEFFFFFFFFFFFFFFGGGHHIIJJIIIIIIIIIIIIIIIIIIIIIIIIHHHHHHHHHHoqmeSKMYcbVVYZXWRRJWbiLhSKKMNKMKKKUgfYjifgjkknqvxzzwrplhgkomssrOoondswwwzxvuvvvvuutvxwsqpprux33zwmnnkLjmpntvguytvvxorrtunx0iyrlfdouvy2tXcccekorTtsqnmlgcbbcdeedcbbfkkkkkkhcZXVUVXcikjcRMKLPVaehjkkkkkjhhgebaZYWVWYZaOAAAIINPQQRTTTUUUTSRRSRRQPOONMMLKKKLLMOQRSTUUTSSSROMMMMMNNNNNNNNLKIIIIIJLMNOOOOOPPPPPOOONMMMOPQRRRQOMLKIHHHHIJLNOOOONLLLMNNNNNMLKJJJJJKKMNPQQQPNLKIHFEEEFJMPQRQOLJIAIJJKKKLLLLKKJJJIJJJJIIHHHHGAAAAAAAILLKKJIHHGGGFFFFFGGHHHHHHHHHHHHHGGGFFEEEEEEEEEEEEEFFGGHHHHIIIIIJJJAJJJJJJJIIIIHHHHHHHHHHHHHHIIIIIHHHHHHHHHHHHHnpmfTKNZdcWVXYWWSRJWafJgRKKMNKMKKKUgfNjifgjkknqvxzzvqoliimqnssrPoonetwwvyzz000000zzwvurqpqsvy430wmmnkOknqotuYtxtutwrrrtumwzoyrlgdouvy2sadddfkorStsqnnladdcbbbbaaabgkkkkkkeZWUSSTWcikkdSMKLPVbfikkkkkkjhhhfdbZVSRSVZbOAAAIIOQRRRRRRRRRRRRQQPPONNNNNNMMMMMNOQSTTUVVUSSRQOMLLLMMNNNOOOONLKJIIIJKMMNNOOOOOOOONNNMKKKMOPQQQQPNMLKJIIIJKLNNOOONMLLMMNNNMLKJJIIIIJKLNPQQQPOMLJHGFEEGJMOQQPNLJIAIJJKLMNNNNNMLKJJJJIIIIHHHHGAAAAAAAGJKJJIIHHHGGGGGGGGHHHHHHHHHHHHHHHHGGFFEEEFFFFEEEEEEFFGGHHHHAHIIIIIAIIIIIIIHHHHHHHHHHHHGGHHHHHHHHHHHHHHGGGGHHHHnpmfTKOZddXWXXWWSRNVYdJeQKKMNKMKKKUdfJjifhklkmpvxzzvpnljkorossrRnoofuwwvy0133333310yvtqqpqsvy430wnmnlkloqouuVswqssvurstumwzryrlgdpvvz1shdddflpsStsqnnmUeedcbbbbbcdhkkkkkjeaXURRSUagjicTOMNQVadgijjjkifddcbZYXVUTVXZbOAAAIIPRSSRQPPOPPQQQQPNMMLMMNNNNNNNNOPRTUUVVVUSRQPMAAAAAAAAAAPPPOMLKJJIJKLMMMNNNNNOONNMAKJIJAAAOPPPPOANMLKJJJKLMNNNNNMMMMMMMMLLKJIIIHIIJLNOQQQQPNMKJHGFFHKMOPPOMKJIAIIJKMOPQQQQOMLJJIIIIIIIHHHGAAAAAAAFHJIIIIHHHHHHHHHHHHIIIIIIHHHHHHHHHHGGFFFFFFFFFFEEEEFFGGGGGGAHHHHHIAIIIHHHHGGGGGGGGGGGGGGGGGGHHHHHHGGGGGGGGGFFFmomfUKPaeeYWXWVWSRRUXbKYPKKMNKMKKKUQfJjhfhklimouxzzuollkmqtptqrWkooguxwvy0234444320yvuuvvwwwz440wvuutroprpuuVrvnrruurstumwytxrmgepvwz1shdeeglpsStsqnnmRgfecbbbcdefikkkkkiebYURQQSXdhhbUPOPRVZbdeffffdbaZYWWVVVWWXZaaOAAAIIRSTSRPNMMMNOPPPNMKKKKLNOOOPPPPPRTUVVVWVUSRQOLJJJJKMMNOPQQQPNMKKJJJKKLLLMMMNNNNNMMAIHHHIKMNOPPQQPPOMLKJKKLMMNNNNMMMMMMLLLKJIIIHHHIJKMOPQRRQONLKIHGGIKNOOONMKJIAIIJLNPRSTTSQOLJAIIIIIIIIHHHAAAAAAAEFHHHHHIIIIIIIIIIIIIIIIIIIIIIIIIHHHHGGFFFGGGFFFEEEEFFFGGGGGAGGGGHHAHHHHGGGFFFGGGGGGGGFFFFFGGGGGGGGGGGGGGGFDAAAlomfVLPbefZXWVVWTRTUVZSRPKKMNKMKKKUJfJjhfhklYlnuwzzunkllpsvqtnqdgophvxwvy0133333310yvy0111222541110yvtqqsquuUqulppttrstumwyuxrmhepwwz1sheeegmqtStsqnnmQhgedbbbceghjjjjihgecZUQOOQUbffbURQQRUXZabccbaZXWVTSSSTWYZabbaOAAAIISTUTRPMKKKMNOPOMKIIIJLMOPPQQQQQSUVVVWWWUSRPNKIIIJKLMNOQRRRQPNLKJJJJKKKLLMMMMMMMMLAHFFGHJKMNOPQQQQPOMKKKKLMMMNNNNMMMMLLLKJJIIHHHHHIKMOPQRRQPOMKJHHHJLNOOONLKIIHHIJLORTVVWUSPMKAIIIIIIIIIHHAAAAAAACEFGHHHIIIIIIIIJJJIIIIIGFAAAAEGIIIHHHGGGGGGGGFFFEEEEFFFFFFFAFFGGGGAGGGGFFFEEFFFFFFFFFFFFFFFFFGGGGGGFFFGGEAAAAAknlfVMQbegaYXVVXUSUTUXWNKKKKOUUOKKOJhOonmlqsdkvz0z2yrlpqhlqpigqritpmkoruwzz000000zzwxz1245555565421zxurqsuvubjejprw03530yvyxxqniYWjr11uleeehjmoUrrpllqXkhfdbabdgikkjhffeeedaUQNNOSYddaVTTSSUWXXXYYXVUTTROOOPRWaccdcaOAAAIIUVVVTQNLKLMOPPONLJJJJKMNOPPQQRRSUVVUVVUSQPNLIHHHIKMNOPQRSRQPNLKKJJJKKKLLMMMMMMMMLAHFFGGIKLMNOPPPPONLKJJKLMMNNNNMMMMLLLKKJIIIHHHHIIJLNOPPPPONLKIIHIKNPPPONLJIHHHIJLORUVWWVTPMKAIIIIIIIIHHHDAAAAAAAACCDDFHIIJJJJJJJJJJJHFAAAAAAAAAEHIHHHHGGGGGGGFFFEEEFFFFFFFFFFFFFGGGGFFFEEEEEEFFFFFFFEEEEEEFFFFFFFFFFFFEAAAAAAXmkeVNRbehbZXVWYVSUTTWUMKKKKMSTOKKOJhOonmkqsdkvyzy2yqloqhmqpihrtmuqmjmpsvyzzwvvvuuwvxz1345667665431zxvsqsuvulmnooqw03530zvyyxrojYWiq00tleefhjmoUsrpmmrbjigecabehkkkifcbbcdebVPMLLPWbcZWVVUTUVVUUUVTRPPPMKKKMQWbeffdaOAAAIIWXXWVSOMLMNPQQPOMLKKKKLMNNOPQRSSTUTTSSRQONLJHGGHIKMOPQRSSRQPNLKKJJJKKKLMMNNNNMMLLAHGGGGHJKLLMNOOONLKJIJKLMNNNNNMMLLLLLKKJIIIHHHIIIJHLMNNNMMLKJIHHIKNPQQPOMJIHGGHJLORTVVVUSPMJAIIIIIIIHHHHCAAAAAAAACCDDFHIJJJJJJJJJJJJHEAAAAAAAAAAFAIHHHHHHHHHHGGFFFFFFFFFFFFFFFFFGGGGFFFEEDDEEEFFFFFEEEEDEEEEFFFFFFFFFFEAAAAAALljeWOSbehdaYVWZWTUTSUSLKKKKLRSNKKOJhOnmmlpsgkvyzy1xqlopimrpijsurvrnjmqsvz10xsrotuwvxz1245555565421zxurqstvtuvwwxxxz25310wyyxsqkZWipzyskeefhjmoTsrpmmrfggecZYZbfikjhfdcefhheZTQOOQVabaZZZYXWWWVVVWUSRRRPONOPQUXZZYXWOAAAIIYZZYXUQNMNPQRRQQOMLLKKKLLMNPQRSSTSSRQQONMLJHFFGHIKNOPQRSSRQPNLKKJJJJKKLMNNNNNMMLKAHGGGAAAAAKLMNNNLKIIHIJLMNOONNMLLLLLKKJJIIHHHHIIJIGKKLLKKKJJIHHHIKNPQPPNLJIHGGHJLNQSTTTSQNKIAHHIIJIIHHHGAAAAAAADEFFGGHAAAAAAAJJJJJJJJIGAAAAAAAEGIAIIIIIIIIIIHHHGGFFFFFFFFFFFFFGGGGGGGGFFEEEEEEFFFFEEEEDDDEEEFFFFFFFFFFFFECAADKkidWOTbeiebYVXaWUUTRSQMKKKKKPRNKKOJhNngllpsnkvyzx0xpkomimrphmtwsxsninqtw021xsrXtuwvvy0111222363110yvtqqrtuux122333225420wzyytrlZWhoxxrkeefhjmoSsrqmnsmefcZXWXYcfihgfddgikkidYTRRSVZabdeedbZXWWWWXWUTTTSRSTSRRSUTSSSOAAAIIbbbaZWSPOPQRSSSRQONMLKKKKLMORSSSSRQPONMLKJHFFFFGILNPQRSSSRQPNLKKJIJJKKLMNOOONNMLKJHHHHGHHIJJJKLMLKIHHGHIKMOOONMLKKKKKKKJIHHHHHIIJJHAJJJIIIIIHGFFGHJLNOOONLJIHHHIJKMOPQQPONAJHAHHIIJIIHHHFAAAAAADFGGGGHHHIIIIIIIIIIIIIIIIIGFEAFHIIIAIIIJJJJJJJJIIHHGGGGFFFFGGGGHHHHIIIHHHGFFFFFFFFFFEEEEDDDEEEEFFFEEEEFFFGGGHHHJkhdWPTbdifdZVXbXUVSQRONKKKKKOQNKKOJgPnalkpsvkvyyx0wpkolimrphpuxuytojnqtxv32ysretuwvvuuvvwwwx363xvuutroprtuvz246666645431xzyytsmaWgnwwqjeffhjmpTssqnntuedaXVUUWZdggffefikkkkicXUTTVYZchijhfbYXWXXYXWVVVVVWXVSPOOMLMOOAAAIIdddcbYTQPQRSSTTSRQONLKJIIJLORSTSRQONMLJJIHFFFFFGILOQRSSTSRQONLKKJIJJKKMNOOPOONMLKJIHHHHGHHIIIJKKKJHGFGGIKNOPOOMLKKKKKKKJIHHHHHIJJJFAHHHHGFGGGFEEFGHJLMNMMKJIIHHIJKKLMMMMLKAHGAHHIJJJIHHHFAAAAADFGGHHHHHHHHHHHHHHHHIIIIIIIHHHHHHHHIAIJJKKKKKKKKKJJIHHGGGGGGGHHHIIIJJJJJIIHHGGFFFFFFFEEEEDDDEEEEFFEEEEEFFFGGGHHHJjgcWQUbdjheZVYcYVVSQQNPKKKKOUXVQLSRhPeamlptwxvwvswtqnqpwvspmptwtzxumomklgwwuomfnqskrqmnnorux4zx3umlmpssrrrwz256787654641uxy23unoooonrvtsponmnoQiqplhppacYVTSSTWaeeeefgkkkkkkgbXWVVWZekkkkjeZXXXYZYYXXXYZabYTNKKKKKKMAAAIIdeddbYUQPQSSTTTTSRPOMKJIIJLORSSSRPNMLJIIHHFFFFFGILOQRSSTSRQONLKKJIJJKLMNPPPPPNMLKJIIIIHHHHIIIIJJJHGFFFGILNPPPOMLJJJJKKJJIHHHHHIJJIAAFGGFFEEFFEEEEFGIKLLLLKJJIIIJJJJKKJIHIHAFFGGHIJJJIHHHFAAAADGHHHHHHHHHHHHHHGGGGHHHHHHHHHHHHHHHHHAIJKKLLLLLLLLLKJIIHHGGGHHIIJJJKKKKKKKJJIIHGGGFFFFFEEEDDDECAACDEEEEEFFFGGGHHHJifbWRUbcjifaVZdaWVTQQNSKKKKPVXVQLTYiVggmkosvwvvvrvtqnqrwuspmptxtzxtlnlklevwuomknqsNsqkWknqtx2yw1tcflorrrrrvz246666644530uxy12vvwwwwvvvusponmnoSjqplgpoaaWTRQQRTYccdefhkkkkkkkfaYWVVYfkkkkkhbYYYZaaaZZZbdefbULKKKKKKKAAAIIcccbZXTPOPRSSSSSSRPONLKJJKMORSPSQPNMLKJJJIGFFFGHALNOPQRRRQPOMLKKJIIJKLNOQRRRQOMLLKJIJJIIJJJJJJJJIHFFFFHJMPQRQPNLJJJJJJJJIIIIIIIIJFAAEHHGFEFFFEEEFGGHIKKLLLKKKKKKKKJJIGDCFFEEEFGGHIJIIIHHGDAADGIIIIIIIHHHGGGGGFFFFGGHHHHHHGGGGGGHHHAIJKLMMMNNNNMMLLKJIHHHHHIIJKKLLLLMMLLLKKJIHGGGFFFFEEEDCAAAAAAAAEEEEEFFGGGHHHOheaWRUacjjgbVafbXWTQQNTKKKKQWYVRMUhkXhnmjnruwvvuqusqoqsvuromptyuzwskmlklhuvupnknqtOsqkVjmptw1wu0scelnqqqrrux12233322142ztxy1201222210yuspomlmoXjqplgonaZWVVVVUVXZacegikkkkkkkfbYUSRUakkkkkgbYYZZaaaaaabcddaVOKKKKKKLAAAIIaaZZXURONOPQRRRRRQPONMLKKLNPQQARQONMMLLLLKJHGGHIAKMNOPQQQQPOMLKJJIIJKLNQRSSSRPNLLKJJJJKKLLLLKJJJIGFFFGHKNQSSSQOLJJIIJJJJIJJJJJIIGAAADHIHGFFFFFFFFGGHIJJKLLMMMMMMLKJIGCAAAEEEEFFGHIIIIIIIHFAAGJJKKJJJIHHGGGFFFFEEEFGGGHGGGGGGGGGGHHIJKLMNNOOOOOONNMLJIIHHHIIJKLLMMMNNNNNMMLKJIHGGFFFFEECAAAAAAAAAAAEEEEFFGGGHHHWhdZVRVZbkkhcWbgdYWTQQNTKKKKQWYWRNVjlUionjmqtwvsuqtsqoqsutrompuyuzvrjmlkkntvtpnloqtOsqkVilosv0vsyrbekmppqqrsuvwwxxxw1v41ysxz1124555542zvspomkmngjqplgomYXXXZaaYWWWYaegjkkkkkkkfbXROOPVgkkkkgaYYZZaabbbbbccbZWRONKKKLMAAAIIYYXWVSPNMNOPAQQQQQPOONMMMMNPQRPQPONMMAAAANMKIIIIAKLMMNOPQQPNMLKJJIIJKLORSTUTSQNMLLKKKKLMNNNNLKJIHGAFFGILORTTTSPLJIIIIIIJJKKLKJIHHEAAHIIIHGFGGFFGHHHHIIJKLMNNNNNNMLJIGFEDEEEEEEFGHHIIIIIIIIJJKKKKKKKJIHHGFFFFEEEEEFFGGGGGGGFFFGGGGHIJKLMNOOOOPPOONMLKJIHHIIJKKLMMNNNNONNNNMLJIHGGFFFFEEDAAAAAAAAAAAEEEFFFGGHHHHdgcXVSVZbkljdWcheZXURQNRKKKKRXZWSOWknNjpnikosvvmtptsqoqstsqompuzvzvpillkkotutpolortOsqkUhkoruytqwqbejloppqrqponooorx1o30xsxz1124666642zwspnnooopnrpljnlVVXZdffbXUTVZdhjkkkkkkjfbWPKKLRdkkkkgaYYZaabcccccbbaYWUSSPNMNOAAAIIWVVUSQOMLMNOAPQQPPPPOONNNOOPQRQQPONMMNOPPPONLKKJAJKKLMNOPPONMLKJIIIJKMPSUVVVUROMLLLKLLMOPPPONLJIHFAFGHJMQTUVUTPMJIIHIIIJKLMMLKIHGGFGHIJIIHGGGHHIJJJIIJJKLNNOOOOONMKIHFFEEEEEEFGGHIIIIIIIJJJKKLLLLKKJIHGGFFFFEEEEEFGGGHHGGGGGGGGGGHIJKLNOOOPPPPPOONLKJIHHIIJKKLMMNNNOONNNNMLJIHGGGFFFEEEDAAAAAAAAACEFFFGGHHHIIIgfbWVSVYakmkeWdjfaXURQNMKKKKSXZXSOXloNkqnijnrvvhtpsrqoqrtsqomqv0vzuohlkjjosutqomoctOsqjUhknqtxrpvpadjknopqrqppoppqty1j2zwrwz1024555542zvsuvvwwwwvvurnnjRUXbgkjfYTRTXdhkkkkkkkifbVMKKKMZkkkkgaYZZaabcddccbZYXXXXXVSQPOAAAIIUTTSQOMLKLMNAPPPAPPPPPOOOPPQQQQPPNNMNOPQRRQPAMLKAJJJKKLNOPONLKKJIIIJKMPSVWWWVSOMMLLLLMOPQRRQOMJIGFAFGHJNRUWWVUQMJIHHHIIJKMNNMKIGFFFGHIJJIHHHHIJKLLLKKKKLMNOOOOPOONLJIHGFFEEAFGGHHIJJJJJJJJKKLLLLKKKJIHGGFFFFFEEEFGGHHHHHHHGGEGGGHHIJKLNNOOOOOOOONMLJIHHHHIIJKKLMKJJKKLLMMLKJIHGGFFFFFEEEDCAAAAAAADEGGHHIIIJJJJgfaWVSVYZknleWekhbYVRQNJKYXUKWTPPSgtvXvvvvvvurpUmmlkkkmorssuuy22zwomjeflnorrqcnppRoPnkkllorulpusmqsttrpmimmnmlkkov333bsfmoqruy01222210yutxz111111zxtplZKSXekkkiaSORWdikkkkkkkifcUKKKKKVikkkfaYZZaabdeedcaYWWYabbaXTROAAAIISSSRPNLKKKLNAOOOAOOOOPPPPPQRRRRQPONMNOPQRRQPAMLLAKKKKLMNOPONLKKJIIIJJMPSUVVVUROMMMMMMNOPQQQQOMKJHGAGHIKNRUWWVTPLIHHHHHIKLNONNMJHGFFGHIJJIIIIIJKLMMMLLKKKMNNOOOOOONMKJIHAGGGAGHHIJJKKKKKKKKKKLLKKKJJIIHGGGFFFFFFFGHHIIIIIIIEAAAEHHIIJKLMNNOOOOONNMLKJIHGGGHHIJJJIAAAAAAIIJJJIHGGGFFFFFFEEEFEDCCCDDEFGHHIIIIIIJKfeaVUTUXYjnlfXflicYVSRPJKXXUKYUQPTguwXvuuuuuurpPllkjjkmorstvvy22zwomjeflmoqqrdoqqSpQollmmpsulpusmqtttrpmimmmlkkjov322brfmorrsuvvwwwzzxusuy02344320yuqmZJSVbikkicWTVafikkkkkkkjheYQKKKNXgkkjfcaabbbbcccbaYWVVXZbbaXTROAAAIISSRQPNLKKKLNAOOOANNNOOOOPQRSTTTSRPNMMNOPPPPOAMLLALLLMMNOPPONMLKJJIIIJLOQSTUTSQNMLMMNNNOPPPOOONLLKJIIIIKORUVVUSOKHGGGHHIKNPAAAMLJHGGGHHIIIIIIJKLMMMMLKKJKLMMNNNNNNMLKKJIAIHHAIIJJKKLLLKKKKKKKKKKJJJIIHHGGGGGGGGGHHIJJJJJJJFAAAAAEIIIJKLMMNNNNNNMMLKJIHGGGGGGHIIGAAAAAAAAAFGHHGGGGFFFFFFFFFFFGGGGGGGGGGGGAAAAAAAfeZVUTUVXjomfXfmjcYWTTQJKXWUKZVRQUhvwXuttttutrpNlkjijklorstvwz2yzwomjefkmnpqreprrTqdommnnqsukpusnrtutromiimmkjjjov222eremorsllmnoovyywusuy02344320yuqmZJRUZfjkieaYadgikkkkkkkkigcWRPPSZfiihfdcccbbbbbaZYWUTUWZbcaXTROAAAIIRRRQONLKKKMNOOOOANMMNNOOPQSUVVVUSPNMMMNNOONNALLLAMNNNOOPPPONMLKKJIIIJKMPQRRRQOMLLMNNOOOONNMNNNNNMLKJJJLORUUUTRNJGFFFGHJLONAAAMNLJHHGGHHHHHIJKLMMMMMLKJJJJKLMMMMMLLLLKKJAJJJJJKKKLMMMLLLKKKKKKJJIIIHHHGGGGGGGGHHIJJKKKKKKIAAAAAAAGIJJKLMMMMMMMMLLKJIHGFFFFFGGGFAAAAAAAAAAAAEFGFFFFFFFFFFFFGGGGHHHIHHHGAAAAAAAAAfeYUUTUUWionfXgokdZWUUROKWWULaWRQUiwxYussssttrpPkjihijloqstwwz3lzwomjefklnoqrfqssUrqpnoopqsukpusnrtutrolhXmlkjjinu222lremorsmgXYiovyywustxz111111zxtplZJQSWchihgfdfhijjkkkkkkkkigcYWVXaefgggeeedcbaaZYYWUSSSUYacaXTROAAAIIQRQQOALKKKMNOPONAMMMMMNOOQTVXXXWTQOMLLLMMMMLALLMNOOPPPQQPPONMLLKJIIIJKLNOPPPONLLLMNOPOONMLKLMNOPPOAAAKLORTUTSQLIFEEFGHJMPQAAAPQMKJIHGGGGGHIJKMMNNMLKJIIIIJKLLLKKKKLLLLKALLLLLLLMMNNNMMLLLKKKJIIHHHHGGGGGGGHHHIIJKLLLLLLLKAAAAAAAGJJJKLLLMMLLLLKKJIHGFFFEEFFFFEAAAAAAAAAAACEFFFFFFFFFFFFGGGGHHHIIJJJJIAAAAAAAAAfdYUUTUTUipngXhpleZXVVSXKWWUMZXSRVjwyYtrrrrtsrpTjigghjlnqstwxz3dxwomjeeklmoprfrutUsrqoppqrtukpusnruutrnlhOmljiiinu222xqelorsmgXYjovyywusruvvwwwwvvurnjYJPQUZeghijjkkkjjkkkkkkkkkkifcbccccdfggffedbaZYXWURQQRTXacaXTROAAAIIQQQPOALKKKMNOPONALLLLMNNOQTXZZZYVROMLKKKLLKKALLMOPQQRRRRQPONMLLKJIIIIJKLMNNNMLLKLMNPPPOMKJIJLOQRRRPNLKMORTTTROKGEEEEGHJNRUTSVUSOMKJHGFFFGHJKLMNNMMLKJIHHHIJKKKJJJKKLLLLAMMNMMMMNOOOONMMLLKKJIIHHGGGGGGGGGHHHIIJKLMMMMMMMMJAAAAAAIJJKKKLLLLLLKKKJIHGFFEEEEEEEEFCAAAAAAADEFFFEEFFFFFFFFGGGGHHHIIIJJKLLLKAAAAAAAAcdXTUUTSThqogXhqmfZXWWTXSVSUQPXXVXkwjSrpooopsttgmjgegjmqrssstwvPlqkgilooliehnsxywWrvwvssrpprtvvvwwwwvtqpmMonllnpfrxz0vohdZhkhijilptwywvtrqpoooppnnmljjTJOPRWbehkkkkkkjikkkkkkkkkkkkjihebZbdghhhgdbaYWVUSPOOPSWacaXTQOAAAIIPQQPOALKKLMNOPONAKKKKLMNOQUXaaaZWSOLKKJJKKJJAKLNOQRSSSSRQPONMMLKJIIIIIJKLLMLLKKKLMOQQPNLJHHILORSTTROMLMORSSSQNJGEEEEGHKNRVWXXWTQNLJIGFFFFHJKLMNNMLLJIHGGGHIJKJJJJJKLLMMMNNOONNNOOPPONMMLLKJJIHGGGFFFFGGGHHHIIJKLMMMMMMMMMMJAAAAHJJJKKKKKKKKKKJJIHGFFEEEEEEEEEFEDAAADFGGGFFEEEEFFFFFFGGGGHHHIIIIJKLMNNMAAAAAAAAVdYUVUTRSgpogXiqnfaXWXUXSVTUPOWWUWjviSsqpoopsstpnjgegjlpqrtuwyxPerkgimpokhdgmrxxwgqvvusosqqstwwvwwwwvurqnNponnopfqxy0voheNhhhijilpsvxvtrqponnopqokZZJYUJSTVZdfikkkkkkjjkkkjkkkkkkkkihfcZYYabcccbZYYXXWWVTTTTVYabZWTQOAAAIIQQQPOALKKLMNOOOMAKJKKLMNOQTWYZYXURNLLKKKLLLKALMNOPQRRRRQONNNMMMLKIIHIIIJKLLMMMMMMNOPPOMKJIHJLNQRSRQOMLMOQRRRPNJGFEEFGIJMQSUUUURPMLKIHGGGGIKLMNNNNMLKIHGGGHHIJIIIJJKLMMNNNOPOOOOOKKONMMLKKKJIHGGGFFFFFGGHHIIIJJKLMMMMMMMMMMMKAIJJJJJJJJJJJJJJJIIHGGFFEEEEEEEFFFGGFDAHHHHGGFFFFFFFFFFFGGGGHHHIIIIJKKLMNMKAAAAAAAPdYUWVTPQepohXiqnfaYXXVXRVTTPNVVTVithRsrppopsstqnkhefiloprtwyzyQYrkhjmpokhdflrwxwrquvtsjsrrsuxwwwwxwwvsrnNppoppqfqwy0uoieJhfhijjlpsvwtsqpponnoqqokaaJYUTVWZcjjkllmmnnmmllkjjkkklmmnnnmmlkjjjjkllmmmmmllkjjXXYZZZYVSQOAAAIIRRQQONMLLLMNNONMKJJJKKMNOPRUVWWUSPNLLLLMNNNMMMMNOOPPPPPONMMMMMMMKJHHHHIJKLMMNOOOOPPONMLKJJJJLMOPPPONMLMNPQQPOMKHGGFGHIJLNQRRRRPNMLKIHHHHIJKLMNOONMLKJIHGGGHHIIIIJKLMMNNNOPPPOOOJAAAMLLKKJJIIHGGFFFFFGGHHIIIJJKKLMMMMLLLLLLLLKKKJJJJJJJJIIIIIIHHGGFFFFFFFFFFGGHHIIIAJJJJIIHGGGFFFFFFFGGGGGHHHIIIJJKKLMLJAAAAAAANdYVWWTOOdoohXirnfaYYPWXRVTTOMUUSUgsgRssqmppsstqnkhefiknoquy11zSXrlhjnpokgcekqvwvuqousrktrstuxxwxwxwxwtsoOqqqqqqfpvyzuoicJhehikjlpsuvsqpoonnnoqqolaKJYUVZadfjmpqrssssssrqpmjjnqqrsssssrqqnjjmpqrrsssrrqpmjbbbbZYWUSQOAAAIISRRQPOMMLLLMNNMLJJJJJKLNNOQSTTTSAOMLAAAOPAAAAAANNOOOONNMLKLLMNNNLJHHHHHJKLMNOQQQQQPNMAAAAAAAAAAAAALJLLMNOOOOOMKJIHGGHAAAANOOOONMAAAAAAAAJKLMNNOONNMLJIAAAAGHHHIIJKLMNNNNOPPPPOLAAAAAIJJJIIHHGGFFFFAAAAAAAJJJKKLLLLLLLLLLLLLKKKKJJJJJIIIHHHHHHHGGFFFFFFFGGGHHIJJKKKLLLLKKKJIHHGGGFFFFFGGGGHHHIIIIIJJKKJHAAAAAAAPdYVXXTMNboohYjrogaZZJWXRVTTNLTTSTfrfQstrepqsssqnkhefhkmnqv0130YXrliknqokgbdjpvnvupdtrrqustuvyyxxxxwxxutpPqrrsrqepvxzuoidMhehikjlpsttrpnnnnmnoqqolbJJYUXdegikoruvwwxxwwvurokkosuwwwxwwwusokkoruvvwwwvvurokgffcZXVTRQOAAAIISSRQPONMLLLMMMLKJIJJJKLMNOPQQRQPOMLLLMOPQRRQPONNNNNNMLKJJJKLMNONMJHGGGHJKLMOQSSSSSQNKJJJKKLLLLALLJAAHLLMNNNNNMLKJIIHHIIIJKLALLKKKKKKJJKKLLMMNOOOONMLKJIHGGGGHHHIJLLMNNNNOPQQPOAAAAAAAEIIHHHGFFFFFGGGHHIIJJJKKKLLLLKKKKKKKKKKKKJJJJJIIHHGGGGGGGFFFFFFGGGGHHIJKKLMMMMNNNMMMLKJIHGGGFFFFGGGGGHHHHIIIIIIIIFAAAAAAAVdZWYXTLLaoohYjrogaZZJXXQWTTMKSSRSepdQhusYpqqssqnkhefhjlmpw2w41fXsmiknqokfacioufvupVsoruvttuvzyxyxxwyyvuqWrstuspeouxxuoifYgfhjkjlprtspnmmmmmnoqqplbJJYUZgikklpsvxzzzzzzxvspllptvyzzzzzyvtpllpsvxyyyyyxvsplkjieZVUSQQOAAAIITSRRQPNMMLLLMMLKIIIJJKLMNNNOOOONMLKKLNPRSTTSRPNNMMMLLKIHHIIKMNOOMJHGGGHIKLNORTUUUTQMJIIJKLMLLKAJJJGAKLLLMMMMMMMLLKJIIIHHHHIAIIIJJKKKKLLLMMNNNOOOONMLKJIHGGGGGHHIKLMNNNNOOPQQPPAAAAAAAEHHGGAFFFFFFGGGHIIJKKKKKLLLKKKJJJJJJJJJJJJJJJIIHHGFFFFFFFFFFFFGGGHHIJJKLMNNOOOOOOOOONMKJIHGGGFFFFGGGGHHHHHHHHHHHGEDAAAAAAedZWZYTKKYnohYjrogaZaJXXKKMLKKMPRSdooTXrlOjjdlmmklkjklnppquwlyvmTomhmoomlhWUgljStuuVtkawwussstuuvkquvvusqZqrrrvlttxxsuqmUhgdbiotwvxwvuskmnkiklmgomfJJbWaghijlptvyz0110zyvtplmqtwy01110ywtqmlpsvxz000zxvsplggfdZXVSQPOAAAIITRRQPONMMLLLLLLJIIJJKKLMNNNMNNMMLKKKLNQSTUUUSPONMMLLKAHGGHIKMNOOMKIHGHHJKMNPRUVVUTQMIHIJLMMMLKAIIIIIKLLLMMMNNNNNMMKJIHHGGGGAHHHIJKKLMMMMNNNNNNNNNNMLJIIIHGGGGGIJLMNNOOOOPQQQPPMAAAAAAEGGGFAEEEEFFGGHHIJKKKKLLLLKKJJIIIIIIJJJJJJJJJIIHGFFEEEEEEEEEEFGGHHIJKLMNOPPQQQQQQQQPPNMKIHHGGGFFFGGGGGHHHHHHGGGFFEDAAAAADeeZXaaTKKWlnhZjrogaabJYWKKLLKLNPRScnndVrmMkjclmilmlkklnpopuwhxvnXnkgknomliXVhmkRtutUsiavwussstuuukptuutrpeprrrvgtuxxqurmVhggciotvvwwwvtkmmjikmnhpogJJbYagghglptvyz0110zyvtplmqtwy01110ywtqmlpsvxz000zxvsplcddcaZWTQOOAAAIIRQPOONMMLLKLLLLKJJKLLLMNNNNNNMMLKKKKLOQSTUUUSQONNMLLKAIGGHIJLAOONLJIIIJKLMNPRTTTTSQMJIJKLMMMLKAJJJJKKLLMNOOOPQQPONMKIHHGFGHAHHIJKKLMNNNNNNMMMMMMMLLKGGHHGGGGGGJKMNOOOOOOPQQQPOOAAAAADGFFFFAEEEEFFGGHIIJKKLLLLLLKJJIIIHHIIIIJJJKKJJIIHGFEEEEEEEEEEEFGHHIIJKLNOPQQRRRRRRRRRQONLJIHGGGGGGGGGGHHHHHHHGFFEEDDDDCADDeeZXcbUKKUkmhZkrngaabKYVKKKLLMNPRScnnoasmNkkdlmXmnnmllnpoptvexuncmjejmnmliYWimlRtttarjZvvutttuuuujpsttsqngoqrswcuuxxqurnWihgcjosvuvvwwuklljhkmnhqpiJWcZbggfelpsvxzzzzzzxvspllptvyzzzzzyvtpllpsvxyyyyyxvspljjjjjjjjjNMAAAIIPONMMLLLLKKLLLLLKLMMMNNOOONNNNMLLKKKLOQSUUVUTQOONNMMLAIHHHIJLAOONMKKKKLMMNOPQRRRRQPMKKKKLLMMLLAKKKKKKKLNPQQRSTTSQPNLJHGGGGHAIIIJKLMNOOOOONMLKKKKKKKIAAGGGGGHHIKLNOPPPPOOPPPPONNKAAAEGFFFFEEEEEEFFGGHHIJKKLLLLLKKJIIHHHHHHIIJJKKKKKJIHGFEEEEEEEEEEEFFFHIIJKLNOPQQRRRRSSSSRQPNLJIHGGGGGGGGHHHHIIIHHGGFEEDDDDDDDDfeaYdcUKKSjmhakrnfaacTYUKKKLLNOQRScmnphtnOlkhlmPnoonllnooptvcxumhlidilnlljYXjnlRttskqnYuvttttuuuuiorsjrpmfnqrtwauvyxruroWihhcjosvuuvxxvkljihkmoirqjJhdacgfdckoruvwwxxwwvurokkosuwwwxwwwusokkoruvvwwwvvurokkkkkkkkkjMLAAAIINjjjijjjKKKKLMLLLMNNOOOOOOONNAAAAAAAAAQSUUVVTRPOOAAAAAAHHHIJLANNNMMLLMMNNOOPPQPPPPONLLLLLAAALMMMLLLKKKLOQSSTUWWUSROLJHGGGHIIIJJKLLMNOOOONMLJJJJJJJJFAAAGGHHIIKLMNOPPPPOOOPONNMMLHAHHGGGFFFEEEEEEFFGGHIJJKKKKKKKJIHHHHHHHHIJJJLLLLLAAAAAAAEEEEEEEDCCCCDFGIJLMNOPQQQRRRRRRRQONLJIHHGGGGHHHIIIIJJJIIHHGFFEEDDDDDDfeaYedVKKQhlhakqmfaadfYTKKKLMOPQRScmmprtoOllkmmPopqomlnonotvbwumlkhchlmjljZYkomSttrqpnXuuttuuuuutinqrZqoldmprtxZvvyxvuroXjihdjosuttvxywkkihhkmohsrlJidbcgebajmpqrssssssrqpmjjnqqrsssssrqqnjjmpqrrsssrrqpmkkkkkkkkkjLKAAAIILjhhhhhjJAJKLMMMNOOPPPPPPOOONNNMLKKKLOQSUUVVURPPOONNMLJIHHIJKANNNNNNNNOOOOOPPOONNNNNNMMMLLLLMMNNNMLKKKLORTUVXZZWUSQMJHGGGHIJJJKKLMNOOPPONLJIIHHHHHGAAAAAGHIIJKLMOPPPPOOOONNMLLLKKJIIHHGGGFFEEEEEEFFGGHIIJJKKKJJIHHGGGGHHIIJIHJMMMMLLKIHGFFEEEEDCAAAAAAADFGIKMNOOPPPPQQQQPPNMLJIHHHHHHIIIJJJJJJKKJJIIHGGFFEEEEEfeaZgfWKKOgkhbkqmfbbdgYSKKKLNQQQRRblmpsuoPmlkmmPorrpnmnonosuawtmnjgafkmkljaZlpmXssrqomWtuttuuvutthmqqSqnkclpruxavwyxvusoYkjidjosutsuyzxkjhggknphtsmRjeceigecjjkllmmnnmmllkjjjjklmmnnnmmlkjjjjkllmmmmmllkkkkkkkkkkkjPNAAAIIJjhggghjJAJKLMMNOPQQQQQPPPOOONNMLKKKLOQSUUVVURQPPOONMLKJIIIJKAMNOOPPPPPPPPPOONMLLMMNNNNMLLLKMNNOONMLKKLPSVWXZbbYVTRNJHGGHIJKKKKLLMNOPPPOMKIHGGGGGGGEAAGIJKKJJKLNOOPPOOONNMLKKJJJJJJIIHHHHGGFEEEEEEFFFGHIIJJJJJIHHGGGGGGHIJKIAKNNNNNMLKIHGFFFEEECAAAAAAADEGIJKLMNNOOOOOOOONNLKJIIHHHIIIJKKJIHAHJKLKKJJIHHGGFFFFffaZggWKKMfjgbkqlfbbehXSKKKKKLPQMNXfdioqiPjgegiJktvlpnkhhlrxaurpppfgnokooonorsqhvtrtrtvvwvusqjqrrpponOliffjqt0ybauvuuuvvtqmceqvyxutswwtnifYXikmquwzonnnoonnmljjjjjjlmnnoonnmljjjjjjklmnnonnmlkjjjTTUWYZjkkkkkkkkkkjSOAAAIIJihggghiJAKLMMNOQRSSSRQPPPPOOOONMMLLMOQRSTTTSQPPOONNMMLKKKKLMMNNOPPPPPQPPPOONMKKKKLMNNMMLKKLLMNOONLKJJLORTUVXZZWUSQMJIHHIJKKKKLLLMMNOOONMKIGGGGGGGGGHIJJJJJJJKLMNNOONNNMMLKJIIIIIJJIIIIIIHGGFEEEEEEEEFGHHIIIIIHGGFFFFGGHIJKKJMOOPOONNLKIHGGFFEEEEDCCADFFGGHIJKKLMMMNNNNNNMMLKJIIIIIIJJKLKJIAAAIJLMMLLKJIIHHGGGgfaYhhXKKLdigbjplfbcgiQRKKKKKKOQMNXechmphPjgeghJktwnrpnjjlqpXspoppghoploponprsqmwustsuwwxvtrpjqtsqponRlifgkrtzyhauuutuuutqmceqwzyvtswvsnifYYikmptwystuuvvuutsrnjjnrstuuvvuutsrnjjmqstuuvvvuutsqmjUWYbddjkkkkkkkkkkjWOAAAIIKjhggghjKALLMNOPSUUUUSRPOOOPPPPOOONNNOPQQQRRQPOONNMMjlmnmljOjkmnnmkjPjjlmnonmljjJJKLMMMLKKKKLMNNNMLJJJKMOQRSTUUSRQOMKJIIJKKLLLKLLLMMNNNMLJHGGGGGGGGGGHHHHHHIIJKKLMMMMALLKJIHHHHHIIIJJJJJJIHGFEEEEEEEEEFGHHIIIHGGFFFFFFGHIJLLLOPQQQPPONLKIHGGFFEEEEEEEEEEFFGHHIJKKLLLLLLLLLLKJAIIIIIJJKLLKJAAAAAAKLMMMMLKJJIIHHgfZYhiYKKKchfbjokfbdhkMRKKLKKKOQNOWecglngOkhefgJktxpuspmlmolVqoopqgipqlpponpssqpxvtutuxwxvtqpjruurqonZljghlrtzyqauutstuutplberx1zvtsvurmhfZYjkmptvxxz000000zxtpjjptxz000000zxtpjjotxyz00000zyxtojWYcghijkkkkkkkkkkjZOAAAIIKjhhhhhjLAMMNOPRUWXWVTRPOOOPQQQQQQPPPPPOOOOOOONNMMLLlrtttrlRkrsttsrkOjqstuvutsqjIIIKLLLKKJJKKLMMMLKJIIIJLNOOPPPONNMLKKKKKLLLLLKKKKLLMMMLKIHGGGGGHHGFFFGGFFGHHIJJKKLKKAKJJHHGGGGGHHIJJKKKIFAAAAEEEEEEEEEFGHHHHGGFEEEFFFGHIKLMMPQRRRRQPOMLJIHGGFFEEEEEEEEEEEFFGHIIJJKKKKKKKKKJJAIIIIJJKLMLKAAAAAAAAAKLLLLLLKJJIIgfZYijZKKKagfbjnjfcdilLQKKMLKKNQNOWebejlfOkieffOkuyrwurommnlVnmnnqhjqqlppoopstroxvuvtvxxywtpojsvvrqonkljhhmstzyvauutsstutplbesz20wtrutqmhfZYjlmpsvxz24444442zvqllqvz24444442zvqllquy134444431yuqlYbgkkkkkkkkkkkkkkjdOAAAIILjjjijjjMMNNOOQSWYZZXVRAAAAAARRSSSRQQPONMMLLMMNMLLKKnvyyyvnTmuxyyxumAlsxz000zxslHGHIKKKJJJJJJKLMLKJIHHAAAAAALKKKKKKLLLLLMMMLLLKKKKKKLLLKJHHGGGHHHHGFEEEEEEFGHIIJJKKJJAJIHGFFFFFGGHIJJKKIAAAAAAACEEEEEEEFGHHHHGFEEEEEFFGHIKLMMPQRRRRRQPNMKJIHHGFFEEEEEEEEEEEFFGHHAIJJJJJJJJJJJAJIIJJKKLMLAAAAAAAAAAAAAAIIIIHHJIhfZXikZKKKZdebinjecejmMPKKNLKKNQOOWdadijeOlieeeakuzsyxtqonmlXlknlrikrrmpppoqstrjywvwuwyyzwspojtwwsqonnljhdnstzyvbutsrstutplaft031wtrusplhfZYjlmpsuw0357777530wrmmrw0357777530wrmmrvz246777642zvrmYadghhjkkkkkkkkkkjZOAAAIIMLLLKLLMNNOOOPRUYbbbZWSPNNOQRSSTUUTSRQNLKJJJKLMLKKKKow111woWnv0110vnOmty23332ytmGFFHJKJIIIIJJJKLLJIHHHGFFGHHHGGHHIJKLMMNNNMMLLKKKJKKKKKJIHGGGHHHIIHFEEEEEEGHIJJJJJJJIAIIHGFFFFFGGHHIJKJAAAAAAAAACEEEEEFGGHHHHGFFEEEEFFGHIJLLLOQQRRRRQPOMLKJIIHHGFEEEEEEEEEEEFGGHAIIIJJJJJJJJJJIIJJJKKLLJAAAAAAAAAAAAAAAAAAAAGIhfYXjkaKKKXYebimiecekoQPKTVQKKOTXTXaSVUhlQpolieint0tyzvSlqrrgkhektwy111zxuptwy0g1zwywpr23rrrqnsvsommkdnkiaou12zwtspmgoruvrmikt1yyvqnmlhddefikkkmsxw0357887530wsmmsw0357887530wsmmrwz256787652zwrmYYacccjkkkkkkkkkkjVOAAAIINMMLLMMNOOPPPQSVZccbZWSOMNOQSSTUVVUTSQNKIHHHIKLLKJJJpx232xpYov0330voOnuz25552zunFFFGIJIIIIIIJJKLKJIHHGFEEEFFEEEEGHIKLMNNNNMLLKKJJJJJJJJJIHGGGGHIIJHFEEEEEFHJJKKKKKJJIIHHGGFFFFGGGHHIJJFAAAAAAAAAAEFFGGGHHIIIHHGFFEFFFFGHIJKKKNPPQQQQQPONMLKJJIIHGFFEEEEEEEEFFGGHAIIIIIJJJJJJJIIIIJJJKKJHAAAAAAAAAAAAAAAAAAAAAEifYVidaKKKWWcahliedglpVRKSVRKKPTXSWaRVKckPpolieintzsxyuLkpqqlkgeltwy1110xupsvxzd1zwxwpq13qrrpnruromnlfomjYpu11yvsrpnhorurqmijs0yxvqnnmjedefillkmrww0357777530wrmmrw0357777530wrmmrvz246777642zvrmYXXXYXjkkkkkkkkkkjROAAAIINNNMMMNNOPQRRSTWZaaYXUQNMMOQSTTVVVVUSQNKIHGGIKLLKKKKpx232xpWov0330voOnuz25552zunHGGHJJJIIJJJJKLLLKJIIHGFEEFFFEFHIJJKLMMMMLLKKJIIIIIIJKKJIGGFFGGHIJIGFEEFGIKLMMMMLKKJIHHHHGGGGGHHHHHIIIHAAAAAAAAAEHHIIIIIIIIIIHHGFFFFFFGHHGAAAAKNOPPPPPOONMLLKKJJIHGFFEEEEEEFFGGHAIIIIIIIJJJJIIIIIIJJJJJHAAAAAAAAAAAAAAAAAAAAAAifXUhUaKKKWWbZgkheehnrdSKSURKKQUXSWaRUJYjPonkifimszrwxsJkppqkjgdotxz2210xupsvwyc0zvxvop12qrrpmqtqonnmgpnkYpu01yurqohiortaqlijszxxuqnonkfeegjllkmrwvz24444442zvqllqvz24444442zvqllquy134444431yuqlYWUTTSjkkkkkkkkkkjNMAAAIINNNNNNNNOQSTTTVWXXWVTROMLMOQSTUVVVVUSQNKIHGGIKLLKKKLow111woTnv0110vnOmty23332ytmJIIIJKjjlmnnnmljjMKJJIHGGGGGGHIKLLLLLLLKKKJJIHGGGHHIJKLKIGFFFFGHIJIHGGGHJLNOOPPONLKJIHHHHHHHHIIHHHHHHIIEAAAAAAAAJKKKKKKKJJJJIIHHGGFFFGGGEAAAAAAIMNOOPPPONNMMMLLKJIHGFFFEEFFFGGGHAIIIIIIIIIIIIIIIIIIIIIIHFAAAAAAAAAAAAAAAAAAAAAjfWTgPaKKKVWaYejgfeioshTKSURLLRUXSWaRUJWjOonkifhmsyquvrJjoppkjfdotxz2220yuqsvvxb0yvwvnp02qrrplprqononhqolXqv01xtqpobiprtVpliirzwwupnoolgffgkmmklqvtxz000000zxtpkkptxz000000zxtpjjotxyz00000zyxtojYURPOOjkkkkkkkkkkjKKAAAIINOOOONNNPRTUVVWWWVTRQONLLMNQSTUVWVVUSQNKIHGGIKLLLLLLnvyyyvnQmuxyyxumOlsxz000zxslkkkkkkkprstttsrpjNMLKJJIHHHHIJLNOONMLKJJIIIIHFEEFFGHJLLKIGFEEEFGIJIHHHIJLOPQRRRQOMKIHHHHHHIIJJJIIHGGHHHGAAAAAAAJMMMMMMMLKKKJJJIHHGGGGGGDAAAAAAAAIMNNOPPPOOONNNMMLKIHGGFFFFFFGGAAAAIIIIIIIIIIIIIIIIIIIHHHGEDAAAAAAAAAAAAAAAAAAAjfVSeNaKKKUWZYdigffjqujUKSURMMSUWSWaRTJYiRnmkifhmrxptuqJiooojifcosx03220yvqsuvxbzyuwumo01pqrploqpnnpoispmYqv00wtponWhprsUplhirywwtpnppmhffhknnllpvrstuuvvuutsrnkknrstuuvvuutsrnjjmqstuuvvvuutsqmjYWUSSSjjjjjjjjjjjjNNAAAIINOPPOOOOPSVWXXXXVSQONMLKKLNQSTUVWVVUSQNKIHGGIKLLLLMMlrtttrlOkrsttsrkOjqstuvutsqklllmlllrwxyyyxwrlONMLKKJIIIJKMPQRQPNKJIHGGGGFEEEEEFHJLMLJGEEEEFGIJJIIIJLORSTTTTRPMKIHGGHHIIJKKKJIHGGGGGGEAAAAAIMOOOOOONMLLKKJJJIHHGGGGFAAAAAAAAAAJMNOOPPPPPOOOONMLKIHGGFFFFGGGHHAIIIIIIIIIIIIIIIIIIHHHGGFFEEDCAAAAAAAAAAAAAAAAkfUQdOaKKKTXYXchffgkrwlWKRTRNOTUWSWZQTSdhZmmkifhlrwnrtpJinnnjiecosx03321yvqsuuwayxtvtmnz1pqrpknpknoqpktqnarv00wsonnTcpqrUokhhqxvvtpnqroigfhlonllpunomnnoonnmlkkkkjjlmnnoonnmljjjjjjklmnnonnmlkjjjYXXWWWWWWXWVTTTSRRSOAAAIINPQQPPOOPTWYZZZXUQMLKJJKKLNPSTUVWVVTSQNKIHHGIKLMMMMNjlmnmljLjkmnnmkjOjjlmnonmljklmmmmmmsx01110xsmPPNMLLKJJJJLORTUTRNKIHGFFFFEEEEEEEGJLMLJGEEEEEGIJJJJKLNQTUVVVUSQMKIHGGGHIJKLLKKJHGGFFGGGEAAAIMOPPPQQPONMLLKKKJIIHHHGGFAAAAAAAAAAGKMNOPPQPPPPPPONMKJIHGGGGGGGHHHHIIIIIIIIIIIIIIIIIHHHGFFEDDDDDDDCAAAAAAAAAAAAAlgUPcRZKKKTXXWbgffglsxnYKTNKaefaSKLWYcOgkloonlknqmnutmqWvrnfbZiqrq2363zwpruwvrnNimkkkowuwytnmllZYlkbooonrivwvtpoproYjtqeOhgmrrvyvrnmlllieSimqsvyxvqhYWagkkkkkkkkhffeddcbaaaacdffdbZXZdikkkkifdcbaYZaabbcdedcYTPOOQTWOAAAIINPQQQPOOPTXZaaZXUPLJIIJJKLNQSTUVVVUTSPMKIHHHJLMMMMNNMMLKKKKKLMMNNOPPONLJHGGHJLNklmmnmmntx13331xtnPONMLLKJJJJMPTVVUSOLIHGFFFGEEEEEEEGJLMLJHEEEEFGIJJJJKLNQUVWVVVTQNKIHFCCGIJLLLLKJIGGGGGGGHHHKNOPPPQQQPONMLKKKKJJIIHHHHFAAAAAAAAAAAILNOPPPPPPPPPONMLJIHGGGGGGGHHHHIIIIIIIIIIIIIIIIIHHGGFEEDDDDDDDDDCAAAAAAAAAAAlgTOaUYKKKSWWUafefhmtypaLTNKZdfZSKLXZcOgjlnnmlknqlmusmqXxspgcSipqp1263zworuwurmbhljklpwtvytonllZUllcpoonrmvvuroopsoZjtqWdigmrruxuonmlllieSimpsuxwvphYVbjkkkkkkkjebceghhhgfeeffffdaXWXcjkkkjeZXXXYZaceffikkkibTMKKPVbOAAAIIOPQQPPONPTXZaaZXUOKJIIJKLMOQSTUVVUTSROLJHHHIKNOONNMMLKJJJJJLMNOOPQQQPOMKIHHIKMPklmmmmmntx13331xtnONMLKKJIIIJLOSUVUSOLJIHGHHHGFEEEFGHJLMLJHGFFFFGHIIIIJKMQTVVVVVTROLJHDAAFIJKLLLKJIHGGGGHHIJKLNOOOPPPPONMLKKKKJJJJIIIIIIAAAAAAAAAAAHLMNOPPPPPOOOONMKJIHGGGAGGGHHHHIIIIIIIIIIIIIIIIHHHGGFFEEDDDDDDDDDDAAAAAAAAAAmgTNYXXKKKSVUTZfeginuzrdMTNKYceZRKMYadOgjlmmllknplmtsmqgytqhdJhpqo1263zwortvuqmhfjiklqwtuxtpomlZTmmdpponrsuuspmnpsodmerQligmqqtwuinmmmmieRilpruwvuogSVcnkkkkkkkhbYaeikkkkkiiihgfcZWUWckkkkhaTRRUXZcfijkkkkkkfSKKKNYfOAAAIIOQQQPONNPTWZaaZXTOKJIJKLMNPRTTUUUTSRPNKIHHHJMOQPONMLKJIIIIKLNPQQSSSRRPNLJIIJLOQklllmllmsx01110xsmMLKKJJIHGHIKNRTUUSPMKJIIJJJJIHGGHHIJKLKJIHHGGHHHHHHHIJLOSTUUUUTROMJHECCGHJKLLLKJIHHHHHIIIJKLMNNNNNNNNMLKKJJJJJJJJJJJJIIAAAAAAAAAAILMNNOOOOONNNMMKJIHGGGFAGGGGHHHHIIIIIIIIIIIIIIIHHHHGGFFFEEEEEEEEDDDDAAAAAAACnhTMWcVKKKRUTSXeegjnv0ugOTNKYbdYRKMYbePgjkjllkkmpklssmrrzurjeJhopn0153zwoqtutqlgeihkmpxtuxuqpmlZWmneqponrtutrnlkqsokrVrRmihmqpsvtfnmmmmieRhlortvutnfLUbjkkkkkkjgdadgjkkkkkhhiihgecZYZdikkjfaWVWYbcehiiikkkkkfULKKPXeOAAAIIPQQQPONNOSWZaaZXTAAAAJKMNOQSTUUUUTRQOMJHGGAAAQRRANAAAAHGHIKMOQRSUVUTSRPMLJJKMPRjkkkkkklrwxyyyxwrlKJJJIIGFFGHJMQTUTSPMKKKKLLLLKJJIIJJJKKKJJJIIIIHHHGGGHIKNQSTTUUTRPMJHEDDFHIKLLLKKJIIIIJJJJKKLLMMMMMLLLKJJJIIIJJJJJJJJJJJJGAAAAAAAHJLLMMNNNNMMMMLKJIHGGFFFAFGGGGHHHIIIIIIIHGFEAAAFHHHHHGGGGGGGGGGFFFFEEEEFEDDAAohSLUbUKKKRTSRWdehkow1wiQTNKXacYRKMZcePgijbkkkjmojksrmrx0wskeJhnom0153zwoqtutpkfdhhknrxstxurpnlYbnofrponrtuspmkhqsostVsRmjhmqprutfnnmmmjeRhkoqsvusmeKUZgkkkkihhgedfikkkkkjhhiihhgecbbdfggfdbZZbdfghiigfjkkkkfWOKMRXcOAAAIIPQQQPONNOSWZaaZXTOKJJKLMNPQSTUUUTSQPNLIHGGHKPSTSQNLJIHGFGHKNQSTUWXWUTSQOMKKMOQSSSQNJGGjprstttsrpjIIHHHGFEEFGHLPSTTSQNLLLMNNNNNMLLKKKJJKKKKKKKKJIHGFFFGHJMPRSSTTSRPMJHFEEFGIKLLLKKJJJJKKKKKKKLLLKKKKKJJIIIIIIIIJJKKKKKKKKKKIAAAAHIJKKLLMMMMLLLLKKJIHGGFFFFFFFGGGHHHHIIGFEAAAAAAAAAAEHHHHHHHHHHHHHHHGGGGGGGGGGGGpiSKSZSKJKQSRPVcehkpx2ylRTNKWZbXRKNadfQgijWkjjjmoijrrmry1xtlfJhnomz053zwoqstsokdcfgknsxssxvsqnlYhnpfrqonrttsokjhqtpttVsTnjhmpoqusinnnnmjdRhkopsutrldOTXdhhgfeeefffikkkkkkjggiiihihgeddcbbbcccdgikjkkifdgjkkjfYSOQTXaOAAAIIPQQQPONNOSWYaaZXTOKJJKMNOPRSTUUTTRPOMKIGGGILQTUTQNKIHGFFGHKNRTUWXYXVUTRPNLLNPRTTSQMIFFjjlmnnnmljjHGGGHFEEEEFHKOSTTSQNMLNOPPPPPPNMMLKKJJJKLMMMMLJHGFEEFGILNOOAAAANMKIGFEEEGIJLLLKKJJKKLLLLLLLKKJJJIIIHGHHHHHHHIJJKLLLLLLLLLLLAJKKKKKKLLLLLKKKKKJJIHGGFFFFFFFFFGGGHHFEAAAAAAAAAAAAAAAAGHIIIIIIIIIIIIIIIHHHHHHHHHpiSKQXRKJKQSQPVceilqx2zoMQRSVVUTUVhpkeaekpdnkgehjgkcokrwxnwrnNjhedkosy1321xsjprutpljjklnpu03zwsoopliturrqnjiijVmnlhnrYzkzyxurkpsusuxzsyqfajmoqrrjoqohhbadcaaZacehikkkkkkkifghjjikkjhgdZXWXadfhkkkkkkidbegiihfaVSTVXZOAAAIIPQQQQPOOPSWXYYYWSOKJJKLNOPQRSTTSRQPNMJHGFGILQTUTQNKIHGFGHJLNQRSTVWVUTSRPNMMOQSTTSQMHFFFGIKLLKAJJJHGGGGGEEEFGILPSTTSQNMLMOOPOPPONMMLLKJJKLMNOOONLJIGFFFFFGAAAAAAAAAAHGFEEEGHJKLKKKKKLMMMMMMLLKJIIHHGGEADFGGGHHIIJKLMMMMMMMMMMLLKKKKKKKKKKKJJJJIIHHGFFFFFFFFFFFGGGFAAAAAAAAAAAAAAAAAAAAFIIJJJJJKKKKJJJJJJIIIIHHHqjSKPVPKKKPRPOUceilqy31qPRRSWVUTUVhpkeafkphokhfhkhmUolswxnwsoSjhfdkosx0321xsiopsspljklmnpu03zwsooojgrtrqqnjiijVnnliosYzvyyxvskpsuutxyrxrgbjmnprqjoqohiaWZXVUVWZeikkkkkkkkhffhjjjkkkkieXSRTYeikkkkkkkhcZbdfgffcYWWXXXOAAAIIPQQQQQQQRTVWWWWURNLJJKLMNOPQRRRRQPONLJHGFGHKPSTSPMKIHGHIJLMNOOPQRSSSRRQPONNOQSSSRPLHFFFFHJKKKAKKJIHGGGGFFGHIKNRTUTSQNLKLMNNNNNNMMLLLKKKLMOPPQQPNLJIGECAAAAAAAAAAAAAGGFEEFGHJKKKKLLLMNNNNMMMLKJIHGFFAAAADFGGGHHIKLLMMMMMNNNMMMLLKKKKKKKJJJJIIIIHGGFFFEEEEFFFFFFGEAAAAAAAAAAAAAAAAAAAAAAGJJKKKKKKKKKKKKKJJJJIIIIqjTKNUOKKKOQOOUceimry32tRRRSWWUTTVhpkeaflqoolhfiljnRplsxynxtpckifdkorx0221yrhnorrolklnnnou040wsonnifqsqppmiiijVnomjptZzyyxxvskpsuutwxqxrhcknnoqpioqpiiaWZWUUVWZdikkkkkkkifddefggijjigcWTRTXcgikkkkjhdZXZbdeecaXVUUUVOAAAIIPPQQRRRRSTVVVUUSQAAAKKLMMNNOPQQPPONNLJHGGGHKOQSRPMJIHHIJLNNMMMMMNOPPPPPPOOOPRSSSRPLGFFFFGIJJJAKLKJIHHHGGHIJKMPTUUUSPMKJKKLLLLLLLLLKKKKLLNOPQQRQPNLJIGGGEAAAAAAAAAAIIGFFFFGIJKKLLLMMNNNNNNMMLKIHGFFEAEDEFFGGGHHIKLLMMMMMMMMMMLLKKKKJJJJJIIIIIHHHGFFEEEEEFFFFFFFGGGFDAAAAAAAAAAAAAAAAAAAHJJKKKKLLLLLLLKKKKJJJIIIrkTKMSMKKKNPNNUcejnry34vTSRTXWVTTVhpkeaflqsplhgjmkpWqlsxyoyuqnlifdjnrwz221yrhlnqrnllnooeou040xsommgdorpoomiiikWopnkqudzxxxxwtkpstttwxpwrhcknnoppioqpijaWYWUTUWYdikkkkkjhfcaabccdefggebWTSUWadfggfedbYWVWYbccaYVUTSRSOAAAIIPPQQRSTTTUUTTSRQOMLKKKKLMMMNNOOONNNMLJHGGGHJNORQOLJIHIJLOPOMKJIIIKLNOOPPPOPQRSSRQOKGFFFFFHIIJALLLKIHHHHHIKLMORUVUTROLJIIIJJJJJKKKKKKKKLMNPPQQRRPOMKJHGGGIJAAAAAAIKIHGGGGGHIJKLLLMMNNNNNNMMLLKIHGFFEAEEEFFGGHHIJKKLLMMMMMMMKIHIKJJJJJJIIIIIIHHHGGFFEEEEFFFFFFFFFGGGGHEAAAAAAAAAAAAAAAAEIIJJKKKLLLLLLLKKKKJJJIIIrkTKLQKKKKNONNTcfjnsz35yWTSTXWVTTUhokfbgmrtqmigknlqfqlsxyoyvrolcgejnqwz111yrgkloqnlloqoPou040xsomlfcnpooolihikWopolrvizxwxywtlpsttsvwpwridlnmnpohnrqjjbWYVTTUVYdikkkkihfcaYYXYZaabddcZVUTUVYbbbaZYXUTTTUWYaaYWUTRPPPOAAAIIOPQQSTUVVVTSRQPPNMLLKKKLLLLLMNNMMMMMKIHGGGHJMNRPNLJIIIKNQRPLIGFFFGILMNOPPPQRSSRRPNJGFFFFFGHHIJLMMLJIHHHIKMNOQTVVUTROKIHGGGHHHHIIJJJJKKLMNPPPQRRQONLJIGGGIKMMAAAKKJHHGGGHHIJKKLLMNNNONNNMMMLKJIHGFEEEEEFFGGHHHIJJKLLLLLLLJHAAAAGHJIIIIIIHHHHHHHGGFFEEEFFFFFFFFFFFGGGGGGEAAAAAAAAAAAAAAFHIJJKKKKKKLLLLKKKKJJJIIIrkUKKPKKKKMNMNTcfkosz470USTRSYZYVSbjlptxtpkbegbclproqpkswvuussqcvqnwyorwwqutpmifebkrxzsPhlrwjtvtquvx0xtpnqrrpnofrwz0zpwtuvuv3452zvruvurnkignquurohjmjfaXXUTSUVYdikkkjhfdaXWVUUWXXXZbaXVUUUVWYYWUSSQOOPRRTWYYWUSSPNMNNAAAIIOPPQSTVVVUTRPPONMMMLLKKKLKKKLMMLLLLLKIHGGGHJMMQPNLJIIJLORSPMIFFFFFGJLMNOPQQRRRRQONJGFFFFFGGHIKMNNLKIHHHJLNOPRTVVTSQMJHGFFFGGGGHHIIJJJKLMNOPPPQQQONMKIHGHIKMNOLMLJIHGGHHIIJJKLLMMNNOONNMMLLKKJIGFFEEEEFFGGHHHIIJJKKKLLKKHAAAAAAAFHIIHHHHHHHHHHGGGFFEEFFFFFFFFFFFFFGGGGGFEAAAAAAAAAAAACGHIIJJKKKKKKKKKKKKJIHFEGIqkUKKOKKKKLNMNUdfkosz371WTTRSYZYUSajlptxtqkbShcdmqsrqpksvuuutsrXvqmvxnrwwrvuqnjgebkrxysOhlrvjtvurvwy0wsinqrsqnoeqvyzzvwtuust2342zwsuutpmjhfmquuspiknkgbXWUSSTVYdikkjhfdaXVUTRRSTTTWZYWUVVUUUWVRNMMKKKMOPRUXWUSRQOKKKLAAAIIOOPQRSTTTTRQPONNMMMMLLLLLLKKLLLLLLLLKIHHHHIKMLQPNLJIIJLORSQNKHGFFFGIJKMNPPQQQQPONMKIHGGFGHHIJLMNNMKIHHIJKMNOPRSSRPNLIHGFFFGHHHHIIJIIIJKKLMNOOPPPONMLJIIIJLMNNMLKIHGGGHHIIJKLLMMNNNNNMMLLLKKJIHGFFFEEFFGGHHIIIJJJKKKKAJHAAAAAAAAAFHHHHGGGHHHHHGGFFFEFFFFFFFFFFFFFFFGGGFFEDAAAAAAAAAAADGHHIIJJKKKKKKKKKJHAAAAAAApjVKKNKKKKKMMOUdglosy383MUTSTYYXTRZilpuyuqkcKidenrtsqpjruututtrYwqltvmqwwrxvsokhebkqxyrOgkqvjtwvswxy0wrdnqssqnoepuxyyxvsturr02320xtvuroljhfmquvtrjlnkgcZXVTTUVYdikkkkigdaXVTRRSTTUWZZXWWXWVWWWTQOOMKKNOPSWZZYWUTRONNOAAAIINOOPPQRRRQPPONNNMMMMMLLLLLLLLMLLKKLLKJIIIJJLNLQPNLJIIJLOQRQOMKJIHGGHIJLMOPPPPONMMLKKKJJIIIIJKMNOONLJIHIIKLMNNOOONMLJIHGFFFGHHIIJJJIIHIIIJLMNNOONNMLLKKJJKLMMMLKJIHGGGHHIJKLLMMNNNNNMMLLKKKJIIHGFFFFFFGGHIIIIJJJJKKKJAHAAAAAAAAAAFHGGGGGGGGGGGGGFFFEFFFFFFFFFFFFFFFFFFFFEDCAAAAAAAAAADGGHHIIJJKKKKKKKIGAAAAAAAApjVLKNKKKKKLMOVegloty284JVUSTZYWSQZikpuyurlcLjegosutrpjruttuttsZxqksukqvwsyxtplheakqwxrNgjpujtwvtxxy0vqdnrsmroodotwyxxvsttqqz1320mvwuqnkigemquvusklnkgdaYWUTUVYdikkkkkjgcYWUSRSTTUXaaZYYYXXXXXUSQROMLNOQUYbcbaXWUSRQOAAAIINOOOOPPPPOONNNNMMMMMMMMMMMLLLMMLKKKKKJIJJKKMNAPONLKJJAAAPQQPONMLKIHHHIJLNPPPOMLKKLLJNMMLKJJKLNOPPNLJIIIIJKLMLLLKKJIHHHGGFGHIIJJKKJJHHAAAAAAAMNNMMLLLLLLLLMMMMLKJHGGGGHHIJKLMMNNNNNMLLKKKJJIIHGGFFFFFFGHHIIIJJJJJJJJJAIGAAAAAAAADGGGGFFFGGGGGGGGFFFFFFFFFFFFFFFFAAAFFFFEEDDAAAAAAAAAAEFGGHIIJJJKKKKKKJGAAAAAAAAojWMKMKKKKKKMPVeglpty296JVUSTZYWRPYhkpuzvrldMkghptvtrpjrtttusutaxqkqsZpvxtzyvqmifajqwxqSfjpuitxwuyyz0vpjnrtgroodnsvxwwusssoox0210awwuplihgelquwgulmokhebZXVUUWZejkkkkkkjfaWUSRSTSUXabaZZZZYYYXWUTTQNMNORVaeffebZYWVTOAAAIINNONNNNNNMMMMNMMMMNNNMMMMMMLMMMLKKKKJJJKKLMNOMPONLKJJKLNPQQRRQPOMJHGGGILNOOOMLJJJKMNPPPNMLKLMOPQPOMKJIIIJKKKKIHHHGGGGHHGGHIIJKKLLKJHGFFGGIKLMMMLLKLLMMMMMMMMLKJIHGGGGGHIIKLLMMMMMMLLKKJJJJIIHGGFFFFFGGHIIIIJJJJJJJJIAIIIGEAAADGGGGGGFFFGGGGGGGGGFFFFGGGGGGGFFFFFGGGGGFFEEDAAAAAAAAACFFGGHIIJJJKKKKKKKKKIHFAAAFniWNKLKKKKKKMPWfhlpty297PWUTUZYVQOXhkpuzvsmdNlhiqtwuqpjqtstuluueyqjprPovxt00wsnjfajqvwqdfiotiuxxvzzz0uomnrteroncmruwwvursrnnwz211bxxtokcgfdlqvxYvmnolhfdbYWVVWZejkkkkkkkhbXVSRSSSUYbbbbbbaaZZYXWVVSPNNORWcgijiebbaZXOAAAIINNNNMLLLLLLLMMMMMMNNNNNNNNMMMMMLKKKKKKKLMMNOPNPONLKJJKLMOPQSSSSROLHFFFHKMOONLJIHIJMQSSRQOMLMNPQQQPNLJIIIIJKJIGEEEEEEGHHHHIJJKLLMMLJHGFFFFHJLMMLLKKKLMMMNNNMLLKJIHGFFFGGHIJKLLMMMLLKKKJJJJIIIHGGFFFFFGGHHIIIIIIIIIIIIIIIHHHHGGGGGGGGGGGGGGHHHHHGGGGGGGGHHHGGGGGGGGHHHGGGFFDAAAAAAAAAEFFGGHIIJJJKKKKKKKKKKJJJJJJlhWNKLKKKKKKMQXfhmpsx197bUSVYYSRNLVlkhilnoppRpnmlmqsdosrnnppXfunjurnmSqqsvzonrrtqkoptupljklpsvxyyysvyzyzzxoismkqrstttgnppbrsttvwvV01ppseihgfcjoUvwuokmiccZXVVWafjkkkkkkkjdYVSRRSSUYbccdcccbaaZYYXXVRONOSYejkkkiefecaOAAAIINNNNMLKKKKLMMNNMMNNNNNNNNNNNNNNNMMMMMMNOOPPPPPONMLKJJKKLNOPRSSSRPLHFFFHKMOONMKIIIKNQSSRQOMLMOPQQQPOMKJJJJJJJIFEEEEEEGHIIIJKLMNNNNMKIGFFFFHJKLLLKKJKKLLMMMMLLKJIHGGFFFGGHHIJKLLLLKKKKKJJJJJIIHGGFFFFFFGGHHIIIIIIIHHHHHHHHHHGGGGGGGGGGGGGGHHHHHHHHHHHGEFHHHHHHHHHHIIIIHHHGGEAAAAAAAADFFFGGHIIJJJKKKKKKKKKKKKJJJJjgWOLMKKLKKKMQXfhmpsx087fTRUZZTROLVXkghkmoqqSpmkjjnqTosrnnppORtvitrnmSqqswzonqqtropqturnllmosvxyzztwzzyzzxonsljpqrttthnppcrstsuvuV02qptbjifebinTuvunjmibbYVUUVZfkkkkkkkkhcYWVUVWWXZbccbbbbbbbaaZZYVROMNRYgkkkkhddcaYOAAAIINOONMLLLLLMNNOONNNNNNNNNNNOOPPPPQQPPQRSSSSSRQONMLKKJJJJKLMNOPQQPNKIGGGILNOPONLKKKLNPQQPONMLMNPQQQQPNLLKKKKKJIGEEEEEFGIIJKLMNOPPPONMKIGFFGHFAJLLKKJJKKKKKKKKKKJIHGFFFFFGGHHIJKKKKKJJJKKKKKJJIHGGFFFFFFFGHHHIIIHHHHHHHHHHHHGGGGGGHHHGGGGHHHHIIIIIIIIHEAAEFGHIIJJJJJJJJJIIIGECAAAAAACEFFFGHHIIJJKKKKKKLLLKKKKKKJJhfWPMNKKMKKKMRYghmpswz77eSQUZaUSOMVNkggjmpqqhpljhhkoRpsrmnooNQsugtqnmSpqsw0pnqqutrrruvsommmoruxy00uxzzxyzxnurliooqstuhnpmcrststutV02qquajifdbgmStutnjlhaaXUTTVZfkkkkkkkjfbYXXYZaaabccbaZZZabccbbaaWRNLMRZhkkkkgbbaYWOAAAIIOOOONMLLLMNOPPPONNNMMMNNNOPQQRRSTTTTUVWWVVUTROMLKKJJJJJJKKLMNOONMJIHHIJLNOPPONMMMMNOONNMLLLLNPQQRRQONMMMLLLKJHFEEEEFHIJKMNOPQRSRQPNLJHGGGDAAAKKKJJJJIIIIIJJJJIIHGFFFFFFGGHHIJJJHAAAAGJKKKKJJIHGFFFFFFFGGHHHHHHGGGGGGGGGGGGGGGGHHHHHHHHHHIIIIIIIIJHFAAAAAAAFGHJKKKKKKKKJIGEDAAAAAADFFFGGHHIJJJKKKKKLLLLLLKKKKKKfdWQNKLMNKKKMRYgimpsvy67cQQUZbVSOMWNkfgimprrrpkhfehlQpsrmmnnMPrtfsqomSppsw0pnpquuttsvwtponmoruxy01wz0zxyytntqkinnprtuhnpicrttrsttX02rrucjifdaflRsusmilhaZWTSSUYfkkkkkkigdaYYZbdeeddcbaYYYYabcdddcbXRMKKQZikkkkgaZYWUOAAAIIOPPPONMMMNOPQQQPONMMMMMNNOPRSTUVXXXWYabaZYXVRNLKJJJJJIIIIJJJKLMLKJIIIJKMOPPQQPOOONNMLLLAAAALAOQQRRRQOONNAAAAJIGFFFFGHJKANPQQSTUTSQPNKIHHFAAAAAKKJJIIHHHGHHIIIIHGGFFEFFFFFGHIIIEAAAAAAAHKLKKJIHGFFFFEEFFGGHHHHGGFFFGGGGGGGGGGGGHHHHHHHHIIIIIJJJJJIFAAAAAAAAAAAAAHIJJJIIHGAAAAAAAAADFFFGGHHIJJJKKKKLLLLLLLLLKKKKdcWROMNOPKKKNSZhimprux67bPPTacVTPMWNkffhmplsrpjgdcfkPpsrmmnmLOprerqomXppsx1pnpqvvuutvwurqonnquxy12x010xyyentqkhmmortuinpdcstsqrssk02rsvgkifcZejVrtsmikgZYVSQRTXfkkkkkhfdbaZacehhhgecbZXWWXZcdeeedcYRMKKQakkkkkfZYWUSOAAAIIPPQPONMMMNPQRRRQPNMMLMMNNOQSUVWYbbbacfgecbaXSNKJIIJJJIHGGHHHIJJJIIIIJKLNOPQRRRRQPPNLJJIIJJKLAOPQRSSRQPPPONMLKIHGFFGHIJKAPRSSUWWVTSROMJIHHAAAAFJJJJIHGFFFFFGHIHHGFFFEEFFFFFGHHIFAAAAAAHKLLLKJIHGFFFEEEEFFGGGGGGFFFFFFGGGGGGGGGHHHHHHHIIIIIJJJJJJKIGAAAAAAAAAAIKLMMMMMMLKJIHAEDAAACDEFGGGHIIJJKKKKKLLLLLLLLLLKKKbaWSPOOPQKKKNTahimpruw57WMOTMdaTKOXJdegjosipnjbVagmvWsqoooonONlnqsupncgosvwxqhfjmajtyy1yxxwurrxzyz5ztqnopSokgghfdmsxzwscUqtusolkosrlzxukieVZhmtnpmimookdYURPQSXfkkkkiecbZZZbeikkkjgdbYVUVWZcefggfdZSLKKPakkkkkeYWURQOAAAIIPQQQPONMNOQRSSRQPNMLLLMNNPRTVWXadeddfijhedcZSMJIHIIJJIGFFGFFGHIIHHIJKLMOPPQRSTSSRQNKIHHHIJJKAOPQRSTSRQQQPOMLLJHGGGHIJKLOQSTUVXXWUTSQNKJIHDAAAFJJJJIHFFEEEFGHIHHGFFFEEEEFFFFGHHGAAAAAHKMMMLLKJHGGFFFEEEFFGGGGGFFEEEFFFGGGGGGGGHHHHIIIIIIIJJJJJJKJHAAAAAAAHIKLMNNNNNNNMMMMLJAGFEDDEEEFFGGHHIIJJKKKKLLLLLLLLLLKKKZZWTQPPRRKKKNTahimoqtv35WNPTLbZTKOXJdegjnrfomibVagmvZtqopponONlnqtwrpmhosvwxrigXmaiswwzyywwurqwyxz52trnooRnjfghgensxyvrcRruvtpmkosqlzxvpjeVahmtspnjmoolfaXUTTUYekkkkigedbaabdfhiiigedaXVVWXZbcdeeeaVQNNSaikkkibWVVUUOAAAIIPPQPONMMMNPQRRRQOMLLLMNNOPRTUUWYbcbbdfgfcbaXSMJIIIIJIHGFFGFFGIJJJJJKLLMNOOPQSTTSSROLIHHHIJJKANOPQRRRQPPPONMLLJIHHHJKMNOQRSSSTVVUTRQOMKIHHDAAAAIJJJJIHHHGGGHHIHHGGGFFEEFFEFFGHHGDAAAGJLMMMLLKJIHGGFFFFFFFGGGGGFFEEFFFFGGGGGGGHHIIIIIIIIIIIIJJJIHHGAAAAAIJKMMNNNNNNNNNMMMMLLAIHGGFFFFFFEEEEEAAAAHKKKKLLLLLLKKKKKYXVTRQRTTKKKMTahimoqsu13WOQTKZYTKPXNcegjnpfmlicVaflvfurpppooPRlnquxtrnhotuwxrjhNmZhruuyyyswtrqwyxz53uroooPmjfgigfnswyvrcPruwuqnlorpkzyvqjfVahmtspnjmoomhcaXWWXZdhkkkjhgfdbaabcdefghgfdZWVVVXYabdeecYVSRVafijhdYUVVXXOAAAIIPPPONMMLMNOPQQQPNMLLMMNOPQRRSSTVXYYYZbcaYXXVRNKJIIIIIHFFFGGGIJKKKKLLMMMNNNOPRSTSSRPMJIIIIJKKANOOPPPPONNNNMMLLKIHHJLNPQRSSSRQRSSRQQPNLJIHGCAAAAIJJJKKKKKKJJJIIIIHHGGFFFFFEFFGHHHFAAGJLLMMMLLKKJIHHGGGFFFGGGGGGFFFFFFFGGGGGGHHHIIIIIIIIIIIHHGFFFFFGGHIJKLMMMMNNNNNNMMMMMMLLKAIHHGGFFFFEDCAAAAAAAAAGAKKKKKKKKKJJJWWVUSRSVULKKMTaiilnprtz1VPQTKXXSKPXacegjmoillicVaflvkusqqpplPilnrvzwtoiotuwyskiNmZgqssxxyuwtrqvxwz63usoonRliegihgoswxurcRrvwvromorojzywqjfWahmusqnjmoonjedbaZZbdfhijjjihfdbaaaaacfhihfbXVVUUWXZbefecZXWYacddbXUSUWZbOAAAIIOOOONMLLLMNOPPOOMLLLMNOPQQQQQQQSTUUVWWWWVUUSQNLKJIIIHGFFFGHIJKMMMMMKJMMMMMMOQSTTSSQNKJJJJJKKAMNOOONMMLLLLMLLLKJIIKNQSTUUTRPNOPPPOONLKIHGGCAAAAGIJKLMNNONNMKJJIIIIHHGFFFFFFFGHAAAGHJLLLMMMLLLKJJIHHAAAAAAAAAAGGFFFFGGGGAAAAAIIIJJJJJJIIIAAAAAAAAAGHJLLLMMMMMMMMMMMMMMLLLLKKJIHHGGGGGFECAAAAAAAAAAAAAGJJJJJJJJJJUUUUTRTWWMKKMTaiilnpqsyyVPRTKWWSKPXfcdgjmnnkkicWaflvovsqqqpkPnlnrw0yupiptuvytljNmZgprqwxyywtrpvxwz63vsonmZjhdgihhpswwurcVsvxwspnprnjzzxrkfWahmusqnjmooolhgedccccdegikkkjhecaYXWXZeikkidYWUSSTUWadfgfecaaaZYXVSRQTXcfOAAAIIOOONMLLLLLMNOONMLKKLMOPQRRQPOOOOQRRRSQRSRRRQPNMLKIIHHGFFFGHJKMNNOOLAAAMLLLLNPRSTTTROLKKJJKKAAJLNNMLKKKKKKLLLLKJJJLPTVWXWURNLLLMMMMLKJHHGFCAAAADIJKMOPQRRQOMKJJJJIIHGGFFFFFFGHHHIIJKLLLMMMMLLLKJJIIFAAAAAEGGGGGGFFGGGGHHHHIIIJJJJJJJJJIAAAAAAAAAEHJKLLLMMMMMMMMMMMLLLLLLKKJJIHHGGGGGFDAAAAAAAAAAAAAAAAFIIIIIIIISTUUUSVYXNKKMTaiilnoqrwwUQJTKUVSKPXecdgjlmnjjidWaekvqwtrrqqlVnlnrx20wqjptuvyumkOmZfopovwyywtrpuwwz64vtpnmhigdfiihqtvvtqcdswxwtqnpqnizzyskfWahnutqnjmoopnjjigfedcbbdhkkkkjfdaXUTTWcikkkeZWTRPQRUYdghjihfdaWTRONNPSYeiOAAAIIONNMLKKKKKLMNNMLKKKLMOQRRRQOMLLLMNOPPPPOOOOOOONMKJIHGFFFFHIKMNOPPPMAAAMLKKKLORSTTTSPMLKKKKKAAAHJKLKJIIIIJKLLKKJJKNRWYZZYVQMJIIJJKKJIIHGGFEAAAAEIJKMPSTUUTROLKKKKJJIHGFFFFFFGHHHIJKLLLMMLMMMMLLKKJIFAAAAADGHHGGGGGGGHHHHHIIJJJKKKKKJJJGAAAAAAAAAFIJKLLMMMMMMMMMMLLLLKKKKKJJIIHHGGGGGGEAAAAAAAAAAAAAAAAAEGHHHHHHQRUVUTWaYOKKLTaijlmnpquuKNJOORTURPZikmoqqqnjnlhfeidosz0yupimcifnqsuvtimptwzwrnlMlmnpqtxyruvshqsrk0431vpnkgcSUZcWjnsvspljpuz0ytlprsvy20punifilmopokannnmkjjihgffeddegijjigedbZXWWZdikkieZWVTSSTVYbdfhhhgebYVSPNNORWdgOAAAIINNNMLKKKKKKLMMMLKKKLMOQRRRPNMLKKLMNNNNMMMMMNNOONLKJIIHGFGIJLNPQQRRQNLALKJJJLNRTTUUSPMLKKJKJAAAIKLKJIIHHHIJKKKKKKKNSXZaaYVPLIHGHIJJIIHHHGFEDAADGHAKNQTVWWVSPMKKKKKKJIHGFFFFFGHHIIJKLLMMMMMMMMMLLKKJIGAAAEGHHHGGGGGGHHHHHIIJJJKKKKKKKJJEAAAAAAAADGIJKLLMMMMMMMMMLLLKKKKKJJJIIHHHGGGGGGGECAAAAAAAAAAAAAAADEGHHHHHPRTVUSWaZOKKKSaiiklnoqsrKNJNOQSTRPZjlnqrrrnkeligKjeouxzxupimnjgoqtuvsimpsvxvromMlmnpqtwxquurhprqjz321vpolhdUWbeYkosvrpkjpu00ytkortwz20punjgjmnoonjQlmmlkjjjihgggffffgfffedccbaZacfhiihdZXWVVVWWXZacfhhhfdZWUQNMNPUbfOAAAIINNNMLKKKKKLMMNMLKKKLMNOPQPONMLLLMNOOONNMMMMMNOOONMMLLKJIIJKMPQRRSRQONALKJJJLORTUUTSOLJJIIJHAAAJMMLJIIIIHIIJJJJKKLOSVXXXWSOKHGGGHJJJIIIIHGFFEFGGHALNQSUUVUSPNLLLLLLKIHGGFFFGGHHIIJKLLMMMMMMMMMMLLKKKJIGGHHHHHHGGGGHHHHHIIIJJKKKLLLKKKJAAAAAAAAAEHIJKLLMMMMMMMMLLLKKKKJJJJJIIHHHGGGGGGGGFEDAAAAAAAAAAAACCDEEFGGGPQTVUSWbaOKKKRZiiklmopqpKMJMNPRTQPZjmprtssnkSligKkfouwyxtpjnnkhpruuushloruvurpnNklmpqtwxpturgpqpiy220vqolieVYefZlpturokjpu00ytkortx030pvokhknopomiLkllkjjkjjhhiihhgfdccbccccddddeghhgfcZYXXXYYXXXXZcghhgebYVRNMMOTZdOAAAIIOOONMLKKKKLMNNNMLKLLLMNOOONNMMMNOPPQPONMMMMMNOOPPPPPOONLKKMOQRSSSRPOMAKJJJJLORUUUTRMJHHGHIFAAAJMMLKJJJIIHIIIJJKLMOQTUUUSQMJHGGGHJJJJJJJIHGGFFGGIALNPRSSSSRONLLMMMLKJHGGGGGGHHIIJJKLLMMMMMMMMMMLLLKKKJJIIIHHHHHGGGHHHHHIIIJJKKKLLLKKKIAAAAAAAACFHIJKLLMMMMMMMLLLKKKJJJJJJIIIHHHHGGGGGGGGGGGFEDDDDDDDDDCCCCDDDDDNPTVUSWcaOKKKRZiijklnppmKMJLMPRSQPaknqtvusmkPlihLlgpuuwwtpjooliqsuuurhloqsttrqoRkkloqtwwpttqgoqpix110vqpmifXaghbmqtuqokjpu00xsjnsuy130pvpliloppolhJjjkjijkkjiijkkjhebZYYZbcdeggghhgfedbZYYZabbZWVUWafhiigdaXSOLLNRXbOAAAIIOOONMLKKKKLNNONNMLLLLLMMNNNNNNOOPQRRQQONMMMMNOOPRRSSSRQOMMNPSTTTTSPNMLKJIIJLOSUVUTQLHGFFGGAAAAJMNMLKKJJIHHHIIJKLMOPRRRQPNKIHGGGIJJJJKKJJIHGGGGHIJLMOPQQQQPNMALMMMLLAAAAAAGHIIJJJKKLLMMMMMMMMMLLLLKKKKJJIIIHHHHHAAAAHHHHIIJJKKKKKKKKKHAAAAAAAAEHIJKKLLLMMMMMLLLLKKKJJJJJJIIIIHHHHHHGGGGGGGGGGGGGGGFFEEDCCAAAAAAKPTVUSXcbPKKKQZiijjlnonjKMJLLOQRPPahorurvtdkPljiMnhpttvvtpjopljrtvvurhknprssrrpYkkloqtvwossqfnpohx01zvqpnjgYcijcortupnjipu01xsjnsuz241pwqljmpqpokgJiijhikkkkjjkkkkidZWUVXacegijjkjgedcaZZabdedaWTRTYehjjhebYTOLKLPVZOAAAIIOOPONLKKKLMNOOONMLLLKKKLLLMMNOPQRSSSSRPNMMMMNOOQSUVVVVUSPNORTUUUUSPNLKJIIIJLPSVVVTPJGFFFFFAAAAJNNNMLLKJIHGHHHIKMNOOOONNMKJHHGGHIJJKKKKKJIHGGGGHIJLMNNONNNNMLLJLMMMLJIHHHHHIJJKKKLLLLMMMMMKIIKLLLLKKKKJJIIIIHHHHGGGHHHHHHIIJJJKKKKKKKHAAAAAAAAFIJKKLLLLLLLLLLLLKKKKJJJJJJJIIIIHHHHHHHGGGGFFFFFFFFFFFFEDCAAAAAAAJOSVTSXdcPKKKQYiiijkmolhKMJKKNPRPPabptwpwuVkQmjjNojpssuutpkppmktuwvtrgkmopqrrsqekjkoqsvvnrspfnongwz0zvrqnkhaeklepsutomjipu01xsinsv0241pwrmlorrqnjfJhhjikkkkjhhggfedbaZZYXXYZbeghhgfdccbbabceedbYVTUXbdeedbZWSNLLMPTYOAAAIIOPPONMLKKLMOOPPONMLLKJJJKKLMOPQRSTTTSRQOMLMMNOPRUWYYYYXUQOQSUVVVUSPMLKJIIIJLPSVWVTOIFFFFFCAAAAINNNNMLLKIHGGGHILNOONMLKKJIHHHGGHIJJKKKKKKJIHGGGHIKLLMMMLLLLLLKILLMLLJIHHHIIJKKLLLLLLLLLLLJHAAAIKKKKKKKKJJIIIIHHHGGGGGHHHHHIIIJJJJKKKKHAAAAAAAAHJKLLLLLLLLLLLLLKKKKKJJJJJJJJJIIIIHHHHHHGGGFFFFFFFFFEEEEDAAAAAAAAKPTVTRWdcPKKKPYiiiijmokfKKKLMLOQRUfcoirotsSoQopoJjmmmpuzyytljopoqttmomjPilnpuwxuursrrrsstsrponmmmjkux0ywvnqrrjqmqpqrrspmgiostsrrttvupvwuqttqppnkjjNiiilmkkkigecZYXYZbddaXVUVXadffedccddccdeeeecZXVVWYZZZYXWUQMLMMOSWOAAAIINOPPONMMMNOPPPPONMMLKJJJJJKMOPQRSTTSSRPNLLLMNOPRTWXYYYXVRPQTUVVUUROMKJIIIIJLOSUVUTPKGFFFFFAAAHLMNNNMMLLJIHGHHJLNOONLKJIIHHHHGGHIIJJJKKKJIHGGGGHIJKLLLLLKLLLLLLLLLKJIHHHHIJKLMMMMMMLLLLLKKKIHJKKKKKKKKKJJJIIIIHHGGGGGGGGHHHHIIIJJJJKKIGAAAAAGIKLLLMMMLLLLLLLLKKKKKKJJJJJJJJJJIIIIIIHHHGGFFFFEEEEEEEEEEEEDDCAAAANPTVTQWdcPKKKPYhihhjlnjeKKKLMMOQRVfcniqtsrQnWopnJjmmnrv0yxskinpoqttmomjOilnpuwxwussrrrrstsqponnnmjkux1yxworsskqlrqrsstrohjoktsrruuvupvwtqutpoomlkkTihimpkkkhebXTRRTXdhidXTQQSVaccccccdeedefffedbZYWVUUUTTTUSOMMMMORUOAAAIINOOOOPPPPPQQQQPONMMLKJIIJJKMOPQRRSRRQPNMLKKLMOOQSUVVWWVURPQSTTTTSQNLKJIIIIJKNRTUTSQMJHGGGHHAHJLMMNNNMMLKJIHHIKMNONMLJJIHHHHHHGGHAIIIIJJIHGGGGGHIJKLLMLLLLMMMLLKKJJIHGGGHIJLMNNOONMLLKKJJJJJJJJKKKKKKKKKJJIIIIHHGGGGGGGGGGHHHIIIIJJJKJIHAAAIKLMMMMMMMLLLLKKKKKKKKKKJJJJJJJJJJJJIIIIIHHGGFFEEEEEEEEDDDDDEEEFFFFFOQUVSQVccOKKKOXhhhgilnjcKKKLMMPRRVffnhpssqTmjnonRilnosw0xwrigmooqttmomjOilnpuwxxusssrrrstsqoonnnnjjtx1zyxpstskrorrstuvspijohssrsuuwvpvwrqusomnmllkbhhjorkkkhdZTNKKOVekkgYQMLNRWaaabbcefffgggfeedbaXURQQOOPRQNLMNNNQTOAAAIIMNOOPQRSSSSRQQQPOMMLKJIIIJKMOPQQQQQPANMKKJKKMNOQRSTTTUUTRPQSSSSSRPNLKJIHHIIKMPRSSSROMKJJIIIIJJKLMMMNNMMLKJGFHKMNONMKJIHHHHHIHGGHAHHHHHIHGFFFGGHIJKLMMMLLMNNMMLKJIHGFFFGGIKMNOPPPONLKJJIIIIIIIJJKKKKKKKKJJJIIIHHGGGGGGGGGGGGHHHIIIJJKKJJIIKMMMNNNNNNMLLLKKKKKKKKKKJJJJJJKKKKJJJJJIIIIHHGFFEEEEEDDDDDDDDDEEFFGGGPRUVSPUccOKKKOXhhgghlnibKKKLMMPRSVflmgorrpYlmmnmahlnptx0xvqhflooqttbnliOhlnpuxxxvsssrrrstsqonnnonjjtx1zyyqtutlrrrrtvvxuqjkoissrsvvxvpvvkqusnlmllmlihgjqukkkgbWOKKKKTgkkjYOKKKNTXXYZbceghghhhffffdcZTOMLKKLOOLKMONNPROAAAIIMNNOQSTUVVUSRQQPONMLKIIIIJKMOPQQQPOOALKJJJJKLNOPQRRRRRSRQQQRRRRQPOAAAAAAAIIJLOQRSSSQONMLKKJJJKKKLLMNNNNMLIAAHLNNONLKIIHHGHHIHGGGAGGGGGHGAAAAGGHIJKLMMMMMNNONNMKIHGFEEEFGHKMOPPPPONLKJIHHHHHHIJJKKKKKKKKJJJJIIIHGGGFFFFFFFGGGGHHHIIJJKKLLMNNNNNOOONNMLLKKKKKKKKKKJJJJJJJJKKKKJJJJJIIIHHGGFEEEEEDDDDDDDDEEFAAAAAQRUVROTccOKKKOWhhffhlnhaKKKLMMPRSVfpmgoqqogllmnlZhknqvy1xvpfdknoqttNnliNhlnquxxxvttsrqrstrpnnnoonjjtx10zzrvvumssssuwxywskkonssrsvvxvpuvequsmkkllnliggjgtkkkheaTNKKOXikkkcUPNOQUXXYacdfiihiihgfffedbXTQPOOPRRPOPQPNOPOAAAIILMNORTWXXXVTSRQPONMLKIIIIIKMOPQPPONMAKIIIIIJLNOPPPPPPPQQQQQRQQPPOMLKJIIHHIIJKNPQRSTTRQPOMLLKKKKKKLMNNNNNMHAAALNOONLJIHHAGHIIHGGGAGFFFFGFEEEFGGHIJKLMNNMNOPPOOMKIGEEEEEEFHJLNPPPPOMKJIHHHGGHHIJJKKKKKKKKKJJJIIIHGGGFFFFFFFFFGGGGHHIIJKLMMNNNNNNOOONNMLKKKJJJJJJJJJJJJJJJJJJJJJJJJJIIIIHHGFFFEEEEEEEEEEEFFFGGGHHQSVVROTbbOKKKNWggfegknhZWZULaZbYRNUfhknoliegikmmnnqw131xpjkoso01zytRkiknqstuquwwirtssrsrqsqkkoogmvz20wqhrsnfuustvyuvtqmoqqnqpmimnhitwxxdujomjhknpnhedhRtkkkjheZUQPUbkkkkhaWUTUVXXYacehkjijjigfggfedaXVTTTTUUTSSTQONNOAAAIILMNORUXZZZXUSQQPONMLKJIIIJKMOPQPONMLAIHHHHIIKNOOONNNNOPQQQQQQPOONLKJJIIHIIIJKMOPQSUUTSRQOMLLKKJJJKLMNNNNLAAAALOOONLKIHHAHHIJIGFFFFEEEFFFEEEFGHIJKLMNKLMNPPPPOMKIGEEEEEEFGILNOOOONLJIHHGGGGGHIIJKKKKKKKKKJJJJIIHGGGFFFFFFFFFFFGGGHHIIJKLMMNNNNNNNNNMLKKJJJJJJJJJJJIIIIIJJJJJJJJJIIIIIIHHHGGGFFFFFFFFFFGGGHHHHHISUWWROSabOKKKOWggeegknhaVZULbcdaTPVgiloolffhikmmnnqw131woijosnz0yxtRlkmpstuupsuvisttsstsqsrkkoogluy10wqirsnfttstwyuvtpmoqqmqplhmmgisvxwatiomjhkmpmifeiRrkkkkjheaXVZgkkkkkgcaYXWWXZbdfikkjkkigfghgffdbZYXXXXXWVVVSPMMMAAAIILMNORUXYZYVTRPPONMMLKKKKLLMNOPAPONMLKJIIIIIIJLMMMMMMMNOPQQRQQPONMLJJJIIIJKKLMOPQQSTTRQQPONMLKJJIIJKLMMMLLIAAIMOPPONLKJJAJJKKJHGFFEEEEFGGFFFGHIJLMNOPLMMOPPPOOMKIGEEEEEEFGIKMNNNNMKJIHHGGGGHHIIJKKKKKKKKKJJJJIIHGGGFFFFFFFFFFFFFGGGHIIJKLMMMMNNNNMMLKKJJIIIIIIIIIIIIIIIIIIIIIIIIIIIIIIIIHHHHHHHHHHHHHHHIIIIIIIITVXWRNSaaPKKKOWffddfjnhbVYUMdefcVQXhjmppmffhjlnnnnpw141wnhinrmyzxwtRmlortuuuortuhsuttrtsrtrkkoogltx1zwrirsmessrtxzvvsplnpqmqplhmmghruwwZshnmjikmomiffiQokkkkkkkhebfkkkkkkkjheaXWXZcegkkkkkkjgfhihghhfdcccbaaaZYXUPLKKAAAIIMNNPRUWYYWURPONMMLLLLMMNNNOOPPAPONMMLKJJJAIIIKLKKKKLLMNPQRRQQPONMKJIIIJKLMMNPQQQRRSRPOOONNMLKJIIHIIJKKKJJIIJKMOQQQPOMLKLLLMLKIGFEEEEFGHHGGGGHJLNOPQRRQPPPPOONLKIHFEEEEEFGIJLMMMMLKIHHHGGGGHHIIJKKKKKKKKKJJJJIIHHGGFFFFFFEEEEEFFFFGGHIJKLLMMMMMMMMLLKJJIIIIIIHHHHHHHHHHHHHIIIIIIIIIIIIIIIIIIIIIIIIIIJJJJJJJJJJJVWXWRNRZaPKKKOVeeddfjnicUXUMeghdXSYiknppmkgijlnnnnpw241vmehmrmxywvsdnnqtvwvtnprthsuttoutstrkkoogltw0zwrirsmerrrtx0vurllnpqmqolhllfgqtwvasgnmjikmnmjgfiPmhkkkkkkkkhkkkkkkkkkkjeYWXZcfhkkkkkkjgfhjjhjkkighhfddedbZVQKKKAAAIINNNPRTWXWVSPOMMLKKLLMNOPQQQQQPAOONMMLLKKKAJHHIJJIJJKKLNPQRRQQPONLKIIIIJLNOPQRSSRRRROMMMMMMMMKJIHHGGHIJIHGGHHJLOQRSRQOAAANONNMJHFEEEFGHIIHHGHIKMPRSTTSRQPPPONMLKIHGGFFFFFGHJKLLLLKJIHHHGGHHHHIIJJKKKKKKKKJJJJIIHHGGFFFFFFEEEEEEEAAAAAAIJKLLLMMMMLLLKJJIIHHHHHHHHHHHHHHHHHHHHHHHIIIIIIIJJJJJJJJJJJJKKKKLLLLKKKKKXYYWRNRYZPKKKPVedccejmidTWUNgijfZTZjloqqnkgiZmnnnmpw251vlVglqlwxvvsqopsvxxwtmoqshtuuupvtsurkkoogkswzzwrirsmdqqqty1vurdknpplpokgllefpsvvergmlkiklnmjhgjPnjkkkkkkkjgijjijkkkkkhbXUWaegikkkiiihfefgfefggedefeccdcbZWSOMLAAAIIOOOPRTVWVTQOMLKJJKLMNPQSSSSRQPAOONNMMLALLAJHGHHHHHIJKLMOQRRRQPONLJIHHIKNPQRSUUTSSRPMKJKLMMNMKIHGGFFGHHHFEEFGILORTTTSQOOPPQPONKHFEEEFGIJJIHHHJLORTUVVUSRQQPNMLKJJIHHGGFFGGHIJKKKKJIHHHHHHHHHHIIJJKKKKKJJKJJJJJIHHGGFFFFFEEEEEEEEEEFFFGHIJKLLLLLLLKKJIIHHHHHGGGGGGGGGGGGGGGGGHHHHIIIIIJJJKKKKKKKKKLLLMMMMMMMLLLLYZZWRNQYZPKKKPVdcbceimjeTVTOhkmhaVbkmprqnlhjQmonnmpw351ukOflqkvwuusqpqvxyywtmmorhtvuuuvutuskkoogksvzywsjrsmdqpqtz1wuqXkmoplpokglkeeosuuiqfmlkjklmmkihjPpkkkkkkkkigfedccehjkieZVTWafikkkheefeddddcbcccbbcccccccbZYVSQOAAAIIPOOPQTUVUSPMLKJIIJKMOQSUUUUSRPAOONNNNMAMMAKHFFGFFGHIJKMOQRRRQPONLJHHHILOQSTUWWVTSROKIHIKLMNMKIHGFFFFFGFEEEEFHKPSUVVUSQQRRRRQOLIFEEEFHJKKJIIIJMPSVWXXVTSRQPNLKKJJJIIHGGGGGHHIJJJJIHHGGHHHHHHHIIJJJKKKKGFHIJJJJIHHGGFFFFFEEEEEEEEEEEFFGHIJKKKLLLKKKJIIHHHGGGGGGGGGGGGGGGGGGGGGHHHHIIIIJJKKKLLLLLLLLMMNNNNNMLJIJLZaZXRNQXYQKKLQVccabdimjfXROSXbccdelrlSglprnkJbmmllouv0yudQdXXipw01zx0111234y0uqlrsqqruyyywclooXpomlnqssvvsssriqvxvvsqXqpnmmlmlihcffbXdjeirtttttllnjUdkQqkkkkkkkkifcZWVVXaehfbWTSVagkkkidabbcccbaZYYYYYYZabbbccbZZXWUOAAAIIQOOPQSUUUROLKJIHHIJLNQSUUUUTRPOOONNNNNANNALIGGGFFGHJKLMOQQQQPONMLIHHHILOQSTUWWVTSROJHGHJLMNMKIHGFFFFFFFEEEEGILQTUVVUSQQRSSRPOLIFEEEFHJLKKJJJKNQTVWWWVTRQPOMKJJJJJJIIHGGGGGHIIJIIIHGGGHHHHHHIIJJJJKKKIAAAAFGHHHHHGGFFFFFFEEEEEEEEFFFFGHIIJKKKKKKJJIIHHGGGGGFFFFFFFGGGGGGFFFGGGHHHIIIIJJKKKLLLLLLLLMMNNMLKIAAAAHabaWRNQXYRKKMRWcbabdimkhXSPSYbcccelrkRfkornkJbmmllouv0xudRdXXhowz1zy12x2323xztplrsqqrtwxxvdmqqYqpnmorssvurrsrjquxuvtrWqonmljmljicffbXdifirtuuutlknkVekarkkkkkkkkheZUQPPQUZecYURRUbikkkgaXXYZbbZXWVVUUVWWYZabbbaZaaZYOAAAIIQONOQRTUTROLKJIHGHJKMOQSTTSRQPOOONNNNOAPPANLIHHHHIJKLMNOPPPPONNMKIHHHJLNPQRTUVUSSQNJGGHIKLMLKIHGFFFFFGFEFGHIKNRTUVVTRPPQRRQNOLHFEEEFHJKKKKKKLNPSTUUUTRQONMKJIIIIJJIHHGGGGGHIIIIIHHGGHHHHHIIIIJJJJKKKAAAAAAAAEFFFFGGGFFFFFFEEFFFFGGGGHHIIJJJJJJJIIHHGGGGFFFFFFFFFFFGGGGFFFFGGGHHHIIIIJJJKKKKJJJIIIIIIIAAAAAAAAAbcaWRNQWYSLKOSWbaZbdhmljWSQTYbcbcelrkRfkornkJbmmmmpuvzxueUdXVhotz1zz23q3322wzsplrsqqqsvvvvdossarqonorssuuqqrrjquwuvtrXqomllknmkjdgfbWcheisuvvvtkjnkWfkoskkkkkkkjgdWPKKKKNVbZVRQQUbjkkkdXTTUXZaXVTSRQQSTUVXZabbaZbcdcOAAAIIRPNOPRTUTROLKJIHGGIJKMOQRRRQPPOOONNNOPQRRRQOLJIIJKLMMNNOOOOONMMLKJIIIJKMOPQRSTSSRPMJGGGIJLLLJIHHGFFFFGGGHIKLNQSUUUUSQOOOPPPONKHEEEEEGIJKKKLLMNPQRRSRRPONMKJIIIIIIJIHGGFFFGHIIIGEADGGHHHIIIIIJJJJKKKKIAAAAAAFGGGGGGGGGGGFFFGGGGHHHHHHIIIIJJJJJIIHHGGGFFFFFFFEEFFFFFFGGGGFFGGGHHHIIIIIIJJIIIHHGGGFGGGAAAAAAAAAAAddaWRNQWXTNNQTWaZZbdhllkJTQUYabbbdlrkRejnqnkJbmmmnqvuyxueYdXUgnoy10z33k4322vysokrsrpqruuuvequtbsrpoprssutqqrrjqtvtvtscpnlllmnnljegfaWbgdhsuwwwukinlXglnokkkkkkkkigbUPNNOSYdbXTRRTYeijhcYWWWYZZXWVVUTTUUVWYZaaaZZabbaOAAAIISPNNOQSTTQNLKJIGFGHIJKMNOPPPPPOOONNNOQSTTTTROLKKLMNNOOOOONNMMMLLKJIIJJKAAAAPQRRRQPMIGGGHJKKKJIIHHFFFFGHHJLMOQSUUUTTRPNMNOOOOMJGEEEEEFHJJKLMMNNOOPPPPONMLKJIHHHHIIIIHGFFFFGHIHFAAAAEGHHIIIIIJJJJKKKKKKAAAFGGHHHHHGGGGGGGGGGHHHIIIJJJJJJIIIIAAAAAAAAFFFFFFEEEEEEEFFFFGGGGFGGGGHHHIIIIIIHHHGGFEAAAAAAAAAAAAAAAAAAeebWRNQVXUPPSUWaYYbdhlmmJTRUZababdlrkQeinqmkJbmmnoivuyxufbeXUgnny10044h4421vxrokrsrpqrttsufswvdtsqopstsuspprrkqtusuttkpnlklmnnmkegfaVafehsvxxxukhmlZhlllkkkkkkkkkjfaVTSTXbfdZVTSTVadedbaZYYYZYYXXXWWVWWWXYZZZZZYYZZZOAAAIITPMMOQSTSQNLKJIGFFGHHIKLMNNOOPPOONNNOQTVVVVUQNLMMOPPPPPONMMLLLKKJJJJJJKKLLMNOPQQPOLIGGGHIJKJJIIIHGFFGGHJLOPQSUVVTTSQNMLMMNNNLIGEEEEEFHIJKLNNNNNNNMMMMLKJIHGGGGHHIIIHGFFEFGHIFAAAAAAGHIIIIJJJJKKKKKKKKIHHIIJJIIIHHGGGGGGHHHIIJJKKKKKKKJJIIIIHHHGFFEEEEEEEEEEEEEEEFFFGGGGGGGGHHHIIIIIIHGGFEDAAAAAAAAAAAAAAAAAAAAffbWROPVXVRRUVXZXYbdhlnoJTSVZabaadkrkQdhmqmkMbmoopgjuxwufeeXTemqy10u55i5421uwqnkrtrppqssruguxxeuurpqststsooqrkqttruutspmkklmoomlfhfaUZehhsvxyyujgmmailkiikkkkkkkkkjfbYXZbegfbXUTSSVYYZabcbaZYYYYZZZYYXXXYYZZZYYXXXXXOAAAIITPMMNPRSSQNLKJIGFFFGGHIKLLMNOPPOONNNPRUWXXXWSOMNOPQQQQPOMLLKKKKKJJJKKKJJKKKLMOPPPNKIGGGGIJJJJIIJIHGGGHILOQSTUWWVTSPAJIJKLMMMKIFEEEEEEGHIKMNOONMLLKKKKJIHGGFFFGGHHIIHGFEEFFHIFAAAAAAEHIIJJJJJKKKKKKKKKKKJJJJJIIIHHGGGGHHHIIJKKLLLMLLLLKJIIHHHGGFEEEEEEEEEEEEEEEEEFFFGGGGGGGGHHIIIIIIHGFEDAAAAAAAAAAAAAAAAAAAAAAeeaVRNPVXWSTVXXZWYbdhmopJNSKSbbUSNTZflsvnfTRNginsuqeyvpmiaXghhnppjpl0rd431wtpmkjlnopqomkelquvwvvutrqrstttsssvy0110ysvtmjpqsqmjggggZfhknsuuxzyytmgdkrulngegjkkkkkkkkkhdcegiigdZWURPQSTVZdfecaYXYabccbaZZZZZZYYXXWWWWVOAAAIISOMMNPRSRQOMLKJHGFGGHHIKLLMNOPPPPPOOQSUWWWWVSOMNOPQQQQPNLKJJJJJJJJKKLLKKKKKLMNOPOMKAGGGHIKKKJJJJIIHIIJKMPRSTUVVTRAAAAAAHKLLLKHFEEEEEEGHIJKMMMLKKJJJJJJIHHGGGGGGGHHHGFFEEEFGHFAAAAAAAIIIJJJJJKKKKKKKKKKJJJJJIIIIHHHHHHHHHHHIIJMNNNNNMLLKIIHGGFFEEEEEEEEEEEEEEEEEEFFFGGGGGGGGHHIIIIIHGFEDAAAAAAAAAAAAAAAAAAAAAAAeeaVQNPUXXUVXYYYWXbeimpqJMRKRbaTRNTZflrvneSQUgintvzdyvpmjbYhhgnpqkqp1rc320vtpnlkloopqpmlflptuutttsrrrttutsstwz010zxrutnkqrsqliefffZfhlosuuxzyytnhekqtkldbdgjkkkkkkkkkihjkkkifbXVRMMNORXehgeaYXYbdeeedbaaaZYYXXWWVUUUOAAAIIQOMMNPQRRQONMMKJHHHIIIKLMMNOOPQQQRQQRTUVUUUTQNMMOPPQQPOMKJIHHIIIIJKLMMLLLLLMMNOONLJAGGGIJLMLKJJIIIJKLLNOQRRRSTTRAAAAAAAAIKLKJHFEEEEEFGHHIJKKKKJIIAIIJJIIHHHHHHHHHHGFFEEEEFGHGAAAAAAAIIJJJJJJKKKKKKJJJJJJJIIIIIHHHHHHHGEAAAAAAANOOONNMLKIHGGFFEEEEEEEEEEEEEEEEEEFFEEFGGGGGGHHHIIIIHGFEDAAAAAAAAAAAAAAAAAAAAAAAAedZUPNPUXYWXZZYYVXceinqrJMRKQaaSQMSYflqvmeQPZfiotw3kzvqmjdZiiioqqlry1rc21zusqommmppqrpnmflpsssrrrrrssuuvutstwz01zywrutnlqrspkgddefYfhlosuuxyyzupjglqsjkcbcefhikkkkkkkjikkkkkhcXVSPQSTVZegfdaYXZbdedcaYXXXXXYYYYYXWVVOAAAIIPNMNNOPQQQPONNMLJIJJJKLMNNOOPQQRSSSSTUUUTSSRPAAAAOPPPONLJIHGGHHHIJKMNNMMMMMMNNNNMLIAFGHJLAAAAAAAAJLMNOPQRRQQRRRPAAAAAAAAHKKKJHGFFFFFFGHHHIIJJIIHHAIIIIIIIIIIIIIHGGFFEEEEEFGHIHAAAAAGIJJJJJJJKKKJJJJJJJIIIIIIIHHHHHHIIGFAAAAAAAMOOONNMLJAAAAAAAAAEEEEEEEEEEEEFFFGGEFGGHHHHHHHHHIHGFFEDAAAAAAAAAAAAAAAAAAAAAACCDedYTPNPUXZYZbaZXUXcfjorrJMRKQZZSPLSYelqwmeJPYfiouy4x0vqnjgZjmmoqrmsz2rb10ytsqpnnnlqqrqomgloqrqpppqsstuvvutttx000yxwqrtnmrrspkfbcdeYehlosuuxyyzvqlhlpsikcbbbcdeghjjkkkjjkkkkkjdYUTSUWXYbdedcaYXZacdcZWUTTUVXXYaaaZYXVOAAAIINNNNNOPQQQPPOONMLKKKKLMNNOOPQQRSUUVUVVUTRQPONMLMMNOPONMJIHGFFGGHHJLNNOONNNNNNNNNMKHAFFHJMOOONLJIIKNPQRRSSRQPPPPOKAAAAAAAIKJJIHGGGGFFGHHHHHHIIIHHHAHHIIIIIJJKKJJIHGFEEEEEEFFGHIIIEFIJJJJJJJJJJJJJJJIIIIIHHHHHHHHHIIIIJJIHGAAAAKOOOONNMKJIHGFFEEEEEEEEEEFFFFFGGGHHIIIIIIIIIHGGFFFFEEDDDDCAAAAAAAAAAAAAAAACDEEFFFZcXSONPUXaabdbZXUXcfjossJMRKPYYRPLRXelrwmdJOYfiovz650vqnkgajnoprrnt12ra0zxssrqpoogqrrqonhlnpponmoqstuvwwvptux000yxvqmtomssspjeabcdYeimpsuuxyyzwrnilprhjcbaZZZaacdfgijjkkkkkkkeYUUVYbccdddcbZYYZaccaXTRQQRTWXZbcccbZWOAAAIILMNNNOOPPPQQPPPONLLLLMNOOPPQQQRTVWWWWWURPONMLLLLMNOOONLIHGFFFFFGHJLNOPPOOOOONNNMLJGAFFHKNPQPOLJIILORSTUUTRPOOONMLIAAAAAIJKJJIHHHHHGGGHHHGGHHHHHHHAHHHHIIJKLLLLKJHGEEEEEEEEFGHIIIIJJJJJJJJJJAJJJIIIIHHHHHGGAGHHHHIIJJJKKLKJJAAMOONNNMLKJHGFFEEEEEEEEEFFGGGGHHIIIJJJKKKKKKJIHGFEDDDDDDDDDDCAAAAAAAADDEEFFGGGGGGGXbWRNNOUXbbdecaXTXdgkpttJMLKUVOMMKQejnrmfZJYbfjtzuy4xnnpppnlkijjklrvvvbwmpoomqqrsfvtrnkfhosutqncklnnrvy0zqrv6762yvnrkrrvy0zrjZWacWeikmmmmmqvy1xpllqrgjgbbZWWWVVWYacfhjkkkkkkkfYUVYdfggfdbaZZYYZabcZUQONNPSVXZdeeedaXOAAAHILNOOOOOPPPQQQQPONMLLMNOPPQQQQQRTVXXXXWTQONMLKKKLLMNONMKIGGFFFFFGHJMOPPPPOOOOONNMLJGAFFILNPQQOMJIILPSUUVVTQONNMLKKKKIJKKKKJJIIHHIIIHHHHHHHGHHIHHHHAHGHHIJKLNNNNMKIGFEEEEEEFFGHIIIJJKKKKJJJJJAJJIIIHHHGGGGGGAGGGHHIJKKKKLLMNMLLOONNNMMLJIHGFFEEEEEEEEFGGHHHIIJJKKKLLLLLLLLKKIHFEDAACCCDDDDDDEEEEFFGGHHHHHHHHHHHHYaVQNNPUXccdfdaXUYdhmrutJMLKVWPNNKRfjotogaJYbfjsyux2wmnoppomljkkkmswvvermonolpqqrctsqmkfipsuspnbjlmnrvz00orv6762yvosossvz00sjZVZcVdikmmmmmrvz1xrllqrhkhbbYUSSRQQTWYcgjkkkkkkkgYUWchkkkhcZZYYYYZabbXSNLKKMQUWaegggfcYOAAAIINOPPPPPPPPPPQPPOMLKLMNPQRRRRQPQSUVWVVTSPNMLKKKKLLMMNNMKIHHFFAGGHIKMNOPOONNNNNNNNMKHAFGIKNPQPOLJIJLPSTUUUSQNMMLKKJJJKKKKKJIGHIIIJJJJIIIIIIIJJKJJIIHHHHHIKLNPPPPONLIHGFEEEFFGHIIJJJKKKKKKKKKKAJJIIHHGGFFFFFFAFFGHIJKKLLLMMNNNOOONNNMMLKJIGFFEEEEEEEFFGHHIIIJKKLLMMMMMNNMMMMLKIGEDAAAACCCDDEFFGGHIJJJJJJIIIIIHHHHaZTPMNPUXcdegebXUYeintvsJMMKVWPOOKRfkpspibJZbeirxtw1ukmopqonmjkklmtwvuiklnmnlpqpqbsrolkgjpstspmbiklmrwz00nrv6762yvotttswz11tkYVZbVdiklmmmnrvz2ytmmrsilhccZWUTSQQSVXaehkkkkkkkfYUVYbefffecbaYXXYZbcZUQNMMORUWZceeedaYOAAAIIPQRRRQQPPPPPPPONLKJKLOQRSSSRPPPQSTTUTQRONMLKKKKKLLMMMLKIIIHGAHIIJKMNOONNMMLMMNOONLJAGGIKMOPONLJIJLPRSTTSROMLLKKJJJIIJJJJIIFAIJKKKKKJIIIIJKLMMMLKJIHHHIJLNQRRSRRPNLJHGFFFFGHIAJJJKKKKKKKKKKKAKJIIHHGFFEEEEEEFFGGIJKLLMMMNNOOOONNNMMLLKIHGFEEEEEEEFFGHIIJJKKLLMNNNOOOOOOONNMLJHFCAAAAAACDDFGHIJKKKKKKKKKJJJIIIIIaYSNLNPVXddfhebXUYeipuwsJMMKVWQOPLSfkqqqjbJZbehrwsv0tjlnpqpnmklklntxvunjkmlmkpqppeqqnkkgkqstrolahjkmqw010mru6762yvpuuttwz22ukYUYaQchjlmmmnrwz2yumnstiliddaXVVTRQSUVYcfhkkkkkidYVUUWYZbdffebYWWXZbcaWSQPPQSVWYabbbbZXOAAAIISTTTSSQPPOOOOONLJIIJLORTUTTRPONOQRRSQMOOMMLKJKKKKLLMMLKJJJIIAJJKKLMNONMLLKKLMNOPOMKHGGIKMNONMLJJJLOQSSSRQNMLKKJJJIHHHHHHHHAAGKLLLLLKJIIJKMNOOONLKIIHIJKMPRTTTRTSQNLJHGFFGHIJAKKKKKKKKKKKKKKAKJJIHGFFEEAAAAAAAAGIJLLMMNNNOOOOONNMMMLKJIHGFEEEEEEEFGHIIJJKKLMMNOOOPPPPPPOONMLKIFAAAAAAAACAAAAAKKLLLLLLLLKKJJJJIIZWRMLNQVYeeghfcXUZfjqwxsJMNKWWRPQLSglqmskcJZbehqwsuzsiknpqqonkllmnuywutpjlklkppoolpomjkhlqssrnlahiklqw110iru6862yvquvuux023wlYTXaPchhlmmmnrw03zunnttjmidecZXWUSQRTUWadfhjkkifbXVSQQSTWcgigdYVUWYbdbYVTSSSUWWXYZZZYXWOAAAIIUVVVUTRQPOOOONMKIHHILORUVVTRONMNOPPQPPONMLKKJKKKKKLLLKKJAKJJAKLLLMNNNMLKJJJKLNPQPOLIHHIJLMNMLKJJKLOQRRRQOMLKJJIIJIGFFGGGGHIIKLMMNMMLJJIJLNPQQPOMKIIIIJLNQSUUUUUTRPNKIHGGGIJKALLLLLLLLLLLLLLLLKJIHGFEEEEEEEEEFFGIJLMMMNNNOOOONNMMLLKKJHGFFEEEEEEFFGHIJJKKLLMNOOOPPPPPPPOONMLJIHGFFFFFFFGHIJJKKLLLLLLLLLKKKJJJJJYVPLKNQVYefgigcYUZfksyysKMNKWXRQRMTglrgtldJZadgpvrtxqhjmprqpolmlmouywttsikjkjppnnpnnlfjhmrssqnkZgijlqx120aru6862ywqvwvux034xmYTWZRbgVlmmmnsw03zvnotukniegdbYXWSQRSSUYbddeffebZXWRMLMNRahkieZUTVYbddaYVUUUVWWWWXXWWWWOAAAIIWWWWVUSQPOONNNLJHGGHKOSVWWURAMLLMNOOONMMLLKJJKKAKKKKKKKKALLLLMMMMNNNNMKJIIIJLNPQQPMJHHIJKLMLLKKJKLNPQQQPNLKJJIIIIHFEEFFFGHIJKLMNNNNLKJIJMOQRRQOMKIIIIKLNQSUUUUUTSPNLJIHGHJKLMMMLLLMMMMMMMMMMMLJIHGFEEEEEEEEEFFGIJLLMMMNNNNNNMMMLLAKJIHGFFEEEEEEFGGHIJJKKLLMNNOOOOOOOOOOONMLJIHGFFFFFGGGHIJJKKKKKLLLLLKKKKJJJJJXUOKKORWZffgjgdYUaglt00rKOTSRQKQTVhsttTvrkLjjjknpnuxyyuqeSloqqnkcgqvtqokWhgkpuvwvvwurguqxtnjkigbknqsrqpnnPjrvxrxxz321zxvvnsxvqidZObcJikmkkmkilqw1xslebUbhfcaZXTQQRRSWZbaZaaZYXXWQKKKKMYjkkfZTRTXbeedaYXXXXXWVUUUUUVVOAAAIIWWWWVUSQPOONNMLKIHHILPSVWVTQALKLMNOPONMLLLKKLMMALKKKKKKLAMNNNNNNOOONNMKJIIIJLNQRQPMJHGHIKLLLLKKJKLNOOPOONMLKKJJJJHGFFFFGHIJKLMNOONNMKJJKLNPPPPNLJIHIIKLNPRSSSSSSQPNLJIHHIJKLMMMLMMMNNNNNNNNNMLKIHGFEEEEEEEFFFGHIJKLLMMMMMMMMLLLKKAJIIHGFFEEEEEFFGHGFAAAGHIIJKLLMMNNNNNNNMLKJIHGGFFFFGGGHHIJJJKKKKKKKKKKJJJJJJIWTNKLPTYafegigdZVagmv21rKOSRPNKPUVhsttSprlPkklmopZuwxwtqfSlnppnkcgqvtqnkWhglquvwvvwurZuqytokkjhcmorsqpomnPjqsvqvwy310zxsvhsxwrjeaPcdJjlnlkmjikqw1xkledJcgebYXVTSTVVWYbcbcccbaZYXSMKKMQZikjfZUTWaeghgecaaZYXXWVVVVVVVOAAAIIUVVVVUTRQPONNMMKJJKLNQSUUUSPAKKLMOQRQPNMLKKLNOPANLKKJKKMAOPPPPPPPPPOONLKJIJKLOQQQOLIGGGHJKLLKKKJKKLMNNNONNMMLLKKJIHHHHHIJKKLLMNNONNMLKJKLMNNNMLJIHHHIJLMOPQQQQQPONMKJIHHIJKLLLLLMMNOOOOOMKAAKMKIHGFEEEEEFFFFGGHIJKKLLLLLLLLLKKKKJAIIHGFFFEEEEFFFEDAAAAAAAAAAAAAAAAKMMMMMLKJIHHGGGFFGGGGHHIIIJJJJJJJJJJJJJJIIIIWSNKMRVabgegiheZWbgnw32rKNRQNLKPUVhtttSirlSmmmopqStvvuspfTlnopnkcgquspnkWhhlqvwwvvvuqTuqyupklkidnpssqcnmmPjqYuouvx20zywpvZsxwskfbQdeJlnolkljikqv1xYmfeJdgdZWVUTUXZZabccdeefedbaZVQOPQTagjheaWVZdhjkkigedcaYXXWWWVVVUOAAAIISTTUUUTSRQPONMMMLMMNPRSTTSQNAJJLNQSTTROMKKLNPRSRPNLJJKLNPQRRRQQQRRQPPOMLKJJKMOQQPNKGFFFHJKLLKKJJJKKLMMMNOOONNNMLKJJJJJJKLLLLMNNNNNNMLKKKKKKKKJIHGGGGHJLMNNNNNNNNMLKKJIIIIJKKALLLMNOPQOAAAAAAAAJIHGFEEEEFFFGGGHHIJJKKKKKKKKKKJJJJIAIHGGFFFFFFFFFDAAAAAAAAAAAAAAAAAAAJLLLLKJJIHHGGGGGGGGGGHHHIIIIIIIIIIIIIIIIIIIVRMKNSXbcgefiheaXbhnx53rKNQOLKKPUVittsRcrkUnoopqrTtttsrpgUlmnonlcgqjspnjWihmrvwwvvvtqRuqzvpllljeoqssqRllmPjpTsntux10zywouSsxxtmgcRefKmoplkljhkpv0xUmggJdgcYUTTTWaddddddeghhgfdcaYUTTUWbfhgdaXXbgjkkkkjhgebYXXXXXWVVUOAAAIIQRSSTUUTSRPONMMNNOPQRRSSSQOMAJJLOSUVVTAAAAAASUVTROLJJJLOQSTTTSRRSSSRQPOMLKKLNOQQPNJFFFFGIKLLKKJJJJJKKLLNOPPPPPNMLLKKLLLMNNNMNNNNNNNMMLKKJIHAAAAAAAAAAJKLLLLLLLLKKJJJJIIIIJJKAKKLMNPOAAAAAAAAAAAHHGFFEEFFFGGGHHHIJJJKKKKKKJJJJIIIIAHHGFFFFFFFFFDAAAAAAAAAAAAAAAAAAAAAKKKKJJIHHHGGGGGGGGGGGHHHHHIIIIIIIIIIIIIIIIURLKOTZdchefihfbXchoz74qKMPNKKKOUWitusRZrbWppprrrTssrqpphVlmmomlcgqcrpmjWiimrvwwvvvtpRurzvqlmmkgprtsqOkkmPjpSqmstw0zyxwnuPrxxunhdSegLopplkljhjpu0xUmhhJefbWTRRTYdhhhfeegijjjifdcaZXXYZcefedbZZejkkkkkkkjhdZXYYYYXWVUOAAAIIOQRRSTUUTSQONMNNPQRSSSSRQPNKAIJLPTWXXUQMJJLPUXXWTPLJIJMPSTUVUTSSTUTRQQONMLLMNPQQPMIFFFFFIKLLKKJJJJIJJKLMOQRRRQPNMLMMMMNOPOONNOONNNNMMLLKIHFFFEEEEFFGHJKLLKKJJJJJIIIIIIJJJJJJAJKKMOMAAAAAAAAAAAAIHGFFEFFFGGGHHHHIIJJJJJJJJJJIIIIIHHHGGFFFFFFFFEAAAAAAAAAAAAAAAAAAAAAIKKJJJIIHHHGGGGGGGGGGGGHHHHHHHHHHHHHIIIIHII";var L="0000000000b80000be0000c40000cb0000d10000d80000de0000e50000eb0000f20000f80000ff000bff0016ff0022ff002dff0039ff0044ff0050ff005bff0067ff0072ff007eff0089ff0095ff00a0ff00acff00b7ff00c3ff00ceff00daff00e6ff00f1ff00fdff00fffa00fff500ffef00ffe900ffe400ffde00ffd800ffd200ffcd00ffc700ffc100ffbb00ffb600ffb000ffaa00ffa400ff9f00ff9900ff9300ff8e00ff8800ff8200ff7c00ff7700ff7100ff6b00ff6500ff5f00ff5a";var c=document.getElementById("cv");var g=c.getContext("2d");var im=g.createImageData(520,450);var p=im.data;var A="ABCDEFGHIJKLMNOPQRSTUVWXYZabcdefghijklmnopqrstuvwxyz0123456789+/";var M={};for(var i=0;i<64;i++)M[A.charCodeAt(i)]=i;var R=[],G=[],B=[];for(var i=0;i<64;i++){R.push(parseInt(L.substr(i*6,2),16));G.push(parseInt(L.substr(i*6+2,2),16));B.push(parseInt(L.substr(i*6+4,2),16));}for(var k=0;k<234000;k++){var v=M[D.charCodeAt(k)];var o=k*4;p[o]=R[v];p[o+1]=G[v];p[o+2]=B[v];p[o+3]=255;}g.putImageData(im,0,0);})();
</script>
</body></html>
